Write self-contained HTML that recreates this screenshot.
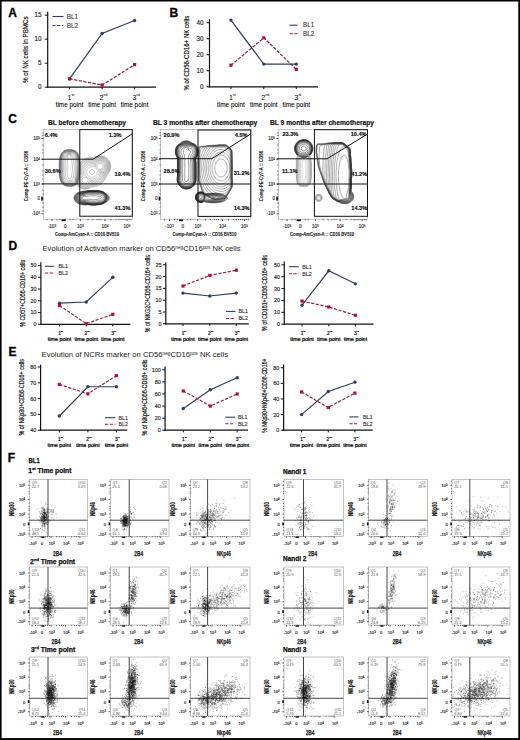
<!DOCTYPE html><html><head><meta charset="utf-8"><style>html,body{margin:0;padding:0;background:#fff;width:520px;height:740px;overflow:hidden}svg{display:block;font-family:"Liberation Sans",sans-serif}</style></head><body>
<svg width="520" height="740" viewBox="0 0 520 740">
<rect width="520" height="740" fill="#fff"/>
<text x="8.2" y="16.5" font-size="12" stroke="#000" stroke-width="0.3" font-weight="bold">A</text>
<text x="169.6" y="17.1" font-size="12" stroke="#000" stroke-width="0.3" font-weight="bold">B</text>
<text x="8.2" y="123.3" font-size="12" stroke="#000" stroke-width="0.3" font-weight="bold">C</text>
<text x="8.6" y="249.6" font-size="12" stroke="#000" stroke-width="0.3" font-weight="bold">D</text>
<text x="8.6" y="355.6" font-size="12" stroke="#000" stroke-width="0.3" font-weight="bold">E</text>
<text x="7.8" y="462.2" font-size="12" stroke="#000" stroke-width="0.3" font-weight="bold">F</text>
<line x1="47.7" y1="11.8" x2="47.7" y2="87.8" stroke="#111" stroke-width="1.2"/>
<line x1="47.1" y1="87.2" x2="156" y2="87.2" stroke="#111" stroke-width="1.2"/>
<line x1="44.8" y1="15.2" x2="47.7" y2="15.2" stroke="#111" stroke-width="1"/>
<text x="41.4" y="17.47" font-size="6.3" stroke="#222" stroke-width="0.15" text-anchor="end" fill="#222">15</text>
<line x1="44.8" y1="39.2" x2="47.7" y2="39.2" stroke="#111" stroke-width="1"/>
<text x="41.4" y="41.47" font-size="6.3" stroke="#222" stroke-width="0.15" text-anchor="end" fill="#222">10</text>
<line x1="44.8" y1="63.2" x2="47.7" y2="63.2" stroke="#111" stroke-width="1"/>
<text x="41.4" y="65.47" font-size="6.3" stroke="#222" stroke-width="0.15" text-anchor="end" fill="#222">5</text>
<line x1="44.8" y1="87.2" x2="47.7" y2="87.2" stroke="#111" stroke-width="1"/>
<text x="41.4" y="89.47" font-size="6.3" stroke="#222" stroke-width="0.15" text-anchor="end" fill="#222">0</text>
<line x1="69.5" y1="87.2" x2="69.5" y2="89.4" stroke="#111" stroke-width="1"/>
<text x="70.94" y="99.5" font-size="7.2" stroke="#111" stroke-width="0.05" text-anchor="middle" fill="#111">1<tspan font-size="3.6" baseline-shift="3.96">st</tspan></text>
<text x="69.5" y="106.5" font-size="7" stroke="#000" stroke-width="0.08" text-anchor="middle" textLength="27.7" lengthAdjust="spacingAndGlyphs">time point</text>
<line x1="102.1" y1="87.2" x2="102.1" y2="89.4" stroke="#111" stroke-width="1"/>
<text x="103.54" y="99.5" font-size="7.2" stroke="#111" stroke-width="0.05" text-anchor="middle" fill="#111">2<tspan font-size="3.6" baseline-shift="3.96">nd</tspan></text>
<text x="102.1" y="106.5" font-size="7" stroke="#000" stroke-width="0.08" text-anchor="middle" textLength="27.7" lengthAdjust="spacingAndGlyphs">time point</text>
<line x1="134.6" y1="87.2" x2="134.6" y2="89.4" stroke="#111" stroke-width="1"/>
<text x="136.04" y="99.5" font-size="7.2" stroke="#111" stroke-width="0.05" text-anchor="middle" fill="#111">3<tspan font-size="3.6" baseline-shift="3.96">rd</tspan></text>
<text x="134.6" y="106.5" font-size="7" stroke="#000" stroke-width="0.08" text-anchor="middle" textLength="27.7" lengthAdjust="spacingAndGlyphs">time point</text>
<polyline points="69.5,78.8 102.1,85.04 134.6,64.64" fill="none" stroke="#9a1c42" stroke-width="1.25" stroke-dasharray="3.2 1.5"/>
<polyline points="69.5,78.8 102.1,33.44 134.6,20.48" fill="none" stroke="#2e3d60" stroke-width="1.25"/>
<circle cx="69.5" cy="78.8" r="1.7" fill="#2e3d60"/>
<circle cx="102.1" cy="33.44" r="1.7" fill="#2e3d60"/>
<circle cx="134.6" cy="20.48" r="1.7" fill="#2e3d60"/>
<rect x="67.9" y="77.2" width="3.2" height="3.2" fill="#a8143e"/>
<rect x="100.5" y="83.44" width="3.2" height="3.2" fill="#a8143e"/>
<rect x="133" y="63.04" width="3.2" height="3.2" fill="#a8143e"/>
<line x1="52.5" y1="16.5" x2="63.5" y2="16.5" stroke="#2e3d60" stroke-width="1.1"/>
<line x1="52.5" y1="25.5" x2="63.5" y2="25.5" stroke="#9a1c42" stroke-width="1.1" stroke-dasharray="3.2 1.5"/>
<text x="66.7" y="18.77" font-size="6.3" stroke="#333" stroke-width="0.12" fill="#333">BL1</text>
<text x="66.7" y="27.77" font-size="6.3" stroke="#333" stroke-width="0.12" fill="#333">BL2</text>
<text x="27.95" y="49.7" font-size="6.8" stroke="#111" stroke-width="0.18" text-anchor="middle" fill="#111" transform="rotate(-90 27.95 49.7)" textLength="66.7" lengthAdjust="spacingAndGlyphs">% of NK cells in PBMCs</text>
<line x1="209.5" y1="19.2" x2="209.5" y2="87.4" stroke="#111" stroke-width="1.2"/>
<line x1="208.9" y1="86.8" x2="318" y2="86.8" stroke="#111" stroke-width="1.2"/>
<line x1="206.6" y1="22.8" x2="209.5" y2="22.8" stroke="#111" stroke-width="1"/>
<text x="203.5" y="25.07" font-size="6.3" stroke="#222" stroke-width="0.15" text-anchor="end" fill="#222">40</text>
<line x1="206.6" y1="38.8" x2="209.5" y2="38.8" stroke="#111" stroke-width="1"/>
<text x="203.5" y="41.07" font-size="6.3" stroke="#222" stroke-width="0.15" text-anchor="end" fill="#222">30</text>
<line x1="206.6" y1="54.8" x2="209.5" y2="54.8" stroke="#111" stroke-width="1"/>
<text x="203.5" y="57.07" font-size="6.3" stroke="#222" stroke-width="0.15" text-anchor="end" fill="#222">20</text>
<line x1="206.6" y1="70.8" x2="209.5" y2="70.8" stroke="#111" stroke-width="1"/>
<text x="203.5" y="73.07" font-size="6.3" stroke="#222" stroke-width="0.15" text-anchor="end" fill="#222">10</text>
<line x1="206.6" y1="86.8" x2="209.5" y2="86.8" stroke="#111" stroke-width="1"/>
<text x="203.5" y="89.07" font-size="6.3" stroke="#222" stroke-width="0.15" text-anchor="end" fill="#222">0</text>
<line x1="230.9" y1="86.8" x2="230.9" y2="89" stroke="#111" stroke-width="1"/>
<text x="232.34" y="99.5" font-size="7.2" stroke="#111" stroke-width="0.05" text-anchor="middle" fill="#111">1<tspan font-size="3.6" baseline-shift="3.96">st</tspan></text>
<text x="230.9" y="106.5" font-size="7" stroke="#000" stroke-width="0.08" text-anchor="middle" textLength="27.7" lengthAdjust="spacingAndGlyphs">time point</text>
<line x1="263.8" y1="86.8" x2="263.8" y2="89" stroke="#111" stroke-width="1"/>
<text x="265.24" y="99.5" font-size="7.2" stroke="#111" stroke-width="0.05" text-anchor="middle" fill="#111">2<tspan font-size="3.6" baseline-shift="3.96">nd</tspan></text>
<text x="263.8" y="106.5" font-size="7" stroke="#000" stroke-width="0.08" text-anchor="middle" textLength="27.7" lengthAdjust="spacingAndGlyphs">time point</text>
<line x1="296.3" y1="86.8" x2="296.3" y2="89" stroke="#111" stroke-width="1"/>
<text x="297.74" y="99.5" font-size="7.2" stroke="#111" stroke-width="0.05" text-anchor="middle" fill="#111">3<tspan font-size="3.6" baseline-shift="3.96">rd</tspan></text>
<text x="296.3" y="106.5" font-size="7" stroke="#000" stroke-width="0.08" text-anchor="middle" textLength="27.7" lengthAdjust="spacingAndGlyphs">time point</text>
<polyline points="230.9,65.2 263.8,37.84 296.3,69.36" fill="none" stroke="#9a1c42" stroke-width="1.25" stroke-dasharray="3.2 1.5"/>
<polyline points="230.9,20.08 263.8,64.08 296.3,64.08" fill="none" stroke="#2e3d60" stroke-width="1.25"/>
<circle cx="230.9" cy="20.08" r="1.7" fill="#2e3d60"/>
<circle cx="263.8" cy="64.08" r="1.7" fill="#2e3d60"/>
<circle cx="296.3" cy="64.08" r="1.7" fill="#2e3d60"/>
<rect x="229.3" y="63.6" width="3.2" height="3.2" fill="#a8143e"/>
<rect x="262.2" y="36.24" width="3.2" height="3.2" fill="#a8143e"/>
<rect x="294.7" y="67.76" width="3.2" height="3.2" fill="#a8143e"/>
<line x1="289.5" y1="25.2" x2="297.5" y2="25.2" stroke="#2e3d60" stroke-width="1.1"/>
<line x1="289.5" y1="33.7" x2="297.5" y2="33.7" stroke="#9a1c42" stroke-width="1.1" stroke-dasharray="3.2 1.5"/>
<text x="303" y="27.47" font-size="6.3" stroke="#333" stroke-width="0.12" fill="#333">BL1</text>
<text x="303" y="35.97" font-size="6.3" stroke="#333" stroke-width="0.12" fill="#333">BL2</text>
<text x="188.65" y="53.1" font-size="6.8" stroke="#111" stroke-width="0.18" text-anchor="middle" fill="#111" transform="rotate(-90 188.65 53.1)" textLength="74.8" lengthAdjust="spacingAndGlyphs">% of CD56-CD16+ NK cells</text>
<text x="48" y="124.9" font-size="6.7" stroke="#111" stroke-width="0.18" font-weight="bold" fill="#111" textLength="78" lengthAdjust="spacingAndGlyphs">BL before chemotherapy</text>
<path d="M70.1 178.8 68.9 178.8 68.2 178.2 68.0 177.4 67.7 176.4 67.5 175.4 67.3 174.5 67.2 173.4 67.1 172.2 67.1 171.0 67.1 169.8 67.1 168.6 67.1 167.4 67.1 166.2 67.1 165.0 67.1 163.8 67.2 162.6 67.3 161.5 67.5 160.6 67.7 159.6 68.1 158.6 68.1 158.0 67.7 157.4 67.5 156.2 67.8 155.4 68.5 154.8 69.7 154.7 70.5 155.1 71.0 155.8 71.1 157.0 70.7 157.8 71.1 158.6 71.5 159.4 71.7 160.3 71.8 161.4 72.0 162.6 72.1 163.8 72.2 164.6 72.3 165.8 72.3 167.0 72.3 168.2 72.3 169.4 72.3 170.6 72.2 171.8 72.0 172.6 71.9 173.8 71.8 175.0 71.7 175.8 71.3 177.0 71.0 177.8 70.5 178.5zM70.9 180.3 69.7 180.4 68.5 180.3 67.7 180.1 66.9 179.6 66.4 179.0 66.1 178.2 65.8 177.0 65.6 176.2 65.4 175.0 65.2 174.2 65.1 173.0 65.1 171.8 65.1 170.6 65.1 169.4 65.1 168.2 65.1 167.0 65.1 165.8 65.1 164.6 65.1 163.4 65.2 162.2 65.3 161.3 65.5 160.2 65.7 159.3 66.0 158.2 66.2 157.4 66.6 156.6 66.9 155.5 67.3 154.8 68.1 154.2 68.9 153.9 70.1 154.0 70.9 154.4 71.4 155.0 71.9 155.8 72.5 156.6 72.9 157.2 73.3 158.2 73.5 159.0 73.7 160.1 73.8 161.0 73.9 162.2 74.1 163.4 74.2 164.2 74.3 165.4 74.3 166.6 74.3 167.8 74.3 169.0 74.3 170.2 74.2 171.4 74.1 172.3 74.0 173.4 73.9 174.6 73.7 175.8 73.6 176.6 73.3 177.8 73.0 178.6 72.5 179.4 72.1 179.8 71.2 180.2zM70.9 181.8 69.7 181.9 68.5 181.8 67.7 181.8 66.6 181.4 66.0 181.0 65.3 180.2 64.9 179.4 64.6 178.6 64.4 177.8 64.1 176.6 64.0 175.8 63.7 174.6 63.7 173.8 63.6 172.6 63.6 171.4 63.6 170.2 63.6 169.0 63.6 167.8 63.6 166.6 63.6 165.4 63.6 164.2 63.6 163.0 63.7 161.8 63.8 161.0 64.0 159.8 64.2 159.0 64.5 157.8 64.7 157.0 65.1 156.2 65.6 155.4 66.1 154.9 66.9 154.4 67.6 153.8 68.5 153.4 69.3 153.3 70.1 153.4 71.0 153.8 71.7 154.3 72.5 154.6 73.3 155.1 73.9 155.8 74.3 156.6 74.6 157.4 74.9 158.3 75.1 159.4 75.3 160.6 75.4 161.4 75.5 162.6 75.7 163.8 75.7 164.6 75.8 165.8 75.8 167.0 75.8 168.2 75.8 169.4 75.8 170.6 75.7 171.8 75.6 172.6 75.4 173.8 75.3 175.0 75.3 175.8 75.0 177.0 74.9 177.8 74.5 179.0 74.1 179.8 73.7 180.4 73.1 181.0 72.5 181.4 71.3 181.8zM72.5 182.7 71.3 182.9 70.1 183.0 68.9 183.0 67.7 182.9 66.5 182.6 65.7 182.2 65.1 181.8 64.5 181.1 64.1 180.4 63.7 179.4 63.4 178.6 63.2 177.8 63.0 176.6 62.8 175.8 62.6 174.6 62.5 173.4 62.5 172.2 62.5 171.0 62.5 169.8 62.5 168.6 62.5 167.4 62.5 166.2 62.5 165.0 62.5 163.8 62.5 162.6 62.6 161.4 62.8 160.2 63.0 159.4 63.2 158.2 63.4 157.4 63.7 156.6 64.1 155.6 64.5 154.9 65.1 154.2 65.7 153.8 66.5 153.4 67.7 153.1 68.5 152.9 69.7 152.8 70.6 153.0 71.7 153.1 72.7 153.4 73.5 153.8 74.1 154.3 74.7 155.0 75.2 155.8 75.6 156.6 75.8 157.4 76.1 158.6 76.3 159.4 76.4 160.6 76.5 161.6 76.6 162.6 76.8 163.8 76.9 165.0 76.9 166.2 76.9 167.4 76.9 168.6 76.9 169.8 76.9 171.0 76.8 172.2 76.6 173.4 76.5 174.4 76.4 175.4 76.3 176.6 76.1 177.4 75.8 178.6 75.6 179.4 75.2 180.2 74.7 181.0 74.1 181.7 73.5 182.2 72.7 182.6zM72.5 183.5 71.3 183.7 70.1 183.7 68.9 183.7 67.7 183.7 66.5 183.5 65.7 183.1 64.9 182.6 64.4 182.2 63.8 181.4 63.3 180.6 63.0 179.8 62.8 179.0 62.5 178.0 62.3 177.0 62.1 176.1 61.9 175.0 61.8 173.8 61.8 172.6 61.8 171.4 61.8 170.2 61.8 169.0 61.8 167.8 61.8 166.6 61.8 165.4 61.8 164.2 61.8 163.0 61.8 161.8 62.0 160.6 62.1 159.8 62.4 158.6 62.5 157.8 62.9 156.6 63.2 155.8 63.5 155.0 64.1 154.2 64.5 153.7 65.3 153.1 66.1 152.7 66.9 152.4 68.1 152.3 69.3 152.3 70.5 152.3 71.7 152.4 72.8 152.6 73.7 153.0 74.3 153.4 74.9 154.0 75.4 154.6 75.9 155.4 76.2 156.2 76.5 157.0 76.8 158.2 77.0 159.0 77.1 160.2 77.2 161.4 77.3 162.2 77.5 163.4 77.6 164.6 77.6 165.8 77.6 167.0 77.6 168.2 77.6 169.4 77.6 170.6 77.6 171.8 77.4 173.0 77.3 174.0 77.2 175.0 77.1 176.2 76.9 177.3 76.7 178.2 76.5 179.0 76.1 180.1 75.7 180.9 75.3 181.5 74.8 182.2 74.1 182.8 73.3 183.2 72.5 183.5zM70.5 184.2 69.3 184.2 68.3 184.2 67.3 184.1 66.1 183.9 65.3 183.5 64.5 183.0 64.1 182.6 63.4 181.8 63.0 181.0 62.6 180.2 62.3 179.4 62.1 178.6 61.8 177.4 61.7 176.6 61.4 175.4 61.3 174.2 61.3 173.4 61.3 172.2 61.3 171.0 61.3 169.8 61.3 168.6 61.3 167.4 61.3 166.2 61.3 165.0 61.3 163.8 61.3 162.6 61.3 161.8 61.4 160.6 61.7 159.4 61.8 158.6 62.1 157.4 62.3 156.6 62.6 155.8 63.0 155.0 63.4 154.2 64.1 153.4 64.5 153.0 65.3 152.5 66.1 152.1 67.3 151.9 68.3 151.8 69.3 151.8 70.5 151.8 71.3 151.8 72.5 152.0 73.3 152.2 74.1 152.6 74.9 153.2 75.5 153.8 76.0 154.6 76.5 155.4 76.8 156.2 77.1 157.0 77.3 158.0 77.5 159.0 77.7 160.2 77.7 161.0 77.8 162.2 78.0 163.4 78.1 164.6 78.1 165.4 78.1 166.6 78.1 167.8 78.1 169.0 78.1 170.2 78.1 171.2 78.1 172.2 77.9 173.4 77.7 174.6 77.7 175.4 77.6 176.6 77.3 177.8 77.2 178.6 76.9 179.5 76.5 180.5 76.1 181.3 75.7 181.9 75.1 182.6 74.5 183.1 73.7 183.6 72.9 183.9 71.7 184.2 70.7 184.2zM73.3 184.2 72.1 184.5 70.9 184.6 69.7 184.6 68.5 184.6 67.3 184.5 66.1 184.3 65.3 184.0 64.5 183.5 63.9 183.0 63.3 182.3 62.9 181.7 62.5 181.0 62.1 180.0 61.8 179.0 61.6 178.2 61.3 177.0 61.2 176.2 61.0 175.0 60.9 173.8 60.9 172.6 60.9 171.4 60.9 170.2 60.9 169.0 60.9 167.8 60.9 166.6 60.9 165.4 60.9 164.2 60.9 163.0 60.9 161.8 61.0 160.6 61.3 159.4 61.4 158.6 61.7 157.4 61.9 156.6 62.2 155.8 62.5 155.0 62.9 154.2 63.5 153.4 64.1 152.8 64.9 152.2 65.7 151.8 66.5 151.6 67.7 151.4 68.9 151.4 70.1 151.4 71.3 151.4 72.5 151.6 73.3 151.8 74.2 152.2 74.9 152.7 75.7 153.4 76.1 154.0 76.5 154.6 76.9 155.4 77.3 156.5 77.6 157.4 77.7 158.2 78.0 159.4 78.1 160.6 78.1 161.4 78.3 162.6 78.4 163.8 78.5 165.0 78.5 166.2 78.5 167.4 78.5 168.6 78.5 169.8 78.5 171.0 78.4 172.2 78.3 173.4 78.1 174.6 78.1 175.4 78.0 176.6 77.7 177.8 77.6 178.6 77.3 179.5 76.9 180.6 76.5 181.4 76.1 182.0 75.7 182.6 74.9 183.3 74.2 183.8 73.3 184.2zM72.9 184.7 71.7 184.9 70.5 184.9 69.3 184.9 68.1 184.9 66.9 184.8 66.0 184.6 65.1 184.2 64.4 183.8 63.7 183.2 63.1 182.6 62.6 181.8 62.2 181.0 61.8 180.2 61.6 179.4 61.3 178.3 61.1 177.4 60.9 176.4 60.7 175.4 60.6 174.2 60.6 173.0 60.6 171.8 60.6 170.6 60.6 169.4 60.6 168.2 60.6 167.0 60.6 165.8 60.6 164.6 60.6 163.4 60.6 162.2 60.7 161.0 60.9 159.8 61.0 159.0 61.3 157.8 61.5 157.0 61.7 156.2 62.1 155.2 62.5 154.3 62.9 153.7 63.5 153.0 64.1 152.4 64.9 151.9 65.7 151.5 66.5 151.3 67.7 151.1 68.9 151.1 70.1 151.1 71.3 151.1 72.5 151.2 73.3 151.4 74.1 151.8 74.9 152.3 75.7 153.0 76.1 153.5 76.6 154.2 77.0 155.0 77.4 155.8 77.7 156.7 78.0 157.8 78.1 158.6 78.3 159.8 78.4 161.0 78.5 161.9 78.7 163.0 78.8 164.2 78.8 165.4 78.8 166.6 78.8 167.8 78.8 169.0 78.8 170.2 78.8 171.4 78.7 172.6 78.5 173.8 78.4 174.6 78.4 175.8 78.2 177.0 78.1 177.8 77.8 179.0 77.5 179.8 77.2 180.6 76.8 181.4 76.4 182.2 75.7 183.0 75.3 183.4 74.5 184.0 73.7 184.4 72.9 184.7zM72.5 185.0 71.3 185.1 70.1 185.2 68.9 185.2 67.7 185.1 66.5 185.0 65.7 184.8 64.9 184.4 64.1 183.9 63.5 183.4 62.9 182.7 62.5 182.2 62.1 181.4 61.7 180.5 61.3 179.4 61.1 178.6 60.9 177.7 60.7 176.6 60.5 175.6 60.4 174.6 60.3 173.4 60.3 172.2 60.3 171.0 60.3 169.8 60.3 168.6 60.3 167.4 60.3 166.2 60.3 165.0 60.3 163.8 60.3 162.6 60.4 161.4 60.5 160.4 60.7 159.4 60.9 158.3 61.1 157.4 61.3 156.6 61.7 155.5 62.1 154.6 62.5 153.8 62.9 153.3 63.5 152.6 64.1 152.1 64.9 151.6 65.7 151.2 66.5 151.0 67.7 150.9 68.9 150.8 70.1 150.8 71.3 150.9 72.5 151.0 73.3 151.2 74.1 151.5 74.9 151.9 75.7 152.6 76.1 153.0 76.7 153.8 77.1 154.6 77.5 155.4 77.8 156.2 78.1 157.2 78.3 158.2 78.5 159.2 78.6 160.2 78.7 161.4 78.9 162.6 79.0 163.4 79.1 164.6 79.1 165.8 79.1 167.0 79.1 168.2 79.1 169.4 79.1 170.6 79.0 171.8 78.9 173.0 78.8 173.8 78.7 175.0 78.6 176.2 78.5 177.0 78.2 178.2 78.1 179.0 77.7 180.1 77.3 181.0 76.9 181.8 76.5 182.4 76.1 183.0 75.3 183.8 74.7 184.2 73.9 184.6 72.9 184.9zM73.3 185.1 72.1 185.3 70.9 185.4 69.7 185.4 68.5 185.4 67.3 185.3 66.1 185.2 65.3 184.9 64.5 184.5 63.7 183.9 63.2 183.4 62.5 182.6 62.1 182.0 61.7 181.1 61.3 180.2 61.1 179.4 60.9 178.6 60.6 177.4 60.4 176.6 60.2 175.4 60.1 174.2 60.1 173.0 60.1 171.8 60.1 170.6 60.1 169.4 60.1 168.2 60.1 167.0 60.1 165.8 60.1 164.6 60.1 163.4 60.1 162.2 60.2 161.0 60.4 159.8 60.5 159.0 60.8 157.8 61.0 157.0 61.3 155.9 61.6 155.0 62.0 154.2 62.5 153.4 62.9 152.9 63.6 152.2 64.1 151.8 64.9 151.3 65.7 151.0 66.9 150.7 68.1 150.6 69.3 150.6 70.5 150.6 71.7 150.7 72.9 150.8 73.7 151.1 74.5 151.4 75.3 151.9 76.0 152.6 76.5 153.2 76.9 153.8 77.4 154.6 77.8 155.4 78.1 156.3 78.4 157.4 78.6 158.2 78.8 159.4 78.9 160.6 78.9 161.4 79.1 162.6 79.2 163.8 79.3 165.0 79.3 166.2 79.3 167.4 79.3 168.6 79.3 169.8 79.3 171.0 79.2 172.2 79.1 173.4 78.9 174.6 78.9 175.4 78.8 176.6 78.6 177.8 78.4 178.6 78.1 179.7 77.8 180.6 77.4 181.4 76.9 182.2 76.5 182.8 76.0 183.4 75.3 184.1 74.5 184.6 73.7 184.9zM72.5 185.5 71.3 185.6 70.1 185.6 68.9 185.6 67.7 185.6 66.5 185.4 65.7 185.3 64.9 184.9 64.1 184.5 63.3 183.8 62.9 183.4 62.2 182.6 61.8 181.8 61.4 181.0 61.1 180.2 60.9 179.4 60.6 178.2 60.4 177.4 60.2 176.2 60.0 175.4 59.9 174.2 59.9 173.0 59.9 171.8 59.9 170.6 59.9 169.4 59.9 168.2 59.9 167.0 59.9 165.8 59.9 164.6 59.9 163.4 59.9 162.2 60.0 161.0 60.1 160.2 60.3 159.0 60.5 158.1 60.8 157.0 61.0 156.2 61.3 155.3 61.7 154.4 62.1 153.6 62.5 153.0 63.3 152.2 63.8 151.8 64.5 151.3 65.3 150.9 66.3 150.6 67.3 150.4 68.5 150.4 69.7 150.3 70.9 150.4 72.1 150.5 72.9 150.6 74.1 151.0 74.9 151.4 75.5 151.8 76.1 152.4 76.6 153.0 77.2 153.8 77.6 154.6 78.0 155.4 78.3 156.2 78.5 157.0 78.8 158.2 78.9 159.0 79.1 160.2 79.2 161.4 79.3 162.5 79.4 163.4 79.5 164.6 79.5 165.8 79.5 167.0 79.5 168.2 79.5 169.4 79.5 170.6 79.5 171.8 79.4 173.0 79.3 173.8 79.1 175.0 79.0 176.2 78.9 177.0 78.7 178.2 78.5 179.0 78.1 180.2 77.8 181.0 77.4 181.8 76.9 182.6 76.5 183.2 75.9 183.8 75.3 184.3 74.5 184.8 73.7 185.2 72.8 185.4zM73.3 185.5 72.1 185.7 70.9 185.8 69.7 185.8 68.5 185.8 67.3 185.7 66.1 185.6 65.3 185.3 64.5 184.9 63.7 184.4 63.0 183.8 62.5 183.2 62.0 182.6 61.6 181.8 61.2 181.0 60.9 180.1 60.6 179.0 60.4 178.2 60.1 177.0 60.0 176.2 59.8 175.0 59.7 173.8 59.7 172.6 59.7 171.4 59.7 170.2 59.7 169.0 59.7 167.8 59.7 166.6 59.7 165.4 59.7 164.2 59.7 163.0 59.8 161.8 59.8 160.6 60.0 159.4 60.2 158.6 60.5 157.4 60.7 156.6 60.9 155.8 61.3 154.8 61.7 154.0 62.1 153.3 62.6 152.6 63.3 151.9 64.0 151.4 64.7 151.0 65.6 150.6 66.5 150.4 67.7 150.2 68.5 150.1 69.7 150.1 70.5 150.2 71.7 150.3 72.9 150.4 73.7 150.6 74.5 151.0 75.3 151.4 76.1 152.1 76.6 152.6 77.2 153.4 77.6 154.2 78.0 155.0 78.4 155.8 78.6 156.6 78.9 157.8 79.0 158.6 79.2 159.8 79.3 161.0 79.4 161.8 79.6 163.0 79.6 164.2 79.7 165.4 79.7 166.6 79.7 167.8 79.7 169.0 79.7 170.2 79.7 171.4 79.6 172.6 79.5 173.8 79.3 174.8 79.2 175.8 79.1 177.0 78.9 178.0 78.7 179.0 78.5 179.8 78.1 180.8 77.7 181.6 77.3 182.4 76.9 183.0 76.2 183.8 75.7 184.3 74.9 184.8 74.1 185.2 73.3 185.5zM72.5 185.8 71.3 185.9 70.1 185.9 68.9 185.9 67.7 185.9 66.5 185.8 65.7 185.6 64.9 185.3 64.1 184.9 63.3 184.3 62.8 183.8 62.1 183.0 61.7 182.4 61.3 181.6 60.9 180.6 60.6 179.8 60.4 179.0 60.1 177.8 59.9 177.0 59.7 175.8 59.6 175.0 59.6 173.8 59.6 172.6 59.6 171.4 59.6 170.2 59.6 169.0 59.6 167.8 59.6 166.6 59.6 165.4 59.6 164.2 59.6 163.0 59.6 161.8 59.7 160.6 59.8 159.8 60.0 158.6 60.2 157.8 60.5 156.6 60.7 155.8 61.0 155.0 61.4 154.2 61.8 153.4 62.4 152.6 62.9 152.1 63.7 151.4 64.3 151.0 65.1 150.6 66.1 150.3 66.9 150.1 68.1 149.9 69.3 149.8 70.5 149.9 71.7 150.1 72.6 150.2 73.7 150.5 74.5 150.8 75.3 151.2 76.0 151.8 76.5 152.3 77.1 153.0 77.6 153.8 78.0 154.6 78.4 155.4 78.7 156.2 78.9 157.2 79.1 158.2 79.3 159.3 79.4 160.2 79.5 161.4 79.7 162.6 79.8 163.4 79.8 164.6 79.8 165.8 79.8 167.0 79.8 168.2 79.8 169.4 79.8 170.6 79.8 171.8 79.7 173.0 79.6 173.8 79.5 175.0 79.4 176.2 79.3 177.0 79.1 178.2 78.9 179.0 78.5 180.2 78.2 181.0 77.8 181.8 77.4 182.6 76.9 183.3 76.4 183.8 75.7 184.5 74.9 185.0 74.1 185.4 73.3 185.7 72.5 185.8zM73.3 185.8 72.1 186.0 70.9 186.1 69.7 186.1 68.5 186.1 67.3 186.1 66.1 185.9 65.3 185.7 64.5 185.3 63.7 184.8 63.0 184.2 62.5 183.7 61.9 183.0 61.4 182.2 61.0 181.4 60.7 180.6 60.5 179.8 60.1 178.6 59.9 177.8 59.7 176.6 59.6 175.8 59.4 174.6 59.4 173.4 59.4 172.2 59.4 171.0 59.4 169.8 59.4 168.6 59.4 167.4 59.4 166.2 59.4 165.0 59.4 163.8 59.4 162.6 59.4 161.4 59.6 160.2 59.7 159.4 59.9 158.2 60.1 157.4 60.5 156.2 60.7 155.4 61.0 154.6 61.4 153.8 61.9 153.0 62.5 152.3 63.0 151.8 63.7 151.2 64.5 150.7 65.3 150.3 66.1 150.1 67.3 149.8 68.1 149.7 69.3 149.6 70.5 149.7 71.3 149.8 72.5 150.0 73.3 150.2 74.5 150.6 75.2 151.0 75.8 151.4 76.5 152.0 77.0 152.6 77.5 153.4 78.0 154.2 78.4 155.0 78.7 155.8 78.9 156.6 79.2 157.8 79.4 158.6 79.5 159.8 79.6 161.0 79.7 161.8 79.9 163.0 80.0 164.2 80.0 165.4 80.0 166.6 80.0 167.8 80.0 169.0 80.0 170.2 80.0 171.4 79.9 172.6 79.8 173.8 79.7 174.6 79.6 175.8 79.4 177.0 79.3 177.8 79.0 179.0 78.8 179.8 78.5 180.7 78.1 181.6 77.7 182.3 77.3 183.0 76.7 183.8 76.1 184.4 75.3 184.9 74.5 185.4 73.7 185.7zM71.3 186.2 70.1 186.2 68.9 186.2 67.7 186.2 66.9 186.2 65.7 186.0 64.9 185.7 64.1 185.2 63.3 184.7 62.7 184.2 62.1 183.5 61.7 183.0 61.2 182.2 60.9 181.4 60.5 180.4 60.2 179.4 60.0 178.6 59.7 177.4 59.5 176.6 59.4 175.4 59.3 174.3 59.3 173.4 59.3 172.2 59.3 171.0 59.3 169.8 59.3 168.6 59.3 167.4 59.3 166.2 59.3 165.0 59.3 163.8 59.3 162.6 59.3 161.7 59.4 160.6 59.5 159.4 59.7 158.6 60.0 157.4 60.2 156.6 60.5 155.6 60.9 154.6 61.2 153.8 61.7 153.0 62.1 152.5 62.7 151.8 63.3 151.3 64.1 150.8 64.9 150.3 65.7 150.0 66.7 149.8 67.7 149.5 68.5 149.4 69.7 149.3 70.5 149.4 71.7 149.7 72.5 149.9 73.7 150.1 74.5 150.4 75.3 150.9 76.0 151.4 76.5 151.8 77.2 152.6 77.7 153.4 78.1 154.1 78.5 154.9 78.8 155.8 79.1 156.6 79.3 157.6 79.5 158.6 79.7 159.8 79.7 160.6 79.9 161.8 80.0 163.0 80.1 164.1 80.1 165.0 80.1 166.2 80.1 167.4 80.1 168.6 80.1 169.8 80.1 171.0 80.1 171.9 80.0 173.0 79.9 174.2 79.7 175.4 79.7 176.2 79.5 177.4 79.3 178.4 79.1 179.4 78.8 180.2 78.5 181.1 78.1 181.9 77.7 182.6 77.2 183.4 76.5 184.2 76.0 184.6 75.3 185.1 74.5 185.6 73.7 185.9 72.5 186.1 71.4 186.2z" fill="none" stroke="#666" stroke-width="0.42" stroke-linejoin="round"/>
<path d="M97.3 199.4 96.1 199.6 94.9 199.7 93.7 199.8 92.5 199.8 91.3 199.6 90.1 199.4 89.3 199.3 88.1 199.1 86.9 199.3 86.1 199.6 84.9 199.8 83.7 199.6 82.9 199.2 82.3 198.6 82.3 197.4 82.9 196.8 83.7 196.4 84.9 196.2 86.1 196.4 87.3 196.4 88.1 196.2 89.3 196.0 90.5 195.8 91.7 195.8 92.9 195.8 94.1 195.8 95.3 195.8 96.5 195.8 97.7 196.0 98.9 196.2 99.7 196.4 100.5 196.7 101.3 197.3 101.3 198.1 100.8 198.6 99.8 199.0 98.9 199.2 97.7 199.4zM96.1 201.0 94.9 201.2 93.7 201.2 92.5 201.2 91.3 201.1 90.5 201.0 89.3 200.8 88.1 200.6 87.3 200.5 86.1 200.4 84.9 200.5 83.7 200.4 82.9 200.1 82.1 199.7 81.3 199.0 81.0 198.2 81.3 197.0 81.7 196.6 82.5 196.0 83.3 195.7 84.5 195.5 85.7 195.4 86.5 195.1 87.3 194.9 88.5 194.6 89.3 194.5 90.5 194.4 91.7 194.4 92.9 194.4 94.1 194.4 95.3 194.4 96.5 194.4 97.7 194.5 98.5 194.6 99.7 194.9 100.5 195.1 101.4 195.4 102.1 195.8 102.9 196.5 103.2 197.4 103.1 198.6 102.5 199.3 101.8 199.8 100.9 200.2 100.1 200.5 99.3 200.6 98.1 200.8 96.9 200.9 96.1 201.0zM97.7 201.8 96.5 202.0 95.3 202.2 94.1 202.2 92.9 202.2 91.7 202.2 90.5 202.0 89.3 201.8 88.5 201.7 87.3 201.5 86.5 201.3 85.3 201.1 84.1 201.0 83.3 200.9 82.4 200.6 81.6 200.2 80.9 199.7 80.3 199.0 80.1 198.2 80.2 197.4 80.6 196.6 81.3 196.0 82.1 195.5 82.9 195.2 83.8 195.0 84.9 194.6 85.7 194.3 86.5 194.0 87.4 193.8 88.5 193.6 89.7 193.4 90.9 193.4 92.1 193.4 93.3 193.4 94.5 193.4 95.7 193.4 96.9 193.4 98.1 193.5 99.3 193.8 100.1 193.9 101.1 194.2 102.1 194.6 102.8 195.0 103.3 195.4 104.0 196.2 104.3 197.0 104.3 198.2 104.1 199.0 103.6 199.8 102.9 200.4 102.1 200.8 101.3 201.2 100.5 201.4 99.3 201.7 98.1 201.8zM96.9 202.6 95.7 202.8 94.5 202.8 93.3 202.8 92.1 202.8 90.9 202.7 90.0 202.6 88.9 202.4 87.7 202.3 86.9 202.1 85.8 201.8 84.9 201.6 83.7 201.5 82.9 201.3 81.9 201.0 81.1 200.6 80.5 200.2 79.8 199.4 79.4 198.6 79.4 197.4 79.8 196.6 80.5 195.8 81.1 195.4 81.9 195.0 82.9 194.7 83.7 194.5 84.5 194.1 85.3 193.7 86.2 193.4 87.3 193.2 88.1 193.0 89.3 192.8 90.5 192.8 91.7 192.8 92.9 192.8 94.1 192.8 95.3 192.8 96.5 192.8 97.7 192.8 98.9 193.0 99.7 193.2 100.8 193.4 101.7 193.7 102.5 194.0 103.3 194.5 103.9 195.0 104.5 195.8 104.9 196.6 105.0 197.4 104.9 198.6 104.6 199.4 104.1 200.2 103.7 200.6 102.9 201.2 102.1 201.6 101.3 201.9 100.1 202.2 99.3 202.3 98.1 202.4 97.0 202.6zM96.9 203.1 95.7 203.2 94.5 203.3 93.3 203.3 92.1 203.3 90.9 203.2 89.8 203.0 88.9 202.9 87.7 202.7 86.9 202.6 85.7 202.2 84.9 202.0 83.7 201.9 82.9 201.8 81.7 201.4 80.9 201.0 80.2 200.6 79.7 200.2 79.1 199.4 78.7 198.6 78.7 197.4 79.1 196.6 79.7 195.8 80.2 195.4 80.9 195.0 81.7 194.6 82.9 194.2 83.7 194.1 84.5 193.6 85.3 193.2 86.1 193.0 87.3 192.7 88.1 192.5 89.3 192.4 90.5 192.3 91.7 192.3 92.9 192.3 94.1 192.3 95.3 192.3 96.5 192.3 97.7 192.4 98.9 192.5 99.7 192.7 100.9 193.0 101.7 193.2 102.5 193.5 103.3 194.0 104.1 194.6 104.5 195.0 105.0 195.8 105.3 196.6 105.5 197.8 105.3 199.0 105.0 199.8 104.5 200.5 104.0 201.0 103.3 201.5 102.5 201.9 101.7 202.2 100.5 202.6 99.7 202.7 98.5 202.9 97.3 203.0zM96.5 203.5 95.3 203.6 94.1 203.6 92.9 203.6 91.7 203.6 90.5 203.5 89.7 203.3 88.5 203.2 87.3 203.0 86.5 202.8 85.7 202.6 84.5 202.4 83.3 202.2 82.5 202.1 81.6 201.8 80.6 201.4 79.9 201.0 79.3 200.5 78.7 199.8 78.2 199.0 78.1 198.2 78.1 197.4 78.5 196.5 79.0 195.8 79.7 195.2 80.5 194.7 81.3 194.3 82.1 194.0 83.1 193.8 84.1 193.4 84.9 193.0 85.7 192.7 86.5 192.5 87.7 192.3 88.5 192.1 89.7 192.0 90.9 192.0 92.1 192.0 93.3 192.0 94.5 192.0 95.7 192.0 96.9 192.0 98.1 192.1 98.9 192.2 100.1 192.4 100.9 192.6 102.1 193.0 102.9 193.4 103.6 193.8 104.2 194.2 104.9 194.9 105.3 195.6 105.7 196.6 105.8 197.4 105.8 198.6 105.5 199.4 105.1 200.2 104.5 201.0 104.0 201.4 103.3 201.8 102.5 202.2 101.6 202.6 100.5 202.9 99.7 203.1 98.5 203.2 97.3 203.3 96.5 203.5zM95.7 203.8 94.5 203.8 93.3 203.8 92.1 203.8 91.2 203.8 90.1 203.7 88.9 203.5 88.1 203.4 86.9 203.2 86.1 203.0 84.9 202.7 83.7 202.7 82.9 202.5 81.7 202.2 80.9 202.0 80.1 201.6 79.3 201.1 78.7 200.6 78.1 199.9 77.7 199.1 77.5 198.2 77.7 197.0 78.1 196.2 78.5 195.6 79.2 195.0 79.8 194.6 80.6 194.2 81.6 193.8 82.5 193.5 83.3 193.4 84.3 193.0 85.3 192.6 86.1 192.3 86.9 192.2 88.1 191.9 89.2 191.8 90.1 191.8 91.3 191.8 92.5 191.8 93.7 191.8 94.9 191.8 96.1 191.8 97.3 191.8 98.1 191.8 99.3 192.0 100.2 192.2 101.3 192.4 102.1 192.7 102.9 193.1 103.7 193.5 104.5 194.1 105.0 194.6 105.5 195.4 105.8 196.2 106.1 197.4 106.0 198.6 105.7 199.6 105.3 200.4 104.9 201.0 104.1 201.7 103.3 202.1 102.5 202.5 101.7 202.9 100.9 203.1 99.7 203.3 98.9 203.4 97.7 203.5 96.5 203.7 95.7 203.8zM97.3 203.8 96.1 204.0 94.9 204.1 93.7 204.1 92.5 204.1 91.3 204.0 90.1 203.9 89.3 203.7 88.1 203.6 86.9 203.4 86.1 203.2 84.9 203.1 84.0 203.0 82.9 202.9 81.7 202.6 80.9 202.3 80.1 202.0 79.3 201.6 78.5 201.0 78.1 200.6 77.5 199.8 77.1 199.0 77.0 197.8 77.3 196.6 77.7 195.9 78.1 195.4 78.9 194.7 79.7 194.2 80.5 193.8 81.3 193.5 82.1 193.3 83.3 193.1 84.1 192.8 84.9 192.5 85.8 192.2 86.9 191.9 87.7 191.8 88.9 191.6 90.1 191.5 91.3 191.5 92.5 191.5 93.7 191.5 94.9 191.5 96.1 191.5 97.3 191.5 98.5 191.6 99.3 191.8 100.5 192.0 101.3 192.2 102.4 192.6 103.2 193.0 103.9 193.4 104.5 193.8 105.3 194.6 105.7 195.3 106.1 196.2 106.3 197.0 106.3 198.2 106.1 199.2 105.7 200.1 105.3 200.8 104.8 201.4 104.1 201.9 103.3 202.4 102.5 202.8 101.7 203.1 100.5 203.4 99.7 203.6 98.5 203.7 97.3 203.8zM95.7 204.2 94.5 204.2 93.3 204.2 92.1 204.2 91.0 204.2 90.1 204.1 88.9 203.9 88.1 203.8 86.9 203.6 86.1 203.4 84.9 203.4 83.7 203.3 82.5 203.1 81.7 202.9 80.7 202.6 79.7 202.2 79.0 201.8 78.4 201.4 77.7 200.8 77.2 200.2 76.8 199.4 76.5 198.2 76.5 197.8 76.8 196.6 77.2 195.8 77.7 195.2 78.4 194.6 79.0 194.2 79.7 193.8 80.7 193.4 81.7 193.1 82.5 192.9 83.7 192.7 84.5 192.4 85.3 192.1 86.5 191.8 87.3 191.7 88.5 191.4 89.3 191.4 90.5 191.4 91.7 191.4 92.9 191.4 94.1 191.4 95.3 191.4 96.5 191.4 97.7 191.4 98.5 191.4 99.7 191.7 100.5 191.8 101.7 192.1 102.5 192.4 103.3 192.8 104.1 193.3 104.8 193.8 105.3 194.4 105.8 195.0 106.1 195.8 106.5 197.0 106.5 197.8 106.5 198.6 106.1 199.7 105.7 200.5 105.3 201.1 104.6 201.8 104.0 202.2 103.3 202.6 102.4 203.0 101.3 203.4 100.5 203.6 99.3 203.8 98.5 203.9 97.3 204.0 96.1 204.2zM96.9 204.3 95.7 204.4 94.5 204.4 93.3 204.4 92.1 204.4 90.9 204.4 89.8 204.2 88.9 204.1 87.7 204.0 86.9 203.8 85.7 203.6 84.5 203.6 83.3 203.6 82.4 203.4 81.3 203.2 80.5 202.9 79.7 202.6 78.9 202.1 78.1 201.6 77.4 201.0 76.9 200.4 76.5 199.8 76.1 198.7 76.0 197.8 76.2 197.0 76.5 196.2 77.0 195.4 77.7 194.7 78.4 194.2 79.0 193.8 79.8 193.4 80.9 193.0 81.7 192.7 82.5 192.6 83.7 192.4 84.7 192.2 85.7 191.8 86.5 191.6 87.7 191.4 88.5 191.3 89.7 191.2 90.9 191.2 92.1 191.2 93.3 191.2 94.5 191.2 95.7 191.2 96.9 191.2 98.1 191.2 99.2 191.4 100.1 191.6 101.1 191.8 102.1 192.1 102.9 192.4 103.7 192.8 104.5 193.4 105.0 193.8 105.7 194.6 106.1 195.3 106.5 196.2 106.8 197.0 106.9 198.2 106.5 199.4 106.1 200.2 105.7 200.9 105.3 201.4 104.5 202.1 103.7 202.6 102.9 203.0 102.1 203.3 101.3 203.6 100.4 203.8 99.3 204.0 98.1 204.1 97.2 204.2zM98.1 204.2 96.9 204.4 95.7 204.6 94.5 204.6 93.3 204.6 92.1 204.6 90.9 204.5 89.7 204.4 88.9 204.2 87.7 204.1 86.5 203.9 85.3 203.9 84.1 203.9 83.2 203.8 82.1 203.6 81.2 203.4 80.1 203.1 79.3 202.7 78.5 202.3 77.8 201.8 77.3 201.4 76.5 200.6 76.1 199.9 75.7 199.0 75.6 198.2 75.7 197.1 76.0 196.2 76.5 195.5 76.9 195.0 77.7 194.3 78.4 193.8 79.1 193.4 80.0 193.0 80.9 192.7 81.7 192.4 82.9 192.2 83.7 192.1 84.9 191.9 85.7 191.7 86.9 191.4 87.7 191.2 88.9 191.1 90.1 191.0 91.3 191.0 92.5 191.0 93.7 191.0 94.9 191.0 96.1 191.0 97.3 191.0 98.5 191.1 99.7 191.3 100.5 191.5 101.7 191.8 102.5 192.1 103.3 192.4 104.1 192.9 104.8 193.4 105.3 193.9 105.9 194.6 106.4 195.4 106.8 196.2 107.2 197.0 107.4 197.8 107.3 198.8 106.9 199.6 106.5 200.2 105.9 201.0 105.3 201.7 104.7 202.2 104.0 202.6 103.2 203.0 102.3 203.4 101.3 203.7 100.5 204.0 99.3 204.1 98.2 204.2zM96.5 204.6 95.3 204.7 94.1 204.7 92.9 204.7 91.7 204.7 90.5 204.6 89.7 204.5 88.5 204.3 87.5 204.2 86.5 204.1 85.3 204.2 84.1 204.2 82.9 204.1 81.7 203.8 80.9 203.6 80.1 203.4 79.2 203.0 78.4 202.6 77.7 202.1 76.9 201.5 76.4 201.0 75.8 200.2 75.4 199.4 75.2 198.6 75.2 197.4 75.4 196.6 75.8 195.8 76.4 195.0 76.9 194.5 77.7 193.9 78.4 193.4 79.2 193.0 80.1 192.6 80.9 192.4 81.7 192.2 82.9 191.9 84.1 191.8 84.9 191.8 86.1 191.4 86.9 191.2 88.1 191.0 88.9 190.9 90.1 190.9 91.3 190.9 92.5 190.9 93.7 190.9 94.9 190.9 96.1 190.9 97.3 190.9 98.5 191.0 99.3 191.1 100.5 191.3 101.3 191.5 102.1 191.8 103.1 192.2 103.9 192.6 104.5 193.0 105.3 193.6 105.8 194.2 106.4 195.0 106.9 195.7 107.3 196.2 107.7 197.0 107.9 198.2 107.7 199.1 107.3 199.8 106.6 200.6 106.1 201.0 105.4 201.8 104.9 202.2 104.1 202.7 103.3 203.2 102.5 203.5 101.6 203.8 100.5 204.1 99.7 204.2 98.5 204.3 97.3 204.5 96.5 204.6zM97.3 204.6 96.1 204.8 94.9 204.9 93.7 204.9 92.5 204.9 91.3 204.9 90.1 204.7 89.3 204.6 88.1 204.4 86.9 204.3 85.7 204.4 84.5 204.4 83.3 204.4 82.3 204.2 81.3 204.0 80.5 203.8 79.4 203.4 78.6 203.0 77.8 202.6 77.3 202.2 76.5 201.6 75.9 201.0 75.4 200.2 75.0 199.4 74.8 198.6 74.8 197.4 75.0 196.6 75.4 195.8 75.9 195.0 76.5 194.4 77.3 193.8 77.8 193.4 78.6 193.0 79.4 192.6 80.5 192.2 81.3 192.0 82.3 191.8 83.3 191.6 84.5 191.6 85.7 191.4 86.5 191.2 87.6 191.0 88.5 190.8 89.7 190.7 90.9 190.7 92.1 190.7 93.3 190.7 94.5 190.7 95.7 190.7 96.9 190.7 98.1 190.8 99.3 191.0 100.1 191.1 101.3 191.4 102.1 191.6 102.9 191.9 103.7 192.3 104.5 192.8 105.2 193.4 105.7 193.9 106.3 194.6 106.9 195.2 107.5 195.8 108.0 196.6 108.3 197.4 108.3 198.6 108.0 199.4 107.5 200.2 106.9 200.8 106.1 201.4 105.6 201.8 104.9 202.4 104.1 202.9 103.3 203.3 102.5 203.7 101.7 203.9 100.6 204.2 99.7 204.4 98.5 204.5 97.4 204.6zM98.1 204.6 96.9 204.9 95.7 205.0 94.5 205.0 93.3 205.0 92.1 205.0 90.9 204.9 89.7 204.8 88.8 204.6 87.7 204.5 86.6 204.6 85.7 204.7 84.5 204.7 83.5 204.6 82.5 204.5 81.3 204.3 80.5 204.1 79.7 203.8 78.8 203.4 78.0 203.0 77.3 202.6 76.5 202.0 75.9 201.4 75.3 200.7 74.9 200.1 74.5 199.0 74.4 198.2 74.5 197.0 74.8 196.2 75.2 195.4 75.7 194.8 76.3 194.2 76.9 193.7 77.7 193.1 78.5 192.7 79.3 192.4 80.1 192.1 81.1 191.8 82.1 191.6 83.3 191.4 84.1 191.3 85.3 191.3 86.5 191.1 87.3 190.9 88.5 190.7 89.7 190.6 90.9 190.6 92.1 190.6 93.3 190.6 94.5 190.6 95.7 190.6 96.9 190.6 98.1 190.7 99.3 190.8 100.1 191.0 101.3 191.2 102.1 191.5 102.9 191.8 103.7 192.2 104.5 192.7 105.3 193.3 105.8 193.8 106.5 194.5 107.2 195.0 107.7 195.5 108.3 196.2 108.7 197.0 108.8 198.2 108.5 199.4 108.1 200.1 107.6 200.6 106.9 201.3 106.1 201.8 105.3 202.2 104.8 202.6 104.1 203.0 103.3 203.4 102.4 203.8 101.3 204.2 100.5 204.4 99.3 204.5 98.2 204.6zM96.5 205.0 95.3 205.1 94.1 205.1 92.9 205.1 91.7 205.1 90.5 205.0 89.7 204.9 88.5 204.7 87.3 204.8 86.1 204.9 84.9 204.9 83.7 204.9 82.5 204.7 81.7 204.6 80.5 204.3 79.7 204.1 78.9 203.8 78.1 203.4 77.3 202.9 76.5 202.4 75.8 201.8 75.3 201.3 74.8 200.6 74.4 199.8 74.1 198.9 74.0 197.8 74.1 197.0 74.5 196.0 74.9 195.3 75.4 194.6 76.1 193.9 76.8 193.4 77.4 193.0 78.1 192.6 79.0 192.2 80.1 191.8 80.9 191.6 81.8 191.4 82.9 191.2 84.1 191.1 85.3 191.1 86.3 191.0 87.3 190.8 88.5 190.6 89.3 190.5 90.5 190.5 91.7 190.5 92.9 190.5 94.1 190.5 95.3 190.5 96.5 190.5 97.7 190.5 98.5 190.6 99.7 190.8 100.7 191.0 101.7 191.2 102.5 191.5 103.3 191.8 104.1 192.3 104.9 192.8 105.6 193.4 106.1 193.9 106.9 194.4 107.7 195.0 108.1 195.4 108.7 196.2 109.1 197.0 109.3 198.2 109.0 199.4 108.5 200.1 108.1 200.6 107.3 201.3 106.6 201.8 106.0 202.2 105.2 202.6 104.4 203.0 103.6 203.4 102.8 203.8 101.7 204.2 100.9 204.4 99.7 204.6 98.9 204.7 97.7 204.8 96.5 205.0z" fill="none" stroke="#222" stroke-width="0.45" stroke-linejoin="round"/>
<path d="M100.9 169.5 99.7 169.6 98.9 169.4 98.1 169.0 97.4 168.2 97.0 167.4 96.9 166.6 97.0 165.8 97.3 165.0 97.9 164.2 98.5 163.8 99.7 163.4 100.1 163.4 101.3 163.7 102.1 164.2 102.5 164.7 102.9 165.4 103.1 166.6 102.9 167.6 102.5 168.3 101.8 169.0 101.1 169.4zM101.3 170.7 100.1 170.9 98.9 170.8 98.1 170.5 97.3 170.0 96.7 169.4 96.1 168.6 95.8 167.8 95.6 167.0 95.7 165.8 95.9 165.0 96.3 164.2 96.9 163.4 97.4 163.0 98.1 162.5 99.1 162.2 100.1 162.1 100.9 162.2 102.0 162.6 102.6 163.0 103.3 163.6 103.7 164.2 104.1 165.0 104.4 166.2 104.3 167.4 104.0 168.2 103.6 169.0 102.9 169.8 102.4 170.2 101.6 170.6zM93.3 174.2 92.1 174.6 90.9 174.3 90.2 173.8 89.7 173.1 89.4 172.2 89.6 171.0 90.1 170.3 90.7 169.8 91.7 169.5 92.9 169.6 93.7 170.1 94.1 170.6 94.5 171.4 94.5 172.6 94.1 173.4 93.7 173.9zM93.7 177.0 92.5 177.3 91.3 177.3 90.2 177.0 89.3 176.6 88.7 176.2 88.1 175.6 87.6 175.0 87.2 174.2 86.9 173.4 86.7 172.2 86.8 171.0 87.0 170.2 87.4 169.4 87.9 168.6 88.5 168.0 89.3 167.4 90.1 167.0 90.9 166.8 92.1 166.7 93.3 166.8 94.1 167.1 94.6 166.6 94.7 165.4 95.0 164.6 95.4 163.8 95.9 163.0 96.5 162.4 97.3 161.9 98.1 161.5 98.9 161.2 100.1 161.1 101.3 161.3 102.1 161.5 102.9 162.0 103.7 162.6 104.1 163.0 104.7 163.8 105.0 164.6 105.3 165.6 105.4 166.6 105.3 167.4 105.0 168.6 104.5 169.4 104.1 170.0 103.5 170.6 102.9 171.0 102.1 171.5 100.9 171.8 100.1 171.9 99.1 171.8 98.1 171.5 97.3 171.4 97.3 171.8 97.3 172.6 97.0 173.8 96.6 174.6 96.1 175.4 95.7 175.8 94.9 176.5 94.1 176.9zM92.9 179.0 91.7 179.1 90.9 179.0 89.7 178.7 88.9 178.4 88.1 177.9 87.4 177.4 86.9 176.9 86.3 176.2 85.8 175.4 85.4 174.6 85.2 173.8 85.0 172.6 85.0 171.4 85.2 170.2 85.4 169.4 85.8 168.6 86.3 167.8 86.9 167.1 87.4 166.6 88.1 166.1 88.9 165.6 89.7 165.3 90.9 165.0 91.7 164.9 92.9 165.0 93.7 165.1 94.1 164.6 94.5 163.6 94.9 163.0 95.5 162.2 96.1 161.7 96.9 161.1 97.7 160.7 98.5 160.5 99.7 160.3 100.9 160.4 101.9 160.6 102.9 161.0 103.5 161.4 104.1 161.8 104.8 162.6 105.3 163.3 105.7 164.0 106.0 165.0 106.2 165.8 106.2 167.0 106.1 167.8 105.7 169.0 105.3 169.7 104.9 170.3 104.3 171.0 103.7 171.5 102.9 172.0 102.1 172.3 101.1 172.6 100.1 172.7 99.0 173.0 98.8 173.8 98.5 174.8 98.1 175.6 97.7 176.2 97.0 177.0 96.5 177.4 95.7 178.0 94.9 178.4 94.1 178.7 93.0 179.0zM85.3 183.0 84.5 183.0 83.4 182.6 82.9 182.2 82.3 181.4 82.0 180.6 82.0 179.4 82.3 178.6 82.9 177.8 83.4 177.4 84.5 177.0 85.3 177.0 86.1 177.2 86.9 177.6 87.4 178.2 87.9 179.0 88.0 180.2 87.7 181.4 87.3 182.0 86.6 182.6 85.7 183.0zM86.1 184.2 84.9 184.3 83.9 184.2 82.9 183.8 82.3 183.4 81.7 182.8 81.3 182.2 80.9 181.4 80.7 180.2 80.8 179.0 81.0 178.2 81.5 177.4 82.1 176.8 82.9 176.2 83.7 175.9 84.2 175.4 83.9 174.6 83.7 173.6 83.6 172.6 83.6 171.4 83.7 170.4 83.9 169.4 84.2 168.6 84.7 167.8 85.2 167.0 85.7 166.3 86.2 165.8 86.9 165.2 87.7 164.7 88.5 164.3 89.3 164.0 90.1 163.8 91.3 163.6 92.5 163.5 93.7 163.6 94.1 162.8 94.6 162.2 95.3 161.4 95.8 161.0 96.5 160.5 97.3 160.1 98.2 159.8 99.3 159.6 100.5 159.6 101.7 159.8 102.5 160.0 103.3 160.4 104.1 160.9 104.7 161.4 105.3 162.0 105.7 162.6 106.2 163.4 106.6 164.2 106.9 165.4 106.9 166.2 106.9 167.2 106.7 168.2 106.5 169.0 106.1 169.8 105.6 170.6 104.9 171.4 104.5 171.8 103.7 172.4 102.9 172.8 102.1 173.1 100.9 173.4 100.3 173.8 100.1 174.6 99.7 175.5 99.3 176.3 98.8 177.0 98.2 177.8 97.7 178.3 96.9 178.9 96.1 179.4 95.3 179.8 94.5 180.1 93.7 180.3 92.5 180.5 91.3 180.4 90.1 180.2 89.5 180.2 89.2 181.0 88.9 181.9 88.5 182.6 87.7 183.4 87.1 183.8 86.1 184.2zM86.5 185.1 85.3 185.3 84.1 185.3 83.1 185.0 82.3 184.6 81.7 184.2 80.9 183.4 80.5 182.9 80.1 182.1 79.8 181.0 79.7 180.2 79.7 179.4 80.0 178.2 80.3 177.4 80.9 176.6 81.3 176.2 82.1 175.5 82.8 175.0 82.5 173.8 82.4 173.0 82.3 171.8 82.4 170.6 82.6 169.8 82.9 168.8 83.3 167.8 83.7 167.1 84.1 166.4 84.6 165.8 85.3 165.0 85.8 164.6 86.5 164.1 87.3 163.6 88.1 163.2 88.9 162.8 89.8 162.6 90.9 162.4 92.1 162.3 93.3 162.4 94.0 161.8 94.5 161.2 95.2 160.6 95.7 160.2 96.5 159.7 97.3 159.4 98.5 159.0 99.3 158.9 100.5 158.9 101.3 159.0 102.5 159.3 103.3 159.6 104.1 160.1 104.8 160.6 105.3 161.0 106.0 161.8 106.5 162.6 106.9 163.3 107.2 164.2 107.5 165.0 107.6 166.2 107.6 167.4 107.3 168.6 107.0 169.4 106.6 170.2 106.1 171.0 105.7 171.5 105.0 172.2 104.5 172.6 103.7 173.1 102.9 173.5 102.1 173.8 101.3 174.6 101.0 175.4 100.7 176.2 100.3 177.0 99.7 177.8 99.3 178.3 98.7 179.0 98.1 179.5 97.3 180.1 96.5 180.5 95.7 180.9 94.9 181.2 94.1 181.4 92.9 181.6 91.7 181.7 90.5 181.5 89.9 182.2 89.4 183.0 88.9 183.6 88.3 184.2 87.7 184.6 86.9 185.0zM86.9 185.9 85.7 186.1 84.5 186.2 83.3 185.9 82.5 185.6 81.7 185.2 80.9 184.6 80.5 184.2 79.8 183.4 79.4 182.6 79.1 181.8 78.9 180.9 78.8 179.8 78.9 179.0 79.2 177.8 79.6 177.0 80.1 176.2 80.5 175.8 81.3 175.1 81.5 174.2 81.3 173.0 81.3 172.2 81.3 171.3 81.4 170.2 81.7 169.0 82.0 168.2 82.3 167.4 82.7 166.6 83.3 165.8 83.7 165.2 84.2 164.6 84.9 164.0 85.6 163.4 86.2 163.0 86.9 162.6 87.7 162.2 88.7 161.8 89.7 161.5 90.5 161.4 91.7 161.3 92.9 161.3 93.9 161.0 94.5 160.4 95.2 159.8 95.9 159.4 96.7 159.0 97.7 158.6 98.5 158.4 99.7 158.3 100.9 158.3 102.1 158.6 102.9 158.8 103.7 159.2 104.5 159.6 105.3 160.2 105.7 160.6 106.4 161.4 106.9 162.0 107.3 162.7 107.7 163.6 108.0 164.6 108.1 165.4 108.2 166.6 108.1 167.8 107.9 168.6 107.7 169.4 107.3 170.3 106.9 171.0 106.3 171.8 105.7 172.4 105.0 173.0 104.5 173.4 103.7 173.8 102.9 174.2 102.3 175.0 102.0 175.8 101.7 176.6 101.3 177.4 100.8 178.2 100.1 179.0 99.7 179.5 98.9 180.2 98.4 180.6 97.7 181.1 96.9 181.5 96.1 181.9 95.3 182.2 94.1 182.5 93.3 182.6 92.1 182.7 90.9 182.7 90.2 183.4 89.7 184.0 89.1 184.6 88.5 185.1 87.7 185.6 86.9 185.9zM86.9 186.6 85.7 186.9 84.5 186.9 83.3 186.7 82.5 186.4 81.7 186.1 80.9 185.6 80.2 185.0 79.7 184.4 79.2 183.8 78.8 183.0 78.4 182.2 78.2 181.0 78.1 180.2 78.1 179.4 78.3 178.2 78.6 177.4 79.0 176.6 79.5 175.8 80.1 175.1 80.6 174.6 80.4 173.8 80.3 172.6 80.3 171.4 80.4 170.2 80.6 169.4 80.9 168.3 81.3 167.4 81.6 166.6 82.1 165.8 82.5 165.2 82.9 164.6 83.7 163.8 84.1 163.4 84.9 162.7 85.6 162.2 86.3 161.8 87.1 161.4 88.0 161.0 88.9 160.7 89.7 160.5 90.9 160.4 92.1 160.3 93.3 160.4 94.1 160.0 94.8 159.4 95.4 159.0 96.2 158.6 97.1 158.2 98.1 157.9 98.9 157.8 100.1 157.7 101.2 157.8 102.1 158.0 102.9 158.2 103.8 158.6 104.6 159.0 105.3 159.5 106.1 160.2 106.5 160.6 107.2 161.4 107.7 162.2 108.1 163.0 108.4 163.8 108.6 164.6 108.8 165.8 108.8 167.0 108.6 168.2 108.4 169.0 108.1 169.9 107.7 170.7 107.3 171.4 106.7 172.2 106.1 172.8 105.4 173.4 104.9 173.8 104.1 174.3 103.3 175.0 103.1 175.8 102.8 176.6 102.4 177.4 101.9 178.2 101.4 179.0 100.9 179.6 100.3 180.2 99.7 180.8 99.0 181.4 98.4 181.8 97.7 182.2 96.9 182.6 96.0 183.0 94.9 183.3 94.1 183.5 92.9 183.7 91.7 183.7 90.8 183.8 90.2 184.6 89.7 185.1 88.9 185.7 88.1 186.2 87.3 186.5zM86.5 187.4 85.3 187.6 84.1 187.5 83.3 187.4 82.1 187.0 81.3 186.6 80.6 186.2 80.1 185.8 79.3 185.0 78.9 184.5 78.4 183.8 78.0 183.0 77.7 182.0 77.5 181.0 77.4 179.8 77.5 178.6 77.7 177.8 78.1 176.9 78.5 176.1 79.0 175.4 79.7 174.6 79.5 173.4 79.4 172.2 79.5 171.0 79.6 169.8 79.8 169.0 80.1 167.9 80.5 167.0 80.8 166.2 81.3 165.4 81.7 164.8 82.1 164.2 82.8 163.4 83.3 162.9 84.1 162.2 84.6 161.8 85.3 161.3 86.1 160.9 86.9 160.5 87.7 160.2 88.9 159.8 89.7 159.6 90.9 159.5 92.1 159.4 93.3 159.5 94.1 159.3 94.9 158.7 95.7 158.2 96.5 157.9 97.3 157.6 98.1 157.4 99.3 157.2 100.5 157.2 101.7 157.3 102.5 157.5 103.3 157.8 104.2 158.2 104.9 158.6 105.7 159.1 106.5 159.8 106.9 160.2 107.5 161.0 108.0 161.8 108.5 162.6 108.8 163.4 109.0 164.2 109.3 165.4 109.3 166.2 109.3 167.0 109.2 168.2 108.9 169.2 108.5 170.2 108.2 171.0 107.7 171.7 107.3 172.3 106.7 173.0 106.1 173.5 105.3 174.2 104.6 174.6 104.1 175.4 103.9 176.2 103.6 177.0 103.2 177.8 102.7 178.6 102.2 179.4 101.7 180.0 101.2 180.6 100.5 181.3 99.9 181.8 99.3 182.3 98.5 182.8 97.7 183.2 96.9 183.6 96.1 183.9 95.1 184.2 94.1 184.4 92.9 184.6 91.7 184.6 90.9 184.8 90.3 185.4 89.7 185.9 88.9 186.5 88.1 186.9 87.3 187.2 86.5 187.4zM87.3 187.9 86.1 188.1 84.9 188.2 83.7 188.1 82.5 187.8 81.7 187.5 80.9 187.1 80.2 186.6 79.7 186.2 78.9 185.5 78.5 185.0 78.0 184.2 77.5 183.4 77.2 182.6 76.9 181.4 76.8 180.6 76.8 179.4 76.9 178.6 77.2 177.4 77.5 176.6 78.0 175.8 78.5 175.0 78.8 174.2 78.6 173.0 78.6 171.8 78.7 170.6 78.8 169.4 79.0 168.6 79.3 167.7 79.7 166.6 80.1 165.8 80.5 165.1 80.9 164.5 81.4 163.8 82.0 163.0 82.5 162.5 83.3 161.8 83.8 161.4 84.5 160.9 85.3 160.4 86.1 159.9 86.9 159.6 87.7 159.3 88.7 159.0 89.7 158.8 90.9 158.6 91.7 158.6 92.6 158.6 93.7 158.7 94.5 158.4 95.3 157.9 96.1 157.5 96.9 157.2 97.7 157.0 98.9 156.7 100.1 156.7 101.3 156.8 102.5 157.0 103.3 157.2 104.1 157.6 104.9 158.0 105.7 158.5 106.3 159.0 106.9 159.5 107.5 160.2 108.1 161.0 108.5 161.6 108.9 162.4 109.3 163.4 109.6 164.2 109.7 165.0 109.8 166.2 109.8 167.4 109.7 168.2 109.4 169.4 109.1 170.2 108.7 171.0 108.3 171.8 107.7 172.6 107.3 173.1 106.6 173.8 106.1 174.2 105.3 174.8 104.9 175.7 104.6 176.6 104.3 177.4 103.9 178.2 103.5 179.0 102.9 179.8 102.5 180.4 102.0 181.0 101.3 181.7 100.7 182.2 100.1 182.7 99.3 183.3 98.5 183.7 97.7 184.1 96.9 184.5 96.1 184.8 95.3 185.0 94.1 185.3 92.9 185.4 92.1 185.4 91.3 185.4 90.8 185.8 90.1 186.4 89.3 187.0 88.5 187.4 87.7 187.7zM86.5 188.6 85.3 188.8 84.1 188.7 83.3 188.6 82.1 188.3 81.3 187.9 80.5 187.5 79.7 187.0 79.2 186.6 78.5 185.9 78.1 185.4 77.5 184.6 77.1 183.8 76.8 183.0 76.5 182.1 76.3 181.0 76.2 179.8 76.3 178.6 76.5 177.8 76.9 176.7 77.3 175.8 77.7 175.2 78.0 174.2 77.8 173.0 77.8 171.8 77.9 170.6 78.0 169.4 78.2 168.6 78.5 167.6 78.9 166.6 79.2 165.8 79.6 165.0 80.1 164.2 80.5 163.7 81.0 163.0 81.7 162.2 82.1 161.8 82.9 161.1 83.5 160.6 84.1 160.2 84.9 159.7 85.7 159.3 86.5 158.9 87.3 158.6 88.5 158.2 89.3 158.1 90.5 157.9 91.7 157.8 92.2 157.8 93.3 157.9 94.5 157.8 95.2 157.4 96.0 157.0 96.9 156.7 97.7 156.5 98.9 156.3 100.1 156.2 101.3 156.3 102.5 156.5 103.3 156.7 104.1 157.1 104.9 157.4 105.7 157.9 106.5 158.5 107.1 159.0 107.7 159.7 108.1 160.2 108.7 161.0 109.2 161.8 109.5 162.6 109.8 163.4 110.1 164.5 110.2 165.4 110.3 166.6 110.2 167.8 110.1 168.6 109.8 169.8 109.5 170.6 109.1 171.4 108.6 172.2 108.1 172.9 107.6 173.4 106.9 174.1 106.4 174.6 105.8 175.4 105.6 176.2 105.3 177.0 104.9 177.9 104.5 178.7 104.1 179.4 103.6 180.2 103.0 181.0 102.5 181.6 101.9 182.2 101.3 182.7 100.5 183.4 99.9 183.8 99.3 184.2 98.5 184.6 97.7 185.0 96.7 185.4 95.7 185.7 94.9 185.9 93.7 186.1 92.5 186.2 91.9 186.2 91.3 186.2 90.5 186.8 89.7 187.4 89.0 187.8 88.1 188.2 87.3 188.5 86.5 188.6zM87.3 189.0 86.1 189.2 84.9 189.3 83.7 189.2 82.7 189.0 81.7 188.7 80.9 188.3 80.1 187.9 79.4 187.4 78.9 187.0 78.1 186.2 77.7 185.7 77.2 185.0 76.7 184.2 76.3 183.4 76.1 182.6 75.8 181.4 75.7 180.2 75.8 179.0 76.0 177.8 76.2 177.0 76.5 176.2 76.9 175.4 77.2 174.2 77.1 173.0 77.0 171.8 77.1 170.6 77.3 169.4 77.4 168.6 77.7 167.7 78.1 166.6 78.4 165.8 78.8 165.0 79.2 164.2 79.7 163.5 80.1 163.0 80.7 162.2 81.3 161.6 81.9 161.0 82.5 160.5 83.3 159.8 84.0 159.4 84.6 159.0 85.4 158.6 86.3 158.2 87.3 157.8 88.1 157.6 88.9 157.4 90.1 157.2 91.3 157.1 92.5 157.1 93.7 157.1 94.9 157.0 95.7 156.6 96.5 156.3 97.3 156.1 98.5 155.8 99.3 155.8 100.5 155.8 101.3 155.8 102.5 156.0 103.3 156.3 104.2 156.6 105.0 157.0 105.7 157.4 106.5 157.9 107.3 158.6 107.7 159.0 108.4 159.8 108.9 160.5 109.3 161.1 109.7 161.9 110.1 162.8 110.4 163.8 110.6 164.6 110.7 165.8 110.8 167.0 110.6 168.2 110.5 169.0 110.1 170.2 109.8 171.0 109.4 171.8 108.9 172.5 108.5 173.1 107.9 173.8 107.3 174.4 106.6 175.0 106.5 175.8 106.1 177.0 105.8 177.8 105.4 178.6 105.0 179.4 104.5 180.2 104.1 180.8 103.6 181.4 102.9 182.2 102.5 182.6 101.7 183.4 101.2 183.8 100.5 184.3 99.7 184.8 98.9 185.3 98.1 185.7 97.3 186.0 96.5 186.3 95.3 186.6 94.5 186.7 93.3 186.9 92.1 186.9 91.2 187.0 90.5 187.5 89.7 188.0 88.9 188.4 88.1 188.8 87.3 189.0z" fill="none" stroke="#777" stroke-width="0.4" stroke-linejoin="round"/>
<rect x="43.3" y="129.4" width="89" height="89.8" fill="none" stroke="#aaa" stroke-width="0.7"/>
<rect x="79.8" y="129.6" width="52.5" height="86.6" fill="none" stroke="#111" stroke-width="1"/>
<polyline points="41.8,159.2 93.2,159.2 132.3,133.8" fill="none" stroke="#111" stroke-width="1"/>
<line x1="41.8" y1="183.9" x2="132.3" y2="183.9" stroke="#111" stroke-width="1"/>
<text x="44.8" y="136.9" font-size="5.6" stroke="#111" stroke-width="0.15" font-weight="bold" fill="#111">6.4%</text>
<text x="121.5" y="136.6" font-size="5.6" stroke="#111" stroke-width="0.15" text-anchor="end" font-weight="bold" fill="#111">1.3%</text>
<text x="44.8" y="173" font-size="5.6" stroke="#111" stroke-width="0.15" font-weight="bold" fill="#111">30.6%</text>
<text x="130.4" y="175.6" font-size="5.6" stroke="#111" stroke-width="0.15" text-anchor="end" font-weight="bold" fill="#111">19.4%</text>
<text x="130.4" y="210" font-size="5.6" stroke="#111" stroke-width="0.15" text-anchor="end" font-weight="bold" fill="#111">41.3%</text>
<text x="40.1" y="140.1" font-size="4.5" stroke="#222" stroke-width="0.12" text-anchor="end" fill="#222">10<tspan font-size="70%" baseline-shift="30%">5</tspan></text>
<text x="40.1" y="161" font-size="4.5" stroke="#222" stroke-width="0.12" text-anchor="end" fill="#222">10<tspan font-size="70%" baseline-shift="30%">4</tspan></text>
<text x="40.1" y="185.6" font-size="4.5" stroke="#222" stroke-width="0.12" text-anchor="end" fill="#222">10<tspan font-size="70%" baseline-shift="30%">3</tspan></text>
<text x="40.1" y="200.2" font-size="4.5" stroke="#222" stroke-width="0.12" text-anchor="end" fill="#222">0</text>
<text x="40.1" y="215.4" font-size="4.5" stroke="#222" stroke-width="0.12" text-anchor="end" fill="#222">-10<tspan font-size="70%" baseline-shift="30%">3</tspan></text>
<path d="M43.3 138.5h-1.8M43.3 159.4h-1.8M43.3 184h-1.8M43.3 198.6h-1.8M43.3 213.8h-1.8M43.3 133h-1M43.3 135.5h-1M43.3 145h-1M43.3 150h-1M43.3 153h-1M43.3 165h-1M43.3 171h-1M43.3 175h-1M43.3 179h-1M43.3 190h-1M43.3 194h-1M43.3 203h-1M43.3 207h-1M43.3 211h-1" stroke="#222" stroke-width="0.8"/>
<rect x="41.3" y="196.6" width="1.6" height="4" fill="#111"/>
<text x="52" y="227.5" font-size="4.5" stroke="#222" stroke-width="0.12" text-anchor="middle" fill="#222">-10<tspan font-size="70%" baseline-shift="30%">3</tspan></text>
<text x="65.2" y="227.5" font-size="4.5" stroke="#222" stroke-width="0.12" text-anchor="middle" fill="#222">0</text>
<text x="80.3" y="227.5" font-size="4.5" stroke="#222" stroke-width="0.12" text-anchor="middle" fill="#222">10<tspan font-size="70%" baseline-shift="30%">3</tspan></text>
<text x="105" y="227.5" font-size="4.5" stroke="#222" stroke-width="0.12" text-anchor="middle" fill="#222">10<tspan font-size="70%" baseline-shift="30%">4</tspan></text>
<text x="127" y="227.5" font-size="4.5" stroke="#222" stroke-width="0.12" text-anchor="middle" fill="#222">10<tspan font-size="70%" baseline-shift="30%">5</tspan></text>
<path d="M52 219.2v1.8M65.2 219.2v1.8M80.3 219.2v1.8M105 219.2v1.8M127 219.2v1.8M47 219.2v1M57 219.2v1M60 219.2v1M70 219.2v1M73 219.2v1M88 219.2v1M93 219.2v1M97 219.2v1M99 219.2v1M101 219.2v1M111 219.2v1M116 219.2v1M119 219.2v1M121 219.2v1M123 219.2v1M125 219.2v1M129 219.2v1M131 219.2v1" stroke="#222" stroke-width="0.8"/>
<rect x="61.5" y="219.4" width="4" height="1.8" fill="#111"/>
<text x="55" y="235.9" font-size="5" stroke="#222" stroke-width="0.12" font-weight="bold" fill="#222" textLength="64" lengthAdjust="spacingAndGlyphs">Comp-AmCyan-A :: CD16 BV510</text>
<text x="27.7" y="176" font-size="5" stroke="#222" stroke-width="0.12" text-anchor="middle" font-weight="bold" fill="#222" transform="rotate(-90 27.7 176)" textLength="50.5" lengthAdjust="spacingAndGlyphs">Comp-PE-Cy7-A :: CD56</text>
<text x="152.9" y="124.9" font-size="6.7" stroke="#111" stroke-width="0.18" font-weight="bold" fill="#111" textLength="104.4" lengthAdjust="spacingAndGlyphs">BL 3 months after chemotherapy</text>
<path d="M186.6 181.4 185.8 181.4 185.0 180.9 184.5 180.2 184.4 179.0 184.7 178.2 184.8 177.0 184.8 175.8 184.8 174.6 184.8 173.4 184.8 172.2 184.8 171.0 184.8 169.8 184.8 168.6 184.8 167.4 184.8 166.2 184.8 165.0 184.8 163.8 184.8 162.6 184.8 161.4 184.8 160.2 184.8 159.0 184.8 157.8 184.7 156.6 184.6 155.8 184.2 154.7 183.8 153.9 183.4 153.2 183.1 152.2 183.3 151.0 183.8 150.6 183.9 149.4 184.2 148.5 184.8 147.8 185.7 147.4 186.6 147.4 187.4 147.7 188.0 148.2 188.4 149.0 188.6 150.1 189.4 150.4 190.2 150.9 190.5 151.8 190.2 153.0 189.8 153.7 189.4 154.4 189.0 155.1 188.6 156.2 188.5 157.0 188.4 158.2 188.4 159.4 188.4 160.6 188.5 161.8 188.6 163.0 188.7 163.8 188.8 165.0 188.8 166.2 188.8 167.4 188.8 168.6 188.8 169.8 188.8 171.0 188.8 172.2 188.8 173.4 188.8 174.6 188.8 175.8 188.8 177.0 188.8 178.2 188.6 179.4 188.3 180.2 187.8 180.8 187.0 181.3zM187.4 183.5 186.2 183.5 185.4 183.4 184.6 183.0 183.8 182.4 183.3 181.8 182.9 181.0 182.6 180.2 182.5 179.0 182.6 178.0 182.7 177.0 182.7 175.8 182.7 174.6 182.7 173.4 182.7 172.2 182.7 171.0 182.7 169.8 182.7 168.6 182.7 167.4 182.7 166.2 182.7 165.0 182.7 163.8 182.7 162.6 182.7 161.4 182.7 160.2 182.7 159.0 182.7 157.8 182.6 156.6 182.4 155.8 182.0 155.0 181.6 154.2 181.1 153.4 180.9 152.6 180.8 151.4 181.0 150.4 181.4 149.6 182.0 149.0 182.7 148.6 183.4 148.0 183.9 147.4 184.6 146.8 185.4 146.5 186.6 146.4 187.4 146.6 188.2 147.1 188.9 147.8 189.7 148.2 190.6 148.5 191.4 148.8 192.1 149.4 192.5 150.2 192.8 151.0 192.8 152.2 192.6 153.0 192.2 153.9 191.7 154.6 191.2 155.4 190.8 156.2 190.6 157.0 190.5 158.2 190.5 159.4 190.5 160.6 190.5 161.8 190.6 162.6 190.8 163.8 190.9 165.0 190.9 166.2 190.9 167.4 190.9 168.6 190.9 169.8 190.9 171.0 190.9 172.2 190.9 173.4 190.9 174.6 190.9 175.8 190.9 177.0 190.9 178.2 190.8 179.4 190.6 180.3 190.2 181.3 189.8 181.9 189.1 182.6 188.6 183.0 187.6 183.4zM187.4 185.0 186.2 185.0 185.4 184.9 184.5 184.6 183.7 184.2 183.0 183.7 182.3 183.0 181.8 182.2 181.4 181.4 181.2 180.6 181.0 179.5 181.0 179.0 181.1 177.8 181.3 176.6 181.3 175.4 181.3 174.2 181.3 173.0 181.3 171.8 181.3 170.6 181.3 169.4 181.3 168.2 181.3 167.0 181.3 165.8 181.3 164.6 181.3 163.4 181.3 162.2 181.3 161.0 181.3 159.8 181.3 158.6 181.2 157.4 181.0 156.4 180.6 155.5 180.2 154.8 179.8 154.1 179.5 153.0 179.3 152.2 179.3 151.0 179.5 150.2 179.8 149.2 180.2 148.5 181.0 147.8 181.7 147.4 182.6 147.0 183.4 146.8 184.2 146.2 185.0 145.9 185.8 145.7 187.0 145.7 187.8 146.0 188.6 146.5 189.4 146.6 190.6 146.9 191.4 147.2 192.2 147.5 193.0 148.1 193.5 148.6 193.9 149.4 194.2 150.5 194.3 151.4 194.2 152.6 194.0 153.4 193.7 154.2 193.3 155.0 192.7 155.8 192.3 156.6 192.0 157.4 191.9 158.6 191.9 159.8 191.9 161.0 192.1 162.2 192.2 163.2 192.3 164.2 192.3 165.4 192.3 166.6 192.3 167.8 192.3 169.0 192.3 170.2 192.3 171.4 192.3 172.6 192.3 173.8 192.3 175.0 192.3 176.2 192.3 177.4 192.3 178.6 192.2 179.8 192.0 180.6 191.8 181.4 191.4 182.2 190.9 183.0 190.2 183.7 189.5 184.2 188.7 184.6 187.8 184.9zM188.2 185.8 187.0 186.0 185.8 186.0 184.9 185.8 183.8 185.4 183.2 185.0 182.6 184.6 181.8 183.9 181.4 183.4 180.9 182.6 180.5 181.8 180.2 180.8 180.0 179.8 180.1 178.6 180.2 177.6 180.3 176.6 180.3 175.4 180.4 174.2 180.4 173.0 180.4 171.8 180.4 170.6 180.4 169.4 180.4 168.2 180.4 167.0 180.4 165.8 180.4 164.6 180.4 163.4 180.4 162.2 180.4 161.0 180.4 159.8 180.3 158.6 180.2 157.4 180.0 156.6 179.6 155.8 179.2 155.0 178.8 154.2 178.6 153.4 178.4 152.2 178.4 151.0 178.6 149.8 178.8 149.0 179.2 148.2 179.8 147.5 180.4 147.0 181.0 146.6 182.0 146.2 183.0 145.9 183.8 145.7 184.6 145.3 185.8 145.1 187.0 145.1 187.9 145.4 189.0 145.6 190.2 145.8 191.0 146.0 191.8 146.3 192.6 146.6 193.4 147.1 194.1 147.8 194.6 148.6 194.9 149.4 195.1 150.2 195.2 151.4 195.2 152.6 195.0 153.6 194.6 154.6 194.2 155.4 193.8 155.9 193.4 156.6 193.0 157.6 192.9 158.6 192.9 159.8 192.9 161.0 193.0 162.0 193.1 163.0 193.2 164.2 193.2 165.4 193.2 166.6 193.2 167.8 193.2 169.0 193.2 170.2 193.2 171.4 193.2 172.6 193.2 173.8 193.2 175.0 193.2 176.2 193.2 177.4 193.2 178.6 193.2 179.8 193.0 180.8 192.7 181.8 192.3 182.6 191.8 183.4 191.4 183.9 190.6 184.6 190.0 185.0 189.4 185.4 188.3 185.8zM187.0 186.6 185.9 186.6 185.0 186.5 184.1 186.2 183.3 185.8 182.6 185.4 181.8 184.7 181.3 184.2 180.7 183.4 180.2 182.6 179.9 181.8 179.6 181.0 179.4 179.8 179.4 178.6 179.6 177.4 179.7 176.2 179.7 175.0 179.8 173.8 179.8 172.6 179.8 171.4 179.8 170.2 179.8 169.0 179.8 167.8 179.8 166.6 179.8 165.4 179.8 164.2 179.8 163.0 179.8 161.8 179.8 160.6 179.7 159.4 179.7 158.2 179.5 157.0 179.1 156.2 178.7 155.4 178.3 154.6 178.0 153.8 177.8 152.6 177.8 151.8 177.8 150.7 177.9 149.8 178.2 148.8 178.6 148.0 179.0 147.4 179.8 146.6 180.5 146.2 181.3 145.8 182.2 145.5 183.0 145.3 184.1 145.0 185.0 144.7 185.8 144.5 187.0 144.6 187.8 144.8 189.0 145.0 189.8 145.1 191.0 145.4 191.8 145.6 192.6 145.9 193.4 146.4 194.2 147.0 194.6 147.4 195.1 148.2 195.5 149.0 195.8 150.2 195.8 151.0 195.8 152.2 195.8 153.0 195.5 154.2 195.1 155.0 194.7 155.8 194.2 156.5 193.8 157.2 193.5 158.2 193.5 159.4 193.5 160.6 193.6 161.8 193.8 163.0 193.8 163.8 193.8 165.0 193.8 166.2 193.8 167.4 193.8 168.6 193.8 169.8 193.8 171.0 193.8 172.2 193.8 173.4 193.8 174.6 193.8 175.8 193.8 177.0 193.8 178.2 193.8 179.4 193.8 180.2 193.5 181.4 193.2 182.2 192.8 183.0 192.3 183.8 191.8 184.3 191.1 185.0 190.6 185.4 189.8 185.9 189.0 186.2 187.8 186.5 187.0 186.6zM187.4 187.0 186.2 187.1 185.4 187.0 184.2 186.7 183.4 186.4 182.6 185.9 181.9 185.4 181.4 185.0 180.7 184.2 180.2 183.5 179.8 182.8 179.4 181.8 179.1 181.0 179.0 180.1 179.0 179.0 179.0 178.2 179.2 177.0 179.3 175.8 179.3 174.6 179.3 173.4 179.3 172.2 179.3 171.0 179.3 169.8 179.3 168.6 179.3 167.4 179.3 166.2 179.3 165.0 179.3 163.8 179.3 162.6 179.3 161.4 179.3 160.2 179.3 159.0 179.2 157.8 179.0 156.9 178.6 156.2 178.2 155.4 177.8 154.6 177.5 153.4 177.4 152.6 177.3 151.4 177.4 150.3 177.5 149.4 177.8 148.6 178.2 147.8 178.7 147.0 179.4 146.4 180.2 145.8 181.0 145.4 181.8 145.1 182.6 144.9 183.8 144.6 184.6 144.3 185.4 144.1 186.6 144.0 187.5 144.2 188.6 144.5 189.4 144.6 190.6 144.8 191.4 145.0 192.5 145.4 193.3 145.8 194.0 146.2 194.6 146.7 195.2 147.4 195.6 148.2 195.9 149.0 196.2 150.2 196.3 151.0 196.3 152.2 196.2 153.0 195.9 154.2 195.6 155.0 195.2 155.8 194.6 156.6 194.2 157.4 194.0 158.2 193.9 159.4 193.9 160.6 194.0 161.8 194.2 163.0 194.3 163.8 194.3 165.0 194.3 166.2 194.3 167.4 194.3 168.6 194.3 169.8 194.3 171.0 194.3 172.2 194.3 173.4 194.3 174.6 194.3 175.8 194.3 177.0 194.3 178.2 194.3 179.4 194.2 180.2 193.9 181.4 193.7 182.2 193.3 183.0 192.8 183.8 192.2 184.6 191.8 185.0 191.0 185.6 190.2 186.2 189.4 186.6 188.6 186.8 187.7 187.0zM186.6 187.4 185.8 187.4 184.6 187.2 183.8 186.9 183.0 186.6 182.2 186.1 181.4 185.4 180.9 185.0 180.3 184.2 179.8 183.5 179.4 182.7 179.0 181.8 178.8 181.0 178.6 179.8 178.7 178.6 178.8 177.4 179.0 176.2 179.0 175.0 179.0 173.8 179.0 172.6 179.0 171.4 179.0 170.2 179.0 169.0 179.0 167.8 179.0 166.6 179.0 165.4 179.0 164.2 179.0 163.0 179.0 161.8 179.0 160.6 179.0 159.4 178.9 158.2 178.6 157.0 178.2 156.2 177.8 155.5 177.4 154.6 177.2 153.8 177.0 152.6 177.0 151.8 177.0 151.0 177.1 149.8 177.4 148.7 177.8 147.8 178.2 147.1 178.6 146.6 179.4 145.9 180.2 145.4 181.0 145.0 181.8 144.8 182.6 144.5 183.6 144.2 184.6 143.8 185.4 143.6 186.6 143.6 187.8 143.8 188.6 144.1 189.4 144.3 190.6 144.5 191.4 144.7 192.5 145.0 193.3 145.4 194.0 145.8 194.6 146.3 195.3 147.0 195.8 147.7 196.2 148.6 196.4 149.4 196.6 150.6 196.6 151.4 196.6 152.2 196.5 153.4 196.2 154.5 195.8 155.4 195.4 156.1 195.0 156.7 194.6 157.4 194.3 158.6 194.2 159.8 194.3 161.0 194.4 162.2 194.6 163.4 194.6 164.2 194.6 165.4 194.6 166.6 194.6 167.8 194.6 169.0 194.6 170.2 194.6 171.4 194.6 172.6 194.6 173.8 194.6 175.0 194.6 176.2 194.6 177.4 194.6 178.6 194.6 179.4 194.5 180.6 194.2 181.7 193.9 182.6 193.5 183.4 193.0 184.1 192.6 184.6 191.8 185.4 191.4 185.8 190.6 186.3 189.8 186.8 189.0 187.1 187.8 187.3 186.6 187.4zM188.6 187.5 187.4 187.7 186.2 187.7 185.0 187.6 184.2 187.4 183.2 187.0 182.5 186.6 181.8 186.1 181.0 185.5 180.5 185.0 179.9 184.2 179.4 183.4 179.0 182.6 178.7 181.8 178.5 181.0 178.3 179.8 178.4 178.6 178.5 177.4 178.6 176.6 178.7 175.4 178.7 174.2 178.7 173.0 178.7 171.8 178.7 170.6 178.7 169.4 178.7 168.2 178.7 167.0 178.7 165.8 178.7 164.6 178.7 163.4 178.7 162.2 178.7 161.0 178.7 159.8 178.7 158.6 178.6 157.8 178.2 156.8 177.8 156.1 177.4 155.3 177.0 154.2 176.8 153.4 176.7 152.2 176.7 151.0 176.8 149.8 177.0 149.0 177.4 147.9 177.8 147.2 178.2 146.6 179.0 145.9 179.7 145.4 180.4 145.0 181.4 144.6 182.2 144.3 183.0 144.0 183.8 143.6 184.6 143.4 185.8 143.2 187.0 143.2 187.9 143.4 189.0 143.8 189.8 144.0 190.8 144.2 191.8 144.5 192.6 144.7 193.4 145.1 194.2 145.6 195.0 146.2 195.4 146.6 195.9 147.4 196.3 148.2 196.6 149.0 196.8 150.2 196.9 151.4 196.9 152.6 196.7 153.8 196.5 154.6 196.2 155.4 195.7 156.2 195.2 157.0 194.7 157.8 194.6 158.6 194.5 159.8 194.6 161.0 194.7 161.8 194.8 163.0 194.9 164.2 194.9 165.4 194.9 166.6 194.9 167.8 194.9 169.0 194.9 170.2 194.9 171.4 194.9 172.6 194.9 173.8 194.9 175.0 194.9 176.2 194.9 177.4 194.9 178.6 194.9 179.8 194.7 181.0 194.5 181.8 194.2 182.6 193.8 183.4 193.3 184.2 192.7 185.0 192.2 185.5 191.4 186.1 190.7 186.6 190.0 187.0 189.0 187.4zM188.2 187.8 187.0 187.9 185.8 187.9 184.9 187.8 183.8 187.5 183.0 187.2 182.2 186.7 181.5 186.2 181.0 185.8 180.2 185.0 179.8 184.5 179.3 183.8 178.9 183.0 178.6 182.2 178.2 181.0 178.1 180.2 178.1 179.0 178.2 177.9 178.3 177.0 178.4 175.8 178.4 174.6 178.4 173.4 178.4 172.2 178.4 171.0 178.4 169.8 178.4 168.6 178.4 167.4 178.4 166.2 178.4 165.0 178.4 163.8 178.4 162.6 178.4 161.4 178.4 160.2 178.4 159.0 178.3 157.8 178.0 157.0 177.6 156.2 177.2 155.4 176.8 154.6 176.6 153.6 176.5 152.6 176.4 151.4 176.5 150.2 176.6 149.4 177.0 148.2 177.4 147.4 177.8 146.7 178.3 146.2 179.0 145.6 179.8 145.0 180.6 144.6 181.4 144.3 182.2 144.0 183.0 143.6 183.8 143.2 184.6 143.0 185.8 142.8 187.0 142.8 187.9 143.0 189.0 143.4 189.8 143.7 190.6 143.9 191.8 144.2 192.6 144.5 193.4 144.8 194.2 145.3 194.9 145.8 195.4 146.3 196.0 147.0 196.4 147.8 196.8 148.6 197.0 149.6 197.1 150.6 197.2 151.8 197.1 153.0 197.0 153.8 196.6 155.0 196.2 155.8 195.8 156.5 195.4 157.1 195.0 157.8 194.8 159.0 194.8 160.2 194.9 161.4 195.0 162.3 195.1 163.4 195.2 164.6 195.2 165.8 195.2 167.0 195.2 168.2 195.2 169.4 195.2 170.6 195.2 171.8 195.2 173.0 195.2 174.2 195.2 175.4 195.2 176.6 195.2 177.8 195.2 179.0 195.1 180.2 195.0 181.0 194.6 182.2 194.3 183.0 193.9 183.8 193.4 184.5 193.0 185.0 192.2 185.8 191.7 186.2 191.0 186.7 190.2 187.2 189.4 187.5 188.3 187.8zM189.0 187.9 187.8 188.1 186.6 188.2 185.4 188.1 184.2 187.9 183.4 187.6 182.6 187.2 181.8 186.7 181.1 186.2 180.6 185.7 179.9 185.0 179.4 184.3 179.0 183.7 178.6 182.8 178.2 181.8 178.0 181.0 177.9 179.8 177.9 178.6 178.0 177.4 178.2 176.3 178.2 175.4 178.2 174.2 178.2 173.0 178.2 171.8 178.2 170.6 178.2 169.4 178.2 168.2 178.2 167.0 178.2 165.8 178.2 164.6 178.2 163.4 178.2 162.2 178.2 161.0 178.2 159.8 178.2 158.6 178.1 157.8 177.8 157.0 177.3 156.2 176.9 155.4 176.6 154.5 176.3 153.4 176.2 152.2 176.2 151.0 176.3 149.8 176.6 148.7 176.9 147.8 177.3 147.0 177.8 146.4 178.4 145.8 179.0 145.3 179.8 144.8 180.6 144.4 181.4 144.1 182.2 143.6 183.0 143.2 183.8 142.8 184.6 142.6 185.8 142.4 187.0 142.5 187.8 142.6 189.0 143.0 189.8 143.4 190.6 143.7 191.4 143.9 192.5 144.2 193.4 144.6 194.2 145.0 194.8 145.4 195.4 145.9 196.0 146.6 196.5 147.4 196.9 148.2 197.1 149.0 197.3 150.2 197.4 151.4 197.3 152.6 197.2 153.8 197.0 154.6 196.6 155.6 196.2 156.3 195.7 157.0 195.3 157.8 195.0 158.9 195.0 159.8 195.0 160.7 195.2 161.8 195.3 163.0 195.4 164.2 195.4 165.4 195.4 166.6 195.4 167.8 195.4 169.0 195.4 170.2 195.4 171.4 195.4 172.6 195.4 173.8 195.4 175.0 195.4 176.2 195.4 177.4 195.4 178.6 195.3 179.8 195.2 181.0 195.0 181.8 194.6 182.8 194.2 183.7 193.8 184.3 193.3 185.0 192.6 185.7 192.1 186.2 191.4 186.7 190.6 187.2 189.8 187.6 189.0 187.9zM188.2 188.3 187.0 188.4 185.8 188.3 184.7 188.2 183.8 188.0 183.0 187.7 182.2 187.2 181.4 186.7 180.8 186.2 180.2 185.6 179.6 185.0 179.1 184.2 178.6 183.4 178.3 182.6 178.0 181.8 177.8 180.9 177.7 179.8 177.7 178.6 177.8 177.8 177.9 176.6 178.0 175.4 178.0 174.2 178.0 173.0 178.0 171.8 178.0 170.6 178.0 169.4 178.0 168.2 178.0 167.0 178.0 165.8 178.0 164.6 178.0 163.4 178.0 162.2 178.0 161.0 178.0 159.8 178.0 158.6 177.8 157.5 177.4 156.7 177.0 156.0 176.6 155.1 176.3 154.2 176.1 153.4 176.0 152.2 176.0 151.0 176.1 149.8 176.3 149.0 176.6 148.1 177.0 147.2 177.4 146.6 178.1 145.8 178.6 145.3 179.4 144.8 180.2 144.3 181.0 144.0 181.8 143.5 182.6 143.0 183.4 142.6 184.2 142.3 185.0 142.2 186.2 142.1 187.4 142.2 188.2 142.3 189.0 142.6 189.8 143.0 190.6 143.4 191.8 143.8 192.6 144.0 193.4 144.3 194.2 144.8 195.0 145.3 195.5 145.8 196.2 146.6 196.6 147.2 197.0 148.1 197.3 149.0 197.5 149.8 197.6 151.0 197.6 152.2 197.5 153.4 197.3 154.2 197.0 155.1 196.6 156.0 196.2 156.7 195.7 157.4 195.3 158.2 195.2 159.4 195.2 160.6 195.4 161.8 195.5 162.6 195.6 163.8 195.6 165.0 195.6 166.2 195.6 167.4 195.6 168.6 195.6 169.8 195.6 171.0 195.6 172.2 195.6 173.4 195.6 174.6 195.6 175.8 195.6 177.0 195.6 178.2 195.6 179.4 195.5 180.6 195.3 181.4 195.0 182.4 194.6 183.3 194.2 184.1 193.8 184.7 193.2 185.4 192.6 186.0 191.9 186.6 191.3 187.0 190.6 187.5 189.8 187.8 188.6 188.2zM189.0 188.3 187.8 188.5 186.6 188.5 185.4 188.5 184.2 188.3 183.4 188.0 182.6 187.7 181.8 187.2 181.0 186.6 180.5 186.2 179.8 185.4 179.4 185.0 178.9 184.2 178.4 183.4 178.1 182.6 177.8 181.7 177.5 180.6 177.5 179.4 177.5 178.2 177.7 177.0 177.8 176.2 177.8 175.0 177.8 173.8 177.8 172.6 177.8 171.4 177.8 170.2 177.8 169.0 177.8 167.8 177.8 166.6 177.8 165.4 177.8 164.2 177.8 163.0 177.8 161.8 177.8 160.6 177.8 159.4 177.8 158.3 177.5 157.4 177.1 156.6 176.7 155.8 176.3 155.0 176.1 154.2 175.9 153.0 175.9 151.8 175.9 150.6 176.0 149.4 176.2 148.6 176.6 147.6 177.0 146.8 177.4 146.2 178.2 145.4 178.7 145.0 179.4 144.6 180.2 144.1 181.0 143.7 181.8 143.1 182.6 142.6 183.4 142.2 184.2 142.0 185.2 141.8 186.2 141.7 187.2 141.8 188.2 142.0 189.0 142.2 189.8 142.6 190.6 143.1 191.4 143.5 192.5 143.8 193.4 144.1 194.2 144.6 194.9 145.0 195.4 145.4 196.2 146.2 196.6 146.8 197.0 147.6 197.4 148.6 197.6 149.4 197.7 150.6 197.7 151.8 197.7 153.0 197.5 154.2 197.3 155.0 196.9 155.8 196.5 156.6 195.9 157.4 195.5 158.2 195.4 159.0 195.4 160.2 195.4 161.0 195.6 162.2 195.7 163.4 195.7 164.6 195.8 165.8 195.8 167.0 195.8 168.2 195.8 169.4 195.8 170.6 195.8 171.8 195.8 173.0 195.8 174.2 195.8 175.4 195.8 176.6 195.8 177.8 195.7 179.0 195.7 180.2 195.5 181.4 195.3 182.2 195.0 183.0 194.6 183.8 194.1 184.6 193.4 185.4 193.0 185.9 192.2 186.6 191.7 187.0 191.0 187.4 190.2 187.9 189.3 188.2zM188.2 188.6 187.0 188.7 185.8 188.7 185.0 188.6 183.8 188.4 183.0 188.1 182.2 187.7 181.4 187.1 180.7 186.6 180.2 186.1 179.5 185.4 179.0 184.7 178.6 184.1 178.2 183.3 177.8 182.3 177.5 181.4 177.4 180.6 177.3 179.4 177.4 178.2 177.5 177.4 177.6 176.2 177.7 175.0 177.7 173.8 177.7 172.6 177.7 171.4 177.7 170.2 177.7 169.0 177.7 167.8 177.7 166.6 177.7 165.4 177.7 164.2 177.7 163.0 177.7 161.8 177.7 160.6 177.7 159.4 177.6 158.2 177.3 157.4 176.9 156.6 176.5 155.8 176.2 155.0 175.8 153.8 175.7 153.0 175.7 151.8 175.7 150.6 175.8 149.8 176.0 148.6 176.3 147.8 176.7 147.0 177.2 146.2 177.8 145.5 178.4 145.0 179.0 144.6 179.8 144.1 180.6 143.6 181.4 143.0 182.0 142.6 182.7 142.2 183.7 141.8 184.6 141.6 185.8 141.4 187.0 141.4 188.2 141.6 189.0 141.9 189.8 142.2 190.6 142.7 191.4 143.2 192.2 143.5 193.0 143.8 193.9 144.2 194.6 144.6 195.4 145.2 196.0 145.8 196.6 146.5 197.0 147.2 197.4 148.1 197.7 149.0 197.8 149.8 197.9 151.0 197.9 152.2 197.8 153.4 197.7 154.2 197.4 155.1 197.0 156.0 196.6 156.7 196.1 157.4 195.7 158.2 195.5 159.4 195.6 160.6 195.7 161.8 195.8 162.6 195.9 163.8 195.9 165.0 195.9 166.2 195.9 167.4 195.9 168.6 195.9 169.8 195.9 171.0 195.9 172.2 195.9 173.4 195.9 174.6 195.9 175.8 195.9 177.0 195.9 178.2 195.9 179.4 195.8 180.6 195.7 181.4 195.4 182.3 195.0 183.3 194.6 184.1 194.2 184.7 193.7 185.4 193.0 186.1 192.5 186.6 191.8 187.1 191.0 187.7 190.2 188.1 189.4 188.4 188.2 188.6zM189.0 188.6 187.8 188.8 186.6 188.9 185.4 188.8 184.2 188.6 183.4 188.4 182.6 188.1 181.8 187.6 181.0 187.0 180.5 186.6 179.8 185.9 179.3 185.4 178.7 184.6 178.3 183.8 177.9 183.0 177.6 182.2 177.4 181.4 177.2 180.2 177.1 179.0 177.2 177.8 177.4 177.0 177.5 175.8 177.5 174.6 177.5 173.4 177.5 172.2 177.5 171.0 177.5 169.8 177.5 168.6 177.5 167.4 177.5 166.2 177.5 165.0 177.5 163.8 177.5 162.6 177.5 161.4 177.5 160.2 177.5 159.0 177.4 158.0 177.0 157.1 176.6 156.4 176.2 155.5 175.9 154.6 175.7 153.8 175.5 152.6 175.5 151.4 175.6 150.2 175.8 149.0 176.0 148.2 176.3 147.4 176.7 146.6 177.3 145.8 177.8 145.3 178.6 144.7 179.4 144.2 180.0 143.8 180.6 143.2 181.4 142.6 182.0 142.2 182.8 141.8 183.8 141.4 184.6 141.2 185.8 141.1 187.0 141.1 188.2 141.3 189.0 141.6 189.8 141.9 190.6 142.3 191.4 142.9 192.2 143.3 193.0 143.6 193.8 143.9 194.6 144.4 195.4 145.0 195.9 145.4 196.6 146.2 197.0 146.8 197.4 147.7 197.7 148.6 197.9 149.4 198.1 150.6 198.1 151.8 198.0 153.0 197.8 154.2 197.6 155.0 197.3 155.8 196.9 156.6 196.3 157.4 195.9 158.2 195.7 159.0 195.7 160.2 195.8 161.4 196.0 162.2 196.1 163.4 196.1 164.6 196.1 165.8 196.1 167.0 196.1 168.2 196.1 169.4 196.1 170.6 196.1 171.8 196.1 173.0 196.1 174.2 196.1 175.4 196.1 176.6 196.1 177.8 196.1 179.0 196.0 180.2 195.8 181.4 195.6 182.2 195.3 183.0 194.9 183.8 194.5 184.6 193.9 185.4 193.4 185.9 192.7 186.6 192.2 187.0 191.4 187.6 190.6 188.1 189.8 188.4 189.0 188.6zM186.6 189.0 185.8 189.0 184.6 188.9 183.6 188.6 182.6 188.2 181.9 187.8 181.3 187.4 180.6 186.9 179.9 186.2 179.4 185.7 178.8 185.0 178.3 184.2 177.9 183.4 177.6 182.6 177.3 181.8 177.1 180.6 177.0 179.4 177.1 178.2 177.2 177.0 177.4 175.8 177.4 174.6 177.4 173.4 177.4 172.2 177.4 171.0 177.4 169.8 177.4 168.6 177.4 167.4 177.4 166.2 177.4 165.0 177.4 163.8 177.4 162.6 177.4 161.4 177.4 160.2 177.4 159.0 177.1 157.8 176.8 157.0 176.3 156.2 176.0 155.4 175.7 154.6 175.5 153.4 175.4 152.2 175.4 151.4 175.4 150.6 175.5 149.4 175.8 148.4 176.1 147.4 176.6 146.6 177.0 146.0 177.5 145.4 178.2 144.8 179.0 144.2 179.6 143.8 180.2 143.2 180.9 142.6 181.5 142.2 182.2 141.8 183.0 141.4 184.2 141.0 185.0 140.9 186.2 140.8 187.4 140.9 188.2 141.0 189.4 141.4 190.2 141.8 190.9 142.2 191.5 142.6 192.2 143.1 193.0 143.4 193.8 143.8 194.6 144.2 195.4 144.8 196.1 145.4 196.6 146.0 197.0 146.6 197.5 147.4 197.8 148.4 198.1 149.4 198.2 150.6 198.2 151.4 198.2 152.2 198.1 153.4 197.9 154.6 197.6 155.4 197.3 156.2 196.8 157.0 196.3 157.8 195.9 158.6 195.8 159.8 195.9 161.0 196.1 162.2 196.2 163.4 196.2 164.2 196.2 165.4 196.2 166.6 196.2 167.8 196.2 169.0 196.2 170.2 196.2 171.4 196.2 172.6 196.2 173.8 196.2 175.0 196.2 176.2 196.2 177.4 196.2 178.6 196.2 179.4 196.1 180.6 195.9 181.8 195.6 182.6 195.3 183.4 194.9 184.2 194.4 185.0 193.8 185.7 193.3 186.2 192.6 186.9 191.9 187.4 191.3 187.8 190.6 188.2 189.6 188.6 188.6 188.9 187.4 189.0 186.6 189.0z" fill="none" stroke="#222" stroke-width="0.45" stroke-linejoin="round"/>
<path d="M221.0 177.0 220.2 176.9 219.1 176.6 218.4 176.2 217.8 175.7 217.1 175.0 216.6 174.4 216.2 173.8 215.8 173.0 215.4 172.0 215.1 171.0 214.9 170.2 214.8 169.0 214.8 167.8 214.8 166.6 215.0 165.5 215.2 164.6 215.5 163.8 215.8 163.0 216.2 162.2 216.7 161.4 217.4 160.6 217.9 160.2 218.6 159.7 219.4 159.3 220.6 159.0 221.2 159.0 222.2 159.2 223.0 159.5 223.8 159.9 224.6 160.6 225.0 161.1 225.5 161.8 226.0 162.6 226.4 163.4 226.7 164.2 227.0 165.4 227.1 166.2 227.2 167.4 227.2 168.6 227.1 169.8 227.0 170.6 226.7 171.8 226.4 172.6 226.0 173.4 225.5 174.2 225.0 174.9 224.6 175.4 223.8 176.1 223.0 176.5 222.2 176.8 221.2 177.0zM222.6 180.7 221.4 180.9 220.2 180.9 219.1 180.6 218.2 180.3 217.4 179.8 216.8 179.4 216.2 178.9 215.5 178.2 215.0 177.6 214.6 177.0 214.1 176.2 213.7 175.4 213.3 174.6 213.0 173.8 212.6 172.6 212.4 171.8 212.2 170.6 212.1 169.8 212.1 168.6 212.1 167.4 212.1 166.2 212.2 165.4 212.4 164.2 212.6 163.4 213.0 162.2 213.3 161.4 213.7 160.6 214.1 159.8 214.6 159.0 215.0 158.4 215.5 157.8 216.2 157.1 216.8 156.6 217.4 156.2 218.2 155.7 219.1 155.4 220.2 155.1 221.4 155.1 222.6 155.3 223.4 155.6 224.2 156.0 225.0 156.5 225.7 157.0 226.2 157.5 226.8 158.2 227.4 159.0 227.8 159.6 228.2 160.3 228.6 161.2 229.0 162.2 229.2 163.0 229.4 164.0 229.5 165.0 229.6 166.2 229.7 167.4 229.7 168.6 229.6 169.8 229.5 171.0 229.4 172.0 229.2 173.0 229.0 173.8 228.6 174.8 228.2 175.7 227.8 176.4 227.4 177.0 226.8 177.8 226.2 178.5 225.7 179.0 225.0 179.5 224.2 180.0 223.4 180.4 222.6 180.7zM222.2 183.9 221.0 184.0 219.8 183.9 219.0 183.7 218.1 183.4 217.2 183.0 216.5 182.6 215.8 182.1 215.0 181.4 214.6 181.0 213.9 180.2 213.4 179.6 213.0 179.0 212.5 178.2 212.1 177.4 211.7 176.6 211.3 175.8 211.0 174.8 210.7 173.8 210.5 173.0 210.3 171.8 210.1 171.0 210.0 169.8 209.9 168.6 209.9 167.4 210.0 166.2 210.1 165.0 210.3 164.2 210.5 163.0 210.7 162.2 211.0 161.2 211.3 160.2 211.7 159.4 212.1 158.6 212.5 157.8 213.0 157.0 213.4 156.4 213.9 155.8 214.6 155.0 215.0 154.6 215.8 153.9 216.5 153.4 217.2 153.0 218.1 152.6 219.0 152.3 219.8 152.1 221.0 152.0 222.2 152.1 223.0 152.3 223.9 152.6 224.8 153.0 225.5 153.4 226.2 153.9 227.0 154.6 227.4 155.0 228.1 155.8 228.6 156.4 229.0 157.0 229.4 157.8 229.8 159.0 229.9 159.8 230.1 161.0 230.2 161.8 230.3 163.0 230.4 164.2 230.4 165.4 230.4 166.6 230.5 167.8 230.5 169.0 230.4 170.2 230.4 171.4 230.3 172.6 230.2 173.8 230.2 174.6 230.0 175.8 229.8 177.0 229.5 177.8 229.2 178.6 228.7 179.4 228.2 180.1 227.8 180.6 227.0 181.4 226.6 181.8 225.8 182.4 225.0 182.9 224.2 183.3 223.4 183.6 222.5 183.8zM221.4 186.6 220.6 186.6 219.4 186.5 218.3 186.2 217.4 185.9 216.6 185.5 215.8 185.0 215.2 184.6 214.6 184.2 213.8 183.4 213.4 183.0 212.7 182.2 212.2 181.6 211.8 181.0 211.3 180.2 210.8 179.4 210.4 178.6 210.0 177.8 209.7 177.0 209.4 176.2 209.0 175.0 208.8 174.2 208.6 173.2 208.4 172.2 208.3 171.0 208.2 170.2 208.1 169.0 208.1 167.8 208.1 166.6 208.2 165.6 208.3 164.6 208.5 163.4 208.6 162.6 208.9 161.4 209.2 160.6 209.4 159.8 209.8 158.7 210.2 157.8 210.6 157.0 211.0 156.2 211.4 155.6 211.8 154.9 212.3 154.2 213.0 153.4 213.4 153.0 214.2 152.2 214.6 151.8 215.4 151.2 216.2 150.7 217.0 150.3 217.8 150.0 218.6 149.7 219.8 149.5 220.6 149.4 221.4 149.4 222.6 149.5 223.7 149.8 224.6 150.1 225.4 150.5 226.2 151.0 226.8 151.4 227.4 151.8 228.2 152.6 228.6 153.0 229.3 153.8 229.7 154.6 229.9 155.4 230.2 156.5 230.3 157.4 230.5 158.6 230.6 159.8 230.6 160.6 230.7 161.8 230.8 163.0 230.8 164.2 230.8 165.4 230.8 166.6 230.8 167.8 230.8 169.0 230.8 170.2 230.8 171.4 230.8 172.6 230.7 173.8 230.7 175.0 230.6 175.9 230.5 177.0 230.4 178.2 230.3 179.4 230.2 180.3 229.8 181.4 229.4 182.1 229.0 182.6 228.2 183.4 227.8 183.8 227.0 184.5 226.2 185.0 225.6 185.4 224.8 185.8 223.8 186.2 223.0 186.4 221.8 186.6zM221.8 189.0 220.6 189.0 219.8 189.0 218.6 188.8 217.8 188.5 216.9 188.2 216.0 187.8 215.3 187.4 214.6 186.9 213.8 186.3 213.2 185.8 212.6 185.2 212.0 184.6 211.4 183.9 211.0 183.3 210.5 182.6 210.0 181.8 209.5 181.0 209.1 180.2 208.7 179.4 208.4 178.6 208.1 177.8 207.8 177.0 207.4 175.8 207.2 175.0 207.0 174.0 206.8 173.0 206.6 171.8 206.5 171.0 206.4 169.8 206.4 168.6 206.4 167.4 206.4 166.2 206.5 165.0 206.6 164.2 206.8 163.0 207.0 162.0 207.2 161.0 207.4 160.2 207.8 159.0 208.1 158.2 208.4 157.4 208.7 156.6 209.1 155.8 209.5 155.0 210.0 154.2 210.5 153.4 211.0 152.7 211.4 152.1 212.0 151.4 212.6 150.8 213.2 150.2 213.8 149.7 214.6 149.1 215.3 148.6 216.1 148.2 217.0 147.8 217.8 147.6 218.6 147.4 219.8 147.2 221.0 147.2 222.2 147.2 223.4 147.4 224.2 147.5 225.0 147.8 225.9 148.2 226.6 148.6 227.4 149.2 228.2 149.8 228.6 150.2 229.4 151.0 229.8 151.7 230.1 152.6 230.3 153.4 230.5 154.6 230.6 155.6 230.7 156.6 230.8 157.8 230.9 159.0 230.9 160.2 231.0 161.4 231.0 162.2 231.1 163.4 231.1 164.6 231.1 165.8 231.1 167.0 231.1 168.2 231.1 169.4 231.1 170.6 231.1 171.8 231.0 173.0 231.0 174.2 231.0 175.0 230.9 176.2 230.8 177.4 230.8 178.6 230.8 179.8 230.8 181.0 230.6 182.2 230.5 183.0 230.2 183.9 229.8 184.7 229.2 185.4 228.6 186.0 227.8 186.6 227.3 187.0 226.6 187.4 225.8 187.9 225.0 188.2 224.0 188.6 223.0 188.9 222.0 189.0zM223.8 191.0 222.6 191.3 221.4 191.4 220.2 191.4 219.0 191.2 218.0 191.0 217.0 190.7 216.2 190.4 215.4 190.0 214.6 189.5 213.8 189.0 213.3 188.6 212.6 188.0 211.9 187.4 211.4 186.9 210.8 186.2 210.2 185.5 209.8 184.9 209.3 184.2 208.8 183.4 208.3 182.6 207.9 181.8 207.5 181.0 207.1 180.2 206.8 179.4 206.5 178.6 206.2 177.6 205.9 176.6 205.7 175.8 205.4 174.6 205.3 173.8 205.1 172.6 205.0 171.8 204.9 170.6 204.8 169.4 204.8 168.2 204.8 167.0 204.8 165.8 204.9 164.6 205.0 163.8 205.2 162.6 205.4 161.5 205.6 160.6 205.8 159.8 206.1 158.6 206.4 157.8 206.7 157.0 207.0 156.2 207.4 155.2 207.8 154.4 208.2 153.6 208.6 152.9 209.0 152.2 209.6 151.4 210.1 150.6 210.6 150.0 211.2 149.4 211.8 148.7 212.4 148.2 213.0 147.8 213.8 147.4 215.0 147.1 215.8 147.0 217.0 146.8 218.1 146.6 219.0 146.4 220.2 146.4 221.4 146.4 222.6 146.4 223.8 146.4 225.0 146.6 225.8 146.8 226.6 147.3 227.2 147.8 227.8 148.4 228.6 149.0 229.1 149.4 229.8 150.1 230.2 150.6 230.5 151.8 230.6 152.6 230.8 153.8 230.9 155.0 231.0 156.2 231.0 157.0 231.1 158.2 231.2 159.4 231.2 160.6 231.2 161.8 231.3 163.0 231.3 164.2 231.3 165.4 231.3 166.6 231.3 167.8 231.3 169.0 231.3 170.2 231.3 171.4 231.3 172.6 231.3 173.8 231.2 175.0 231.2 176.2 231.1 177.4 231.1 178.6 231.2 179.8 231.2 181.0 231.1 182.2 231.0 183.3 230.9 184.2 230.6 185.4 230.4 186.2 229.9 187.0 229.4 187.7 228.9 188.2 228.2 188.9 227.5 189.4 226.9 189.8 226.1 190.2 225.2 190.6 224.2 190.9zM223.8 193.4 222.6 193.6 221.4 193.7 220.2 193.7 219.0 193.6 218.1 193.4 217.0 193.1 216.2 192.8 215.4 192.4 214.6 192.0 213.8 191.6 213.0 191.0 212.4 190.6 211.8 190.1 211.1 189.4 210.6 188.9 209.9 188.2 209.4 187.6 209.0 187.0 208.4 186.2 207.8 185.4 207.4 184.7 207.0 184.0 206.6 183.2 206.2 182.4 205.8 181.5 205.4 180.6 205.1 179.8 204.9 179.0 204.6 178.2 204.3 177.0 204.1 176.2 203.8 175.0 203.7 174.2 203.5 173.0 203.4 172.2 203.3 171.0 203.2 169.8 203.1 168.6 203.1 167.4 203.2 166.2 203.3 165.0 203.4 163.8 203.5 163.0 203.7 161.8 203.8 161.0 204.1 159.8 204.3 159.0 204.6 157.8 204.9 157.0 205.1 156.2 205.4 155.4 205.8 154.5 206.2 153.6 206.6 152.8 207.0 152.0 207.4 151.3 207.8 150.6 208.4 149.8 209.0 149.0 209.4 148.4 210.0 147.8 210.7 147.4 211.8 147.0 212.6 146.9 213.8 146.7 214.6 146.6 215.8 146.5 217.0 146.4 218.0 146.2 219.0 146.0 220.2 146.0 221.4 146.0 222.6 146.0 223.8 146.0 225.0 146.1 225.8 146.3 226.6 146.7 227.4 147.4 227.8 147.8 228.6 148.5 229.3 149.0 229.8 149.4 230.4 150.2 230.8 151.0 230.9 152.2 231.0 153.0 231.1 154.2 231.2 155.4 231.2 156.6 231.3 157.8 231.3 159.0 231.4 160.2 231.4 161.0 231.4 162.2 231.5 163.4 231.5 164.6 231.5 165.8 231.5 167.0 231.5 168.2 231.5 169.4 231.5 170.6 231.5 171.8 231.5 173.0 231.4 174.2 231.4 175.3 231.4 176.2 231.3 177.4 231.3 178.6 231.4 179.6 231.5 180.6 231.5 181.8 231.4 182.6 231.3 183.8 231.2 185.0 231.0 186.1 230.7 187.0 230.2 187.8 229.8 188.4 229.4 189.0 228.8 189.8 228.2 190.6 227.8 191.1 227.1 191.8 226.6 192.3 225.8 192.8 225.0 193.1 223.9 193.4zM223.8 195.9 222.6 196.1 221.4 196.2 220.2 196.2 219.0 196.1 217.8 195.8 217.0 195.6 216.2 195.3 215.4 195.0 214.5 194.6 213.8 194.2 213.0 193.7 212.2 193.2 211.4 192.6 211.0 192.2 210.2 191.5 209.7 191.0 209.0 190.3 208.6 189.8 207.9 189.0 207.4 188.3 207.0 187.7 206.5 187.0 206.1 186.2 205.6 185.4 205.2 184.6 204.8 183.8 204.4 183.0 204.1 182.2 203.8 181.4 203.4 180.3 203.1 179.4 202.9 178.6 202.6 177.6 202.4 176.6 202.2 175.8 202.0 174.6 201.8 173.4 201.7 172.6 201.6 171.4 201.5 170.2 201.5 169.0 201.4 167.8 201.5 166.6 201.5 165.4 201.6 164.2 201.7 163.0 201.9 162.2 202.0 161.0 202.2 160.2 202.5 159.0 202.7 158.2 203.0 157.0 203.2 156.2 203.5 155.4 203.8 154.6 204.2 153.6 204.6 152.6 205.0 151.8 205.4 151.0 205.8 150.2 206.2 149.6 206.6 148.9 207.1 148.2 207.8 147.6 208.6 147.2 209.4 146.9 210.6 146.7 211.4 146.6 212.6 146.4 213.8 146.3 215.0 146.2 215.8 146.2 217.0 146.1 218.2 145.9 219.0 145.7 220.2 145.7 221.4 145.7 222.6 145.7 223.8 145.7 225.0 145.8 225.8 145.9 226.6 146.3 227.4 147.0 227.8 147.4 228.6 148.1 229.2 148.6 229.8 149.1 230.5 149.8 230.9 150.6 231.1 151.4 231.2 152.6 231.3 153.8 231.4 155.0 231.4 156.0 231.4 157.0 231.5 158.2 231.5 159.4 231.6 160.6 231.6 161.8 231.6 163.0 231.6 164.2 231.7 165.4 231.7 166.6 231.7 167.8 231.7 169.0 231.7 170.2 231.7 171.4 231.6 172.6 231.6 173.8 231.6 175.0 231.6 176.2 231.5 177.4 231.5 178.6 231.6 179.8 231.7 181.0 231.7 182.2 231.6 183.4 231.5 184.6 231.4 185.6 231.2 186.6 230.9 187.4 230.4 188.2 229.9 189.0 229.4 189.8 229.0 190.4 228.6 191.0 228.0 191.8 227.5 192.6 227.0 193.2 226.5 193.8 225.8 194.6 225.4 195.0 224.6 195.6 223.8 195.9zM219.0 197.8 217.8 197.9 216.6 197.8 215.8 197.7 214.6 197.4 213.8 197.1 213.0 196.7 212.2 196.2 211.6 195.8 211.0 195.4 210.2 194.8 209.6 194.2 209.0 193.7 208.3 193.0 207.8 192.4 207.3 191.8 206.6 191.0 206.2 190.4 205.7 189.8 205.2 189.0 204.7 188.2 204.3 187.4 203.8 186.6 203.4 185.8 203.1 185.0 202.7 184.2 202.4 183.4 202.1 182.6 201.8 181.8 201.4 180.6 201.2 179.8 201.0 179.0 200.7 177.8 200.6 177.0 200.4 175.8 200.3 174.6 200.2 173.7 200.1 172.6 200.1 171.4 200.1 170.2 200.0 169.0 200.0 167.8 200.0 166.6 200.1 165.4 200.1 164.2 200.2 163.0 200.2 162.2 200.3 161.0 200.5 159.8 200.6 158.7 200.8 157.8 201.0 156.8 201.3 155.8 201.5 155.0 201.8 154.1 202.2 153.0 202.5 152.2 202.9 151.4 203.2 150.6 203.6 149.8 204.0 149.0 204.6 148.2 205.2 147.8 206.1 147.4 207.0 147.1 207.8 146.8 208.6 146.6 209.8 146.4 211.0 146.3 211.8 146.2 213.0 146.1 214.2 146.0 215.4 146.0 216.6 145.9 217.5 145.8 218.6 145.6 219.8 145.5 221.0 145.5 222.2 145.5 223.4 145.5 224.6 145.5 225.8 145.7 226.6 146.1 227.3 146.6 227.8 147.1 228.6 147.8 229.1 148.2 229.8 148.8 230.5 149.4 231.0 150.2 231.3 151.0 231.4 152.2 231.4 153.0 231.5 154.2 231.6 155.4 231.6 156.6 231.6 157.8 231.7 159.0 231.7 160.2 231.7 161.4 231.8 162.6 231.8 163.8 231.8 165.0 231.8 166.2 231.8 167.4 231.8 168.6 231.8 169.8 231.8 171.0 231.8 172.2 231.8 173.4 231.7 174.6 231.7 175.8 231.7 177.0 231.7 178.2 231.7 179.4 231.9 180.2 231.9 181.4 231.8 182.6 231.8 183.4 231.7 184.6 231.6 185.8 231.4 186.9 231.0 187.7 230.6 188.4 230.2 189.0 229.7 189.8 229.3 190.6 228.7 191.4 228.2 192.2 227.8 192.8 227.4 193.4 226.8 194.2 226.3 195.0 225.8 195.6 225.4 196.2 224.6 197.0 223.9 197.4 223.0 197.6 221.8 197.8 220.6 197.8 219.4 197.8zM222.6 198.2 221.4 198.3 220.2 198.3 219.0 198.4 217.8 198.5 216.6 198.5 215.4 198.5 214.2 198.5 213.0 198.3 212.2 197.8 211.5 197.4 210.9 197.0 210.2 196.6 209.4 196.0 208.6 195.5 208.0 195.0 207.4 194.6 206.6 193.9 205.9 193.4 205.4 193.0 204.6 192.2 204.2 191.7 203.8 191.0 203.4 190.2 203.0 189.2 202.6 188.2 202.3 187.4 202.0 186.6 201.7 185.8 201.4 185.0 201.0 183.9 200.7 183.0 200.4 182.2 200.2 181.4 199.9 180.2 199.8 179.4 199.7 178.2 199.6 177.0 199.6 175.8 199.5 174.6 199.5 173.4 199.5 172.2 199.5 171.0 199.4 169.8 199.4 168.6 199.4 167.4 199.4 166.2 199.5 165.0 199.5 163.8 199.5 162.6 199.5 161.4 199.6 160.2 199.6 159.0 199.7 157.8 199.8 156.6 199.8 155.8 199.9 154.6 200.1 153.4 200.2 152.3 200.4 151.4 200.6 150.3 200.9 149.4 201.3 148.6 201.8 148.1 202.6 147.7 203.4 147.4 204.6 147.2 205.4 147.0 206.6 146.8 207.4 146.5 208.6 146.3 209.4 146.2 210.6 146.1 211.8 146.0 213.0 145.9 214.2 145.8 215.0 145.8 216.2 145.7 217.4 145.6 218.6 145.4 219.4 145.3 220.6 145.3 221.8 145.3 223.0 145.3 224.2 145.3 225.3 145.4 226.2 145.6 227.0 146.1 227.6 146.6 228.2 147.2 228.9 147.8 229.4 148.2 230.2 148.9 230.7 149.4 231.2 150.2 231.5 151.0 231.6 152.2 231.6 153.4 231.7 154.6 231.7 155.8 231.8 157.0 231.8 158.2 231.8 159.0 231.8 160.2 231.9 161.4 231.9 162.6 231.9 163.8 231.9 165.0 231.9 166.2 231.9 167.4 231.9 168.6 231.9 169.8 231.9 171.0 231.9 172.2 231.9 173.4 231.9 174.6 231.8 175.8 231.8 177.0 231.8 177.8 231.8 178.6 232.0 179.8 232.1 181.0 232.0 182.2 232.0 183.4 231.9 184.6 231.8 185.8 231.7 186.6 231.4 187.4 231.0 188.2 230.5 189.0 230.0 189.8 229.5 190.6 229.0 191.4 228.6 192.1 228.2 192.7 227.8 193.4 227.2 194.2 226.7 195.0 226.2 195.7 225.8 196.3 225.3 197.0 224.6 197.6 223.8 198.0 222.9 198.2zM221.0 198.6 219.8 198.6 218.6 198.8 217.4 198.9 216.2 198.9 215.0 198.9 213.8 198.9 212.6 198.6 211.9 198.2 211.3 197.8 210.6 197.4 209.8 196.9 209.0 196.3 208.2 195.8 207.6 195.4 207.0 194.9 206.2 194.4 205.4 193.8 204.8 193.4 204.2 192.9 203.6 192.2 203.1 191.4 202.8 190.6 202.5 189.8 202.2 188.9 201.8 187.8 201.5 187.0 201.3 186.2 201.0 185.4 200.6 184.3 200.3 183.4 200.0 182.6 199.8 181.8 199.4 180.6 199.3 179.8 199.3 178.6 199.2 177.4 199.2 176.2 199.2 175.0 199.1 173.8 199.1 172.6 199.1 171.4 199.1 170.2 199.1 169.0 199.1 167.8 199.1 166.6 199.1 165.4 199.1 164.2 199.1 163.0 199.1 161.8 199.2 160.6 199.2 159.4 199.2 158.2 199.3 157.0 199.3 155.8 199.4 154.6 199.4 153.6 199.5 152.6 199.5 151.4 199.6 150.2 199.7 149.0 199.8 147.9 200.2 147.4 201.4 147.1 202.3 147.0 203.4 146.9 204.6 146.7 205.8 146.6 206.6 146.5 207.5 146.2 208.6 146.0 209.8 145.9 211.0 145.8 211.8 145.8 213.0 145.7 214.2 145.6 215.4 145.6 216.6 145.6 217.7 145.4 218.6 145.2 219.8 145.1 221.0 145.1 222.2 145.1 223.4 145.2 224.6 145.2 225.8 145.3 226.6 145.6 227.4 146.2 227.8 146.6 228.6 147.4 229.1 147.8 229.8 148.3 230.6 149.0 231.0 149.5 231.4 150.2 231.7 151.4 231.7 152.6 231.8 153.8 231.8 154.7 231.8 155.8 231.9 157.0 231.9 158.2 232.0 159.4 232.0 160.6 232.0 161.8 232.0 163.0 232.0 164.2 232.1 165.4 232.1 166.6 232.1 167.8 232.1 169.0 232.1 170.2 232.0 171.4 232.0 172.6 232.0 173.8 232.0 175.0 232.0 176.2 231.9 177.4 232.0 178.6 232.1 179.8 232.2 181.0 232.2 182.2 232.1 183.4 232.1 184.6 232.0 185.8 231.8 186.8 231.4 187.8 231.0 188.5 230.6 189.1 230.2 189.8 229.8 190.6 229.3 191.4 228.8 192.2 228.3 193.0 227.8 193.8 227.4 194.4 227.0 195.0 226.5 195.8 226.0 196.6 225.4 197.4 224.9 197.8 224.2 198.2 223.0 198.5 221.8 198.6 221.0 198.6zM218.6 199.0 217.4 199.2 216.2 199.1 215.0 199.2 213.8 199.2 212.7 199.0 212.0 198.6 211.4 198.2 210.6 197.7 209.8 197.2 209.0 196.7 208.2 196.2 207.7 195.8 207.0 195.3 206.2 194.8 205.4 194.2 204.8 193.8 204.2 193.4 203.4 192.6 203.0 192.0 202.6 191.1 202.3 190.2 202.0 189.4 201.7 188.6 201.4 187.6 201.0 186.6 200.8 185.8 200.5 185.0 200.2 184.1 199.8 183.0 199.6 182.2 199.3 181.4 199.0 180.2 199.0 179.4 199.0 178.2 198.9 177.0 198.9 175.8 198.9 174.6 198.9 173.4 198.9 172.2 198.8 171.0 198.8 169.8 198.8 168.6 198.8 167.4 198.8 166.2 198.8 165.0 198.9 163.8 198.9 162.6 198.9 161.4 198.9 160.2 198.9 159.0 199.0 157.8 199.0 156.6 199.0 155.8 199.0 154.6 199.1 153.4 199.1 152.2 199.1 151.0 199.2 149.8 199.2 148.6 199.4 147.5 199.9 147.0 201.0 146.8 202.2 146.7 203.0 146.6 204.2 146.5 205.4 146.4 206.6 146.2 207.4 146.0 208.6 145.8 209.4 145.7 210.6 145.7 211.8 145.6 213.0 145.5 214.2 145.5 215.4 145.5 216.6 145.4 217.4 145.3 218.6 145.1 219.8 145.0 221.0 145.0 222.2 145.0 223.4 145.0 224.6 145.0 225.8 145.2 226.6 145.5 227.4 146.0 228.0 146.6 228.6 147.2 229.4 147.8 229.9 148.2 230.6 148.8 231.1 149.4 231.6 150.2 231.8 151.4 231.8 152.2 231.9 153.4 231.9 154.6 232.0 155.8 232.0 157.0 232.1 158.2 232.1 159.4 232.1 160.6 232.1 161.8 232.1 163.0 232.1 164.2 232.1 165.4 232.2 166.6 232.2 167.8 232.2 169.0 232.2 170.2 232.1 171.4 232.1 172.6 232.1 173.8 232.1 175.0 232.1 176.2 232.1 177.4 232.1 178.6 232.2 179.7 232.3 180.6 232.3 181.8 232.3 183.0 232.2 184.1 232.2 185.0 232.1 186.2 231.8 187.3 231.4 188.1 231.0 188.8 230.6 189.4 230.2 190.2 229.7 191.0 229.2 191.8 228.7 192.6 228.2 193.4 227.8 194.1 227.4 194.7 226.9 195.4 226.5 196.2 226.0 197.0 225.4 197.7 224.8 198.2 223.8 198.6 223.0 198.7 221.8 198.8 220.6 198.8 219.4 198.9 218.6 199.0zM214.2 199.4 213.1 199.4 212.2 199.0 211.6 198.6 210.9 198.2 210.2 197.8 209.4 197.3 208.6 196.7 207.8 196.2 207.2 195.8 206.6 195.4 205.8 194.8 205.0 194.3 204.4 193.8 203.8 193.4 203.1 192.6 202.6 191.8 202.3 191.0 202.0 190.2 201.7 189.4 201.4 188.4 201.1 187.4 200.8 186.6 200.5 185.8 200.2 184.9 199.8 183.8 199.6 183.0 199.3 182.2 199.0 181.2 198.8 180.2 198.7 179.0 198.7 177.8 198.7 176.6 198.7 175.4 198.7 174.2 198.7 173.0 198.6 171.8 198.6 170.6 198.6 169.4 198.6 168.2 198.6 167.0 198.6 165.8 198.6 164.6 198.7 163.4 198.7 162.2 198.7 161.0 198.7 159.8 198.7 158.6 198.7 157.4 198.8 156.2 198.8 155.0 198.8 153.8 198.8 152.6 198.9 151.4 198.9 150.2 198.9 149.0 199.0 147.8 199.3 147.0 200.1 146.6 201.0 146.5 202.2 146.4 203.4 146.3 204.6 146.3 205.4 146.2 206.6 146.0 207.6 145.8 208.6 145.6 209.8 145.6 211.0 145.5 212.2 145.4 213.4 145.4 214.2 145.4 215.4 145.3 216.6 145.3 217.8 145.1 218.6 145.0 219.8 144.9 221.0 144.9 222.2 144.9 223.4 144.9 224.6 144.9 225.6 145.0 226.6 145.3 227.3 145.8 227.8 146.2 228.6 147.0 229.1 147.4 229.8 148.0 230.6 148.6 231.0 149.1 231.5 149.8 231.8 150.6 232.0 151.8 232.0 153.0 232.1 154.2 232.1 155.4 232.1 156.6 232.1 157.8 232.2 159.0 232.2 160.2 232.2 161.4 232.2 162.2 232.2 163.4 232.2 164.6 232.3 165.8 232.3 167.0 232.3 168.2 232.3 169.4 232.3 170.6 232.2 171.8 232.2 173.0 232.2 174.2 232.2 175.0 232.2 176.2 232.2 177.4 232.2 178.6 232.3 179.4 232.4 180.6 232.4 181.8 232.4 183.0 232.3 184.2 232.3 185.4 232.2 186.3 231.9 187.4 231.5 188.2 231.0 189.0 230.6 189.7 230.2 190.4 229.8 191.2 229.4 191.8 228.9 192.6 228.4 193.4 227.9 194.2 227.4 195.0 227.0 195.6 226.6 196.3 226.2 197.0 225.6 197.8 225.0 198.3 224.2 198.7 223.0 198.9 222.2 199.0 221.0 199.0 219.8 199.1 218.6 199.2 217.4 199.4 216.2 199.4 215.0 199.4 214.2 199.4zM218.6 199.4 217.4 199.5 216.2 199.5 215.0 199.6 213.8 199.7 212.6 199.4 211.8 199.0 211.2 198.6 210.6 198.2 209.8 197.7 209.0 197.2 208.2 196.7 207.5 196.2 206.9 195.8 206.2 195.3 205.4 194.8 204.6 194.2 204.0 193.8 203.4 193.3 202.8 192.6 202.4 191.8 202.1 191.0 201.8 190.2 201.4 189.0 201.1 188.2 200.8 187.4 200.6 186.6 200.2 185.5 199.9 184.6 199.6 183.8 199.4 183.0 199.0 181.9 198.7 181.0 198.6 180.0 198.6 179.0 198.5 177.8 198.5 176.6 198.5 175.4 198.5 174.2 198.5 173.0 198.5 171.8 198.5 170.6 198.5 169.4 198.5 168.2 198.5 167.0 198.5 165.8 198.5 164.6 198.5 163.4 198.5 162.2 198.5 161.0 198.5 159.8 198.5 158.6 198.5 157.4 198.6 156.2 198.6 155.0 198.6 154.2 198.6 153.0 198.6 151.8 198.7 150.6 198.7 149.4 198.7 148.2 199.0 147.0 199.4 146.6 200.6 146.3 201.8 146.2 202.6 146.2 203.8 146.1 205.0 146.0 206.2 145.9 207.0 145.8 208.2 145.5 209.4 145.4 210.3 145.4 211.4 145.3 212.6 145.3 213.8 145.2 215.0 145.2 216.2 145.2 217.4 145.1 218.2 144.9 219.4 144.8 220.6 144.7 221.8 144.7 223.0 144.8 224.2 144.8 225.4 144.8 226.2 145.0 227.0 145.4 227.8 146.1 228.4 146.6 229.0 147.2 229.8 147.8 230.3 148.2 231.0 148.9 231.4 149.4 231.8 150.2 232.1 151.4 232.1 152.6 232.1 153.8 232.2 155.0 232.2 156.2 232.2 157.0 232.3 158.2 232.3 159.4 232.3 160.6 232.3 161.8 232.3 163.0 232.4 164.2 232.4 165.4 232.4 166.6 232.4 167.8 232.4 169.0 232.4 170.2 232.4 171.4 232.3 172.6 232.3 173.8 232.3 175.0 232.3 176.2 232.3 177.4 232.3 178.6 232.5 179.8 232.5 181.0 232.5 182.2 232.5 183.4 232.4 184.6 232.4 185.8 232.2 186.9 231.9 187.8 231.4 188.6 231.0 189.3 230.6 190.0 230.2 190.7 229.8 191.4 229.3 192.2 228.8 193.0 228.4 193.8 227.9 194.6 227.4 195.3 227.0 195.9 226.6 196.6 226.1 197.4 225.4 198.2 224.8 198.6 223.8 198.9 223.0 199.1 221.8 199.2 220.6 199.2 219.4 199.3 218.6 199.4z" fill="none" stroke="#444" stroke-width="0.42" stroke-linejoin="round"/>
<path d="M201.0 198.7 200.2 198.6 199.8 198.4 199.4 198.0 199.2 197.4 199.3 196.6 199.6 196.2 200.2 195.8 200.6 195.7 201.1 195.8 201.8 196.2 202.0 196.6 202.1 197.4 201.8 198.1 201.4 198.5 201.0 198.7zM200.6 199.8 199.8 199.6 199.0 199.2 198.5 198.6 198.2 197.8 198.2 196.6 198.5 195.8 199.0 195.2 199.8 194.8 200.6 194.6 201.4 194.7 202.2 195.1 202.8 195.8 203.2 196.6 203.2 197.8 202.8 198.6 202.2 199.3 201.4 199.7 200.6 199.8zM201.8 200.3 200.6 200.5 199.5 200.2 198.7 199.8 198.2 199.3 197.7 198.6 197.5 197.4 197.6 196.2 198.0 195.4 198.6 194.7 199.4 194.2 200.2 194.0 201.4 194.0 202.2 194.3 203.0 195.0 203.4 195.5 203.8 196.3 203.9 197.4 203.8 198.2 203.3 199.0 202.6 199.8 201.9 200.2zM201.8 200.7 200.6 200.9 199.4 200.6 198.6 200.3 198.0 199.8 197.4 199.0 197.1 198.2 197.0 197.0 197.3 195.8 197.7 195.0 198.2 194.4 199.0 193.9 199.8 193.6 201.0 193.5 202.1 193.8 202.8 194.2 203.4 194.8 203.9 195.4 204.2 196.2 204.4 197.4 204.2 198.3 203.8 199.1 203.2 199.8 202.6 200.3 201.8 200.7zM214.2 198.4 213.4 198.5 212.6 198.5 211.8 198.4 211.4 197.8 212.2 197.5 213.0 197.4 213.8 197.5 214.6 197.8 214.2 198.4zM201.8 201.1 200.6 201.2 199.4 201.0 198.6 200.6 198.0 200.2 197.4 199.5 197.0 198.8 196.8 197.8 196.8 196.6 197.0 195.6 197.4 194.9 198.0 194.2 198.6 193.8 199.4 193.4 200.6 193.2 201.8 193.3 202.6 193.7 203.3 194.2 203.8 194.7 204.2 195.4 204.6 196.3 204.7 197.4 204.6 198.2 204.2 199.1 203.7 199.8 203.0 200.4 202.2 200.9zM216.2 199.4 215.0 199.6 213.8 199.8 212.6 199.8 211.4 199.7 210.2 199.5 209.4 199.3 208.6 199.0 207.8 198.4 207.8 197.6 208.6 197.0 209.4 196.7 210.2 196.5 211.4 196.3 212.6 196.2 213.8 196.2 215.0 196.4 216.2 196.6 217.0 196.8 217.8 197.2 218.3 197.8 218.0 198.6 217.4 199.0 216.3 199.4zM201.4 201.4 200.2 201.5 199.4 201.3 198.6 200.9 197.8 200.4 197.2 199.8 196.8 199.0 196.6 198.2 196.5 197.0 196.6 196.0 197.0 195.0 197.4 194.4 198.0 193.8 198.7 193.4 199.8 193.0 200.6 192.9 201.6 193.0 202.6 193.4 203.2 193.8 203.8 194.3 204.3 195.0 204.7 195.8 205.0 197.0 204.9 198.2 204.5 199.0 204.0 199.8 203.4 200.4 202.6 201.0 201.8 201.4zM216.2 200.2 215.0 200.4 213.8 200.4 212.6 200.5 211.4 200.4 210.2 200.3 209.4 200.1 208.2 199.9 207.4 199.6 206.6 199.2 205.9 198.6 205.7 197.8 206.2 197.1 206.9 196.6 207.8 196.3 208.6 196.0 209.7 195.8 210.6 195.7 211.8 195.6 213.0 195.5 214.2 195.6 215.4 195.7 216.3 195.8 217.4 196.0 218.2 196.3 219.1 196.6 219.8 197.1 220.3 197.8 220.1 198.6 219.4 199.2 218.6 199.6 217.8 199.9 216.6 200.1zM202.2 201.5 201.0 201.7 199.8 201.6 199.0 201.4 198.2 201.0 197.4 200.3 197.0 199.8 196.5 199.0 196.3 197.8 196.3 196.6 196.5 195.4 197.0 194.6 197.4 194.1 198.2 193.4 199.0 193.0 199.8 192.8 201.0 192.7 202.2 192.9 203.0 193.4 203.6 193.8 204.2 194.5 204.6 195.0 205.0 195.9 205.8 196.2 206.6 195.9 207.4 195.7 208.6 195.4 209.4 195.3 210.6 195.1 211.8 195.0 213.0 195.0 214.2 195.0 215.4 195.1 216.6 195.3 217.4 195.4 218.6 195.7 219.4 195.9 220.2 196.2 221.0 196.7 221.8 197.4 221.9 198.2 221.4 199.0 220.9 199.4 220.1 199.8 219.0 200.2 218.2 200.4 217.4 200.6 216.2 200.8 215.0 200.9 213.8 201.0 212.6 201.0 211.4 200.9 210.2 200.8 209.0 200.7 208.2 200.5 207.0 200.2 206.2 199.9 205.4 199.6 204.6 199.4 204.2 199.9 203.6 200.6 203.0 201.0 202.2 201.5zM201.4 201.9 200.2 201.9 199.4 201.7 198.6 201.4 197.8 200.9 197.0 200.2 196.6 199.6 196.2 198.6 196.1 197.8 196.1 196.6 196.2 195.8 196.6 194.8 197.0 194.2 197.8 193.5 198.6 193.0 199.4 192.7 200.2 192.5 201.4 192.5 202.2 192.7 203.0 193.1 203.8 193.8 204.2 194.2 204.8 195.0 205.4 195.7 206.3 195.4 207.4 195.1 208.2 195.0 209.4 194.8 210.6 194.7 211.7 194.6 212.6 194.6 213.8 194.6 214.6 194.6 215.8 194.7 217.0 194.8 218.0 195.0 219.0 195.2 219.8 195.4 220.9 195.8 221.7 196.2 222.4 196.6 223.0 197.2 223.3 198.2 222.8 199.0 222.2 199.5 221.4 200.0 220.6 200.3 219.7 200.6 218.6 200.9 217.8 201.0 216.6 201.2 215.4 201.3 214.3 201.4 213.4 201.4 212.2 201.4 211.4 201.4 210.2 201.3 209.0 201.2 208.0 201.0 207.0 200.8 206.2 200.6 205.1 200.2 204.3 200.2 203.8 200.6 203.0 201.3 202.2 201.7 201.4 201.9zM213.8 201.8 212.6 201.8 211.8 201.8 210.6 201.7 209.4 201.6 208.2 201.5 207.4 201.3 206.2 201.1 205.4 200.9 204.6 200.6 203.8 200.9 203.1 201.4 202.3 201.8 201.4 202.1 200.2 202.1 199.1 201.8 198.2 201.4 197.6 201.0 197.0 200.4 196.5 199.8 196.1 199.0 195.9 197.8 195.9 196.6 196.1 195.4 196.5 194.6 197.0 194.0 197.6 193.4 198.2 193.0 199.1 192.6 200.2 192.3 201.4 192.3 202.3 192.6 203.1 193.0 203.8 193.5 204.5 194.2 205.0 195.0 205.8 195.0 206.6 194.8 207.8 194.6 208.6 194.5 209.8 194.3 211.0 194.2 211.8 194.2 213.0 194.2 214.2 194.2 215.0 194.2 216.2 194.3 217.4 194.5 218.2 194.6 219.4 194.8 220.2 195.0 221.4 195.4 222.2 195.7 223.0 196.1 223.7 196.6 224.2 197.2 224.4 198.2 224.1 199.0 223.4 199.6 222.6 200.1 221.8 200.5 221.0 200.7 220.1 201.0 219.0 201.3 218.2 201.4 217.0 201.6 215.8 201.7 214.6 201.8 213.8 201.8zM201.0 202.2 200.2 202.2 199.0 201.9 198.2 201.6 197.4 201.1 196.9 200.6 196.3 199.8 196.0 199.0 195.8 198.2 195.7 197.0 195.8 196.2 196.1 195.0 196.6 194.2 197.0 193.7 197.8 193.0 198.6 192.6 199.4 192.3 200.2 192.2 201.3 192.2 202.2 192.4 203.0 192.7 203.8 193.3 204.3 193.8 205.0 194.6 205.7 194.6 206.6 194.4 207.8 194.2 208.6 194.1 209.8 193.9 211.0 193.9 212.2 193.8 213.4 193.8 214.6 193.9 215.8 193.9 217.0 194.0 218.2 194.2 219.0 194.3 220.2 194.6 221.0 194.8 221.8 195.0 222.8 195.4 223.7 195.8 224.3 196.2 225.0 196.8 225.4 197.4 225.4 198.6 225.0 199.2 224.3 199.8 223.7 200.2 222.8 200.6 221.8 201.0 221.0 201.2 220.2 201.4 219.0 201.7 218.2 201.8 217.0 202.0 215.8 202.1 214.6 202.1 213.4 202.2 212.2 202.2 211.0 202.1 209.8 202.1 208.6 201.9 207.8 201.8 206.6 201.6 205.7 201.4 204.6 201.1 204.1 201.0 203.4 201.4 202.6 201.9 201.4 202.2zM217.8 202.2 216.6 202.4 215.4 202.5 214.2 202.5 213.0 202.5 211.8 202.5 210.6 202.5 209.4 202.4 208.2 202.2 207.4 202.1 206.2 201.9 205.4 201.7 204.2 201.4 203.7 201.4 203.0 201.8 202.1 202.2 201.0 202.4 199.8 202.3 199.0 202.1 198.2 201.8 197.4 201.3 196.7 200.6 196.2 199.8 195.8 199.0 195.6 198.2 195.6 197.0 195.7 195.8 196.0 195.0 196.4 194.2 197.0 193.5 197.6 193.0 198.3 192.6 199.4 192.2 200.2 192.0 201.4 192.0 202.2 192.2 203.0 192.6 203.8 193.1 204.5 193.8 205.0 194.3 205.8 194.2 207.0 193.9 208.1 193.8 209.0 193.7 210.2 193.6 211.4 193.5 212.6 193.5 213.8 193.5 215.0 193.5 216.2 193.6 217.4 193.7 218.2 193.8 219.4 194.0 220.3 194.2 221.4 194.5 222.2 194.7 223.1 195.0 224.0 195.4 224.8 195.8 225.4 196.2 226.2 197.0 226.5 197.8 226.2 199.0 225.8 199.4 225.0 200.1 224.2 200.5 223.4 200.9 222.6 201.2 221.8 201.4 220.6 201.7 219.8 201.9 218.6 202.1 217.8 202.2zM217.0 202.6 215.8 202.7 214.6 202.8 213.4 202.8 212.2 202.8 211.0 202.8 209.8 202.7 208.8 202.6 207.8 202.5 206.6 202.3 205.8 202.2 204.6 201.9 203.8 201.7 203.0 202.0 202.2 202.3 201.0 202.5 199.8 202.5 199.0 202.2 198.0 201.8 197.4 201.4 196.6 200.6 196.2 200.1 195.8 199.3 195.5 198.2 195.4 197.0 195.5 195.8 195.8 195.0 196.3 194.2 196.9 193.4 197.4 193.0 198.2 192.5 199.0 192.2 200.2 191.9 201.4 191.9 202.5 192.2 203.3 192.6 203.9 193.0 204.6 193.7 205.4 193.9 206.2 193.7 207.4 193.5 208.6 193.4 209.4 193.3 210.6 193.2 211.8 193.2 213.0 193.2 214.2 193.2 215.4 193.2 216.6 193.3 217.4 193.4 218.6 193.5 219.8 193.7 220.6 193.9 221.8 194.2 222.6 194.4 223.4 194.7 224.3 195.0 225.2 195.4 225.8 195.8 226.6 196.4 227.1 197.0 227.4 197.8 227.3 198.6 226.8 199.4 226.2 199.9 225.4 200.5 224.6 200.9 223.8 201.2 223.0 201.5 221.9 201.8 221.0 202.0 220.0 202.2 219.0 202.4 217.8 202.5 217.0 202.6z" fill="none" stroke="#111" stroke-width="0.45" stroke-linejoin="round"/>
<rect x="160.6" y="129.4" width="90.2" height="89.8" fill="none" stroke="#aaa" stroke-width="0.7"/>
<rect x="198" y="130" width="52.8" height="86.4" fill="none" stroke="#111" stroke-width="1"/>
<polyline points="159.1,158.7 211.8,158.7 250.8,133.9" fill="none" stroke="#111" stroke-width="1"/>
<line x1="159.1" y1="184" x2="250.8" y2="184" stroke="#111" stroke-width="1"/>
<text x="163.6" y="137" font-size="5.6" stroke="#111" stroke-width="0.15" font-weight="bold" fill="#111">20.9%</text>
<text x="247.5" y="137" font-size="5.6" stroke="#111" stroke-width="0.15" text-anchor="end" font-weight="bold" fill="#111">4.5%</text>
<text x="163.6" y="173" font-size="5.6" stroke="#111" stroke-width="0.15" font-weight="bold" fill="#111">28.5%</text>
<text x="249.5" y="175.4" font-size="5.6" stroke="#111" stroke-width="0.15" text-anchor="end" font-weight="bold" fill="#111">31.2%</text>
<text x="249.5" y="210" font-size="5.6" stroke="#111" stroke-width="0.15" text-anchor="end" font-weight="bold" fill="#111">14.3%</text>
<text x="157.4" y="140.1" font-size="4.5" stroke="#222" stroke-width="0.12" text-anchor="end" fill="#222">10<tspan font-size="70%" baseline-shift="30%">5</tspan></text>
<text x="157.4" y="161" font-size="4.5" stroke="#222" stroke-width="0.12" text-anchor="end" fill="#222">10<tspan font-size="70%" baseline-shift="30%">4</tspan></text>
<text x="157.4" y="185.6" font-size="4.5" stroke="#222" stroke-width="0.12" text-anchor="end" fill="#222">10<tspan font-size="70%" baseline-shift="30%">3</tspan></text>
<text x="157.4" y="200.2" font-size="4.5" stroke="#222" stroke-width="0.12" text-anchor="end" fill="#222">0</text>
<text x="157.4" y="215.4" font-size="4.5" stroke="#222" stroke-width="0.12" text-anchor="end" fill="#222">-10<tspan font-size="70%" baseline-shift="30%">3</tspan></text>
<path d="M160.6 138.5h-1.8M160.6 159.4h-1.8M160.6 184h-1.8M160.6 198.6h-1.8M160.6 213.8h-1.8M160.6 133h-1M160.6 135.5h-1M160.6 145h-1M160.6 150h-1M160.6 153h-1M160.6 165h-1M160.6 171h-1M160.6 175h-1M160.6 179h-1M160.6 190h-1M160.6 194h-1M160.6 203h-1M160.6 207h-1M160.6 211h-1" stroke="#222" stroke-width="0.8"/>
<rect x="158.6" y="196.6" width="1.6" height="4" fill="#111"/>
<text x="169.5" y="227.5" font-size="4.5" stroke="#222" stroke-width="0.12" text-anchor="middle" fill="#222">-10<tspan font-size="70%" baseline-shift="30%">3</tspan></text>
<text x="182.7" y="227.5" font-size="4.5" stroke="#222" stroke-width="0.12" text-anchor="middle" fill="#222">0</text>
<text x="197.8" y="227.5" font-size="4.5" stroke="#222" stroke-width="0.12" text-anchor="middle" fill="#222">10<tspan font-size="70%" baseline-shift="30%">3</tspan></text>
<text x="222.5" y="227.5" font-size="4.5" stroke="#222" stroke-width="0.12" text-anchor="middle" fill="#222">10<tspan font-size="70%" baseline-shift="30%">4</tspan></text>
<text x="244.5" y="227.5" font-size="4.5" stroke="#222" stroke-width="0.12" text-anchor="middle" fill="#222">10<tspan font-size="70%" baseline-shift="30%">5</tspan></text>
<path d="M169.5 219.2v1.8M182.7 219.2v1.8M197.8 219.2v1.8M222.5 219.2v1.8M244.5 219.2v1.8M164.5 219.2v1M174.5 219.2v1M177.5 219.2v1M187.5 219.2v1M190.5 219.2v1M205.5 219.2v1M210.5 219.2v1M214.5 219.2v1M216.5 219.2v1M218.5 219.2v1M228.5 219.2v1M233.5 219.2v1M236.5 219.2v1M238.5 219.2v1M240.5 219.2v1M242.5 219.2v1M246.5 219.2v1M248.5 219.2v1" stroke="#222" stroke-width="0.8"/>
<rect x="179" y="219.4" width="4" height="1.8" fill="#111"/>
<text x="172.5" y="235.9" font-size="5" stroke="#222" stroke-width="0.12" font-weight="bold" fill="#222" textLength="64" lengthAdjust="spacingAndGlyphs">Comp-AmCyan-A :: CD16 BV510</text>
<text x="145.2" y="176" font-size="5" stroke="#222" stroke-width="0.12" text-anchor="middle" font-weight="bold" fill="#222" transform="rotate(-90 145.2 176)" textLength="50.5" lengthAdjust="spacingAndGlyphs">Comp-PE-Cy7-A :: CD56</text>
<text x="270" y="124.9" font-size="6.7" stroke="#111" stroke-width="0.18" font-weight="bold" fill="#111" textLength="104" lengthAdjust="spacingAndGlyphs">BL 9 months after chemotherapy</text>
<path d="M303.9 151.1 303.1 151.0 302.2 150.6 301.5 149.8 301.2 149.0 301.3 147.8 301.8 147.0 302.3 146.6 303.1 146.2 304.3 146.2 305.1 146.6 305.6 147.0 306.1 147.8 306.2 149.0 305.9 149.8 305.2 150.6 304.3 151.0zM305.1 152.7 303.9 152.9 302.7 152.8 301.9 152.5 301.1 152.1 300.4 151.4 299.9 150.7 299.5 149.9 299.3 149.0 299.4 147.8 299.6 147.0 300.1 146.2 300.7 145.4 301.3 145.0 302.0 144.6 303.1 144.3 304.3 144.3 305.4 144.6 306.1 145.0 306.7 145.4 307.3 146.2 307.8 147.0 308.0 147.8 308.1 149.0 307.9 149.9 307.5 150.7 307.0 151.4 306.3 152.1 305.5 152.5zM305.5 153.9 304.3 154.2 303.1 154.2 301.9 153.9 301.1 153.6 300.3 153.1 299.7 152.6 299.1 151.9 298.7 151.2 298.3 150.4 298.0 149.4 298.0 148.2 298.2 147.0 298.6 146.2 299.0 145.4 299.5 144.8 300.1 144.2 300.7 143.8 301.6 143.4 302.7 143.1 303.9 143.0 305.1 143.2 305.9 143.4 306.7 143.8 307.5 144.4 308.1 145.0 308.6 145.8 309.0 146.6 309.3 147.4 309.4 148.6 309.3 149.8 309.0 150.6 308.6 151.4 308.1 152.2 307.5 152.8 306.7 153.4 305.9 153.8zM303.9 155.0 303.1 155.0 301.9 154.8 301.1 154.5 300.3 154.1 299.5 153.6 298.9 153.0 298.3 152.2 297.9 151.5 297.5 150.6 297.3 149.8 297.1 148.6 297.3 147.4 297.5 146.6 297.9 145.7 298.3 145.0 298.9 144.2 299.5 143.6 300.3 143.1 301.1 142.7 301.9 142.4 303.1 142.2 303.9 142.2 304.7 142.2 305.9 142.5 306.7 142.9 307.5 143.3 308.1 143.8 308.7 144.4 309.1 145.0 309.6 145.8 309.9 146.6 310.2 147.8 310.3 149.0 310.0 150.2 309.7 151.0 309.3 151.8 308.8 152.6 308.3 153.2 307.6 153.8 306.9 154.2 306.1 154.6 305.1 154.9 304.1 155.0zM305.1 155.4 303.9 155.5 302.7 155.5 301.9 155.4 300.9 155.0 300.1 154.6 299.4 154.2 298.7 153.6 298.2 153.0 297.7 152.2 297.2 151.4 296.9 150.6 296.7 149.8 296.6 148.6 296.7 147.4 296.9 146.6 297.2 145.8 297.7 145.0 298.2 144.2 298.7 143.6 299.4 143.0 300.1 142.6 300.9 142.2 301.9 141.8 302.7 141.7 303.9 141.7 305.1 141.8 305.9 141.9 306.7 142.3 307.5 142.7 308.3 143.2 308.9 143.8 309.5 144.6 309.9 145.3 310.3 146.1 310.6 147.0 310.8 147.8 310.8 149.0 310.7 149.8 310.3 151.0 310.0 151.8 309.5 152.6 309.1 153.1 308.5 153.8 307.9 154.3 307.1 154.7 306.3 155.1 305.4 155.4zM305.1 155.8 303.9 155.9 302.7 155.9 301.9 155.8 300.8 155.4 300.0 155.0 299.3 154.6 298.7 154.1 298.0 153.4 297.5 152.7 297.1 152.0 296.7 151.1 296.4 150.2 296.3 149.4 296.2 148.2 296.3 147.4 296.6 146.2 297.0 145.4 297.4 144.6 297.9 143.9 298.3 143.4 299.1 142.7 299.9 142.2 300.7 141.8 301.5 141.5 302.3 141.4 303.5 141.3 304.7 141.3 305.5 141.4 306.6 141.8 307.4 142.2 308.1 142.6 308.7 143.1 309.4 143.8 309.9 144.5 310.3 145.2 310.7 146.1 311.0 147.0 311.1 147.8 311.2 149.0 311.1 149.8 310.8 151.0 310.4 151.8 310.0 152.6 309.5 153.3 309.1 153.8 308.3 154.5 307.5 155.0 306.7 155.4 305.9 155.7 305.1 155.8zM304.3 156.2 303.1 156.2 302.3 156.2 301.1 155.9 300.3 155.5 299.5 155.1 298.8 154.6 298.3 154.2 297.6 153.4 297.1 152.6 296.7 151.9 296.3 151.0 296.1 150.2 295.9 149.0 295.9 147.8 296.2 146.6 296.5 145.8 296.8 145.0 297.3 144.2 297.9 143.4 298.3 143.0 299.1 142.4 299.9 141.9 300.7 141.5 301.5 141.2 302.7 141.0 303.5 141.0 304.3 141.0 305.5 141.1 306.4 141.4 307.3 141.8 308.1 142.2 308.7 142.6 309.5 143.4 309.9 144.0 310.3 144.6 310.8 145.4 311.1 146.2 311.4 147.4 311.5 148.6 311.4 149.8 311.1 151.0 310.8 151.8 310.3 152.6 309.9 153.2 309.5 153.8 308.7 154.6 308.1 155.0 307.3 155.4 306.4 155.8 305.5 156.1 304.3 156.2zM305.9 156.3 304.7 156.5 303.5 156.5 302.3 156.4 301.3 156.2 300.3 155.8 299.5 155.4 298.9 155.0 298.3 154.6 297.6 153.8 297.1 153.1 296.7 152.5 296.3 151.7 295.9 150.6 295.7 149.8 295.6 148.6 295.7 147.4 295.9 146.6 296.3 145.5 296.7 144.7 297.1 144.1 297.6 143.4 298.3 142.6 298.9 142.2 299.5 141.8 300.3 141.4 301.3 141.0 302.3 140.8 303.5 140.7 304.7 140.7 305.9 140.9 306.7 141.2 307.5 141.6 308.3 142.0 309.0 142.6 309.5 143.0 310.1 143.8 310.6 144.6 311.0 145.4 311.4 146.2 311.6 147.0 311.8 148.2 311.7 149.4 311.5 150.5 311.2 151.4 310.9 152.2 310.4 153.0 309.9 153.7 309.5 154.2 308.7 154.9 307.9 155.4 307.1 155.8 306.3 156.1zM305.1 156.6 303.9 156.7 302.7 156.7 301.9 156.6 300.7 156.2 299.9 155.9 299.1 155.4 298.5 155.0 297.9 154.5 297.3 153.8 296.8 153.0 296.3 152.2 295.9 151.4 295.7 150.6 295.5 149.6 295.4 148.6 295.5 147.6 295.7 146.6 295.9 145.8 296.3 145.0 296.8 144.2 297.3 143.4 297.9 142.7 298.5 142.2 299.1 141.8 299.9 141.3 300.7 141.0 301.9 140.6 302.7 140.5 303.9 140.5 305.1 140.6 305.9 140.7 306.7 141.0 307.6 141.4 308.3 141.8 309.1 142.3 309.8 143.0 310.3 143.7 310.7 144.3 311.1 145.0 311.5 145.9 311.8 147.0 311.9 147.8 312.0 149.0 311.9 149.8 311.6 151.0 311.3 151.8 310.9 152.6 310.4 153.4 309.9 154.0 309.4 154.6 308.7 155.2 307.9 155.7 307.1 156.1 306.3 156.4 305.3 156.6zM305.9 156.7 304.7 156.9 303.5 156.9 302.3 156.8 301.2 156.6 300.3 156.3 299.5 155.9 298.7 155.4 298.2 155.0 297.5 154.3 297.1 153.8 296.5 153.0 296.1 152.2 295.7 151.4 295.5 150.6 295.3 149.4 295.2 148.2 295.4 147.0 295.6 146.2 295.9 145.4 296.3 144.6 296.8 143.8 297.4 143.0 297.9 142.4 298.7 141.8 299.4 141.4 300.2 141.0 301.1 140.6 301.9 140.4 303.1 140.3 304.3 140.3 305.5 140.4 306.3 140.6 307.2 141.0 308.0 141.4 308.7 141.8 309.5 142.4 310.0 143.0 310.6 143.8 311.1 144.6 311.5 145.4 311.8 146.2 312.0 147.0 312.2 148.2 312.1 149.4 311.9 150.6 311.7 151.4 311.3 152.2 310.9 153.0 310.3 153.8 309.9 154.3 309.2 155.0 308.7 155.4 307.9 155.9 307.1 156.3 306.2 156.6zM305.1 157.0 303.9 157.1 302.7 157.0 301.9 157.0 300.7 156.6 299.9 156.3 299.1 155.9 298.4 155.4 297.9 155.0 297.1 154.2 296.7 153.6 296.3 153.0 295.9 152.2 295.5 151.3 295.2 150.2 295.1 149.4 295.1 148.2 295.1 147.4 295.4 146.2 295.7 145.4 296.1 144.6 296.6 143.8 297.1 143.1 297.5 142.6 298.3 141.9 299.0 141.4 299.8 141.0 300.6 140.6 301.5 140.3 302.3 140.2 303.5 140.1 304.7 140.2 305.5 140.2 306.7 140.6 307.5 140.9 308.3 141.3 309.0 141.8 309.5 142.2 310.3 143.0 310.7 143.6 311.1 144.2 311.5 145.0 311.9 145.9 312.2 147.0 312.3 147.8 312.3 149.0 312.3 149.8 312.0 151.0 311.7 151.8 311.3 152.6 310.8 153.4 310.3 154.1 309.9 154.6 309.1 155.3 308.4 155.8 307.6 156.2 306.8 156.6 305.9 156.9 305.1 157.0zM305.9 157.1 304.7 157.2 303.5 157.2 302.3 157.2 301.3 157.0 300.3 156.6 299.5 156.3 298.7 155.8 298.1 155.4 297.5 154.9 296.9 154.2 296.4 153.4 295.9 152.6 295.5 151.8 295.2 151.0 295.0 150.2 294.9 149.0 294.9 147.8 295.1 146.7 295.3 145.8 295.7 145.0 296.1 144.2 296.6 143.4 297.1 142.8 297.6 142.2 298.3 141.6 299.1 141.1 299.9 140.7 300.7 140.4 301.5 140.1 302.7 140.0 303.9 140.0 305.1 140.0 306.1 140.2 307.1 140.6 307.9 140.9 308.7 141.4 309.3 141.8 309.9 142.3 310.5 143.0 311.0 143.8 311.5 144.6 311.9 145.4 312.2 146.2 312.4 147.0 312.5 148.2 312.5 149.4 312.3 150.5 312.1 151.4 311.7 152.2 311.3 153.0 310.8 153.8 310.3 154.4 309.8 155.0 309.1 155.6 308.3 156.1 307.5 156.5 306.7 156.8 305.9 157.1zM306.3 157.1 305.1 157.3 303.9 157.4 302.7 157.4 301.5 157.2 300.7 157.0 299.9 156.6 299.1 156.2 298.3 155.7 297.5 155.1 297.1 154.6 296.4 153.8 295.9 153.0 295.5 152.2 295.2 151.4 294.9 150.6 294.8 149.4 294.7 148.2 294.9 147.0 295.1 146.1 295.5 145.1 295.9 144.3 296.3 143.6 296.7 143.0 297.4 142.2 297.9 141.8 298.7 141.2 299.5 140.8 300.3 140.4 301.1 140.1 302.3 139.9 303.5 139.8 304.7 139.8 305.9 140.0 306.7 140.2 307.5 140.6 308.3 141.0 309.1 141.5 309.9 142.1 310.3 142.6 311.0 143.4 311.5 144.2 311.9 145.0 312.2 145.8 312.5 146.6 312.6 147.8 312.7 149.0 312.5 150.2 312.3 151.1 311.9 152.1 311.5 152.9 311.1 153.6 310.7 154.2 310.0 155.0 309.5 155.4 308.7 156.0 307.9 156.4 307.1 156.8 306.3 157.1zM305.5 157.4 304.3 157.5 303.1 157.5 301.9 157.4 301.1 157.3 300.3 157.0 299.5 156.6 298.7 156.2 297.9 155.6 297.2 155.0 296.7 154.4 296.3 153.8 295.8 153.0 295.3 152.2 295.0 151.4 294.7 150.2 294.6 149.4 294.6 148.2 294.7 147.3 294.9 146.2 295.2 145.4 295.6 144.6 296.0 143.8 296.6 143.0 297.1 142.3 297.6 141.8 298.3 141.3 299.1 140.8 299.9 140.4 300.7 140.1 301.8 139.8 302.7 139.7 303.9 139.7 305.1 139.7 305.9 139.8 307.0 140.2 307.9 140.6 308.6 141.0 309.3 141.4 309.9 141.9 310.5 142.6 311.1 143.4 311.5 144.0 311.9 144.7 312.3 145.7 312.6 146.6 312.7 147.4 312.8 148.6 312.7 149.8 312.6 150.6 312.3 151.5 311.9 152.5 311.5 153.2 311.1 153.8 310.5 154.6 309.9 155.3 309.3 155.8 308.6 156.2 307.9 156.6 307.0 157.0 305.9 157.4z" fill="none" stroke="#222" stroke-width="0.45" stroke-linejoin="round"/>
<path d="M304.7 180.2 303.5 180.5 302.7 180.0 302.3 179.0 302.1 178.2 302.0 177.0 302.0 175.8 302.0 174.6 302.0 173.4 302.0 172.2 302.0 171.0 302.0 169.8 302.0 168.6 302.0 167.4 302.0 166.2 302.0 165.0 302.0 163.8 302.1 162.6 302.2 161.4 302.4 160.6 302.9 159.8 303.9 159.4 304.7 159.8 305.2 160.6 305.4 161.8 305.5 162.9 305.6 163.8 305.8 165.0 305.8 166.2 305.8 167.4 305.8 168.6 305.8 169.8 305.8 171.0 305.8 172.2 305.8 173.4 305.8 174.6 305.7 175.8 305.5 177.0 305.4 177.8 305.3 179.0 305.0 179.8zM304.7 182.2 303.5 182.3 302.7 182.2 301.9 181.8 301.3 181.0 301.0 180.2 300.7 179.0 300.6 178.2 300.5 177.0 300.5 175.8 300.5 174.6 300.5 173.4 300.5 172.2 300.5 171.0 300.5 169.8 300.5 168.6 300.5 167.4 300.5 166.2 300.5 165.0 300.5 163.8 300.5 162.6 300.7 161.4 300.8 160.6 301.1 159.4 301.5 158.6 301.9 158.2 302.8 157.8 303.9 157.7 304.8 157.8 305.7 158.2 306.3 158.9 306.6 159.8 306.8 160.6 306.9 161.8 307.0 163.0 307.2 163.8 307.3 165.0 307.3 166.2 307.3 167.4 307.3 168.6 307.3 169.8 307.3 171.0 307.3 172.2 307.3 173.4 307.3 174.6 307.2 175.8 307.1 176.6 306.9 177.8 306.8 179.0 306.7 180.0 306.4 181.0 305.9 181.6 305.1 182.1zM304.7 183.4 303.5 183.4 302.7 183.4 301.5 183.0 300.9 182.6 300.3 181.8 300.0 181.0 299.8 180.2 299.6 179.0 299.5 178.2 299.4 177.0 299.4 175.8 299.4 174.6 299.4 173.4 299.4 172.2 299.4 171.0 299.4 169.8 299.4 168.6 299.4 167.4 299.4 166.2 299.4 165.0 299.4 163.8 299.4 162.6 299.5 161.6 299.6 160.6 299.9 159.4 300.1 158.6 300.5 157.8 301.1 157.2 301.9 156.8 303.0 156.6 303.9 156.6 304.7 156.6 305.9 156.9 306.7 157.4 307.1 157.8 307.5 158.6 307.8 159.8 307.9 160.6 308.0 161.8 308.2 163.0 308.3 164.0 308.4 165.0 308.4 166.2 308.4 167.4 308.4 168.6 308.4 169.8 308.4 171.0 308.4 172.2 308.4 173.4 308.4 174.6 308.3 175.8 308.2 176.6 308.1 177.8 308.0 179.0 307.9 179.8 307.6 181.0 307.3 181.8 306.7 182.6 306.1 183.0 305.1 183.3zM304.7 184.2 303.5 184.2 302.7 184.2 301.5 183.9 300.7 183.6 300.0 183.0 299.5 182.2 299.3 181.4 299.1 180.6 298.8 179.4 298.7 178.4 298.7 177.4 298.7 176.2 298.7 175.0 298.7 173.8 298.7 172.6 298.7 171.4 298.7 170.2 298.7 169.0 298.7 167.8 298.7 166.6 298.7 165.4 298.7 164.2 298.7 163.0 298.7 161.8 298.8 161.0 299.0 159.8 299.2 159.0 299.5 157.9 299.9 157.2 300.4 156.6 301.1 156.2 302.3 155.9 303.1 155.8 304.3 155.8 305.1 155.8 306.3 156.1 307.1 156.6 307.5 157.0 308.1 157.8 308.4 158.6 308.6 159.8 308.7 160.6 308.8 161.8 309.0 163.0 309.1 164.0 309.1 165.0 309.1 166.2 309.1 167.4 309.1 168.6 309.1 169.8 309.1 171.0 309.1 172.2 309.1 173.4 309.1 174.6 309.1 175.8 309.0 176.6 308.9 177.8 308.7 179.0 308.7 179.8 308.5 181.0 308.2 181.8 307.8 182.6 307.1 183.4 306.4 183.8 305.5 184.1 304.7 184.2zM305.9 184.6 304.7 184.8 303.5 184.8 302.3 184.7 301.5 184.5 300.6 184.2 299.9 183.8 299.3 183.0 298.9 182.2 298.7 181.4 298.4 180.2 298.3 179.4 298.1 178.2 298.1 177.0 298.1 175.8 298.1 174.6 298.1 173.4 298.1 172.2 298.1 171.0 298.1 169.8 298.1 168.6 298.1 167.4 298.1 166.2 298.1 165.0 298.1 163.8 298.1 162.6 298.2 161.4 298.3 160.4 298.5 159.4 298.7 158.5 299.1 157.4 299.5 156.7 299.9 156.2 300.7 155.7 301.8 155.4 302.7 155.3 303.9 155.2 305.1 155.3 305.9 155.4 307.0 155.8 307.6 156.2 308.3 157.0 308.7 157.8 309.0 158.6 309.1 159.4 309.3 160.6 309.4 161.8 309.5 162.7 309.6 163.8 309.7 165.0 309.7 166.2 309.7 167.4 309.7 168.6 309.7 169.8 309.7 171.0 309.7 172.2 309.7 173.4 309.7 174.6 309.7 175.8 309.5 177.0 309.4 177.8 309.3 179.0 309.2 180.2 309.1 181.0 308.7 182.2 308.3 183.0 307.9 183.5 307.1 184.1 306.3 184.5zM305.9 185.0 304.7 185.2 303.5 185.2 302.3 185.1 301.5 185.0 300.4 184.6 299.7 184.2 299.1 183.5 298.7 182.8 298.3 181.8 298.1 181.0 297.9 179.8 297.8 179.0 297.7 177.8 297.7 176.6 297.7 175.4 297.7 174.2 297.7 173.0 297.7 171.8 297.7 170.6 297.7 169.4 297.7 168.2 297.7 167.0 297.7 165.8 297.7 164.6 297.7 163.4 297.7 162.2 297.8 161.0 297.9 160.2 298.1 159.0 298.3 158.2 298.7 157.2 299.1 156.5 299.7 155.8 300.4 155.4 301.5 155.0 302.3 154.9 303.5 154.8 304.7 154.8 305.9 155.0 306.7 155.2 307.5 155.6 308.2 156.2 308.7 156.9 309.1 157.7 309.4 158.6 309.6 159.4 309.7 160.6 309.8 161.8 309.9 162.6 310.1 163.8 310.1 165.0 310.1 166.2 310.1 167.4 310.1 168.6 310.1 169.8 310.1 171.0 310.1 172.2 310.1 173.4 310.1 174.6 310.1 175.8 310.0 177.0 309.8 177.8 309.7 179.0 309.6 180.2 309.5 181.0 309.2 182.2 308.8 183.0 308.3 183.7 307.8 184.2 307.1 184.6 306.1 185.0zM305.5 185.5 304.3 185.5 303.1 185.5 301.9 185.4 301.1 185.2 300.3 185.0 299.5 184.5 298.9 183.8 298.4 183.0 298.1 182.2 297.9 181.4 297.6 180.2 297.5 179.4 297.4 178.2 297.4 177.0 297.4 175.8 297.4 174.6 297.4 173.4 297.4 172.2 297.4 171.0 297.4 169.8 297.4 168.6 297.4 167.4 297.4 166.2 297.4 165.0 297.4 163.8 297.4 162.6 297.4 161.4 297.5 160.6 297.7 159.4 297.9 158.5 298.2 157.4 298.6 156.6 299.1 155.9 299.7 155.4 300.4 155.0 301.5 154.7 302.3 154.5 303.5 154.5 304.7 154.5 305.8 154.6 306.7 154.8 307.5 155.2 308.3 155.8 308.7 156.3 309.2 157.0 309.5 157.8 309.8 159.0 310.0 159.8 310.1 161.0 310.2 162.2 310.3 163.0 310.4 164.2 310.4 165.4 310.4 166.6 310.4 167.8 310.4 169.0 310.4 170.2 310.4 171.4 310.4 172.6 310.4 173.8 310.4 175.0 310.4 176.2 310.3 177.1 310.1 178.2 310.0 179.4 309.9 180.6 309.7 181.4 309.5 182.2 309.1 183.1 308.7 183.8 307.9 184.5 307.1 185.0 306.3 185.3 305.5 185.5zM303.9 185.8 303.1 185.8 301.9 185.7 300.7 185.4 299.9 185.1 299.2 184.6 298.7 184.1 298.3 183.4 297.9 182.5 297.6 181.4 297.4 180.6 297.2 179.4 297.1 178.2 297.1 177.4 297.1 176.2 297.1 175.0 297.1 173.8 297.1 172.6 297.1 171.4 297.1 170.2 297.1 169.0 297.1 167.8 297.1 166.6 297.1 165.4 297.1 164.2 297.1 163.0 297.1 162.2 297.2 161.0 297.3 159.8 297.5 159.0 297.8 157.8 298.1 157.0 298.5 156.2 299.1 155.5 299.8 155.0 300.7 154.6 301.5 154.4 302.7 154.2 303.6 154.2 304.3 154.2 305.5 154.3 306.7 154.5 307.5 154.9 308.3 155.4 308.7 155.8 309.3 156.6 309.7 157.4 309.9 158.2 310.2 159.4 310.3 160.6 310.4 161.4 310.5 162.6 310.7 163.8 310.7 164.6 310.7 165.8 310.7 167.0 310.7 168.2 310.7 169.4 310.7 170.6 310.7 171.8 310.7 173.0 310.7 174.2 310.7 175.4 310.7 176.2 310.5 177.4 310.4 178.6 310.3 179.4 310.2 180.6 309.9 181.8 309.7 182.6 309.3 183.4 308.7 184.2 308.3 184.6 307.5 185.1 306.7 185.5 305.5 185.7 304.3 185.8zM306.3 185.8 305.1 186.0 303.9 186.1 302.7 186.0 301.5 185.9 300.7 185.7 299.9 185.4 299.1 184.8 298.5 184.2 298.0 183.4 297.7 182.6 297.4 181.8 297.2 180.6 297.0 179.8 296.9 178.6 296.8 177.4 296.8 176.2 296.8 175.0 296.8 173.8 296.8 172.6 296.8 171.4 296.8 170.2 296.8 169.0 296.8 167.8 296.8 166.6 296.8 165.4 296.8 164.2 296.8 163.0 296.9 161.8 297.0 160.6 297.1 159.8 297.3 158.6 297.5 157.8 297.9 156.8 298.3 156.1 298.8 155.4 299.5 154.9 300.3 154.5 301.2 154.2 302.3 154.0 303.5 154.0 304.7 154.0 305.9 154.1 306.7 154.3 307.5 154.6 308.3 155.1 309.0 155.8 309.5 156.5 309.9 157.3 310.2 158.2 310.4 159.0 310.5 160.2 310.6 161.4 310.7 162.2 310.9 163.4 310.9 164.6 311.0 165.8 311.0 167.0 311.0 168.2 311.0 169.4 311.0 170.6 311.0 171.8 311.0 173.0 311.0 174.2 310.9 175.4 310.9 176.6 310.7 177.8 310.6 178.6 310.5 179.8 310.4 181.0 310.2 181.8 309.9 182.7 309.5 183.5 309.0 184.2 308.3 184.9 307.5 185.4 306.7 185.7zM305.1 186.2 303.9 186.3 302.7 186.2 301.9 186.1 300.7 185.9 299.9 185.6 299.1 185.1 298.5 184.6 298.0 183.8 297.6 183.0 297.3 182.2 297.1 181.3 296.9 180.2 296.7 179.0 296.7 178.2 296.6 177.0 296.6 175.8 296.6 174.6 296.6 173.4 296.6 172.2 296.6 171.0 296.6 169.8 296.6 168.6 296.6 167.4 296.6 166.2 296.6 165.0 296.6 163.8 296.6 162.6 296.7 161.4 296.7 160.6 297.0 159.4 297.1 158.6 297.5 157.4 297.8 156.6 298.2 155.8 298.7 155.2 299.5 154.6 300.3 154.2 301.1 154.0 302.3 153.8 303.1 153.8 304.3 153.7 305.3 153.8 306.3 153.9 307.1 154.2 307.9 154.6 308.7 155.2 309.3 155.8 309.8 156.6 310.2 157.4 310.4 158.2 310.6 159.4 310.7 160.2 310.8 161.4 311.0 162.6 311.1 163.5 311.2 164.6 311.2 165.8 311.2 167.0 311.2 168.2 311.2 169.4 311.2 170.6 311.2 171.8 311.2 173.0 311.2 174.2 311.2 175.4 311.1 176.5 311.0 177.4 310.8 178.6 310.7 179.8 310.6 180.6 310.4 181.8 310.2 182.6 309.8 183.4 309.3 184.2 308.7 184.8 307.9 185.4 307.1 185.8 306.3 186.1 305.3 186.2zM306.3 186.3 305.1 186.4 303.9 186.5 302.7 186.4 301.5 186.3 300.7 186.1 299.9 185.8 299.1 185.4 298.3 184.6 297.9 184.1 297.5 183.3 297.1 182.2 296.9 181.4 296.7 180.2 296.5 179.4 296.5 178.2 296.4 177.0 296.4 175.8 296.4 174.6 296.4 173.4 296.4 172.2 296.4 171.0 296.4 169.8 296.4 168.6 296.4 167.4 296.4 166.2 296.4 165.0 296.4 163.8 296.4 162.6 296.5 161.4 296.6 160.2 296.8 159.4 297.0 158.2 297.2 157.4 297.6 156.6 298.0 155.8 298.7 155.0 299.1 154.6 299.9 154.2 301.1 153.8 301.9 153.6 303.1 153.6 304.3 153.5 305.5 153.6 306.5 153.8 307.5 154.1 308.3 154.6 308.8 155.0 309.5 155.8 309.9 156.4 310.3 157.2 310.6 158.2 310.8 159.0 310.9 160.2 311.0 161.4 311.1 162.2 311.3 163.4 311.4 164.6 311.4 165.8 311.4 167.0 311.4 168.2 311.4 169.4 311.4 170.6 311.4 171.8 311.4 173.0 311.4 174.2 311.4 175.4 311.3 176.6 311.1 177.8 311.0 178.6 310.9 179.8 310.8 181.0 310.6 181.8 310.3 182.8 309.9 183.6 309.5 184.2 308.8 185.0 308.3 185.4 307.5 185.9 306.5 186.2zM304.7 186.6 303.5 186.6 302.7 186.6 301.5 186.5 300.5 186.2 299.5 185.8 298.8 185.4 298.3 184.9 297.8 184.2 297.3 183.4 297.1 182.6 296.7 181.4 296.6 180.6 296.4 179.4 296.3 178.2 296.3 177.4 296.3 176.2 296.3 175.0 296.3 173.8 296.3 172.6 296.3 171.4 296.3 170.2 296.3 169.0 296.3 167.8 296.3 166.6 296.3 165.4 296.3 164.2 296.3 163.0 296.3 161.8 296.3 161.0 296.5 159.8 296.7 158.9 296.9 157.8 297.2 157.0 297.5 156.2 298.0 155.4 298.7 154.7 299.5 154.2 300.3 153.8 301.1 153.6 302.3 153.4 303.1 153.4 304.3 153.4 305.1 153.4 306.3 153.5 307.1 153.8 308.0 154.2 308.7 154.7 309.4 155.4 309.9 156.0 310.3 156.8 310.7 157.8 310.9 158.6 311.1 159.8 311.1 160.6 311.3 161.8 311.4 163.0 311.5 164.2 311.5 165.0 311.5 166.2 311.5 167.4 311.5 168.6 311.5 169.8 311.5 171.0 311.5 172.2 311.5 173.4 311.5 174.6 311.5 175.8 311.5 176.6 311.3 177.8 311.2 179.0 311.1 179.8 311.0 181.0 310.7 182.1 310.4 183.0 310.0 183.8 309.5 184.5 309.1 185.0 308.3 185.6 307.5 186.1 306.7 186.4 305.5 186.6 304.7 186.6z" fill="none" stroke="#999" stroke-width="0.4" stroke-linejoin="round"/>
<path d="M345.5 198.2 344.3 198.4 343.5 198.2 342.7 197.7 342.2 197.0 342.2 195.8 341.8 195.0 341.3 194.2 341.0 193.4 340.7 192.6 340.3 191.5 340.0 190.6 339.8 189.8 339.6 188.6 339.4 187.8 339.2 186.6 339.1 185.8 338.9 184.6 338.8 183.4 338.7 182.4 338.6 181.4 338.5 180.2 338.5 179.0 338.5 177.8 338.4 176.6 338.4 175.4 338.5 174.2 338.5 173.0 338.5 171.8 338.6 170.6 338.7 169.6 338.8 168.6 338.9 167.4 339.1 166.2 339.2 165.4 339.4 164.2 339.6 163.4 339.8 162.2 340.0 161.4 340.3 160.5 340.7 159.4 341.0 158.6 341.3 157.8 341.8 157.0 342.3 156.2 342.7 155.8 343.5 155.3 344.7 155.4 345.3 155.8 345.9 156.5 346.3 157.1 346.7 157.8 347.1 158.8 347.4 159.8 347.6 160.6 347.9 161.8 348.0 162.6 348.3 163.8 348.4 164.6 348.5 165.8 348.6 167.0 348.7 168.0 348.8 169.0 349.0 170.2 349.0 171.4 349.1 172.6 349.1 173.8 349.1 174.7 349.1 175.8 349.1 176.6 348.9 177.8 348.8 179.0 348.8 180.2 348.8 181.4 348.7 182.6 348.7 183.5 348.6 184.6 348.5 185.8 348.4 187.0 348.3 187.9 348.1 189.0 347.9 190.2 347.7 191.0 347.5 192.0 347.2 193.0 346.9 193.8 346.5 194.6 346.3 195.0 346.7 195.8 346.8 197.0 346.3 197.7 345.5 198.2zM342.7 199.4 341.5 199.5 340.3 199.5 339.5 199.2 338.9 198.6 338.6 197.8 338.3 196.8 338.1 195.8 337.9 195.0 337.6 193.8 337.5 193.0 337.3 191.8 337.1 190.9 336.9 189.8 336.8 188.6 336.7 187.8 336.6 186.6 336.4 185.4 336.3 184.2 336.3 183.4 336.2 182.2 336.1 181.0 336.1 179.8 336.1 178.6 336.0 177.4 336.0 176.2 336.0 175.0 336.1 173.8 336.1 172.6 336.1 171.4 336.2 170.2 336.3 169.0 336.3 168.2 336.4 167.0 336.5 165.8 336.6 164.6 336.7 163.8 336.9 162.6 337.1 161.4 337.2 160.6 337.4 159.4 337.5 158.6 337.8 157.4 338.0 156.6 338.3 155.4 338.5 154.6 338.7 153.8 339.1 152.6 339.4 151.8 339.7 151.0 340.0 150.2 340.4 149.4 340.9 148.6 341.5 147.8 341.9 147.3 342.7 146.8 343.8 147.0 344.5 147.4 345.2 147.8 345.9 148.4 346.6 149.0 347.1 149.6 347.5 150.3 347.8 151.4 348.0 152.2 348.1 153.4 348.2 154.6 348.3 155.4 348.5 156.6 348.7 157.6 348.8 158.6 348.8 159.8 348.9 161.0 349.0 162.2 349.2 163.0 349.3 164.2 349.4 165.4 349.4 166.6 349.5 167.8 349.6 168.6 349.7 169.8 349.8 171.0 349.8 172.2 349.8 173.4 349.8 174.6 349.8 175.8 349.7 177.0 349.6 178.2 349.5 179.0 349.5 180.2 349.5 181.4 349.4 182.6 349.4 183.8 349.4 185.0 349.4 186.2 349.3 187.4 349.1 188.6 349.0 189.4 348.9 190.6 348.9 191.8 348.8 193.0 348.8 194.2 348.7 195.4 348.6 196.2 348.5 197.4 347.9 198.1 347.1 198.4 346.3 198.7 345.5 199.0 344.3 199.2 343.1 199.4zM343.1 199.8 341.9 200.0 340.7 200.1 339.5 200.1 338.7 199.8 337.9 199.3 337.1 198.6 336.7 198.2 336.2 197.4 335.9 196.6 335.6 195.4 335.5 194.6 335.3 193.4 335.2 192.2 335.1 191.4 334.9 190.2 334.8 189.0 334.7 188.1 334.6 187.0 334.5 185.8 334.4 184.6 334.4 183.4 334.3 182.4 334.3 181.4 334.2 180.2 334.2 179.0 334.2 177.8 334.1 176.6 334.1 175.4 334.2 174.2 334.2 173.0 334.2 171.8 334.3 170.6 334.3 169.6 334.4 168.6 334.4 167.4 334.5 166.2 334.6 165.0 334.7 163.9 334.8 163.0 334.9 161.8 335.1 160.6 335.2 159.8 335.3 158.6 335.5 157.4 335.6 156.6 335.8 155.4 336.0 154.6 336.2 153.4 336.4 152.6 336.7 151.4 336.9 150.6 337.1 149.8 337.4 148.6 337.7 147.8 337.9 147.0 338.3 146.1 338.7 145.4 339.5 144.9 340.7 144.6 341.5 144.6 342.3 144.8 343.1 145.3 343.9 145.8 344.4 146.2 345.1 146.8 345.9 147.4 346.4 147.8 347.1 148.4 347.7 149.0 348.2 149.8 348.4 150.6 348.6 151.8 348.7 152.6 348.8 153.8 348.8 155.0 348.9 156.2 349.1 157.2 349.2 158.2 349.3 159.4 349.3 160.6 349.4 161.8 349.5 162.6 349.7 163.8 349.8 165.0 349.8 166.2 349.8 167.4 349.9 168.4 350.1 169.4 350.2 170.6 350.2 171.8 350.2 173.0 350.2 174.2 350.2 175.4 350.2 176.6 350.0 177.8 349.9 178.6 349.8 179.8 349.8 181.0 349.8 182.2 349.8 183.4 349.8 184.6 349.8 185.8 349.7 187.0 349.6 188.2 349.4 189.0 349.3 190.2 349.3 191.4 349.3 192.6 349.2 193.8 349.2 195.0 349.2 196.2 349.1 197.4 348.8 198.2 348.3 198.6 347.1 199.0 346.4 199.4 345.5 199.6 344.3 199.7 343.4 199.8zM345.1 200.2 343.9 200.2 343.1 200.1 342.3 200.3 341.1 200.4 339.9 200.5 338.7 200.3 337.9 199.8 337.2 199.4 336.6 199.0 335.9 198.4 335.2 197.8 334.7 197.3 334.2 196.6 333.9 195.8 333.7 194.6 333.5 193.4 333.4 192.6 333.3 191.4 333.2 190.2 333.1 189.4 333.0 188.2 332.9 187.0 332.8 185.8 332.7 184.6 332.7 183.8 332.6 182.6 332.6 181.4 332.6 180.2 332.5 179.0 332.5 177.8 332.5 176.6 332.5 175.4 332.5 174.2 332.5 173.0 332.6 171.8 332.6 170.6 332.6 169.4 332.7 168.2 332.7 167.4 332.8 166.2 332.9 165.0 333.0 163.8 333.1 162.6 333.2 161.8 333.3 160.6 333.4 159.4 333.5 158.6 333.6 157.4 333.8 156.2 333.9 155.4 334.1 154.2 334.3 153.0 334.4 152.2 334.7 151.0 334.8 150.2 335.1 149.0 335.3 148.2 335.5 147.1 335.7 146.2 336.1 145.4 336.7 144.9 337.5 144.6 338.7 144.3 339.5 144.2 340.7 144.1 341.9 144.2 342.7 144.5 343.4 145.0 344.0 145.4 344.7 146.0 345.5 146.6 346.0 147.0 346.7 147.6 347.5 148.2 347.9 148.6 348.5 149.4 348.7 150.2 349.0 151.4 349.0 152.6 349.1 153.8 349.1 154.6 349.2 155.8 349.4 157.0 349.5 157.8 349.6 159.0 349.6 160.2 349.6 161.4 349.8 162.6 349.9 163.4 350.0 164.6 350.0 165.8 350.1 167.0 350.1 168.2 350.3 169.1 350.4 170.2 350.4 171.4 350.5 172.6 350.5 173.8 350.5 175.0 350.4 176.2 350.3 177.4 350.2 178.2 350.1 179.4 350.1 180.6 350.1 181.8 350.1 183.0 350.1 184.2 350.0 185.4 350.0 186.6 349.9 187.8 349.8 188.6 349.6 189.8 349.6 191.0 349.6 192.2 349.6 193.4 349.5 194.6 349.5 195.8 349.5 196.6 349.4 197.8 349.0 198.6 348.2 199.0 347.5 199.4 346.7 199.8 345.5 200.2zM345.5 200.6 344.3 200.7 343.4 200.6 342.3 200.5 341.3 200.6 340.3 200.7 339.1 200.7 338.3 200.4 337.5 199.9 336.7 199.4 336.1 199.0 335.5 198.5 334.7 197.9 334.0 197.4 333.5 196.9 332.9 196.2 332.5 195.4 332.3 194.6 332.0 193.4 331.8 192.6 331.7 191.4 331.6 190.2 331.5 189.3 331.4 188.2 331.3 187.0 331.3 185.8 331.2 184.6 331.2 183.4 331.1 182.2 331.1 181.4 331.0 180.2 331.0 179.0 331.0 177.8 331.0 176.6 331.0 175.4 331.0 174.2 331.0 173.0 331.0 171.8 331.1 170.6 331.1 169.8 331.2 168.6 331.2 167.4 331.3 166.2 331.3 165.0 331.4 163.8 331.5 162.7 331.6 161.8 331.7 160.6 331.8 159.4 331.9 158.3 332.0 157.4 332.1 156.2 332.3 155.0 332.4 154.2 332.6 153.0 332.7 152.0 332.9 151.0 333.1 149.8 333.2 149.0 333.4 147.8 333.6 147.0 333.8 145.8 334.3 145.0 335.0 144.6 335.9 144.4 336.7 144.2 337.9 144.0 339.1 143.9 340.1 143.8 341.1 143.8 341.9 143.9 342.7 144.2 343.5 144.7 344.3 145.3 344.9 145.8 345.5 146.3 346.3 146.9 346.9 147.4 347.5 147.9 348.3 148.6 348.7 149.3 349.0 150.2 349.2 151.0 349.3 152.2 349.3 153.4 349.3 154.6 349.4 155.8 349.5 156.6 349.7 157.8 349.8 159.0 349.8 160.2 349.8 161.4 349.9 162.2 350.1 163.4 350.2 164.6 350.2 165.8 350.3 167.0 350.3 167.8 350.5 169.0 350.6 170.2 350.7 171.4 350.7 172.6 350.7 173.8 350.7 175.0 350.6 176.2 350.5 177.4 350.3 178.6 350.3 179.4 350.3 180.6 350.3 181.8 350.3 183.0 350.3 184.2 350.3 185.4 350.2 186.6 350.2 187.8 349.9 189.0 349.8 189.8 349.8 191.0 349.8 192.2 349.8 193.4 349.8 194.6 349.8 195.8 349.9 197.0 349.6 198.2 349.1 198.9 348.4 199.4 347.8 199.8 347.0 200.2 345.9 200.5zM345.5 201.0 344.3 201.1 343.4 201.0 342.3 200.8 341.1 200.8 339.9 201.0 338.7 200.8 337.9 200.4 337.1 200.0 336.3 199.5 335.7 199.0 335.1 198.6 334.3 198.0 333.5 197.4 333.0 197.0 332.3 196.2 331.9 195.4 331.6 194.6 331.3 193.8 330.9 193.0 330.7 192.2 330.4 191.0 330.2 190.2 330.0 189.0 329.9 187.8 329.9 187.0 329.8 185.8 329.7 184.6 329.7 183.4 329.6 182.2 329.6 181.0 329.6 179.8 329.6 178.6 329.6 177.4 329.6 176.2 329.6 175.0 329.6 173.8 329.6 172.6 329.6 171.4 329.6 170.2 329.7 169.0 329.7 167.8 329.8 166.6 329.8 165.4 329.9 164.3 330.0 163.4 330.0 162.2 330.1 161.0 330.2 159.8 330.3 158.9 330.4 157.8 330.5 156.6 330.6 155.4 330.7 154.6 330.9 153.4 331.0 152.2 331.1 151.4 331.3 150.2 331.5 149.0 331.6 148.2 331.8 147.0 332.0 146.2 332.3 145.2 333.1 144.6 333.9 144.3 334.7 144.1 335.9 143.9 337.0 143.8 337.9 143.7 339.1 143.6 340.3 143.6 341.5 143.6 342.4 143.8 343.1 144.2 343.9 144.7 344.7 145.4 345.2 145.8 345.9 146.3 346.7 147.0 347.2 147.4 347.9 147.9 348.6 148.6 349.0 149.4 349.2 150.2 349.4 151.4 349.5 152.6 349.5 153.4 349.5 154.6 349.6 155.8 349.8 157.0 349.9 157.8 350.0 159.0 350.0 160.2 350.0 161.4 350.2 162.6 350.3 163.4 350.4 164.6 350.4 165.8 350.4 167.0 350.5 168.2 350.7 169.2 350.8 170.2 350.8 171.4 350.8 172.6 350.8 173.8 350.8 175.0 350.8 176.2 350.7 177.3 350.6 178.2 350.5 179.4 350.5 180.6 350.5 181.8 350.4 183.0 350.4 184.2 350.4 185.4 350.4 186.6 350.3 187.8 350.2 188.6 350.0 189.8 350.0 191.0 350.0 192.2 350.0 193.4 350.0 194.6 350.3 195.7 350.4 196.6 350.3 197.4 349.9 198.3 349.4 199.0 348.7 199.7 348.0 200.2 347.1 200.6 346.3 200.9 345.5 201.0zM345.1 201.4 343.9 201.4 343.1 201.3 341.9 201.0 341.1 201.0 340.3 201.1 339.1 201.1 338.3 200.8 337.5 200.4 336.7 200.0 335.9 199.4 335.3 199.0 334.7 198.6 333.9 198.1 333.1 197.5 332.6 197.0 332.0 196.2 331.6 195.4 331.2 194.6 330.8 193.8 330.4 193.0 330.1 192.2 329.8 191.4 329.5 190.5 329.1 189.4 328.9 188.6 328.7 187.8 328.4 186.6 328.3 185.4 328.3 184.6 328.2 183.4 328.2 182.2 328.2 181.0 328.1 179.8 328.1 178.6 328.1 177.4 328.1 176.2 328.1 175.0 328.1 173.8 328.1 172.6 328.2 171.4 328.2 170.2 328.2 169.0 328.3 167.8 328.3 166.8 328.3 165.8 328.4 164.6 328.5 163.4 328.5 162.2 328.6 161.0 328.7 160.0 328.8 159.0 328.9 157.8 329.0 156.6 329.1 155.4 329.2 154.6 329.3 153.4 329.4 152.2 329.5 151.4 329.7 150.2 329.8 149.0 330.0 148.2 330.1 147.0 330.3 146.0 330.7 145.1 331.3 144.6 332.3 144.3 333.1 144.1 334.3 143.9 335.1 143.8 336.3 143.6 337.5 143.5 338.7 143.4 339.5 143.4 340.7 143.3 341.7 143.4 342.7 143.7 343.4 144.2 344.0 144.6 344.7 145.1 345.5 145.8 346.0 146.2 346.7 146.7 347.5 147.4 348.0 147.8 348.7 148.5 349.1 149.2 349.4 150.2 349.6 151.0 349.7 152.2 349.7 153.4 349.7 154.6 349.8 155.8 349.9 156.7 350.1 157.8 350.1 159.0 350.2 160.2 350.2 161.4 350.3 162.4 350.5 163.4 350.6 164.6 350.6 165.8 350.6 167.0 350.7 168.2 350.8 169.0 351.0 170.2 351.0 171.4 351.0 172.6 351.0 173.8 351.0 175.0 351.0 176.2 350.9 177.4 350.7 178.2 350.6 179.4 350.6 180.6 350.6 181.8 350.6 183.0 350.6 184.2 350.6 185.4 350.6 186.6 350.5 187.8 350.3 188.8 350.2 189.8 350.2 191.0 350.2 192.2 350.1 193.4 350.3 194.5 350.7 195.4 350.9 196.2 350.8 197.4 350.5 198.2 350.0 199.0 349.5 199.6 348.7 200.2 348.1 200.6 347.1 201.0 346.3 201.3 345.4 201.4zM346.7 201.5 345.5 201.7 344.3 201.8 343.1 201.7 341.9 201.4 341.1 201.2 339.9 201.3 338.7 201.1 337.9 200.8 337.1 200.4 336.3 199.9 335.6 199.4 335.0 199.0 334.3 198.6 333.5 198.0 332.7 197.4 332.3 197.0 331.7 196.2 331.3 195.4 330.9 194.6 330.5 193.8 330.1 193.0 329.7 192.2 329.4 191.4 329.1 190.6 328.7 189.6 328.3 188.6 328.0 187.8 327.7 187.0 327.4 186.2 327.1 185.2 326.9 184.2 326.7 183.0 326.7 182.2 326.6 181.0 326.6 179.8 326.6 178.6 326.6 177.4 326.6 176.2 326.6 175.0 326.6 173.8 326.6 172.6 326.6 171.4 326.7 170.2 326.7 169.0 326.7 168.2 326.8 167.0 326.8 165.8 326.9 164.6 326.9 163.4 327.0 162.2 327.1 161.0 327.1 160.2 327.2 159.0 327.3 157.8 327.4 156.6 327.5 155.4 327.6 154.6 327.7 153.4 327.8 152.2 327.9 151.3 328.0 150.2 328.2 149.0 328.3 147.9 328.4 147.0 328.6 145.8 329.0 145.0 329.6 144.6 330.7 144.2 331.5 144.0 332.7 143.8 333.5 143.7 334.7 143.6 335.9 143.5 336.7 143.4 337.9 143.3 339.1 143.2 340.3 143.2 341.5 143.2 342.4 143.4 343.1 143.8 343.9 144.3 344.7 144.9 345.3 145.4 345.9 145.9 346.7 146.5 347.3 147.0 347.9 147.5 348.7 148.2 349.1 148.8 349.4 149.8 349.7 150.6 349.8 151.8 349.8 153.0 349.8 154.2 349.9 155.4 350.0 156.2 350.2 157.4 350.3 158.6 350.3 159.8 350.3 161.0 350.4 161.8 350.6 163.0 350.7 164.2 350.7 165.0 350.7 166.2 350.7 167.4 350.9 168.6 351.1 169.8 351.1 170.6 351.1 171.8 351.1 173.0 351.1 174.2 351.1 175.4 351.1 176.3 351.0 177.4 350.8 178.6 350.7 179.8 350.7 181.0 350.7 182.2 350.7 183.4 350.7 184.6 350.7 185.8 350.7 186.7 350.6 187.8 350.4 189.0 350.3 190.2 350.3 191.0 350.3 192.2 350.3 193.4 350.6 194.2 351.0 195.0 351.2 195.8 351.3 197.0 351.1 197.8 350.7 198.7 350.2 199.4 349.5 200.1 348.8 200.6 348.1 201.0 347.1 201.4zM346.7 201.8 345.5 202.1 344.3 202.1 343.1 202.0 342.1 201.8 341.1 201.5 340.3 201.4 339.6 201.4 338.7 201.3 337.9 201.0 337.1 200.5 336.3 200.1 335.5 199.5 334.7 199.0 334.0 198.6 333.4 198.2 332.7 197.7 332.0 197.0 331.5 196.3 331.1 195.5 330.7 194.7 330.3 194.0 329.9 193.2 329.5 192.3 329.1 191.4 328.8 190.6 328.4 189.8 328.1 189.0 327.7 188.2 327.3 187.4 327.0 186.6 326.7 185.8 326.3 184.7 326.0 183.8 325.7 183.0 325.5 182.2 325.3 181.0 325.1 180.1 325.0 179.0 324.9 177.8 324.9 176.6 324.9 175.4 324.9 174.2 324.9 173.0 324.9 171.8 324.9 170.6 325.0 169.4 325.0 168.2 325.0 167.0 325.1 165.8 325.1 165.0 325.2 163.8 325.2 162.6 325.3 161.4 325.4 160.2 325.4 159.0 325.5 158.1 325.6 157.0 325.7 155.8 325.8 154.6 325.9 153.4 325.9 152.6 326.1 151.4 326.2 150.2 326.3 149.1 326.4 148.2 326.5 147.0 326.7 146.0 327.1 145.2 327.8 144.6 328.7 144.3 329.5 144.1 330.7 143.9 331.5 143.7 332.7 143.6 333.9 143.4 334.7 143.4 335.9 143.3 337.1 143.2 338.3 143.1 339.5 143.1 340.7 143.0 341.9 143.1 342.7 143.4 343.5 143.9 344.3 144.4 345.0 145.0 345.5 145.4 346.3 146.0 347.0 146.6 347.5 147.0 348.3 147.7 348.9 148.2 349.3 149.0 349.6 149.8 349.9 151.0 349.9 151.8 350.0 153.0 350.0 154.2 350.0 155.4 350.2 156.6 350.3 157.4 350.4 158.6 350.4 159.8 350.4 161.0 350.5 162.2 350.7 163.1 350.8 164.2 350.9 165.4 350.9 166.6 350.9 167.8 351.1 169.0 351.2 169.8 351.3 171.0 351.3 172.2 351.3 173.4 351.3 174.6 351.3 175.8 351.2 177.0 351.0 177.8 350.9 179.0 350.9 180.2 350.9 181.4 350.9 182.6 350.9 183.8 350.9 185.0 350.9 186.2 350.8 187.4 350.7 188.2 350.5 189.4 350.4 190.6 350.4 191.8 350.5 193.0 350.8 193.8 351.3 194.6 351.6 195.4 351.7 196.6 351.5 197.8 351.2 198.6 350.7 199.4 350.3 199.8 349.5 200.5 348.8 201.0 348.0 201.4 347.1 201.7zM346.3 202.3 345.1 202.4 343.9 202.4 342.7 202.3 341.9 202.1 341.1 201.8 339.9 201.6 338.8 201.4 337.9 201.1 337.1 200.7 336.3 200.2 335.6 199.8 335.1 199.4 334.3 198.9 333.5 198.4 332.7 197.9 332.1 197.4 331.5 196.6 331.1 195.9 330.7 195.1 330.3 194.4 329.9 193.6 329.5 192.8 329.1 191.9 328.7 191.0 328.4 190.2 328.0 189.4 327.6 188.6 327.2 187.8 326.8 187.0 326.5 186.2 326.2 185.4 325.8 184.6 325.5 183.7 325.1 182.7 324.8 181.8 324.6 181.0 324.3 180.2 324.0 179.0 323.8 178.2 323.5 177.1 323.3 176.2 323.1 175.1 323.0 174.2 322.8 173.0 322.8 171.8 322.8 170.6 322.8 169.4 322.8 168.2 322.8 167.0 322.9 165.8 322.9 164.6 323.0 163.4 323.0 162.2 323.1 161.0 323.1 160.2 323.2 159.0 323.3 157.8 323.3 156.6 323.4 155.4 323.5 154.4 323.6 153.4 323.7 152.2 323.8 151.0 323.9 149.8 324.0 149.0 324.1 147.8 324.2 146.6 324.4 145.8 325.1 145.3 325.9 144.9 326.7 144.5 327.5 144.2 328.7 143.9 329.5 143.8 330.7 143.6 331.9 143.5 332.7 143.4 333.9 143.3 335.1 143.2 336.3 143.1 337.5 143.0 338.3 143.0 339.5 142.9 340.7 142.9 341.9 143.0 342.7 143.2 343.5 143.7 344.2 144.2 344.7 144.6 345.5 145.3 346.2 145.8 346.7 146.2 347.5 146.9 348.2 147.4 348.7 147.9 349.3 148.6 349.6 149.4 349.9 150.6 350.0 151.4 350.1 152.6 350.1 153.8 350.1 155.0 350.2 156.2 350.4 157.0 350.5 158.2 350.5 159.4 350.6 160.6 350.6 161.8 350.7 162.6 350.9 163.8 351.0 165.0 351.0 166.2 351.0 167.4 351.1 168.4 351.3 169.4 351.4 170.6 351.4 171.8 351.4 173.0 351.4 174.2 351.4 175.4 351.4 176.6 351.2 177.8 351.0 178.6 351.0 179.8 351.0 181.0 351.0 182.2 351.0 183.4 351.0 184.6 351.0 185.8 351.0 187.0 350.8 188.2 350.7 189.0 350.6 190.2 350.6 191.4 350.6 192.6 351.0 193.4 351.5 194.2 351.9 195.0 352.1 195.8 352.1 197.0 351.9 197.9 351.5 198.8 351.1 199.4 350.4 200.2 349.9 200.7 349.1 201.2 348.3 201.6 347.5 201.9 346.5 202.2zM345.9 202.6 344.7 202.7 343.5 202.7 342.7 202.5 341.5 202.3 340.7 202.0 339.9 201.7 338.7 201.5 337.9 201.2 337.1 200.8 336.3 200.4 335.5 199.9 334.8 199.4 334.2 199.0 333.5 198.6 332.7 198.0 331.9 197.4 331.5 196.9 331.1 196.2 330.7 195.4 330.2 194.6 329.8 193.8 329.4 193.0 329.0 192.2 328.7 191.4 328.3 190.5 327.9 189.6 327.5 188.8 327.1 188.0 326.7 187.2 326.3 186.4 325.9 185.4 325.5 184.6 325.2 183.8 324.9 183.0 324.6 182.2 324.3 181.4 323.9 180.2 323.6 179.4 323.4 178.6 323.1 177.6 322.8 176.6 322.5 175.8 322.3 175.0 321.9 173.8 321.7 173.0 321.5 172.2 321.1 171.0 320.9 170.2 320.6 169.4 320.3 168.2 320.1 167.4 319.9 166.6 319.8 165.4 319.6 164.2 319.5 163.2 319.4 162.2 319.3 161.0 319.2 159.8 319.1 158.6 319.1 157.8 319.1 156.6 319.1 155.5 319.1 154.6 319.2 153.4 319.3 152.2 319.4 151.0 319.4 149.8 319.5 149.0 319.6 147.8 319.7 146.6 320.2 145.8 321.1 145.4 321.9 145.2 322.7 145.0 323.9 144.8 324.7 144.6 325.9 144.3 326.7 144.1 327.7 143.8 328.7 143.6 329.9 143.5 330.8 143.4 331.9 143.3 333.1 143.2 334.3 143.1 335.5 143.0 336.3 143.0 337.5 142.9 338.7 142.8 339.9 142.8 341.1 142.8 342.3 142.9 343.1 143.3 343.8 143.8 344.4 144.2 345.1 144.8 345.9 145.4 346.4 145.8 347.1 146.4 347.8 147.0 348.4 147.4 349.1 148.1 349.5 148.8 349.8 149.8 350.1 150.6 350.2 151.8 350.2 153.0 350.2 154.2 350.2 155.4 350.3 156.2 350.6 157.4 350.6 158.6 350.6 159.8 350.7 161.0 350.7 161.8 350.9 163.0 351.0 164.2 351.1 165.4 351.1 166.6 351.1 167.6 351.3 168.6 351.4 169.8 351.5 171.0 351.5 172.2 351.5 173.4 351.5 174.6 351.5 175.8 351.4 177.0 351.2 178.2 351.1 179.0 351.1 180.2 351.1 181.4 351.1 182.6 351.1 183.8 351.1 185.0 351.1 186.2 351.0 187.4 350.9 188.6 350.7 189.4 350.7 190.6 350.6 191.8 350.7 192.6 351.4 193.4 351.9 194.2 352.2 195.0 352.4 195.8 352.5 197.0 352.3 197.8 351.9 198.8 351.5 199.5 350.9 200.2 350.3 200.8 349.5 201.3 348.7 201.8 347.9 202.1 347.1 202.4 345.9 202.6zM347.1 202.7 345.9 202.9 344.7 203.0 343.5 202.9 342.3 202.8 341.5 202.6 340.5 202.2 339.7 201.8 338.7 201.6 337.9 201.4 337.1 201.0 336.3 200.5 335.5 200.0 334.7 199.5 333.9 199.0 333.3 198.6 332.7 198.2 331.9 197.6 331.4 197.0 330.9 196.2 330.5 195.4 330.1 194.6 329.6 193.8 329.2 193.0 328.9 192.2 328.5 191.4 328.1 190.6 327.8 189.8 327.4 189.0 327.0 188.2 326.6 187.4 326.2 186.6 325.8 185.8 325.5 185.0 325.1 184.1 324.7 183.2 324.3 182.2 324.0 181.4 323.7 180.6 323.5 179.8 323.1 178.6 322.8 177.8 322.5 177.0 322.3 176.2 321.9 175.0 321.6 174.2 321.3 173.4 321.1 172.6 320.7 171.4 320.4 170.6 320.1 169.8 319.9 169.0 319.5 167.9 319.2 167.0 319.1 166.2 318.9 165.0 318.7 163.9 318.6 163.0 318.4 161.8 318.3 161.0 318.1 159.8 317.9 158.8 317.7 157.8 317.6 156.6 317.4 155.8 317.3 154.6 317.1 153.7 316.9 152.6 316.9 151.4 316.9 150.2 316.9 149.0 317.0 147.8 317.1 147.0 317.3 145.8 317.7 145.0 318.7 144.8 319.9 144.7 320.9 144.6 321.9 144.5 323.1 144.4 324.3 144.3 325.1 144.2 326.3 143.9 327.1 143.7 328.3 143.5 329.1 143.4 330.3 143.3 331.5 143.2 332.7 143.1 333.6 143.0 334.7 142.9 335.9 142.8 337.1 142.8 338.3 142.7 339.5 142.7 340.7 142.7 341.9 142.7 342.7 143.0 343.5 143.4 344.3 144.0 345.1 144.6 345.5 145.0 346.3 145.6 347.1 146.2 347.5 146.6 348.3 147.2 349.0 147.8 349.5 148.5 349.8 149.4 350.1 150.2 350.3 151.4 350.3 152.6 350.3 153.8 350.3 154.6 350.4 155.8 350.6 157.0 350.7 158.0 350.7 159.0 350.8 160.2 350.8 161.4 351.0 162.6 351.1 163.6 351.2 164.6 351.2 165.8 351.2 167.0 351.3 168.2 351.5 169.4 351.6 170.2 351.6 171.4 351.6 172.6 351.6 173.8 351.6 175.0 351.6 176.2 351.5 177.0 351.3 178.2 351.2 179.4 351.2 180.6 351.2 181.8 351.2 183.0 351.2 184.2 351.2 185.4 351.2 186.6 351.1 187.6 351.0 188.6 350.8 189.8 350.8 191.0 350.8 192.2 351.5 193.0 351.9 193.5 352.3 194.2 352.7 195.4 352.8 196.2 352.8 197.4 352.5 198.2 352.2 199.0 351.7 199.8 351.1 200.5 350.5 201.0 349.9 201.4 349.1 201.9 348.3 202.3 347.3 202.6zM346.7 203.0 345.5 203.2 344.3 203.3 343.1 203.2 342.2 203.0 341.1 202.7 340.3 202.4 339.5 202.0 338.7 201.7 337.8 201.4 337.0 201.0 336.3 200.6 335.5 200.1 334.7 199.6 333.9 199.1 333.1 198.6 332.5 198.2 331.9 197.7 331.2 197.0 330.8 196.2 330.4 195.4 329.9 194.6 329.5 193.8 329.1 193.0 328.7 192.2 328.4 191.4 328.0 190.6 327.6 189.8 327.2 189.0 326.8 188.2 326.4 187.4 326.0 186.6 325.6 185.8 325.3 185.0 324.9 184.2 324.6 183.4 324.2 182.6 323.9 181.7 323.5 180.6 323.2 179.8 323.0 179.0 322.7 178.2 322.3 177.1 322.0 176.2 321.8 175.4 321.5 174.6 321.1 173.6 320.8 172.6 320.5 171.8 320.2 171.0 319.9 170.1 319.5 169.0 319.2 168.2 319.0 167.4 318.7 166.2 318.5 165.4 318.4 164.2 318.2 163.4 318.0 162.2 317.9 161.3 317.7 160.2 317.5 159.0 317.4 158.2 317.2 157.0 317.1 156.2 316.9 155.0 316.7 153.8 316.5 153.0 316.5 151.8 316.5 150.6 316.5 149.4 316.5 148.2 316.7 147.0 316.8 146.2 317.0 145.0 317.5 144.5 318.7 144.3 319.9 144.3 321.1 144.2 321.9 144.2 323.1 144.1 324.3 144.0 325.5 143.9 326.3 143.7 327.5 143.4 328.3 143.3 329.5 143.2 330.7 143.1 331.8 143.0 332.7 142.9 333.9 142.8 335.1 142.8 336.3 142.7 337.5 142.7 338.7 142.6 339.8 142.6 340.7 142.6 341.5 142.6 342.7 142.8 343.5 143.3 344.2 143.8 344.7 144.2 345.5 144.8 346.2 145.4 346.7 145.8 347.5 146.4 348.2 147.0 348.7 147.4 349.4 148.2 349.8 149.0 350.1 149.8 350.3 151.0 350.4 151.8 350.4 153.0 350.4 154.2 350.5 155.4 350.6 156.6 350.8 157.4 350.9 158.6 350.9 159.8 350.9 161.0 351.0 162.2 351.1 163.0 351.3 164.2 351.3 165.4 351.3 166.6 351.3 167.8 351.5 168.9 351.7 169.8 351.7 171.0 351.7 172.2 351.7 173.4 351.7 174.6 351.7 175.8 351.6 177.0 351.5 177.8 351.3 179.0 351.3 180.2 351.3 181.4 351.3 182.6 351.3 183.8 351.3 185.0 351.3 186.2 351.2 187.4 351.1 188.3 350.9 189.4 350.9 190.6 351.0 191.8 351.5 192.5 351.9 193.0 352.5 193.8 352.8 194.6 353.1 195.7 353.2 196.6 353.1 197.4 352.7 198.6 352.3 199.4 351.9 200.0 351.4 200.6 350.7 201.2 349.9 201.8 349.1 202.2 348.3 202.6 347.5 202.8 346.7 203.0zM345.9 203.4 344.7 203.5 343.5 203.5 342.7 203.4 341.5 203.1 340.7 202.9 339.9 202.5 339.1 202.1 338.3 201.7 337.5 201.4 336.7 201.0 335.9 200.5 335.1 200.0 334.3 199.5 333.5 199.0 332.9 198.6 332.3 198.2 331.5 197.5 331.1 197.0 330.6 196.2 330.2 195.4 329.8 194.6 329.3 193.8 328.9 193.0 328.6 192.2 328.2 191.4 327.8 190.6 327.5 189.8 327.1 189.0 326.6 188.2 326.2 187.4 325.8 186.6 325.5 185.8 325.1 185.0 324.7 184.1 324.3 183.2 323.9 182.2 323.6 181.4 323.3 180.6 323.0 179.8 322.7 178.8 322.4 177.8 322.1 177.0 321.8 176.2 321.5 175.3 321.1 174.2 320.8 173.4 320.5 172.6 320.3 171.8 319.9 170.8 319.5 169.8 319.3 169.0 319.0 168.2 318.7 167.4 318.4 166.2 318.3 165.4 318.1 164.2 317.9 163.0 317.8 162.2 317.6 161.0 317.4 160.2 317.3 159.0 317.1 158.1 316.9 157.0 316.7 155.8 316.6 155.0 316.4 153.8 316.3 153.0 316.2 151.8 316.2 150.6 316.2 149.4 316.2 148.2 316.3 147.4 316.5 146.2 316.7 145.0 317.1 144.4 317.9 144.1 319.1 144.0 320.3 144.0 321.5 144.0 322.7 143.9 323.9 143.9 324.7 143.8 325.9 143.6 326.7 143.4 327.9 143.2 329.1 143.1 330.1 143.0 331.1 142.9 332.3 142.8 333.5 142.7 334.7 142.7 335.9 142.6 336.8 142.6 337.9 142.5 339.1 142.5 340.3 142.5 341.5 142.5 342.3 142.6 343.2 143.0 343.9 143.5 344.7 144.1 345.4 144.6 345.9 145.0 346.7 145.6 347.4 146.2 347.9 146.7 348.7 147.3 349.3 147.8 349.8 148.6 350.1 149.4 350.3 150.4 350.5 151.4 350.5 152.6 350.5 153.8 350.5 155.0 350.6 156.2 350.8 157.0 350.9 158.2 351.0 159.4 351.0 160.6 351.0 161.8 351.1 162.6 351.3 163.8 351.4 165.0 351.4 166.2 351.4 167.4 351.5 168.4 351.7 169.4 351.8 170.6 351.8 171.8 351.8 173.0 351.8 174.2 351.8 175.4 351.8 176.6 351.6 177.8 351.4 178.6 351.4 179.8 351.4 181.0 351.4 182.2 351.4 183.4 351.4 184.6 351.4 185.8 351.4 187.0 351.2 188.2 351.1 189.0 351.0 190.2 351.0 191.4 351.5 192.1 352.0 192.6 352.6 193.4 353.0 194.2 353.3 195.0 353.5 196.2 353.4 197.4 353.1 198.6 352.7 199.4 352.3 200.0 351.8 200.6 351.1 201.3 350.4 201.8 349.7 202.2 348.9 202.6 347.9 203.0 347.1 203.2 346.0 203.4zM347.1 203.5 345.9 203.7 344.7 203.8 343.5 203.7 342.3 203.6 341.5 203.4 340.4 203.0 339.5 202.6 338.7 202.2 338.1 201.8 337.3 201.4 336.6 201.0 335.9 200.6 335.1 200.1 334.3 199.6 333.5 199.1 332.7 198.6 332.1 198.2 331.5 197.7 331.0 197.0 330.5 196.2 330.1 195.4 329.6 194.6 329.2 193.8 328.8 193.0 328.4 192.2 328.1 191.4 327.7 190.6 327.3 189.8 326.9 189.0 326.5 188.2 326.1 187.4 325.7 186.6 325.3 185.8 324.9 185.0 324.6 184.2 324.2 183.4 323.9 182.6 323.5 181.5 323.1 180.6 322.9 179.8 322.6 179.0 322.3 178.1 321.9 177.1 321.6 176.2 321.3 175.4 321.0 174.6 320.7 173.7 320.3 172.6 320.1 171.8 319.7 171.0 319.5 170.2 319.1 169.1 318.8 168.2 318.5 167.4 318.3 166.6 318.1 165.4 317.9 164.3 317.8 163.4 317.6 162.2 317.4 161.4 317.2 160.2 317.1 159.3 316.9 158.2 316.7 157.0 316.6 156.2 316.4 155.0 316.3 154.2 316.0 153.0 316.0 151.8 316.0 150.6 316.0 149.4 316.0 148.2 316.2 147.0 316.3 146.2 316.5 145.0 317.0 144.2 317.9 143.9 319.1 143.8 320.3 143.8 321.1 143.8 322.3 143.7 323.5 143.7 324.7 143.6 325.9 143.4 326.7 143.2 327.9 143.0 328.7 143.0 329.9 142.9 331.1 142.8 332.3 142.7 333.5 142.6 334.6 142.6 335.5 142.5 336.7 142.5 337.9 142.4 339.1 142.4 340.3 142.4 341.5 142.4 342.5 142.6 343.4 143.0 343.9 143.4 344.7 143.9 345.5 144.6 346.0 145.0 346.7 145.5 347.5 146.2 348.0 146.6 348.7 147.1 349.4 147.8 349.9 148.6 350.2 149.4 350.4 150.2 350.6 151.4 350.6 152.6 350.6 153.8 350.6 155.0 350.7 156.1 350.9 157.0 351.0 158.2 351.0 159.4 351.0 160.6 351.1 161.8 351.3 162.6 351.4 163.8 351.4 165.0 351.4 166.2 351.5 167.4 351.6 168.2 351.8 169.4 351.8 170.6 351.9 171.8 351.9 173.0 351.9 174.2 351.9 175.4 351.8 176.6 351.7 177.8 351.5 178.6 351.5 179.8 351.5 181.0 351.5 182.2 351.5 183.4 351.5 184.6 351.4 185.8 351.4 187.0 351.3 188.2 351.1 189.3 351.0 190.2 351.1 191.4 351.6 191.8 352.3 192.5 352.7 193.1 353.1 193.8 353.5 194.6 353.8 195.8 353.8 197.0 353.6 198.2 353.3 199.0 352.8 199.8 352.3 200.5 351.8 201.0 351.1 201.6 350.3 202.2 349.5 202.6 348.7 203.0 347.9 203.3 347.1 203.5z" fill="none" stroke="#333" stroke-width="0.42" stroke-linejoin="round"/>
<path d="M318.7 199.4 318.3 199.4 317.7 199.0 317.4 198.6 317.2 197.8 317.4 197.0 317.8 196.6 318.3 196.4 319.1 196.4 319.6 196.6 320.0 197.0 320.2 197.8 320.0 198.6 319.7 199.0 319.1 199.4 318.7 199.4zM319.5 199.9 318.3 200.0 317.5 199.6 316.9 199.0 316.6 198.2 316.7 197.3 317.1 196.5 317.9 195.9 318.7 195.7 319.5 195.9 320.3 196.5 320.7 197.3 320.8 198.2 320.5 199.0 319.9 199.6zM319.5 200.3 318.3 200.4 317.5 200.1 316.7 199.4 316.3 198.6 316.2 197.8 316.3 197.0 316.8 196.2 317.5 195.6 318.3 195.4 319.3 195.4 320.2 195.8 320.7 196.3 321.1 197.2 321.2 198.2 320.9 199.0 320.3 199.8 319.7 200.2zM319.5 200.7 318.3 200.8 317.5 200.5 316.7 199.9 316.3 199.4 315.9 198.2 316.0 197.0 316.4 196.2 317.1 195.5 317.9 195.1 319.1 195.0 320.2 195.4 320.7 195.8 321.3 196.6 321.5 197.8 321.3 199.0 320.8 199.8 320.3 200.2 319.5 200.7zM319.1 201.0 318.2 201.0 317.2 200.6 316.6 200.2 316.0 199.4 315.7 198.6 315.7 197.4 315.9 196.5 316.3 195.8 317.1 195.1 317.9 194.8 319.1 194.8 320.0 195.0 320.7 195.4 321.4 196.2 321.7 197.0 321.8 198.2 321.5 199.2 321.1 199.9 320.3 200.6 319.5 200.9zM319.9 201.0 318.7 201.3 317.5 201.0 316.7 200.6 316.3 200.2 315.7 199.4 315.5 198.6 315.4 197.4 315.6 196.6 316.0 195.8 316.7 195.1 317.5 194.7 318.3 194.5 319.5 194.6 320.3 194.9 321.0 195.4 321.5 196.0 321.9 197.0 322.0 197.8 321.9 198.7 321.5 199.7 321.1 200.2 320.3 200.9zM319.1 201.5 317.9 201.4 317.1 201.1 316.4 200.6 315.9 200.1 315.5 199.4 315.2 198.2 315.3 197.0 315.5 196.2 316.1 195.4 316.7 194.9 317.5 194.5 318.7 194.3 319.9 194.5 320.7 194.9 321.3 195.4 321.9 196.2 322.1 197.0 322.2 198.2 321.9 199.4 321.5 200.1 321.0 200.6 320.3 201.1 319.5 201.4z" fill="none" stroke="#888" stroke-width="0.4" stroke-linejoin="round"/>
<rect x="278.3" y="129.4" width="89.2" height="89.8" fill="none" stroke="#aaa" stroke-width="0.7"/>
<rect x="314.4" y="129.7" width="53.1" height="86.6" fill="none" stroke="#111" stroke-width="1"/>
<polyline points="276.8,158.8 327.1,158.8 367.5,134" fill="none" stroke="#111" stroke-width="1"/>
<line x1="276.8" y1="184" x2="367.5" y2="184" stroke="#111" stroke-width="1"/>
<text x="282.4" y="136.2" font-size="5.6" stroke="#111" stroke-width="0.15" font-weight="bold" fill="#111">23.3%</text>
<text x="366.6" y="136.2" font-size="5.6" stroke="#111" stroke-width="0.15" text-anchor="end" font-weight="bold" fill="#111">10.4%</text>
<text x="282" y="173.3" font-size="5.6" stroke="#111" stroke-width="0.15" font-weight="bold" fill="#111">11.1%</text>
<text x="367.2" y="176.2" font-size="5.6" stroke="#111" stroke-width="0.15" text-anchor="end" font-weight="bold" fill="#111">41.2%</text>
<text x="367.2" y="210" font-size="5.6" stroke="#111" stroke-width="0.15" text-anchor="end" font-weight="bold" fill="#111">14.3%</text>
<text x="275.1" y="140.1" font-size="4.5" stroke="#222" stroke-width="0.12" text-anchor="end" fill="#222">10<tspan font-size="70%" baseline-shift="30%">5</tspan></text>
<text x="275.1" y="161" font-size="4.5" stroke="#222" stroke-width="0.12" text-anchor="end" fill="#222">10<tspan font-size="70%" baseline-shift="30%">4</tspan></text>
<text x="275.1" y="185.6" font-size="4.5" stroke="#222" stroke-width="0.12" text-anchor="end" fill="#222">10<tspan font-size="70%" baseline-shift="30%">3</tspan></text>
<text x="275.1" y="200.2" font-size="4.5" stroke="#222" stroke-width="0.12" text-anchor="end" fill="#222">0</text>
<text x="275.1" y="215.4" font-size="4.5" stroke="#222" stroke-width="0.12" text-anchor="end" fill="#222">-10<tspan font-size="70%" baseline-shift="30%">3</tspan></text>
<path d="M278.3 138.5h-1.8M278.3 159.4h-1.8M278.3 184h-1.8M278.3 198.6h-1.8M278.3 213.8h-1.8M278.3 133h-1M278.3 135.5h-1M278.3 145h-1M278.3 150h-1M278.3 153h-1M278.3 165h-1M278.3 171h-1M278.3 175h-1M278.3 179h-1M278.3 190h-1M278.3 194h-1M278.3 203h-1M278.3 207h-1M278.3 211h-1" stroke="#222" stroke-width="0.8"/>
<rect x="276.3" y="196.6" width="1.6" height="4" fill="#111"/>
<text x="287.1" y="227.5" font-size="4.5" stroke="#222" stroke-width="0.12" text-anchor="middle" fill="#222">-10<tspan font-size="70%" baseline-shift="30%">3</tspan></text>
<text x="300.3" y="227.5" font-size="4.5" stroke="#222" stroke-width="0.12" text-anchor="middle" fill="#222">0</text>
<text x="315.4" y="227.5" font-size="4.5" stroke="#222" stroke-width="0.12" text-anchor="middle" fill="#222">10<tspan font-size="70%" baseline-shift="30%">3</tspan></text>
<text x="340.1" y="227.5" font-size="4.5" stroke="#222" stroke-width="0.12" text-anchor="middle" fill="#222">10<tspan font-size="70%" baseline-shift="30%">4</tspan></text>
<text x="362.1" y="227.5" font-size="4.5" stroke="#222" stroke-width="0.12" text-anchor="middle" fill="#222">10<tspan font-size="70%" baseline-shift="30%">5</tspan></text>
<path d="M287.1 219.2v1.8M300.3 219.2v1.8M315.4 219.2v1.8M340.1 219.2v1.8M362.1 219.2v1.8M282.1 219.2v1M292.1 219.2v1M295.1 219.2v1M305.1 219.2v1M308.1 219.2v1M323.1 219.2v1M328.1 219.2v1M332.1 219.2v1M334.1 219.2v1M336.1 219.2v1M346.1 219.2v1M351.1 219.2v1M354.1 219.2v1M356.1 219.2v1M358.1 219.2v1M360.1 219.2v1M364.1 219.2v1M366.1 219.2v1" stroke="#222" stroke-width="0.8"/>
<rect x="296.6" y="219.4" width="4" height="1.8" fill="#111"/>
<text x="290.1" y="235.9" font-size="5" stroke="#222" stroke-width="0.12" font-weight="bold" fill="#222" textLength="64" lengthAdjust="spacingAndGlyphs">Comp-AmCyan-A :: CD16 BV510</text>
<text x="262.8" y="176" font-size="5" stroke="#222" stroke-width="0.12" text-anchor="middle" font-weight="bold" fill="#222" transform="rotate(-90 262.8 176)" textLength="50.5" lengthAdjust="spacingAndGlyphs">Comp-PE-Cy7-A :: CD56</text>
<text x="42.5" y="250.9" font-size="7.7" fill="#222" textLength="198" lengthAdjust="spacingAndGlyphs">Evolution of Activation marker on CD56<tspan font-size="4.77" baseline-shift="2.31">neg</tspan>CD16<tspan font-size="4.77" baseline-shift="2.31">pos</tspan> NK cells</text>
<text x="41.6" y="356.6" font-size="7.7" fill="#222" textLength="186.4" lengthAdjust="spacingAndGlyphs">Evolution of NCRs marker on CD56<tspan font-size="4.77" baseline-shift="2.31">neg</tspan>CD16<tspan font-size="4.77" baseline-shift="2.31">pos</tspan> NK cells</text>
<line x1="40.9" y1="262.2" x2="40.9" y2="324.9" stroke="#111" stroke-width="1.2"/>
<line x1="40.3" y1="324.3" x2="130.4" y2="324.3" stroke="#111" stroke-width="1.2"/>
<line x1="38" y1="265.55" x2="40.9" y2="265.55" stroke="#111" stroke-width="1"/>
<text x="36.6" y="267.49" font-size="5.4" stroke="#222" stroke-width="0.15" text-anchor="end" fill="#222">50</text>
<line x1="38" y1="277.3" x2="40.9" y2="277.3" stroke="#111" stroke-width="1"/>
<text x="36.6" y="279.24" font-size="5.4" stroke="#222" stroke-width="0.15" text-anchor="end" fill="#222">40</text>
<line x1="38" y1="289.05" x2="40.9" y2="289.05" stroke="#111" stroke-width="1"/>
<text x="36.6" y="290.99" font-size="5.4" stroke="#222" stroke-width="0.15" text-anchor="end" fill="#222">30</text>
<line x1="38" y1="300.8" x2="40.9" y2="300.8" stroke="#111" stroke-width="1"/>
<text x="36.6" y="302.74" font-size="5.4" stroke="#222" stroke-width="0.15" text-anchor="end" fill="#222">20</text>
<line x1="38" y1="312.55" x2="40.9" y2="312.55" stroke="#111" stroke-width="1"/>
<text x="36.6" y="314.49" font-size="5.4" stroke="#222" stroke-width="0.15" text-anchor="end" fill="#222">10</text>
<line x1="38" y1="324.3" x2="40.9" y2="324.3" stroke="#111" stroke-width="1"/>
<text x="36.6" y="326.24" font-size="5.4" stroke="#222" stroke-width="0.15" text-anchor="end" fill="#222">0</text>
<line x1="59.5" y1="324.3" x2="59.5" y2="326.5" stroke="#111" stroke-width="1"/>
<text x="60.46" y="334.6" font-size="4.8" stroke="#111" stroke-width="0.22" text-anchor="middle" fill="#111">1<tspan font-size="2.4" baseline-shift="2.64">st</tspan></text>
<text x="59.5" y="341" font-size="4.8" stroke="#000" stroke-width="0.22" text-anchor="middle" textLength="23.5" lengthAdjust="spacingAndGlyphs">time point</text>
<line x1="86.25" y1="324.3" x2="86.25" y2="326.5" stroke="#111" stroke-width="1"/>
<text x="87.21" y="334.6" font-size="4.8" stroke="#111" stroke-width="0.22" text-anchor="middle" fill="#111">2<tspan font-size="2.4" baseline-shift="2.64">nd</tspan></text>
<text x="86.25" y="341" font-size="4.8" stroke="#000" stroke-width="0.22" text-anchor="middle" textLength="23.5" lengthAdjust="spacingAndGlyphs">time point</text>
<line x1="112.8" y1="324.3" x2="112.8" y2="326.5" stroke="#111" stroke-width="1"/>
<text x="113.76" y="334.6" font-size="4.8" stroke="#111" stroke-width="0.22" text-anchor="middle" fill="#111">3<tspan font-size="2.4" baseline-shift="2.64">rd</tspan></text>
<text x="112.8" y="341" font-size="4.8" stroke="#000" stroke-width="0.22" text-anchor="middle" textLength="23.5" lengthAdjust="spacingAndGlyphs">time point</text>
<polyline points="59.5,305.5 86.25,323.71 112.8,314.31" fill="none" stroke="#9a1c42" stroke-width="1.15" stroke-dasharray="3.2 1.5"/>
<polyline points="59.5,303.15 86.25,301.98 112.8,277.3" fill="none" stroke="#2e3d60" stroke-width="1.15"/>
<circle cx="59.5" cy="303.15" r="1.7" fill="#2e3d60"/>
<circle cx="86.25" cy="301.98" r="1.7" fill="#2e3d60"/>
<circle cx="112.8" cy="277.3" r="1.7" fill="#2e3d60"/>
<rect x="57.9" y="303.9" width="3.2" height="3.2" fill="#a8143e"/>
<rect x="84.65" y="322.11" width="3.2" height="3.2" fill="#a8143e"/>
<rect x="111.2" y="312.71" width="3.2" height="3.2" fill="#a8143e"/>
<line x1="45" y1="266.3" x2="53.8" y2="266.3" stroke="#2e3d60" stroke-width="1.1"/>
<line x1="45" y1="273" x2="53.8" y2="273" stroke="#9a1c42" stroke-width="1.1" stroke-dasharray="3.2 1.5"/>
<text x="58.5" y="268.24" font-size="5.4" stroke="#333" stroke-width="0.12" fill="#333">BL1</text>
<text x="58.5" y="274.94" font-size="5.4" stroke="#333" stroke-width="0.12" fill="#333">BL2</text>
<text x="25.37" y="293.3" font-size="6.3" stroke="#111" stroke-width="0.18" text-anchor="middle" fill="#111" transform="rotate(-90 25.37 293.3)" textLength="66.8" lengthAdjust="spacingAndGlyphs">% CD57+CD56-CD16+ cells</text>
<line x1="165.8" y1="262.6" x2="165.8" y2="324.4" stroke="#111" stroke-width="1.2"/>
<line x1="165.2" y1="323.8" x2="248.8" y2="323.8" stroke="#111" stroke-width="1.2"/>
<line x1="162.9" y1="264.8" x2="165.8" y2="264.8" stroke="#111" stroke-width="1"/>
<text x="161.5" y="266.74" font-size="5.4" stroke="#222" stroke-width="0.15" text-anchor="end" fill="#222">25</text>
<line x1="162.9" y1="276.6" x2="165.8" y2="276.6" stroke="#111" stroke-width="1"/>
<text x="161.5" y="278.54" font-size="5.4" stroke="#222" stroke-width="0.15" text-anchor="end" fill="#222">20</text>
<line x1="162.9" y1="288.4" x2="165.8" y2="288.4" stroke="#111" stroke-width="1"/>
<text x="161.5" y="290.34" font-size="5.4" stroke="#222" stroke-width="0.15" text-anchor="end" fill="#222">15</text>
<line x1="162.9" y1="300.2" x2="165.8" y2="300.2" stroke="#111" stroke-width="1"/>
<text x="161.5" y="302.14" font-size="5.4" stroke="#222" stroke-width="0.15" text-anchor="end" fill="#222">10</text>
<line x1="162.9" y1="312" x2="165.8" y2="312" stroke="#111" stroke-width="1"/>
<text x="161.5" y="313.94" font-size="5.4" stroke="#222" stroke-width="0.15" text-anchor="end" fill="#222">5</text>
<line x1="162.9" y1="323.8" x2="165.8" y2="323.8" stroke="#111" stroke-width="1"/>
<text x="161.5" y="325.74" font-size="5.4" stroke="#222" stroke-width="0.15" text-anchor="end" fill="#222">0</text>
<line x1="183" y1="323.8" x2="183" y2="326" stroke="#111" stroke-width="1"/>
<text x="183.96" y="334.6" font-size="4.8" stroke="#111" stroke-width="0.22" text-anchor="middle" fill="#111">1<tspan font-size="2.4" baseline-shift="2.64">st</tspan></text>
<text x="183" y="341" font-size="4.8" stroke="#000" stroke-width="0.22" text-anchor="middle" textLength="23.5" lengthAdjust="spacingAndGlyphs">time point</text>
<line x1="209.8" y1="323.8" x2="209.8" y2="326" stroke="#111" stroke-width="1"/>
<text x="210.76" y="334.6" font-size="4.8" stroke="#111" stroke-width="0.22" text-anchor="middle" fill="#111">2<tspan font-size="2.4" baseline-shift="2.64">nd</tspan></text>
<text x="209.8" y="341" font-size="4.8" stroke="#000" stroke-width="0.22" text-anchor="middle" textLength="23.5" lengthAdjust="spacingAndGlyphs">time point</text>
<line x1="236.3" y1="323.8" x2="236.3" y2="326" stroke="#111" stroke-width="1"/>
<text x="237.26" y="334.6" font-size="4.8" stroke="#111" stroke-width="0.22" text-anchor="middle" fill="#111">3<tspan font-size="2.4" baseline-shift="2.64">rd</tspan></text>
<text x="236.3" y="341" font-size="4.8" stroke="#000" stroke-width="0.22" text-anchor="middle" textLength="23.5" lengthAdjust="spacingAndGlyphs">time point</text>
<polyline points="183,286.04 209.8,275.42 236.3,270.23" fill="none" stroke="#9a1c42" stroke-width="1.15" stroke-dasharray="3.2 1.5"/>
<polyline points="183,293.12 209.8,295.95 236.3,293.12" fill="none" stroke="#2e3d60" stroke-width="1.15"/>
<circle cx="183" cy="293.12" r="1.7" fill="#2e3d60"/>
<circle cx="209.8" cy="295.95" r="1.7" fill="#2e3d60"/>
<circle cx="236.3" cy="293.12" r="1.7" fill="#2e3d60"/>
<rect x="181.4" y="284.44" width="3.2" height="3.2" fill="#a8143e"/>
<rect x="208.2" y="273.82" width="3.2" height="3.2" fill="#a8143e"/>
<rect x="234.7" y="268.63" width="3.2" height="3.2" fill="#a8143e"/>
<line x1="226" y1="311.4" x2="235.4" y2="311.4" stroke="#2e3d60" stroke-width="1.1"/>
<line x1="226" y1="318.5" x2="235.4" y2="318.5" stroke="#9a1c42" stroke-width="1.1" stroke-dasharray="3.2 1.5"/>
<text x="238.5" y="313.34" font-size="5.4" stroke="#333" stroke-width="0.12" fill="#333">BL1</text>
<text x="238.5" y="320.44" font-size="5.4" stroke="#333" stroke-width="0.12" fill="#333">BL2</text>
<text x="149.67" y="293.7" font-size="6.3" stroke="#111" stroke-width="0.18" text-anchor="middle" fill="#111" transform="rotate(-90 149.67 293.7)" textLength="77" lengthAdjust="spacingAndGlyphs">% of NKG2C+CD56-CD16+ cells</text>
<line x1="284.3" y1="261.5" x2="284.3" y2="324.8" stroke="#111" stroke-width="1.2"/>
<line x1="283.7" y1="324.2" x2="373.5" y2="324.2" stroke="#111" stroke-width="1.2"/>
<line x1="281.4" y1="264.85" x2="284.3" y2="264.85" stroke="#111" stroke-width="1"/>
<text x="280" y="266.79" font-size="5.4" stroke="#222" stroke-width="0.15" text-anchor="end" fill="#222">50</text>
<line x1="281.4" y1="276.72" x2="284.3" y2="276.72" stroke="#111" stroke-width="1"/>
<text x="280" y="278.66" font-size="5.4" stroke="#222" stroke-width="0.15" text-anchor="end" fill="#222">40</text>
<line x1="281.4" y1="288.59" x2="284.3" y2="288.59" stroke="#111" stroke-width="1"/>
<text x="280" y="290.53" font-size="5.4" stroke="#222" stroke-width="0.15" text-anchor="end" fill="#222">30</text>
<line x1="281.4" y1="300.46" x2="284.3" y2="300.46" stroke="#111" stroke-width="1"/>
<text x="280" y="302.4" font-size="5.4" stroke="#222" stroke-width="0.15" text-anchor="end" fill="#222">20</text>
<line x1="281.4" y1="312.33" x2="284.3" y2="312.33" stroke="#111" stroke-width="1"/>
<text x="280" y="314.27" font-size="5.4" stroke="#222" stroke-width="0.15" text-anchor="end" fill="#222">10</text>
<line x1="281.4" y1="324.2" x2="284.3" y2="324.2" stroke="#111" stroke-width="1"/>
<text x="280" y="326.14" font-size="5.4" stroke="#222" stroke-width="0.15" text-anchor="end" fill="#222">0</text>
<line x1="302" y1="324.2" x2="302" y2="326.4" stroke="#111" stroke-width="1"/>
<text x="302.96" y="334.6" font-size="4.8" stroke="#111" stroke-width="0.22" text-anchor="middle" fill="#111">1<tspan font-size="2.4" baseline-shift="2.64">st</tspan></text>
<text x="302" y="341" font-size="4.8" stroke="#000" stroke-width="0.22" text-anchor="middle" textLength="23.5" lengthAdjust="spacingAndGlyphs">time point</text>
<line x1="328.8" y1="324.2" x2="328.8" y2="326.4" stroke="#111" stroke-width="1"/>
<text x="329.76" y="334.6" font-size="4.8" stroke="#111" stroke-width="0.22" text-anchor="middle" fill="#111">2<tspan font-size="2.4" baseline-shift="2.64">nd</tspan></text>
<text x="328.8" y="341" font-size="4.8" stroke="#000" stroke-width="0.22" text-anchor="middle" textLength="23.5" lengthAdjust="spacingAndGlyphs">time point</text>
<line x1="355.4" y1="324.2" x2="355.4" y2="326.4" stroke="#111" stroke-width="1"/>
<text x="356.36" y="334.6" font-size="4.8" stroke="#111" stroke-width="0.22" text-anchor="middle" fill="#111">3<tspan font-size="2.4" baseline-shift="2.64">rd</tspan></text>
<text x="355.4" y="341" font-size="4.8" stroke="#000" stroke-width="0.22" text-anchor="middle" textLength="23.5" lengthAdjust="spacingAndGlyphs">time point</text>
<polyline points="302,301.05 328.8,306.99 355.4,315.3" fill="none" stroke="#9a1c42" stroke-width="1.15" stroke-dasharray="3.2 1.5"/>
<polyline points="302,305.21 328.8,270.78 355.4,283.84" fill="none" stroke="#2e3d60" stroke-width="1.15"/>
<circle cx="302" cy="305.21" r="1.7" fill="#2e3d60"/>
<circle cx="328.8" cy="270.78" r="1.7" fill="#2e3d60"/>
<circle cx="355.4" cy="283.84" r="1.7" fill="#2e3d60"/>
<rect x="300.4" y="299.45" width="3.2" height="3.2" fill="#a8143e"/>
<rect x="327.2" y="305.39" width="3.2" height="3.2" fill="#a8143e"/>
<rect x="353.8" y="313.7" width="3.2" height="3.2" fill="#a8143e"/>
<line x1="288.8" y1="266.7" x2="298.7" y2="266.7" stroke="#2e3d60" stroke-width="1.1"/>
<line x1="288.8" y1="273.7" x2="298.7" y2="273.7" stroke="#9a1c42" stroke-width="1.1" stroke-dasharray="3.2 1.5"/>
<text x="302.2" y="268.64" font-size="5.4" stroke="#333" stroke-width="0.12" fill="#333">BL1</text>
<text x="302.2" y="275.64" font-size="5.4" stroke="#333" stroke-width="0.12" fill="#333">BL2</text>
<text x="267.27" y="293.1" font-size="6.3" stroke="#111" stroke-width="0.18" text-anchor="middle" fill="#111" transform="rotate(-90 267.27 293.1)" textLength="75.8" lengthAdjust="spacingAndGlyphs">% of CD161+CD56-CD16+ cells</text>
<line x1="40.6" y1="364.8" x2="40.6" y2="430.8" stroke="#111" stroke-width="1.2"/>
<line x1="40" y1="430.2" x2="127.3" y2="430.2" stroke="#111" stroke-width="1.2"/>
<line x1="37.7" y1="367" x2="40.6" y2="367" stroke="#111" stroke-width="1"/>
<text x="36.3" y="368.94" font-size="5.4" stroke="#222" stroke-width="0.15" text-anchor="end" fill="#222">80</text>
<line x1="37.7" y1="382.8" x2="40.6" y2="382.8" stroke="#111" stroke-width="1"/>
<text x="36.3" y="384.74" font-size="5.4" stroke="#222" stroke-width="0.15" text-anchor="end" fill="#222">70</text>
<line x1="37.7" y1="398.6" x2="40.6" y2="398.6" stroke="#111" stroke-width="1"/>
<text x="36.3" y="400.54" font-size="5.4" stroke="#222" stroke-width="0.15" text-anchor="end" fill="#222">60</text>
<line x1="37.7" y1="414.4" x2="40.6" y2="414.4" stroke="#111" stroke-width="1"/>
<text x="36.3" y="416.34" font-size="5.4" stroke="#222" stroke-width="0.15" text-anchor="end" fill="#222">50</text>
<line x1="37.7" y1="430.2" x2="40.6" y2="430.2" stroke="#111" stroke-width="1"/>
<text x="36.3" y="432.14" font-size="5.4" stroke="#222" stroke-width="0.15" text-anchor="end" fill="#222">40</text>
<line x1="59.3" y1="430.2" x2="59.3" y2="432.4" stroke="#111" stroke-width="1"/>
<text x="60.26" y="440.6" font-size="4.8" stroke="#111" stroke-width="0.22" text-anchor="middle" fill="#111">1<tspan font-size="2.4" baseline-shift="2.64">st</tspan></text>
<text x="59.3" y="447" font-size="4.8" stroke="#000" stroke-width="0.22" text-anchor="middle" textLength="23.5" lengthAdjust="spacingAndGlyphs">time point</text>
<line x1="87.9" y1="430.2" x2="87.9" y2="432.4" stroke="#111" stroke-width="1"/>
<text x="88.86" y="440.6" font-size="4.8" stroke="#111" stroke-width="0.22" text-anchor="middle" fill="#111">2<tspan font-size="2.4" baseline-shift="2.64">nd</tspan></text>
<text x="87.9" y="447" font-size="4.8" stroke="#000" stroke-width="0.22" text-anchor="middle" textLength="23.5" lengthAdjust="spacingAndGlyphs">time point</text>
<line x1="116.4" y1="430.2" x2="116.4" y2="432.4" stroke="#111" stroke-width="1"/>
<text x="117.36" y="440.6" font-size="4.8" stroke="#111" stroke-width="0.22" text-anchor="middle" fill="#111">3<tspan font-size="2.4" baseline-shift="2.64">rd</tspan></text>
<text x="116.4" y="447" font-size="4.8" stroke="#000" stroke-width="0.22" text-anchor="middle" textLength="23.5" lengthAdjust="spacingAndGlyphs">time point</text>
<polyline points="59.3,384.38 87.9,393.86 116.4,375.69" fill="none" stroke="#9a1c42" stroke-width="1.15" stroke-dasharray="3.2 1.5"/>
<polyline points="59.3,415.98 87.9,386.75 116.4,386.75" fill="none" stroke="#2e3d60" stroke-width="1.15"/>
<circle cx="59.3" cy="415.98" r="1.7" fill="#2e3d60"/>
<circle cx="87.9" cy="386.75" r="1.7" fill="#2e3d60"/>
<circle cx="116.4" cy="386.75" r="1.7" fill="#2e3d60"/>
<rect x="57.7" y="382.78" width="3.2" height="3.2" fill="#a8143e"/>
<rect x="86.3" y="392.26" width="3.2" height="3.2" fill="#a8143e"/>
<rect x="114.8" y="374.09" width="3.2" height="3.2" fill="#a8143e"/>
<line x1="105" y1="417.7" x2="115.4" y2="417.7" stroke="#2e3d60" stroke-width="1.1"/>
<line x1="105" y1="424.2" x2="115.4" y2="424.2" stroke="#9a1c42" stroke-width="1.1" stroke-dasharray="3.2 1.5"/>
<text x="118.5" y="419.64" font-size="5.4" stroke="#333" stroke-width="0.12" fill="#333">BL1</text>
<text x="118.5" y="426.14" font-size="5.4" stroke="#333" stroke-width="0.12" fill="#333">BL2</text>
<text x="24.47" y="397.3" font-size="6.3" stroke="#111" stroke-width="0.18" text-anchor="middle" fill="#111" transform="rotate(-90 24.47 397.3)" textLength="76.5" lengthAdjust="spacingAndGlyphs">% of NKp30+CD56-CD16+ cells</text>
<line x1="165.1" y1="366.5" x2="165.1" y2="430.8" stroke="#111" stroke-width="1.2"/>
<line x1="164.5" y1="430.2" x2="248" y2="430.2" stroke="#111" stroke-width="1.2"/>
<line x1="162.2" y1="369.8" x2="165.1" y2="369.8" stroke="#111" stroke-width="1"/>
<text x="160.8" y="371.74" font-size="5.4" stroke="#222" stroke-width="0.15" text-anchor="end" fill="#222">100</text>
<line x1="162.2" y1="381.88" x2="165.1" y2="381.88" stroke="#111" stroke-width="1"/>
<text x="160.8" y="383.82" font-size="5.4" stroke="#222" stroke-width="0.15" text-anchor="end" fill="#222">80</text>
<line x1="162.2" y1="393.96" x2="165.1" y2="393.96" stroke="#111" stroke-width="1"/>
<text x="160.8" y="395.9" font-size="5.4" stroke="#222" stroke-width="0.15" text-anchor="end" fill="#222">60</text>
<line x1="162.2" y1="406.04" x2="165.1" y2="406.04" stroke="#111" stroke-width="1"/>
<text x="160.8" y="407.98" font-size="5.4" stroke="#222" stroke-width="0.15" text-anchor="end" fill="#222">40</text>
<line x1="162.2" y1="418.12" x2="165.1" y2="418.12" stroke="#111" stroke-width="1"/>
<text x="160.8" y="420.06" font-size="5.4" stroke="#222" stroke-width="0.15" text-anchor="end" fill="#222">20</text>
<line x1="162.2" y1="430.2" x2="165.1" y2="430.2" stroke="#111" stroke-width="1"/>
<text x="160.8" y="432.14" font-size="5.4" stroke="#222" stroke-width="0.15" text-anchor="end" fill="#222">0</text>
<line x1="183.3" y1="430.2" x2="183.3" y2="432.4" stroke="#111" stroke-width="1"/>
<text x="184.26" y="440.6" font-size="4.8" stroke="#111" stroke-width="0.22" text-anchor="middle" fill="#111">1<tspan font-size="2.4" baseline-shift="2.64">st</tspan></text>
<text x="183.3" y="447" font-size="4.8" stroke="#000" stroke-width="0.22" text-anchor="middle" textLength="23.5" lengthAdjust="spacingAndGlyphs">time point</text>
<line x1="210.3" y1="430.2" x2="210.3" y2="432.4" stroke="#111" stroke-width="1"/>
<text x="211.26" y="440.6" font-size="4.8" stroke="#111" stroke-width="0.22" text-anchor="middle" fill="#111">2<tspan font-size="2.4" baseline-shift="2.64">nd</tspan></text>
<text x="210.3" y="447" font-size="4.8" stroke="#000" stroke-width="0.22" text-anchor="middle" textLength="23.5" lengthAdjust="spacingAndGlyphs">time point</text>
<line x1="237.2" y1="430.2" x2="237.2" y2="432.4" stroke="#111" stroke-width="1"/>
<text x="238.16" y="440.6" font-size="4.8" stroke="#111" stroke-width="0.22" text-anchor="middle" fill="#111">3<tspan font-size="2.4" baseline-shift="2.64">rd</tspan></text>
<text x="237.2" y="447" font-size="4.8" stroke="#000" stroke-width="0.22" text-anchor="middle" textLength="23.5" lengthAdjust="spacingAndGlyphs">time point</text>
<polyline points="183.3,390.94 210.3,406.04 237.2,393.96" fill="none" stroke="#9a1c42" stroke-width="1.15" stroke-dasharray="3.2 1.5"/>
<polyline points="183.3,408.46 210.3,389.73 237.2,377.65" fill="none" stroke="#2e3d60" stroke-width="1.15"/>
<circle cx="183.3" cy="408.46" r="1.7" fill="#2e3d60"/>
<circle cx="210.3" cy="389.73" r="1.7" fill="#2e3d60"/>
<circle cx="237.2" cy="377.65" r="1.7" fill="#2e3d60"/>
<rect x="181.7" y="389.34" width="3.2" height="3.2" fill="#a8143e"/>
<rect x="208.7" y="404.44" width="3.2" height="3.2" fill="#a8143e"/>
<rect x="235.6" y="392.36" width="3.2" height="3.2" fill="#a8143e"/>
<line x1="225.4" y1="417.2" x2="235.3" y2="417.2" stroke="#2e3d60" stroke-width="1.1"/>
<line x1="225.4" y1="423.7" x2="235.3" y2="423.7" stroke="#9a1c42" stroke-width="1.1" stroke-dasharray="3.2 1.5"/>
<text x="238" y="419.14" font-size="5.4" stroke="#333" stroke-width="0.12" fill="#333">BL1</text>
<text x="238" y="425.64" font-size="5.4" stroke="#333" stroke-width="0.12" fill="#333">BL2</text>
<text x="146.77" y="397.5" font-size="6.3" stroke="#111" stroke-width="0.18" text-anchor="middle" fill="#111" transform="rotate(-90 146.77 397.5)" textLength="76" lengthAdjust="spacingAndGlyphs">% of NKp46+CD56-CD16+ cells</text>
<line x1="283.6" y1="364.6" x2="283.6" y2="430.8" stroke="#111" stroke-width="1.2"/>
<line x1="283" y1="430.2" x2="372.7" y2="430.2" stroke="#111" stroke-width="1.2"/>
<line x1="280.7" y1="367.72" x2="283.6" y2="367.72" stroke="#111" stroke-width="1"/>
<text x="279.3" y="369.66" font-size="5.4" stroke="#222" stroke-width="0.15" text-anchor="end" fill="#222">80</text>
<line x1="280.7" y1="383.34" x2="283.6" y2="383.34" stroke="#111" stroke-width="1"/>
<text x="279.3" y="385.28" font-size="5.4" stroke="#222" stroke-width="0.15" text-anchor="end" fill="#222">60</text>
<line x1="280.7" y1="398.96" x2="283.6" y2="398.96" stroke="#111" stroke-width="1"/>
<text x="279.3" y="400.9" font-size="5.4" stroke="#222" stroke-width="0.15" text-anchor="end" fill="#222">40</text>
<line x1="280.7" y1="414.58" x2="283.6" y2="414.58" stroke="#111" stroke-width="1"/>
<text x="279.3" y="416.52" font-size="5.4" stroke="#222" stroke-width="0.15" text-anchor="end" fill="#222">20</text>
<line x1="280.7" y1="430.2" x2="283.6" y2="430.2" stroke="#111" stroke-width="1"/>
<text x="279.3" y="432.14" font-size="5.4" stroke="#222" stroke-width="0.15" text-anchor="end" fill="#222">0</text>
<line x1="301.6" y1="430.2" x2="301.6" y2="432.4" stroke="#111" stroke-width="1"/>
<text x="302.56" y="440.6" font-size="4.8" stroke="#111" stroke-width="0.22" text-anchor="middle" fill="#111">1<tspan font-size="2.4" baseline-shift="2.64">st</tspan></text>
<text x="301.6" y="447" font-size="4.8" stroke="#000" stroke-width="0.22" text-anchor="middle" textLength="23.5" lengthAdjust="spacingAndGlyphs">time point</text>
<line x1="328.3" y1="430.2" x2="328.3" y2="432.4" stroke="#111" stroke-width="1"/>
<text x="329.26" y="440.6" font-size="4.8" stroke="#111" stroke-width="0.22" text-anchor="middle" fill="#111">2<tspan font-size="2.4" baseline-shift="2.64">nd</tspan></text>
<text x="328.3" y="447" font-size="4.8" stroke="#000" stroke-width="0.22" text-anchor="middle" textLength="23.5" lengthAdjust="spacingAndGlyphs">time point</text>
<line x1="354.9" y1="430.2" x2="354.9" y2="432.4" stroke="#111" stroke-width="1"/>
<text x="355.86" y="440.6" font-size="4.8" stroke="#111" stroke-width="0.22" text-anchor="middle" fill="#111">3<tspan font-size="2.4" baseline-shift="2.64">rd</tspan></text>
<text x="354.9" y="447" font-size="4.8" stroke="#000" stroke-width="0.22" text-anchor="middle" textLength="23.5" lengthAdjust="spacingAndGlyphs">time point</text>
<polyline points="301.6,391.93 328.3,407.55 354.9,393.1" fill="none" stroke="#9a1c42" stroke-width="1.15" stroke-dasharray="3.2 1.5"/>
<polyline points="301.6,414.58 328.3,391.54 354.9,382.17" fill="none" stroke="#2e3d60" stroke-width="1.15"/>
<circle cx="301.6" cy="414.58" r="1.7" fill="#2e3d60"/>
<circle cx="328.3" cy="391.54" r="1.7" fill="#2e3d60"/>
<circle cx="354.9" cy="382.17" r="1.7" fill="#2e3d60"/>
<rect x="300" y="390.33" width="3.2" height="3.2" fill="#a8143e"/>
<rect x="326.7" y="405.95" width="3.2" height="3.2" fill="#a8143e"/>
<rect x="353.3" y="391.5" width="3.2" height="3.2" fill="#a8143e"/>
<line x1="349.3" y1="416.9" x2="358.5" y2="416.9" stroke="#2e3d60" stroke-width="1.1"/>
<line x1="349.3" y1="423.8" x2="358.5" y2="423.8" stroke="#9a1c42" stroke-width="1.1" stroke-dasharray="3.2 1.5"/>
<text x="363" y="418.84" font-size="5.4" stroke="#333" stroke-width="0.12" fill="#333">BL1</text>
<text x="363" y="425.74" font-size="5.4" stroke="#333" stroke-width="0.12" fill="#333">BL2</text>
<text x="267.27" y="395.6" font-size="6.3" stroke="#111" stroke-width="0.18" text-anchor="middle" fill="#111" transform="rotate(-90 267.27 395.6)" textLength="74.2" lengthAdjust="spacingAndGlyphs">% NKp30+NKp46+CD56-CD16+</text>
<text x="28.6" y="463.4" font-size="6.3" stroke="#111" stroke-width="0.25" font-weight="bold" fill="#111" textLength="11.2" lengthAdjust="spacingAndGlyphs">BL1</text>
<text x="28.3" y="473.4" font-size="6.6" stroke="#111" stroke-width="0.25" font-weight="bold" fill="#111" textLength="43.2" lengthAdjust="spacingAndGlyphs">1<tspan font-size="3.96" baseline-shift="2.77">st</tspan> Time point</text>
<text x="30.1" y="564.1" font-size="6.6" stroke="#111" stroke-width="0.25" font-weight="bold" fill="#111" textLength="45" lengthAdjust="spacingAndGlyphs">2<tspan font-size="3.96" baseline-shift="2.77">nd</tspan> Time point</text>
<text x="31" y="652.1" font-size="6.6" stroke="#111" stroke-width="0.25" font-weight="bold" fill="#111" textLength="44.2" lengthAdjust="spacingAndGlyphs">3<tspan font-size="3.96" baseline-shift="2.77">rd</tspan> Time point</text>
<text x="283" y="473.5" font-size="6.4" stroke="#111" stroke-width="0.25" font-weight="bold" fill="#111" textLength="23.5" lengthAdjust="spacingAndGlyphs">Nandi 1</text>
<text x="283" y="561" font-size="6.4" stroke="#111" stroke-width="0.25" font-weight="bold" fill="#111" textLength="23.5" lengthAdjust="spacingAndGlyphs">Nandi 2</text>
<text x="283" y="652.3" font-size="6.4" stroke="#111" stroke-width="0.25" font-weight="bold" fill="#111" textLength="23.5" lengthAdjust="spacingAndGlyphs">Nandi 3</text>
<rect x="29.5" y="479.3" width="58" height="57" fill="none" stroke="#999" stroke-width="0.6"/>
<line x1="48" y1="479.3" x2="48" y2="536.3" stroke="#333" stroke-width="0.9"/>
<line x1="29.5" y1="520.2" x2="87.5" y2="520.2" stroke="#333" stroke-width="0.9"/>
<text x="31.7" y="483.9" font-size="3.8" fill="#555">Q9</text>
<text x="31.7" y="488" font-size="3.8" fill="#555">20.7</text>
<text x="85.3" y="483.9" font-size="3.8" text-anchor="end" fill="#555">Q10</text>
<text x="85.3" y="488" font-size="3.8" text-anchor="end" fill="#555">0.05</text>
<text x="31.7" y="531.3" font-size="3.8" fill="#555">Q12</text>
<text x="31.7" y="535.2" font-size="3.8" fill="#555">48.5</text>
<text x="85.3" y="531.3" font-size="3.8" text-anchor="end" fill="#555">Q11</text>
<text x="85.3" y="535.2" font-size="3.8" text-anchor="end" fill="#555">0.64</text>
<text x="25.2" y="486.8" font-size="4.1" stroke="#222" stroke-width="0.15" text-anchor="end" fill="#222">10<tspan font-size="70%" baseline-shift="30%">5</tspan></text>
<text x="25.2" y="500.9" font-size="4.1" stroke="#222" stroke-width="0.15" text-anchor="end" fill="#222">10<tspan font-size="70%" baseline-shift="30%">4</tspan></text>
<text x="25.2" y="515.5" font-size="4.1" stroke="#222" stroke-width="0.15" text-anchor="end" fill="#222">10<tspan font-size="70%" baseline-shift="30%">3</tspan></text>
<text x="25.2" y="525.8" font-size="4.1" stroke="#222" stroke-width="0.15" text-anchor="end" fill="#222">0</text>
<text x="25.2" y="535.5" font-size="4.1" stroke="#222" stroke-width="0.15" text-anchor="end" fill="#222">-10<tspan font-size="70%" baseline-shift="30%">3</tspan></text>
<text x="32.9" y="545.1" font-size="4.1" stroke="#222" stroke-width="0.15" text-anchor="middle" fill="#222">-10<tspan font-size="70%" baseline-shift="30%">3</tspan></text>
<text x="42" y="545.1" font-size="4.1" stroke="#222" stroke-width="0.15" text-anchor="middle" fill="#222">0</text>
<text x="51.8" y="545.1" font-size="4.1" stroke="#222" stroke-width="0.15" text-anchor="middle" fill="#222">10<tspan font-size="70%" baseline-shift="30%">3</tspan></text>
<text x="66.2" y="545.1" font-size="4.1" stroke="#222" stroke-width="0.15" text-anchor="middle" fill="#222">10<tspan font-size="70%" baseline-shift="30%">4</tspan></text>
<text x="80.6" y="545.1" font-size="4.1" stroke="#222" stroke-width="0.15" text-anchor="middle" fill="#222">10<tspan font-size="70%" baseline-shift="30%">5</tspan></text>
<path d="M29.5 485.3h-1.6M29.5 499.4h-1.6M29.5 514h-1.6M29.5 524.3h-1.6M29.5 534h-1.6M29.5 481.3h-0.9M29.5 488.3h-0.9M29.5 491.3h-0.9M29.5 493.3h-0.9M29.5 503.3h-0.9M29.5 506.3h-0.9M29.5 508.3h-0.9M29.5 510.3h-0.9M29.5 517.3h-0.9M29.5 520.3h-0.9M29.5 527.3h-0.9M29.5 530.3h-0.9M32.1 536.3v1.6M41.2 536.3v1.6M51 536.3v1.6M65.4 536.3v1.6M79.8 536.3v1.6M35.5 536.3v0.9M38 536.3v0.9M40 536.3v0.9M45.5 536.3v0.9M47.5 536.3v0.9M49.5 536.3v0.9M56.5 536.3v0.9M59.5 536.3v0.9M61.5 536.3v0.9M63.5 536.3v0.9M71.5 536.3v0.9M74.5 536.3v0.9M76.5 536.3v0.9M78.5 536.3v0.9" stroke="#222" stroke-width="0.7"/>
<rect x="27.8" y="522.4" width="1.5" height="3" fill="#111"/>
<rect x="41.5" y="536.5" width="3" height="1.5" fill="#111"/>
<text x="14.1" y="509" font-size="7.2" stroke="#222" stroke-width="0.25" text-anchor="middle" font-weight="bold" fill="#222" transform="rotate(-90 14.1 509)" textLength="14.2" lengthAdjust="spacingAndGlyphs">NKp30</text>
<text x="57.5" y="555.6" font-size="7.2" stroke="#222" stroke-width="0.25" text-anchor="middle" font-weight="bold" fill="#222" textLength="8.8" lengthAdjust="spacingAndGlyphs">2B4</text>
<rect x="110.3" y="479.3" width="58.7" height="57" fill="none" stroke="#999" stroke-width="0.6"/>
<line x1="129.2" y1="479.3" x2="129.2" y2="536.3" stroke="#333" stroke-width="0.9"/>
<line x1="110.3" y1="520.2" x2="169" y2="520.2" stroke="#333" stroke-width="0.9"/>
<text x="112.5" y="483.9" font-size="3.8" fill="#555">Q1</text>
<text x="112.5" y="488" font-size="3.8" fill="#555">25.0</text>
<text x="166.8" y="483.9" font-size="3.8" text-anchor="end" fill="#555">Q2</text>
<text x="166.8" y="488" font-size="3.8" text-anchor="end" fill="#555">0.08</text>
<text x="112.5" y="531.3" font-size="3.8" fill="#555">Q4</text>
<text x="112.5" y="535.2" font-size="3.8" fill="#555">61.1</text>
<text x="166.8" y="531.3" font-size="3.8" text-anchor="end" fill="#555">Q3</text>
<text x="166.8" y="535.2" font-size="3.8" text-anchor="end" fill="#555">4.94</text>
<text x="106" y="486.8" font-size="4.1" stroke="#222" stroke-width="0.15" text-anchor="end" fill="#222">10<tspan font-size="70%" baseline-shift="30%">5</tspan></text>
<text x="106" y="500.9" font-size="4.1" stroke="#222" stroke-width="0.15" text-anchor="end" fill="#222">10<tspan font-size="70%" baseline-shift="30%">4</tspan></text>
<text x="106" y="515.5" font-size="4.1" stroke="#222" stroke-width="0.15" text-anchor="end" fill="#222">10<tspan font-size="70%" baseline-shift="30%">3</tspan></text>
<text x="106" y="525.8" font-size="4.1" stroke="#222" stroke-width="0.15" text-anchor="end" fill="#222">0</text>
<text x="106" y="535.5" font-size="4.1" stroke="#222" stroke-width="0.15" text-anchor="end" fill="#222">-10<tspan font-size="70%" baseline-shift="30%">3</tspan></text>
<text x="113.7" y="545.1" font-size="4.1" stroke="#222" stroke-width="0.15" text-anchor="middle" fill="#222">-10<tspan font-size="70%" baseline-shift="30%">3</tspan></text>
<text x="122.8" y="545.1" font-size="4.1" stroke="#222" stroke-width="0.15" text-anchor="middle" fill="#222">0</text>
<text x="132.6" y="545.1" font-size="4.1" stroke="#222" stroke-width="0.15" text-anchor="middle" fill="#222">10<tspan font-size="70%" baseline-shift="30%">3</tspan></text>
<text x="147" y="545.1" font-size="4.1" stroke="#222" stroke-width="0.15" text-anchor="middle" fill="#222">10<tspan font-size="70%" baseline-shift="30%">4</tspan></text>
<text x="161.4" y="545.1" font-size="4.1" stroke="#222" stroke-width="0.15" text-anchor="middle" fill="#222">10<tspan font-size="70%" baseline-shift="30%">5</tspan></text>
<path d="M110.3 485.3h-1.6M110.3 499.4h-1.6M110.3 514h-1.6M110.3 524.3h-1.6M110.3 534h-1.6M110.3 481.3h-0.9M110.3 488.3h-0.9M110.3 491.3h-0.9M110.3 493.3h-0.9M110.3 503.3h-0.9M110.3 506.3h-0.9M110.3 508.3h-0.9M110.3 510.3h-0.9M110.3 517.3h-0.9M110.3 520.3h-0.9M110.3 527.3h-0.9M110.3 530.3h-0.9M112.9 536.3v1.6M122 536.3v1.6M131.8 536.3v1.6M146.2 536.3v1.6M160.6 536.3v1.6M116.3 536.3v0.9M118.8 536.3v0.9M120.8 536.3v0.9M126.3 536.3v0.9M128.3 536.3v0.9M130.3 536.3v0.9M137.3 536.3v0.9M140.3 536.3v0.9M142.3 536.3v0.9M144.3 536.3v0.9M152.3 536.3v0.9M155.3 536.3v0.9M157.3 536.3v0.9M159.3 536.3v0.9" stroke="#222" stroke-width="0.7"/>
<rect x="108.6" y="522.4" width="1.5" height="3" fill="#111"/>
<rect x="122.3" y="536.5" width="3" height="1.5" fill="#111"/>
<text x="94.9" y="509" font-size="7.2" stroke="#222" stroke-width="0.25" text-anchor="middle" font-weight="bold" fill="#222" transform="rotate(-90 94.9 509)" textLength="14.2" lengthAdjust="spacingAndGlyphs">NKp46</text>
<text x="138.65" y="555.6" font-size="7.2" stroke="#222" stroke-width="0.25" text-anchor="middle" font-weight="bold" fill="#222" textLength="8.8" lengthAdjust="spacingAndGlyphs">2B4</text>
<rect x="190.6" y="479.3" width="59.4" height="57" fill="none" stroke="#999" stroke-width="0.6"/>
<line x1="207.6" y1="479.3" x2="207.6" y2="536.3" stroke="#333" stroke-width="0.9"/>
<line x1="190.6" y1="520.2" x2="250" y2="520.2" stroke="#333" stroke-width="0.9"/>
<text x="192.8" y="483.9" font-size="3.8" fill="#555">Q7</text>
<text x="192.8" y="488" font-size="3.8" fill="#555">21.2</text>
<text x="247.8" y="483.9" font-size="3.8" text-anchor="end" fill="#555">Q8</text>
<text x="247.8" y="488" font-size="3.8" text-anchor="end" fill="#555">13.2</text>
<text x="192.8" y="531.3" font-size="3.8" fill="#555">Q9</text>
<text x="192.8" y="535.2" font-size="3.8" fill="#555">64.9</text>
<text x="247.8" y="531.3" font-size="3.8" text-anchor="end" fill="#555">Q5</text>
<text x="247.8" y="535.2" font-size="3.8" text-anchor="end" fill="#555">15.0</text>
<text x="186.3" y="486.8" font-size="4.1" stroke="#222" stroke-width="0.15" text-anchor="end" fill="#222">10<tspan font-size="70%" baseline-shift="30%">5</tspan></text>
<text x="186.3" y="500.9" font-size="4.1" stroke="#222" stroke-width="0.15" text-anchor="end" fill="#222">10<tspan font-size="70%" baseline-shift="30%">4</tspan></text>
<text x="186.3" y="515.5" font-size="4.1" stroke="#222" stroke-width="0.15" text-anchor="end" fill="#222">10<tspan font-size="70%" baseline-shift="30%">3</tspan></text>
<text x="186.3" y="525.8" font-size="4.1" stroke="#222" stroke-width="0.15" text-anchor="end" fill="#222">0</text>
<text x="186.3" y="535.5" font-size="4.1" stroke="#222" stroke-width="0.15" text-anchor="end" fill="#222">-10<tspan font-size="70%" baseline-shift="30%">3</tspan></text>
<text x="194" y="545.1" font-size="4.1" stroke="#222" stroke-width="0.15" text-anchor="middle" fill="#222">-10<tspan font-size="70%" baseline-shift="30%">3</tspan></text>
<text x="203.1" y="545.1" font-size="4.1" stroke="#222" stroke-width="0.15" text-anchor="middle" fill="#222">0</text>
<text x="212.9" y="545.1" font-size="4.1" stroke="#222" stroke-width="0.15" text-anchor="middle" fill="#222">10<tspan font-size="70%" baseline-shift="30%">3</tspan></text>
<text x="227.3" y="545.1" font-size="4.1" stroke="#222" stroke-width="0.15" text-anchor="middle" fill="#222">10<tspan font-size="70%" baseline-shift="30%">4</tspan></text>
<text x="241.7" y="545.1" font-size="4.1" stroke="#222" stroke-width="0.15" text-anchor="middle" fill="#222">10<tspan font-size="70%" baseline-shift="30%">5</tspan></text>
<path d="M190.6 485.3h-1.6M190.6 499.4h-1.6M190.6 514h-1.6M190.6 524.3h-1.6M190.6 534h-1.6M190.6 481.3h-0.9M190.6 488.3h-0.9M190.6 491.3h-0.9M190.6 493.3h-0.9M190.6 503.3h-0.9M190.6 506.3h-0.9M190.6 508.3h-0.9M190.6 510.3h-0.9M190.6 517.3h-0.9M190.6 520.3h-0.9M190.6 527.3h-0.9M190.6 530.3h-0.9M193.2 536.3v1.6M202.3 536.3v1.6M212.1 536.3v1.6M226.5 536.3v1.6M240.9 536.3v1.6M196.6 536.3v0.9M199.1 536.3v0.9M201.1 536.3v0.9M206.6 536.3v0.9M208.6 536.3v0.9M210.6 536.3v0.9M217.6 536.3v0.9M220.6 536.3v0.9M222.6 536.3v0.9M224.6 536.3v0.9M232.6 536.3v0.9M235.6 536.3v0.9M237.6 536.3v0.9M239.6 536.3v0.9" stroke="#222" stroke-width="0.7"/>
<rect x="188.9" y="522.4" width="1.5" height="3" fill="#111"/>
<rect x="202.6" y="536.5" width="3" height="1.5" fill="#111"/>
<text x="175.2" y="509" font-size="7.2" stroke="#222" stroke-width="0.25" text-anchor="middle" font-weight="bold" fill="#222" transform="rotate(-90 175.2 509)" textLength="14.2" lengthAdjust="spacingAndGlyphs">NKp30</text>
<text x="223.8" y="555.6" font-size="7.2" stroke="#222" stroke-width="0.25" text-anchor="middle" font-weight="bold" fill="#222" textLength="14.2" lengthAdjust="spacingAndGlyphs">NKp46</text>
<rect x="29.5" y="567" width="58" height="58" fill="none" stroke="#999" stroke-width="0.6"/>
<line x1="48" y1="567" x2="48" y2="625" stroke="#333" stroke-width="0.9"/>
<line x1="29.5" y1="608.1" x2="87.5" y2="608.1" stroke="#333" stroke-width="0.9"/>
<text x="31.7" y="571.6" font-size="3.8" fill="#555">Q9</text>
<text x="31.7" y="575.7" font-size="3.8" fill="#555">21.6</text>
<text x="85.3" y="571.6" font-size="3.8" text-anchor="end" fill="#555">Q10</text>
<text x="85.3" y="575.7" font-size="3.8" text-anchor="end" fill="#555">42.6</text>
<text x="31.7" y="620" font-size="3.8" fill="#555">Q12</text>
<text x="31.7" y="623.9" font-size="3.8" fill="#555">18.2</text>
<text x="85.3" y="620" font-size="3.8" text-anchor="end" fill="#555">Q11</text>
<text x="85.3" y="623.9" font-size="3.8" text-anchor="end" fill="#555">18.1</text>
<text x="25.2" y="574.5" font-size="4.1" stroke="#222" stroke-width="0.15" text-anchor="end" fill="#222">10<tspan font-size="70%" baseline-shift="30%">5</tspan></text>
<text x="25.2" y="588.6" font-size="4.1" stroke="#222" stroke-width="0.15" text-anchor="end" fill="#222">10<tspan font-size="70%" baseline-shift="30%">4</tspan></text>
<text x="25.2" y="603.2" font-size="4.1" stroke="#222" stroke-width="0.15" text-anchor="end" fill="#222">10<tspan font-size="70%" baseline-shift="30%">3</tspan></text>
<text x="25.2" y="613.5" font-size="4.1" stroke="#222" stroke-width="0.15" text-anchor="end" fill="#222">0</text>
<text x="25.2" y="623.2" font-size="4.1" stroke="#222" stroke-width="0.15" text-anchor="end" fill="#222">-10<tspan font-size="70%" baseline-shift="30%">3</tspan></text>
<text x="32.9" y="633.8" font-size="4.1" stroke="#222" stroke-width="0.15" text-anchor="middle" fill="#222">-10<tspan font-size="70%" baseline-shift="30%">3</tspan></text>
<text x="42" y="633.8" font-size="4.1" stroke="#222" stroke-width="0.15" text-anchor="middle" fill="#222">0</text>
<text x="51.8" y="633.8" font-size="4.1" stroke="#222" stroke-width="0.15" text-anchor="middle" fill="#222">10<tspan font-size="70%" baseline-shift="30%">3</tspan></text>
<text x="66.2" y="633.8" font-size="4.1" stroke="#222" stroke-width="0.15" text-anchor="middle" fill="#222">10<tspan font-size="70%" baseline-shift="30%">4</tspan></text>
<text x="80.6" y="633.8" font-size="4.1" stroke="#222" stroke-width="0.15" text-anchor="middle" fill="#222">10<tspan font-size="70%" baseline-shift="30%">5</tspan></text>
<path d="M29.5 573h-1.6M29.5 587.1h-1.6M29.5 601.7h-1.6M29.5 612h-1.6M29.5 621.7h-1.6M29.5 569h-0.9M29.5 576h-0.9M29.5 579h-0.9M29.5 581h-0.9M29.5 591h-0.9M29.5 594h-0.9M29.5 596h-0.9M29.5 598h-0.9M29.5 605h-0.9M29.5 608h-0.9M29.5 615h-0.9M29.5 618h-0.9M32.1 625v1.6M41.2 625v1.6M51 625v1.6M65.4 625v1.6M79.8 625v1.6M35.5 625v0.9M38 625v0.9M40 625v0.9M45.5 625v0.9M47.5 625v0.9M49.5 625v0.9M56.5 625v0.9M59.5 625v0.9M61.5 625v0.9M63.5 625v0.9M71.5 625v0.9M74.5 625v0.9M76.5 625v0.9M78.5 625v0.9" stroke="#222" stroke-width="0.7"/>
<rect x="27.8" y="610.1" width="1.5" height="3" fill="#111"/>
<rect x="41.5" y="625.2" width="3" height="1.5" fill="#111"/>
<text x="14.1" y="596.7" font-size="7.2" stroke="#222" stroke-width="0.25" text-anchor="middle" font-weight="bold" fill="#222" transform="rotate(-90 14.1 596.7)" textLength="14.2" lengthAdjust="spacingAndGlyphs">NKp30</text>
<text x="55.9" y="644.3" font-size="7.2" stroke="#222" stroke-width="0.25" text-anchor="middle" font-weight="bold" fill="#222" textLength="8.8" lengthAdjust="spacingAndGlyphs">2B4</text>
<rect x="110.3" y="567" width="58.7" height="58" fill="none" stroke="#999" stroke-width="0.6"/>
<line x1="129.2" y1="567" x2="129.2" y2="625" stroke="#333" stroke-width="0.9"/>
<line x1="110.3" y1="608.1" x2="169" y2="608.1" stroke="#333" stroke-width="0.9"/>
<text x="112.5" y="571.6" font-size="3.8" fill="#555">Q1</text>
<text x="112.5" y="575.7" font-size="3.8" fill="#555">18.1</text>
<text x="166.8" y="571.6" font-size="3.8" text-anchor="end" fill="#555">Q2</text>
<text x="166.8" y="575.7" font-size="3.8" text-anchor="end" fill="#555">45.9</text>
<text x="112.5" y="620" font-size="3.8" fill="#555">Q4</text>
<text x="112.5" y="623.9" font-size="3.8" fill="#555">28.5</text>
<text x="166.8" y="620" font-size="3.8" text-anchor="end" fill="#555">Q3</text>
<text x="166.8" y="623.9" font-size="3.8" text-anchor="end" fill="#555">15.6</text>
<text x="106" y="574.5" font-size="4.1" stroke="#222" stroke-width="0.15" text-anchor="end" fill="#222">10<tspan font-size="70%" baseline-shift="30%">5</tspan></text>
<text x="106" y="588.6" font-size="4.1" stroke="#222" stroke-width="0.15" text-anchor="end" fill="#222">10<tspan font-size="70%" baseline-shift="30%">4</tspan></text>
<text x="106" y="603.2" font-size="4.1" stroke="#222" stroke-width="0.15" text-anchor="end" fill="#222">10<tspan font-size="70%" baseline-shift="30%">3</tspan></text>
<text x="106" y="613.5" font-size="4.1" stroke="#222" stroke-width="0.15" text-anchor="end" fill="#222">0</text>
<text x="106" y="623.2" font-size="4.1" stroke="#222" stroke-width="0.15" text-anchor="end" fill="#222">-10<tspan font-size="70%" baseline-shift="30%">3</tspan></text>
<text x="113.7" y="633.8" font-size="4.1" stroke="#222" stroke-width="0.15" text-anchor="middle" fill="#222">-10<tspan font-size="70%" baseline-shift="30%">3</tspan></text>
<text x="122.8" y="633.8" font-size="4.1" stroke="#222" stroke-width="0.15" text-anchor="middle" fill="#222">0</text>
<text x="132.6" y="633.8" font-size="4.1" stroke="#222" stroke-width="0.15" text-anchor="middle" fill="#222">10<tspan font-size="70%" baseline-shift="30%">3</tspan></text>
<text x="147" y="633.8" font-size="4.1" stroke="#222" stroke-width="0.15" text-anchor="middle" fill="#222">10<tspan font-size="70%" baseline-shift="30%">4</tspan></text>
<text x="161.4" y="633.8" font-size="4.1" stroke="#222" stroke-width="0.15" text-anchor="middle" fill="#222">10<tspan font-size="70%" baseline-shift="30%">5</tspan></text>
<path d="M110.3 573h-1.6M110.3 587.1h-1.6M110.3 601.7h-1.6M110.3 612h-1.6M110.3 621.7h-1.6M110.3 569h-0.9M110.3 576h-0.9M110.3 579h-0.9M110.3 581h-0.9M110.3 591h-0.9M110.3 594h-0.9M110.3 596h-0.9M110.3 598h-0.9M110.3 605h-0.9M110.3 608h-0.9M110.3 615h-0.9M110.3 618h-0.9M112.9 625v1.6M122 625v1.6M131.8 625v1.6M146.2 625v1.6M160.6 625v1.6M116.3 625v0.9M118.8 625v0.9M120.8 625v0.9M126.3 625v0.9M128.3 625v0.9M130.3 625v0.9M137.3 625v0.9M140.3 625v0.9M142.3 625v0.9M144.3 625v0.9M152.3 625v0.9M155.3 625v0.9M157.3 625v0.9M159.3 625v0.9" stroke="#222" stroke-width="0.7"/>
<rect x="108.6" y="610.1" width="1.5" height="3" fill="#111"/>
<rect x="122.3" y="625.2" width="3" height="1.5" fill="#111"/>
<text x="94.9" y="596.7" font-size="7.2" stroke="#222" stroke-width="0.25" text-anchor="middle" font-weight="bold" fill="#222" transform="rotate(-90 94.9 596.7)" textLength="14.2" lengthAdjust="spacingAndGlyphs">NKp46</text>
<text x="138.65" y="644.3" font-size="7.2" stroke="#222" stroke-width="0.25" text-anchor="middle" font-weight="bold" fill="#222" textLength="8.8" lengthAdjust="spacingAndGlyphs">2B4</text>
<rect x="190.6" y="567" width="59.4" height="58" fill="none" stroke="#999" stroke-width="0.6"/>
<line x1="207.6" y1="567" x2="207.6" y2="625" stroke="#333" stroke-width="0.9"/>
<line x1="190.6" y1="608.1" x2="250" y2="608.1" stroke="#333" stroke-width="0.9"/>
<text x="192.8" y="571.6" font-size="3.8" fill="#555">Q7</text>
<text x="192.8" y="575.7" font-size="3.8" fill="#555">22.1</text>
<text x="247.8" y="571.6" font-size="3.8" text-anchor="end" fill="#555">Q8</text>
<text x="247.8" y="575.7" font-size="3.8" text-anchor="end" fill="#555">41.3</text>
<text x="192.8" y="620" font-size="3.8" fill="#555">Q9</text>
<text x="192.8" y="623.9" font-size="3.8" fill="#555">18.9</text>
<text x="247.8" y="620" font-size="3.8" text-anchor="end" fill="#555">Q5</text>
<text x="247.8" y="623.9" font-size="3.8" text-anchor="end" fill="#555">15.8</text>
<text x="186.3" y="574.5" font-size="4.1" stroke="#222" stroke-width="0.15" text-anchor="end" fill="#222">10<tspan font-size="70%" baseline-shift="30%">5</tspan></text>
<text x="186.3" y="588.6" font-size="4.1" stroke="#222" stroke-width="0.15" text-anchor="end" fill="#222">10<tspan font-size="70%" baseline-shift="30%">4</tspan></text>
<text x="186.3" y="603.2" font-size="4.1" stroke="#222" stroke-width="0.15" text-anchor="end" fill="#222">10<tspan font-size="70%" baseline-shift="30%">3</tspan></text>
<text x="186.3" y="613.5" font-size="4.1" stroke="#222" stroke-width="0.15" text-anchor="end" fill="#222">0</text>
<text x="186.3" y="623.2" font-size="4.1" stroke="#222" stroke-width="0.15" text-anchor="end" fill="#222">-10<tspan font-size="70%" baseline-shift="30%">3</tspan></text>
<text x="194" y="633.8" font-size="4.1" stroke="#222" stroke-width="0.15" text-anchor="middle" fill="#222">-10<tspan font-size="70%" baseline-shift="30%">3</tspan></text>
<text x="203.1" y="633.8" font-size="4.1" stroke="#222" stroke-width="0.15" text-anchor="middle" fill="#222">0</text>
<text x="212.9" y="633.8" font-size="4.1" stroke="#222" stroke-width="0.15" text-anchor="middle" fill="#222">10<tspan font-size="70%" baseline-shift="30%">3</tspan></text>
<text x="227.3" y="633.8" font-size="4.1" stroke="#222" stroke-width="0.15" text-anchor="middle" fill="#222">10<tspan font-size="70%" baseline-shift="30%">4</tspan></text>
<text x="241.7" y="633.8" font-size="4.1" stroke="#222" stroke-width="0.15" text-anchor="middle" fill="#222">10<tspan font-size="70%" baseline-shift="30%">5</tspan></text>
<path d="M190.6 573h-1.6M190.6 587.1h-1.6M190.6 601.7h-1.6M190.6 612h-1.6M190.6 621.7h-1.6M190.6 569h-0.9M190.6 576h-0.9M190.6 579h-0.9M190.6 581h-0.9M190.6 591h-0.9M190.6 594h-0.9M190.6 596h-0.9M190.6 598h-0.9M190.6 605h-0.9M190.6 608h-0.9M190.6 615h-0.9M190.6 618h-0.9M193.2 625v1.6M202.3 625v1.6M212.1 625v1.6M226.5 625v1.6M240.9 625v1.6M196.6 625v0.9M199.1 625v0.9M201.1 625v0.9M206.6 625v0.9M208.6 625v0.9M210.6 625v0.9M217.6 625v0.9M220.6 625v0.9M222.6 625v0.9M224.6 625v0.9M232.6 625v0.9M235.6 625v0.9M237.6 625v0.9M239.6 625v0.9" stroke="#222" stroke-width="0.7"/>
<rect x="188.9" y="610.1" width="1.5" height="3" fill="#111"/>
<rect x="202.6" y="625.2" width="3" height="1.5" fill="#111"/>
<text x="175.2" y="596.7" font-size="7.2" stroke="#222" stroke-width="0.25" text-anchor="middle" font-weight="bold" fill="#222" transform="rotate(-90 175.2 596.7)" textLength="14.2" lengthAdjust="spacingAndGlyphs">NKp30</text>
<text x="223.8" y="644.3" font-size="7.2" stroke="#222" stroke-width="0.25" text-anchor="middle" font-weight="bold" fill="#222" textLength="14.2" lengthAdjust="spacingAndGlyphs">NKp46</text>
<rect x="29.5" y="657" width="58" height="59" fill="none" stroke="#999" stroke-width="0.6"/>
<line x1="48" y1="657" x2="48" y2="716" stroke="#333" stroke-width="0.9"/>
<line x1="29.5" y1="698.3" x2="87.5" y2="698.3" stroke="#333" stroke-width="0.9"/>
<text x="31.7" y="661.6" font-size="3.8" fill="#555">Q9</text>
<text x="31.7" y="665.7" font-size="3.8" fill="#555">11.5</text>
<text x="85.3" y="661.6" font-size="3.8" text-anchor="end" fill="#555">Q10</text>
<text x="85.3" y="665.7" font-size="3.8" text-anchor="end" fill="#555">54.9</text>
<text x="31.7" y="711" font-size="3.8" fill="#555">Q12</text>
<text x="31.7" y="714.9" font-size="3.8" fill="#555">8.75</text>
<text x="85.3" y="711" font-size="3.8" text-anchor="end" fill="#555">Q11</text>
<text x="85.3" y="714.9" font-size="3.8" text-anchor="end" fill="#555">25.4</text>
<text x="25.2" y="664.5" font-size="4.1" stroke="#222" stroke-width="0.15" text-anchor="end" fill="#222">10<tspan font-size="70%" baseline-shift="30%">5</tspan></text>
<text x="25.2" y="678.6" font-size="4.1" stroke="#222" stroke-width="0.15" text-anchor="end" fill="#222">10<tspan font-size="70%" baseline-shift="30%">4</tspan></text>
<text x="25.2" y="693.2" font-size="4.1" stroke="#222" stroke-width="0.15" text-anchor="end" fill="#222">10<tspan font-size="70%" baseline-shift="30%">3</tspan></text>
<text x="25.2" y="703.5" font-size="4.1" stroke="#222" stroke-width="0.15" text-anchor="end" fill="#222">0</text>
<text x="25.2" y="713.2" font-size="4.1" stroke="#222" stroke-width="0.15" text-anchor="end" fill="#222">-10<tspan font-size="70%" baseline-shift="30%">3</tspan></text>
<text x="32.9" y="724.8" font-size="4.1" stroke="#222" stroke-width="0.15" text-anchor="middle" fill="#222">-10<tspan font-size="70%" baseline-shift="30%">3</tspan></text>
<text x="42" y="724.8" font-size="4.1" stroke="#222" stroke-width="0.15" text-anchor="middle" fill="#222">0</text>
<text x="51.8" y="724.8" font-size="4.1" stroke="#222" stroke-width="0.15" text-anchor="middle" fill="#222">10<tspan font-size="70%" baseline-shift="30%">3</tspan></text>
<text x="66.2" y="724.8" font-size="4.1" stroke="#222" stroke-width="0.15" text-anchor="middle" fill="#222">10<tspan font-size="70%" baseline-shift="30%">4</tspan></text>
<text x="80.6" y="724.8" font-size="4.1" stroke="#222" stroke-width="0.15" text-anchor="middle" fill="#222">10<tspan font-size="70%" baseline-shift="30%">5</tspan></text>
<path d="M29.5 663h-1.6M29.5 677.1h-1.6M29.5 691.7h-1.6M29.5 702h-1.6M29.5 711.7h-1.6M29.5 659h-0.9M29.5 666h-0.9M29.5 669h-0.9M29.5 671h-0.9M29.5 681h-0.9M29.5 684h-0.9M29.5 686h-0.9M29.5 688h-0.9M29.5 695h-0.9M29.5 698h-0.9M29.5 705h-0.9M29.5 708h-0.9M32.1 716v1.6M41.2 716v1.6M51 716v1.6M65.4 716v1.6M79.8 716v1.6M35.5 716v0.9M38 716v0.9M40 716v0.9M45.5 716v0.9M47.5 716v0.9M49.5 716v0.9M56.5 716v0.9M59.5 716v0.9M61.5 716v0.9M63.5 716v0.9M71.5 716v0.9M74.5 716v0.9M76.5 716v0.9M78.5 716v0.9" stroke="#222" stroke-width="0.7"/>
<rect x="27.8" y="700.1" width="1.5" height="3" fill="#111"/>
<rect x="41.5" y="716.2" width="3" height="1.5" fill="#111"/>
<text x="14.1" y="686.7" font-size="7.2" stroke="#222" stroke-width="0.25" text-anchor="middle" font-weight="bold" fill="#222" transform="rotate(-90 14.1 686.7)" textLength="14.2" lengthAdjust="spacingAndGlyphs">NKp30</text>
<text x="57.5" y="735.3" font-size="7.2" stroke="#222" stroke-width="0.25" text-anchor="middle" font-weight="bold" fill="#222" textLength="8.8" lengthAdjust="spacingAndGlyphs">2B4</text>
<rect x="110.3" y="657" width="58.7" height="59" fill="none" stroke="#999" stroke-width="0.6"/>
<line x1="129.2" y1="657" x2="129.2" y2="716" stroke="#333" stroke-width="0.9"/>
<line x1="110.3" y1="698.3" x2="169" y2="698.3" stroke="#333" stroke-width="0.9"/>
<text x="112.5" y="661.6" font-size="3.8" fill="#555">Q1</text>
<text x="112.5" y="665.7" font-size="3.8" fill="#555">5.68</text>
<text x="166.8" y="661.6" font-size="3.8" text-anchor="end" fill="#555">Q2</text>
<text x="166.8" y="665.7" font-size="3.8" text-anchor="end" fill="#555">69.9</text>
<text x="112.5" y="711" font-size="3.8" fill="#555">Q4</text>
<text x="112.5" y="714.9" font-size="3.8" fill="#555">4.86</text>
<text x="166.8" y="711" font-size="3.8" text-anchor="end" fill="#555">Q3</text>
<text x="166.8" y="714.9" font-size="3.8" text-anchor="end" fill="#555">9.64</text>
<text x="106" y="664.5" font-size="4.1" stroke="#222" stroke-width="0.15" text-anchor="end" fill="#222">10<tspan font-size="70%" baseline-shift="30%">5</tspan></text>
<text x="106" y="678.6" font-size="4.1" stroke="#222" stroke-width="0.15" text-anchor="end" fill="#222">10<tspan font-size="70%" baseline-shift="30%">4</tspan></text>
<text x="106" y="693.2" font-size="4.1" stroke="#222" stroke-width="0.15" text-anchor="end" fill="#222">10<tspan font-size="70%" baseline-shift="30%">3</tspan></text>
<text x="106" y="703.5" font-size="4.1" stroke="#222" stroke-width="0.15" text-anchor="end" fill="#222">0</text>
<text x="106" y="713.2" font-size="4.1" stroke="#222" stroke-width="0.15" text-anchor="end" fill="#222">-10<tspan font-size="70%" baseline-shift="30%">3</tspan></text>
<text x="113.7" y="724.8" font-size="4.1" stroke="#222" stroke-width="0.15" text-anchor="middle" fill="#222">-10<tspan font-size="70%" baseline-shift="30%">3</tspan></text>
<text x="122.8" y="724.8" font-size="4.1" stroke="#222" stroke-width="0.15" text-anchor="middle" fill="#222">0</text>
<text x="132.6" y="724.8" font-size="4.1" stroke="#222" stroke-width="0.15" text-anchor="middle" fill="#222">10<tspan font-size="70%" baseline-shift="30%">3</tspan></text>
<text x="147" y="724.8" font-size="4.1" stroke="#222" stroke-width="0.15" text-anchor="middle" fill="#222">10<tspan font-size="70%" baseline-shift="30%">4</tspan></text>
<text x="161.4" y="724.8" font-size="4.1" stroke="#222" stroke-width="0.15" text-anchor="middle" fill="#222">10<tspan font-size="70%" baseline-shift="30%">5</tspan></text>
<path d="M110.3 663h-1.6M110.3 677.1h-1.6M110.3 691.7h-1.6M110.3 702h-1.6M110.3 711.7h-1.6M110.3 659h-0.9M110.3 666h-0.9M110.3 669h-0.9M110.3 671h-0.9M110.3 681h-0.9M110.3 684h-0.9M110.3 686h-0.9M110.3 688h-0.9M110.3 695h-0.9M110.3 698h-0.9M110.3 705h-0.9M110.3 708h-0.9M112.9 716v1.6M122 716v1.6M131.8 716v1.6M146.2 716v1.6M160.6 716v1.6M116.3 716v0.9M118.8 716v0.9M120.8 716v0.9M126.3 716v0.9M128.3 716v0.9M130.3 716v0.9M137.3 716v0.9M140.3 716v0.9M142.3 716v0.9M144.3 716v0.9M152.3 716v0.9M155.3 716v0.9M157.3 716v0.9M159.3 716v0.9" stroke="#222" stroke-width="0.7"/>
<rect x="108.6" y="700.1" width="1.5" height="3" fill="#111"/>
<rect x="122.3" y="716.2" width="3" height="1.5" fill="#111"/>
<text x="94.9" y="686.7" font-size="7.2" stroke="#222" stroke-width="0.25" text-anchor="middle" font-weight="bold" fill="#222" transform="rotate(-90 94.9 686.7)" textLength="14.2" lengthAdjust="spacingAndGlyphs">NKp46</text>
<text x="138.65" y="735.3" font-size="7.2" stroke="#222" stroke-width="0.25" text-anchor="middle" font-weight="bold" fill="#222" textLength="8.8" lengthAdjust="spacingAndGlyphs">2B4</text>
<rect x="190.6" y="657" width="59.4" height="59" fill="none" stroke="#999" stroke-width="0.6"/>
<line x1="207.6" y1="657" x2="207.6" y2="716" stroke="#333" stroke-width="0.9"/>
<line x1="190.6" y1="698.3" x2="250" y2="698.3" stroke="#333" stroke-width="0.9"/>
<text x="192.8" y="661.6" font-size="3.8" fill="#555">Q7</text>
<text x="192.8" y="665.7" font-size="3.8" fill="#555">5.00</text>
<text x="247.8" y="661.6" font-size="3.8" text-anchor="end" fill="#555">Q8</text>
<text x="247.8" y="665.7" font-size="3.8" text-anchor="end" fill="#555">56.4</text>
<text x="192.8" y="711" font-size="3.8" fill="#555">Q9</text>
<text x="192.8" y="714.9" font-size="3.8" fill="#555">8.96</text>
<text x="247.8" y="711" font-size="3.8" text-anchor="end" fill="#555">Q5</text>
<text x="247.8" y="714.9" font-size="3.8" text-anchor="end" fill="#555">25.6</text>
<text x="186.3" y="664.5" font-size="4.1" stroke="#222" stroke-width="0.15" text-anchor="end" fill="#222">10<tspan font-size="70%" baseline-shift="30%">5</tspan></text>
<text x="186.3" y="678.6" font-size="4.1" stroke="#222" stroke-width="0.15" text-anchor="end" fill="#222">10<tspan font-size="70%" baseline-shift="30%">4</tspan></text>
<text x="186.3" y="693.2" font-size="4.1" stroke="#222" stroke-width="0.15" text-anchor="end" fill="#222">10<tspan font-size="70%" baseline-shift="30%">3</tspan></text>
<text x="186.3" y="703.5" font-size="4.1" stroke="#222" stroke-width="0.15" text-anchor="end" fill="#222">0</text>
<text x="186.3" y="713.2" font-size="4.1" stroke="#222" stroke-width="0.15" text-anchor="end" fill="#222">-10<tspan font-size="70%" baseline-shift="30%">3</tspan></text>
<text x="194" y="724.8" font-size="4.1" stroke="#222" stroke-width="0.15" text-anchor="middle" fill="#222">-10<tspan font-size="70%" baseline-shift="30%">3</tspan></text>
<text x="203.1" y="724.8" font-size="4.1" stroke="#222" stroke-width="0.15" text-anchor="middle" fill="#222">0</text>
<text x="212.9" y="724.8" font-size="4.1" stroke="#222" stroke-width="0.15" text-anchor="middle" fill="#222">10<tspan font-size="70%" baseline-shift="30%">3</tspan></text>
<text x="227.3" y="724.8" font-size="4.1" stroke="#222" stroke-width="0.15" text-anchor="middle" fill="#222">10<tspan font-size="70%" baseline-shift="30%">4</tspan></text>
<text x="241.7" y="724.8" font-size="4.1" stroke="#222" stroke-width="0.15" text-anchor="middle" fill="#222">10<tspan font-size="70%" baseline-shift="30%">5</tspan></text>
<path d="M190.6 663h-1.6M190.6 677.1h-1.6M190.6 691.7h-1.6M190.6 702h-1.6M190.6 711.7h-1.6M190.6 659h-0.9M190.6 666h-0.9M190.6 669h-0.9M190.6 671h-0.9M190.6 681h-0.9M190.6 684h-0.9M190.6 686h-0.9M190.6 688h-0.9M190.6 695h-0.9M190.6 698h-0.9M190.6 705h-0.9M190.6 708h-0.9M193.2 716v1.6M202.3 716v1.6M212.1 716v1.6M226.5 716v1.6M240.9 716v1.6M196.6 716v0.9M199.1 716v0.9M201.1 716v0.9M206.6 716v0.9M208.6 716v0.9M210.6 716v0.9M217.6 716v0.9M220.6 716v0.9M222.6 716v0.9M224.6 716v0.9M232.6 716v0.9M235.6 716v0.9M237.6 716v0.9M239.6 716v0.9" stroke="#222" stroke-width="0.7"/>
<rect x="188.9" y="700.1" width="1.5" height="3" fill="#111"/>
<rect x="202.6" y="716.2" width="3" height="1.5" fill="#111"/>
<text x="175.2" y="686.7" font-size="7.2" stroke="#222" stroke-width="0.25" text-anchor="middle" font-weight="bold" fill="#222" transform="rotate(-90 175.2 686.7)" textLength="14.2" lengthAdjust="spacingAndGlyphs">NKp30</text>
<text x="223.8" y="735.3" font-size="7.2" stroke="#222" stroke-width="0.25" text-anchor="middle" font-weight="bold" fill="#222" textLength="14.2" lengthAdjust="spacingAndGlyphs">Nkp46</text>
<rect x="284" y="479.3" width="59.3" height="57" fill="none" stroke="#999" stroke-width="0.6"/>
<line x1="303.5" y1="479.3" x2="303.5" y2="536.3" stroke="#333" stroke-width="0.9"/>
<line x1="284" y1="520.2" x2="343.3" y2="520.2" stroke="#333" stroke-width="0.9"/>
<text x="286.2" y="483.9" font-size="3.8" fill="#555">Q9</text>
<text x="286.2" y="488" font-size="3.8" fill="#555">22.6</text>
<text x="341.1" y="483.9" font-size="3.8" text-anchor="end" fill="#555">Q10</text>
<text x="341.1" y="488" font-size="3.8" text-anchor="end" fill="#555">41.7</text>
<text x="286.2" y="531.3" font-size="3.8" fill="#555">Q12</text>
<text x="286.2" y="535.2" font-size="3.8" fill="#555">21.1</text>
<text x="341.1" y="531.3" font-size="3.8" text-anchor="end" fill="#555">Q11</text>
<text x="341.1" y="535.2" font-size="3.8" text-anchor="end" fill="#555">14.2</text>
<text x="279.7" y="486.8" font-size="4.1" stroke="#222" stroke-width="0.15" text-anchor="end" fill="#222">10<tspan font-size="70%" baseline-shift="30%">5</tspan></text>
<text x="279.7" y="500.9" font-size="4.1" stroke="#222" stroke-width="0.15" text-anchor="end" fill="#222">10<tspan font-size="70%" baseline-shift="30%">4</tspan></text>
<text x="279.7" y="515.5" font-size="4.1" stroke="#222" stroke-width="0.15" text-anchor="end" fill="#222">10<tspan font-size="70%" baseline-shift="30%">3</tspan></text>
<text x="279.7" y="525.8" font-size="4.1" stroke="#222" stroke-width="0.15" text-anchor="end" fill="#222">0</text>
<text x="279.7" y="535.5" font-size="4.1" stroke="#222" stroke-width="0.15" text-anchor="end" fill="#222">-10<tspan font-size="70%" baseline-shift="30%">3</tspan></text>
<text x="287.4" y="545.1" font-size="4.1" stroke="#222" stroke-width="0.15" text-anchor="middle" fill="#222">-10<tspan font-size="70%" baseline-shift="30%">3</tspan></text>
<text x="296.5" y="545.1" font-size="4.1" stroke="#222" stroke-width="0.15" text-anchor="middle" fill="#222">0</text>
<text x="306.3" y="545.1" font-size="4.1" stroke="#222" stroke-width="0.15" text-anchor="middle" fill="#222">10<tspan font-size="70%" baseline-shift="30%">3</tspan></text>
<text x="320.7" y="545.1" font-size="4.1" stroke="#222" stroke-width="0.15" text-anchor="middle" fill="#222">10<tspan font-size="70%" baseline-shift="30%">4</tspan></text>
<text x="335.1" y="545.1" font-size="4.1" stroke="#222" stroke-width="0.15" text-anchor="middle" fill="#222">10<tspan font-size="70%" baseline-shift="30%">5</tspan></text>
<path d="M284 485.3h-1.6M284 499.4h-1.6M284 514h-1.6M284 524.3h-1.6M284 534h-1.6M284 481.3h-0.9M284 488.3h-0.9M284 491.3h-0.9M284 493.3h-0.9M284 503.3h-0.9M284 506.3h-0.9M284 508.3h-0.9M284 510.3h-0.9M284 517.3h-0.9M284 520.3h-0.9M284 527.3h-0.9M284 530.3h-0.9M286.6 536.3v1.6M295.7 536.3v1.6M305.5 536.3v1.6M319.9 536.3v1.6M334.3 536.3v1.6M290 536.3v0.9M292.5 536.3v0.9M294.5 536.3v0.9M300 536.3v0.9M302 536.3v0.9M304 536.3v0.9M311 536.3v0.9M314 536.3v0.9M316 536.3v0.9M318 536.3v0.9M326 536.3v0.9M329 536.3v0.9M331 536.3v0.9M333 536.3v0.9" stroke="#222" stroke-width="0.7"/>
<rect x="282.3" y="522.4" width="1.5" height="3" fill="#111"/>
<rect x="296" y="536.5" width="3" height="1.5" fill="#111"/>
<text x="268.6" y="509" font-size="7.2" stroke="#222" stroke-width="0.25" text-anchor="middle" font-weight="bold" fill="#222" transform="rotate(-90 268.6 509)" textLength="14.2" lengthAdjust="spacingAndGlyphs">NKp30</text>
<text x="312.65" y="555.6" font-size="7.2" stroke="#222" stroke-width="0.25" text-anchor="middle" font-weight="bold" fill="#222" textLength="8.8" lengthAdjust="spacingAndGlyphs">2B4</text>
<rect x="368.6" y="479.3" width="58.9" height="57" fill="none" stroke="#999" stroke-width="0.6"/>
<line x1="387" y1="479.3" x2="387" y2="536.3" stroke="#333" stroke-width="0.9"/>
<line x1="368.6" y1="520.2" x2="427.5" y2="520.2" stroke="#333" stroke-width="0.9"/>
<text x="370.8" y="483.9" font-size="3.8" fill="#555">Q1</text>
<text x="370.8" y="488" font-size="3.8" fill="#555">18.6</text>
<text x="425.3" y="483.9" font-size="3.8" text-anchor="end" fill="#555">Q2</text>
<text x="425.3" y="488" font-size="3.8" text-anchor="end" fill="#555">49.9</text>
<text x="370.8" y="531.3" font-size="3.8" fill="#555">Q4</text>
<text x="370.8" y="535.2" font-size="3.8" fill="#555">20.0</text>
<text x="425.3" y="531.3" font-size="3.8" text-anchor="end" fill="#555">Q3</text>
<text x="425.3" y="535.2" font-size="3.8" text-anchor="end" fill="#555">10.6</text>
<text x="364.3" y="486.8" font-size="4.1" stroke="#222" stroke-width="0.15" text-anchor="end" fill="#222">10<tspan font-size="70%" baseline-shift="30%">5</tspan></text>
<text x="364.3" y="500.9" font-size="4.1" stroke="#222" stroke-width="0.15" text-anchor="end" fill="#222">10<tspan font-size="70%" baseline-shift="30%">4</tspan></text>
<text x="364.3" y="515.5" font-size="4.1" stroke="#222" stroke-width="0.15" text-anchor="end" fill="#222">10<tspan font-size="70%" baseline-shift="30%">3</tspan></text>
<text x="364.3" y="525.8" font-size="4.1" stroke="#222" stroke-width="0.15" text-anchor="end" fill="#222">0</text>
<text x="364.3" y="535.5" font-size="4.1" stroke="#222" stroke-width="0.15" text-anchor="end" fill="#222">-10<tspan font-size="70%" baseline-shift="30%">3</tspan></text>
<text x="372" y="545.1" font-size="4.1" stroke="#222" stroke-width="0.15" text-anchor="middle" fill="#222">-10<tspan font-size="70%" baseline-shift="30%">3</tspan></text>
<text x="381.1" y="545.1" font-size="4.1" stroke="#222" stroke-width="0.15" text-anchor="middle" fill="#222">0</text>
<text x="390.9" y="545.1" font-size="4.1" stroke="#222" stroke-width="0.15" text-anchor="middle" fill="#222">10<tspan font-size="70%" baseline-shift="30%">3</tspan></text>
<text x="405.3" y="545.1" font-size="4.1" stroke="#222" stroke-width="0.15" text-anchor="middle" fill="#222">10<tspan font-size="70%" baseline-shift="30%">4</tspan></text>
<text x="419.7" y="545.1" font-size="4.1" stroke="#222" stroke-width="0.15" text-anchor="middle" fill="#222">10<tspan font-size="70%" baseline-shift="30%">5</tspan></text>
<path d="M368.6 485.3h-1.6M368.6 499.4h-1.6M368.6 514h-1.6M368.6 524.3h-1.6M368.6 534h-1.6M368.6 481.3h-0.9M368.6 488.3h-0.9M368.6 491.3h-0.9M368.6 493.3h-0.9M368.6 503.3h-0.9M368.6 506.3h-0.9M368.6 508.3h-0.9M368.6 510.3h-0.9M368.6 517.3h-0.9M368.6 520.3h-0.9M368.6 527.3h-0.9M368.6 530.3h-0.9M371.2 536.3v1.6M380.3 536.3v1.6M390.1 536.3v1.6M404.5 536.3v1.6M418.9 536.3v1.6M374.6 536.3v0.9M377.1 536.3v0.9M379.1 536.3v0.9M384.6 536.3v0.9M386.6 536.3v0.9M388.6 536.3v0.9M395.6 536.3v0.9M398.6 536.3v0.9M400.6 536.3v0.9M402.6 536.3v0.9M410.6 536.3v0.9M413.6 536.3v0.9M415.6 536.3v0.9M417.6 536.3v0.9" stroke="#222" stroke-width="0.7"/>
<rect x="366.9" y="522.4" width="1.5" height="3" fill="#111"/>
<rect x="380.6" y="536.5" width="3" height="1.5" fill="#111"/>
<text x="353.2" y="509" font-size="7.2" stroke="#222" stroke-width="0.25" text-anchor="middle" font-weight="bold" fill="#222" transform="rotate(-90 353.2 509)" textLength="14.2" lengthAdjust="spacingAndGlyphs">NKp46</text>
<text x="397.05" y="555.6" font-size="7.2" stroke="#222" stroke-width="0.25" text-anchor="middle" font-weight="bold" fill="#222" textLength="8.8" lengthAdjust="spacingAndGlyphs">2B4</text>
<rect x="452" y="479.3" width="58" height="57" fill="none" stroke="#999" stroke-width="0.6"/>
<line x1="469.8" y1="479.3" x2="469.8" y2="536.3" stroke="#333" stroke-width="0.9"/>
<line x1="452" y1="520.2" x2="510" y2="520.2" stroke="#333" stroke-width="0.9"/>
<text x="454.2" y="483.9" font-size="3.8" fill="#555">Q7</text>
<text x="454.2" y="488" font-size="3.8" fill="#555">20.1</text>
<text x="507.8" y="483.9" font-size="3.8" text-anchor="end" fill="#555">Q8</text>
<text x="507.8" y="488" font-size="3.8" text-anchor="end" fill="#555">41.5</text>
<text x="454.2" y="531.3" font-size="3.8" fill="#555">Q9</text>
<text x="454.2" y="535.2" font-size="3.8" fill="#555">19.5</text>
<text x="507.8" y="531.3" font-size="3.8" text-anchor="end" fill="#555">Q5</text>
<text x="507.8" y="535.2" font-size="3.8" text-anchor="end" fill="#555">19.2</text>
<text x="447.7" y="486.8" font-size="4.1" stroke="#222" stroke-width="0.15" text-anchor="end" fill="#222">10<tspan font-size="70%" baseline-shift="30%">5</tspan></text>
<text x="447.7" y="500.9" font-size="4.1" stroke="#222" stroke-width="0.15" text-anchor="end" fill="#222">10<tspan font-size="70%" baseline-shift="30%">4</tspan></text>
<text x="447.7" y="515.5" font-size="4.1" stroke="#222" stroke-width="0.15" text-anchor="end" fill="#222">10<tspan font-size="70%" baseline-shift="30%">3</tspan></text>
<text x="447.7" y="525.8" font-size="4.1" stroke="#222" stroke-width="0.15" text-anchor="end" fill="#222">0</text>
<text x="447.7" y="535.5" font-size="4.1" stroke="#222" stroke-width="0.15" text-anchor="end" fill="#222">-10<tspan font-size="70%" baseline-shift="30%">3</tspan></text>
<text x="455.4" y="545.1" font-size="4.1" stroke="#222" stroke-width="0.15" text-anchor="middle" fill="#222">-10<tspan font-size="70%" baseline-shift="30%">3</tspan></text>
<text x="464.5" y="545.1" font-size="4.1" stroke="#222" stroke-width="0.15" text-anchor="middle" fill="#222">0</text>
<text x="474.3" y="545.1" font-size="4.1" stroke="#222" stroke-width="0.15" text-anchor="middle" fill="#222">10<tspan font-size="70%" baseline-shift="30%">3</tspan></text>
<text x="488.7" y="545.1" font-size="4.1" stroke="#222" stroke-width="0.15" text-anchor="middle" fill="#222">10<tspan font-size="70%" baseline-shift="30%">4</tspan></text>
<text x="503.1" y="545.1" font-size="4.1" stroke="#222" stroke-width="0.15" text-anchor="middle" fill="#222">10<tspan font-size="70%" baseline-shift="30%">5</tspan></text>
<path d="M452 485.3h-1.6M452 499.4h-1.6M452 514h-1.6M452 524.3h-1.6M452 534h-1.6M452 481.3h-0.9M452 488.3h-0.9M452 491.3h-0.9M452 493.3h-0.9M452 503.3h-0.9M452 506.3h-0.9M452 508.3h-0.9M452 510.3h-0.9M452 517.3h-0.9M452 520.3h-0.9M452 527.3h-0.9M452 530.3h-0.9M454.6 536.3v1.6M463.7 536.3v1.6M473.5 536.3v1.6M487.9 536.3v1.6M502.3 536.3v1.6M458 536.3v0.9M460.5 536.3v0.9M462.5 536.3v0.9M468 536.3v0.9M470 536.3v0.9M472 536.3v0.9M479 536.3v0.9M482 536.3v0.9M484 536.3v0.9M486 536.3v0.9M494 536.3v0.9M497 536.3v0.9M499 536.3v0.9M501 536.3v0.9" stroke="#222" stroke-width="0.7"/>
<rect x="450.3" y="522.4" width="1.5" height="3" fill="#111"/>
<rect x="464" y="536.5" width="3" height="1.5" fill="#111"/>
<text x="436.6" y="509" font-size="7.2" stroke="#222" stroke-width="0.25" text-anchor="middle" font-weight="bold" fill="#222" transform="rotate(-90 436.6 509)" textLength="14.2" lengthAdjust="spacingAndGlyphs">NKp30</text>
<text x="484.5" y="555.6" font-size="7.2" stroke="#222" stroke-width="0.25" text-anchor="middle" font-weight="bold" fill="#222" textLength="14.2" lengthAdjust="spacingAndGlyphs">NKp46</text>
<rect x="284" y="567" width="59.3" height="58" fill="none" stroke="#999" stroke-width="0.6"/>
<line x1="303.5" y1="567" x2="303.5" y2="625" stroke="#333" stroke-width="0.9"/>
<line x1="284" y1="608.1" x2="343.3" y2="608.1" stroke="#333" stroke-width="0.9"/>
<text x="286.2" y="571.6" font-size="3.8" fill="#555">Q9</text>
<text x="286.2" y="575.7" font-size="3.8" fill="#555">20.9</text>
<text x="341.1" y="571.6" font-size="3.8" text-anchor="end" fill="#555">Q10</text>
<text x="341.1" y="575.7" font-size="3.8" text-anchor="end" fill="#555">52.6</text>
<text x="286.2" y="620" font-size="3.8" fill="#555">Q12</text>
<text x="286.2" y="623.9" font-size="3.8" fill="#555">24.1</text>
<text x="341.1" y="620" font-size="3.8" text-anchor="end" fill="#555">Q11</text>
<text x="341.1" y="623.9" font-size="3.8" text-anchor="end" fill="#555">19.2</text>
<text x="279.7" y="574.5" font-size="4.1" stroke="#222" stroke-width="0.15" text-anchor="end" fill="#222">10<tspan font-size="70%" baseline-shift="30%">5</tspan></text>
<text x="279.7" y="588.6" font-size="4.1" stroke="#222" stroke-width="0.15" text-anchor="end" fill="#222">10<tspan font-size="70%" baseline-shift="30%">4</tspan></text>
<text x="279.7" y="603.2" font-size="4.1" stroke="#222" stroke-width="0.15" text-anchor="end" fill="#222">10<tspan font-size="70%" baseline-shift="30%">3</tspan></text>
<text x="279.7" y="613.5" font-size="4.1" stroke="#222" stroke-width="0.15" text-anchor="end" fill="#222">0</text>
<text x="279.7" y="623.2" font-size="4.1" stroke="#222" stroke-width="0.15" text-anchor="end" fill="#222">-10<tspan font-size="70%" baseline-shift="30%">3</tspan></text>
<text x="287.4" y="633.8" font-size="4.1" stroke="#222" stroke-width="0.15" text-anchor="middle" fill="#222">-10<tspan font-size="70%" baseline-shift="30%">3</tspan></text>
<text x="296.5" y="633.8" font-size="4.1" stroke="#222" stroke-width="0.15" text-anchor="middle" fill="#222">0</text>
<text x="306.3" y="633.8" font-size="4.1" stroke="#222" stroke-width="0.15" text-anchor="middle" fill="#222">10<tspan font-size="70%" baseline-shift="30%">3</tspan></text>
<text x="320.7" y="633.8" font-size="4.1" stroke="#222" stroke-width="0.15" text-anchor="middle" fill="#222">10<tspan font-size="70%" baseline-shift="30%">4</tspan></text>
<text x="335.1" y="633.8" font-size="4.1" stroke="#222" stroke-width="0.15" text-anchor="middle" fill="#222">10<tspan font-size="70%" baseline-shift="30%">5</tspan></text>
<path d="M284 573h-1.6M284 587.1h-1.6M284 601.7h-1.6M284 612h-1.6M284 621.7h-1.6M284 569h-0.9M284 576h-0.9M284 579h-0.9M284 581h-0.9M284 591h-0.9M284 594h-0.9M284 596h-0.9M284 598h-0.9M284 605h-0.9M284 608h-0.9M284 615h-0.9M284 618h-0.9M286.6 625v1.6M295.7 625v1.6M305.5 625v1.6M319.9 625v1.6M334.3 625v1.6M290 625v0.9M292.5 625v0.9M294.5 625v0.9M300 625v0.9M302 625v0.9M304 625v0.9M311 625v0.9M314 625v0.9M316 625v0.9M318 625v0.9M326 625v0.9M329 625v0.9M331 625v0.9M333 625v0.9" stroke="#222" stroke-width="0.7"/>
<rect x="282.3" y="610.1" width="1.5" height="3" fill="#111"/>
<rect x="296" y="625.2" width="3" height="1.5" fill="#111"/>
<text x="268.6" y="596.7" font-size="7.2" stroke="#222" stroke-width="0.25" text-anchor="middle" font-weight="bold" fill="#222" transform="rotate(-90 268.6 596.7)" textLength="14.2" lengthAdjust="spacingAndGlyphs">NKp30</text>
<text x="301.65" y="644.3" font-size="7.2" stroke="#222" stroke-width="0.25" text-anchor="middle" font-weight="bold" fill="#222" textLength="8.8" lengthAdjust="spacingAndGlyphs">2B4</text>
<rect x="368.6" y="567" width="58.9" height="58" fill="none" stroke="#999" stroke-width="0.6"/>
<line x1="387" y1="567" x2="387" y2="625" stroke="#333" stroke-width="0.9"/>
<line x1="368.6" y1="608.1" x2="427.5" y2="608.1" stroke="#333" stroke-width="0.9"/>
<text x="370.8" y="571.6" font-size="3.8" fill="#555">Q1</text>
<text x="370.8" y="575.7" font-size="3.8" fill="#555">21.8</text>
<text x="425.3" y="571.6" font-size="3.8" text-anchor="end" fill="#555">Q2</text>
<text x="425.3" y="575.7" font-size="3.8" text-anchor="end" fill="#555">58.9</text>
<text x="370.8" y="620" font-size="3.8" fill="#555">Q4</text>
<text x="370.8" y="623.9" font-size="3.8" fill="#555">24.8</text>
<text x="425.3" y="620" font-size="3.8" text-anchor="end" fill="#555">Q3</text>
<text x="425.3" y="623.9" font-size="3.8" text-anchor="end" fill="#555">6.15</text>
<text x="364.3" y="574.5" font-size="4.1" stroke="#222" stroke-width="0.15" text-anchor="end" fill="#222">10<tspan font-size="70%" baseline-shift="30%">5</tspan></text>
<text x="364.3" y="588.6" font-size="4.1" stroke="#222" stroke-width="0.15" text-anchor="end" fill="#222">10<tspan font-size="70%" baseline-shift="30%">4</tspan></text>
<text x="364.3" y="603.2" font-size="4.1" stroke="#222" stroke-width="0.15" text-anchor="end" fill="#222">10<tspan font-size="70%" baseline-shift="30%">3</tspan></text>
<text x="364.3" y="613.5" font-size="4.1" stroke="#222" stroke-width="0.15" text-anchor="end" fill="#222">0</text>
<text x="364.3" y="623.2" font-size="4.1" stroke="#222" stroke-width="0.15" text-anchor="end" fill="#222">-10<tspan font-size="70%" baseline-shift="30%">3</tspan></text>
<text x="372" y="633.8" font-size="4.1" stroke="#222" stroke-width="0.15" text-anchor="middle" fill="#222">-10<tspan font-size="70%" baseline-shift="30%">3</tspan></text>
<text x="381.1" y="633.8" font-size="4.1" stroke="#222" stroke-width="0.15" text-anchor="middle" fill="#222">0</text>
<text x="390.9" y="633.8" font-size="4.1" stroke="#222" stroke-width="0.15" text-anchor="middle" fill="#222">10<tspan font-size="70%" baseline-shift="30%">3</tspan></text>
<text x="405.3" y="633.8" font-size="4.1" stroke="#222" stroke-width="0.15" text-anchor="middle" fill="#222">10<tspan font-size="70%" baseline-shift="30%">4</tspan></text>
<text x="419.7" y="633.8" font-size="4.1" stroke="#222" stroke-width="0.15" text-anchor="middle" fill="#222">10<tspan font-size="70%" baseline-shift="30%">5</tspan></text>
<path d="M368.6 573h-1.6M368.6 587.1h-1.6M368.6 601.7h-1.6M368.6 612h-1.6M368.6 621.7h-1.6M368.6 569h-0.9M368.6 576h-0.9M368.6 579h-0.9M368.6 581h-0.9M368.6 591h-0.9M368.6 594h-0.9M368.6 596h-0.9M368.6 598h-0.9M368.6 605h-0.9M368.6 608h-0.9M368.6 615h-0.9M368.6 618h-0.9M371.2 625v1.6M380.3 625v1.6M390.1 625v1.6M404.5 625v1.6M418.9 625v1.6M374.6 625v0.9M377.1 625v0.9M379.1 625v0.9M384.6 625v0.9M386.6 625v0.9M388.6 625v0.9M395.6 625v0.9M398.6 625v0.9M400.6 625v0.9M402.6 625v0.9M410.6 625v0.9M413.6 625v0.9M415.6 625v0.9M417.6 625v0.9" stroke="#222" stroke-width="0.7"/>
<rect x="366.9" y="610.1" width="1.5" height="3" fill="#111"/>
<rect x="380.6" y="625.2" width="3" height="1.5" fill="#111"/>
<text x="353.2" y="596.7" font-size="7.2" stroke="#222" stroke-width="0.25" text-anchor="middle" font-weight="bold" fill="#222" transform="rotate(-90 353.2 596.7)" textLength="14.2" lengthAdjust="spacingAndGlyphs">NKp46</text>
<text x="397.05" y="644.3" font-size="7.2" stroke="#222" stroke-width="0.25" text-anchor="middle" font-weight="bold" fill="#222" textLength="8.8" lengthAdjust="spacingAndGlyphs">2B4</text>
<rect x="452" y="567" width="58" height="58" fill="none" stroke="#999" stroke-width="0.6"/>
<line x1="469.8" y1="567" x2="469.8" y2="625" stroke="#333" stroke-width="0.9"/>
<line x1="452" y1="608.1" x2="510" y2="608.1" stroke="#333" stroke-width="0.9"/>
<text x="454.2" y="571.6" font-size="3.8" fill="#555">Q7</text>
<text x="454.2" y="575.7" font-size="3.8" fill="#555">19.5</text>
<text x="507.8" y="571.6" font-size="3.8" text-anchor="end" fill="#555">Q8</text>
<text x="507.8" y="575.7" font-size="3.8" text-anchor="end" fill="#555">43.7</text>
<text x="454.2" y="620" font-size="3.8" fill="#555">Q9</text>
<text x="454.2" y="623.9" font-size="3.8" fill="#555">21.4</text>
<text x="507.8" y="620" font-size="3.8" text-anchor="end" fill="#555">Q5</text>
<text x="507.8" y="623.9" font-size="3.8" text-anchor="end" fill="#555">15.2</text>
<text x="447.7" y="574.5" font-size="4.1" stroke="#222" stroke-width="0.15" text-anchor="end" fill="#222">10<tspan font-size="70%" baseline-shift="30%">5</tspan></text>
<text x="447.7" y="588.6" font-size="4.1" stroke="#222" stroke-width="0.15" text-anchor="end" fill="#222">10<tspan font-size="70%" baseline-shift="30%">4</tspan></text>
<text x="447.7" y="603.2" font-size="4.1" stroke="#222" stroke-width="0.15" text-anchor="end" fill="#222">10<tspan font-size="70%" baseline-shift="30%">3</tspan></text>
<text x="447.7" y="613.5" font-size="4.1" stroke="#222" stroke-width="0.15" text-anchor="end" fill="#222">0</text>
<text x="447.7" y="623.2" font-size="4.1" stroke="#222" stroke-width="0.15" text-anchor="end" fill="#222">-10<tspan font-size="70%" baseline-shift="30%">3</tspan></text>
<text x="455.4" y="633.8" font-size="4.1" stroke="#222" stroke-width="0.15" text-anchor="middle" fill="#222">-10<tspan font-size="70%" baseline-shift="30%">3</tspan></text>
<text x="464.5" y="633.8" font-size="4.1" stroke="#222" stroke-width="0.15" text-anchor="middle" fill="#222">0</text>
<text x="474.3" y="633.8" font-size="4.1" stroke="#222" stroke-width="0.15" text-anchor="middle" fill="#222">10<tspan font-size="70%" baseline-shift="30%">3</tspan></text>
<text x="488.7" y="633.8" font-size="4.1" stroke="#222" stroke-width="0.15" text-anchor="middle" fill="#222">10<tspan font-size="70%" baseline-shift="30%">4</tspan></text>
<text x="503.1" y="633.8" font-size="4.1" stroke="#222" stroke-width="0.15" text-anchor="middle" fill="#222">10<tspan font-size="70%" baseline-shift="30%">5</tspan></text>
<path d="M452 573h-1.6M452 587.1h-1.6M452 601.7h-1.6M452 612h-1.6M452 621.7h-1.6M452 569h-0.9M452 576h-0.9M452 579h-0.9M452 581h-0.9M452 591h-0.9M452 594h-0.9M452 596h-0.9M452 598h-0.9M452 605h-0.9M452 608h-0.9M452 615h-0.9M452 618h-0.9M454.6 625v1.6M463.7 625v1.6M473.5 625v1.6M487.9 625v1.6M502.3 625v1.6M458 625v0.9M460.5 625v0.9M462.5 625v0.9M468 625v0.9M470 625v0.9M472 625v0.9M479 625v0.9M482 625v0.9M484 625v0.9M486 625v0.9M494 625v0.9M497 625v0.9M499 625v0.9M501 625v0.9" stroke="#222" stroke-width="0.7"/>
<rect x="450.3" y="610.1" width="1.5" height="3" fill="#111"/>
<rect x="464" y="625.2" width="3" height="1.5" fill="#111"/>
<text x="436.6" y="596.7" font-size="7.2" stroke="#222" stroke-width="0.25" text-anchor="middle" font-weight="bold" fill="#222" transform="rotate(-90 436.6 596.7)" textLength="14.2" lengthAdjust="spacingAndGlyphs">NKp30</text>
<text x="484.5" y="644.3" font-size="7.2" stroke="#222" stroke-width="0.25" text-anchor="middle" font-weight="bold" fill="#222" textLength="14.2" lengthAdjust="spacingAndGlyphs">NKp46</text>
<rect x="284" y="657" width="59.3" height="59" fill="none" stroke="#999" stroke-width="0.6"/>
<line x1="303.5" y1="657" x2="303.5" y2="716" stroke="#333" stroke-width="0.9"/>
<line x1="284" y1="698.3" x2="343.3" y2="698.3" stroke="#333" stroke-width="0.9"/>
<text x="286.2" y="661.6" font-size="3.8" fill="#555">Q9</text>
<text x="286.2" y="665.7" font-size="3.8" fill="#555">0.19</text>
<text x="341.1" y="661.6" font-size="3.8" text-anchor="end" fill="#555">Q10</text>
<text x="341.1" y="665.7" font-size="3.8" text-anchor="end" fill="#555">63.5</text>
<text x="286.2" y="711" font-size="3.8" fill="#555">Q12</text>
<text x="286.2" y="714.9" font-size="3.8" fill="#555">5.76</text>
<text x="341.1" y="711" font-size="3.8" text-anchor="end" fill="#555">Q11</text>
<text x="341.1" y="714.9" font-size="3.8" text-anchor="end" fill="#555">21.5</text>
<text x="279.7" y="664.5" font-size="4.1" stroke="#222" stroke-width="0.15" text-anchor="end" fill="#222">10<tspan font-size="70%" baseline-shift="30%">5</tspan></text>
<text x="279.7" y="678.6" font-size="4.1" stroke="#222" stroke-width="0.15" text-anchor="end" fill="#222">10<tspan font-size="70%" baseline-shift="30%">4</tspan></text>
<text x="279.7" y="693.2" font-size="4.1" stroke="#222" stroke-width="0.15" text-anchor="end" fill="#222">10<tspan font-size="70%" baseline-shift="30%">3</tspan></text>
<text x="279.7" y="703.5" font-size="4.1" stroke="#222" stroke-width="0.15" text-anchor="end" fill="#222">0</text>
<text x="279.7" y="713.2" font-size="4.1" stroke="#222" stroke-width="0.15" text-anchor="end" fill="#222">-10<tspan font-size="70%" baseline-shift="30%">3</tspan></text>
<text x="287.4" y="724.8" font-size="4.1" stroke="#222" stroke-width="0.15" text-anchor="middle" fill="#222">-10<tspan font-size="70%" baseline-shift="30%">3</tspan></text>
<text x="296.5" y="724.8" font-size="4.1" stroke="#222" stroke-width="0.15" text-anchor="middle" fill="#222">0</text>
<text x="306.3" y="724.8" font-size="4.1" stroke="#222" stroke-width="0.15" text-anchor="middle" fill="#222">10<tspan font-size="70%" baseline-shift="30%">3</tspan></text>
<text x="320.7" y="724.8" font-size="4.1" stroke="#222" stroke-width="0.15" text-anchor="middle" fill="#222">10<tspan font-size="70%" baseline-shift="30%">4</tspan></text>
<text x="335.1" y="724.8" font-size="4.1" stroke="#222" stroke-width="0.15" text-anchor="middle" fill="#222">10<tspan font-size="70%" baseline-shift="30%">5</tspan></text>
<path d="M284 663h-1.6M284 677.1h-1.6M284 691.7h-1.6M284 702h-1.6M284 711.7h-1.6M284 659h-0.9M284 666h-0.9M284 669h-0.9M284 671h-0.9M284 681h-0.9M284 684h-0.9M284 686h-0.9M284 688h-0.9M284 695h-0.9M284 698h-0.9M284 705h-0.9M284 708h-0.9M286.6 716v1.6M295.7 716v1.6M305.5 716v1.6M319.9 716v1.6M334.3 716v1.6M290 716v0.9M292.5 716v0.9M294.5 716v0.9M300 716v0.9M302 716v0.9M304 716v0.9M311 716v0.9M314 716v0.9M316 716v0.9M318 716v0.9M326 716v0.9M329 716v0.9M331 716v0.9M333 716v0.9" stroke="#222" stroke-width="0.7"/>
<rect x="282.3" y="700.1" width="1.5" height="3" fill="#111"/>
<rect x="296" y="716.2" width="3" height="1.5" fill="#111"/>
<text x="268.6" y="686.7" font-size="7.2" stroke="#222" stroke-width="0.25" text-anchor="middle" font-weight="bold" fill="#222" transform="rotate(-90 268.6 686.7)" textLength="14.2" lengthAdjust="spacingAndGlyphs">NKp30</text>
<text x="310.05" y="735.3" font-size="7.2" stroke="#222" stroke-width="0.25" text-anchor="middle" font-weight="bold" fill="#222" textLength="8.8" lengthAdjust="spacingAndGlyphs">2B4</text>
<rect x="368.6" y="657" width="58.9" height="59" fill="none" stroke="#999" stroke-width="0.6"/>
<line x1="387" y1="657" x2="387" y2="716" stroke="#333" stroke-width="0.9"/>
<line x1="368.6" y1="698.3" x2="427.5" y2="698.3" stroke="#333" stroke-width="0.9"/>
<text x="370.8" y="661.6" font-size="3.8" fill="#555">Q1</text>
<text x="370.8" y="665.7" font-size="3.8" fill="#555">0.19</text>
<text x="425.3" y="661.6" font-size="3.8" text-anchor="end" fill="#555">Q2</text>
<text x="425.3" y="665.7" font-size="3.8" text-anchor="end" fill="#555">79.8</text>
<text x="370.8" y="711" font-size="3.8" fill="#555">Q4</text>
<text x="370.8" y="714.9" font-size="3.8" fill="#555">11.9</text>
<text x="425.3" y="711" font-size="3.8" text-anchor="end" fill="#555">Q3</text>
<text x="425.3" y="714.9" font-size="3.8" text-anchor="end" fill="#555">8.57</text>
<text x="364.3" y="664.5" font-size="4.1" stroke="#222" stroke-width="0.15" text-anchor="end" fill="#222">10<tspan font-size="70%" baseline-shift="30%">5</tspan></text>
<text x="364.3" y="678.6" font-size="4.1" stroke="#222" stroke-width="0.15" text-anchor="end" fill="#222">10<tspan font-size="70%" baseline-shift="30%">4</tspan></text>
<text x="364.3" y="693.2" font-size="4.1" stroke="#222" stroke-width="0.15" text-anchor="end" fill="#222">10<tspan font-size="70%" baseline-shift="30%">3</tspan></text>
<text x="364.3" y="703.5" font-size="4.1" stroke="#222" stroke-width="0.15" text-anchor="end" fill="#222">0</text>
<text x="364.3" y="713.2" font-size="4.1" stroke="#222" stroke-width="0.15" text-anchor="end" fill="#222">-10<tspan font-size="70%" baseline-shift="30%">3</tspan></text>
<text x="372" y="724.8" font-size="4.1" stroke="#222" stroke-width="0.15" text-anchor="middle" fill="#222">-10<tspan font-size="70%" baseline-shift="30%">3</tspan></text>
<text x="381.1" y="724.8" font-size="4.1" stroke="#222" stroke-width="0.15" text-anchor="middle" fill="#222">0</text>
<text x="390.9" y="724.8" font-size="4.1" stroke="#222" stroke-width="0.15" text-anchor="middle" fill="#222">10<tspan font-size="70%" baseline-shift="30%">3</tspan></text>
<text x="405.3" y="724.8" font-size="4.1" stroke="#222" stroke-width="0.15" text-anchor="middle" fill="#222">10<tspan font-size="70%" baseline-shift="30%">4</tspan></text>
<text x="419.7" y="724.8" font-size="4.1" stroke="#222" stroke-width="0.15" text-anchor="middle" fill="#222">10<tspan font-size="70%" baseline-shift="30%">5</tspan></text>
<path d="M368.6 663h-1.6M368.6 677.1h-1.6M368.6 691.7h-1.6M368.6 702h-1.6M368.6 711.7h-1.6M368.6 659h-0.9M368.6 666h-0.9M368.6 669h-0.9M368.6 671h-0.9M368.6 681h-0.9M368.6 684h-0.9M368.6 686h-0.9M368.6 688h-0.9M368.6 695h-0.9M368.6 698h-0.9M368.6 705h-0.9M368.6 708h-0.9M371.2 716v1.6M380.3 716v1.6M390.1 716v1.6M404.5 716v1.6M418.9 716v1.6M374.6 716v0.9M377.1 716v0.9M379.1 716v0.9M384.6 716v0.9M386.6 716v0.9M388.6 716v0.9M395.6 716v0.9M398.6 716v0.9M400.6 716v0.9M402.6 716v0.9M410.6 716v0.9M413.6 716v0.9M415.6 716v0.9M417.6 716v0.9" stroke="#222" stroke-width="0.7"/>
<rect x="366.9" y="700.1" width="1.5" height="3" fill="#111"/>
<rect x="380.6" y="716.2" width="3" height="1.5" fill="#111"/>
<text x="353.2" y="686.7" font-size="7.2" stroke="#222" stroke-width="0.25" text-anchor="middle" font-weight="bold" fill="#222" transform="rotate(-90 353.2 686.7)" textLength="14.2" lengthAdjust="spacingAndGlyphs">NKp46</text>
<text x="397.05" y="735.3" font-size="7.2" stroke="#222" stroke-width="0.25" text-anchor="middle" font-weight="bold" fill="#222" textLength="8.8" lengthAdjust="spacingAndGlyphs">2B4</text>
<rect x="452" y="657" width="58" height="59" fill="none" stroke="#999" stroke-width="0.6"/>
<line x1="469.8" y1="657" x2="469.8" y2="716" stroke="#333" stroke-width="0.9"/>
<line x1="452" y1="698.3" x2="510" y2="698.3" stroke="#333" stroke-width="0.9"/>
<text x="454.2" y="661.6" font-size="3.8" fill="#555">Q7</text>
<text x="454.2" y="665.7" font-size="3.8" fill="#555">0.79</text>
<text x="507.8" y="661.6" font-size="3.8" text-anchor="end" fill="#555">Q8</text>
<text x="507.8" y="665.7" font-size="3.8" text-anchor="end" fill="#555">55.5</text>
<text x="454.2" y="711" font-size="3.8" fill="#555">Q9</text>
<text x="454.2" y="714.9" font-size="3.8" fill="#555">6.80</text>
<text x="507.8" y="711" font-size="3.8" text-anchor="end" fill="#555">Q5</text>
<text x="507.8" y="714.9" font-size="3.8" text-anchor="end" fill="#555">22.0</text>
<text x="447.7" y="664.5" font-size="4.1" stroke="#222" stroke-width="0.15" text-anchor="end" fill="#222">10<tspan font-size="70%" baseline-shift="30%">5</tspan></text>
<text x="447.7" y="678.6" font-size="4.1" stroke="#222" stroke-width="0.15" text-anchor="end" fill="#222">10<tspan font-size="70%" baseline-shift="30%">4</tspan></text>
<text x="447.7" y="693.2" font-size="4.1" stroke="#222" stroke-width="0.15" text-anchor="end" fill="#222">10<tspan font-size="70%" baseline-shift="30%">3</tspan></text>
<text x="447.7" y="703.5" font-size="4.1" stroke="#222" stroke-width="0.15" text-anchor="end" fill="#222">0</text>
<text x="447.7" y="713.2" font-size="4.1" stroke="#222" stroke-width="0.15" text-anchor="end" fill="#222">-10<tspan font-size="70%" baseline-shift="30%">3</tspan></text>
<text x="455.4" y="724.8" font-size="4.1" stroke="#222" stroke-width="0.15" text-anchor="middle" fill="#222">-10<tspan font-size="70%" baseline-shift="30%">3</tspan></text>
<text x="464.5" y="724.8" font-size="4.1" stroke="#222" stroke-width="0.15" text-anchor="middle" fill="#222">0</text>
<text x="474.3" y="724.8" font-size="4.1" stroke="#222" stroke-width="0.15" text-anchor="middle" fill="#222">10<tspan font-size="70%" baseline-shift="30%">3</tspan></text>
<text x="488.7" y="724.8" font-size="4.1" stroke="#222" stroke-width="0.15" text-anchor="middle" fill="#222">10<tspan font-size="70%" baseline-shift="30%">4</tspan></text>
<text x="503.1" y="724.8" font-size="4.1" stroke="#222" stroke-width="0.15" text-anchor="middle" fill="#222">10<tspan font-size="70%" baseline-shift="30%">5</tspan></text>
<path d="M452 663h-1.6M452 677.1h-1.6M452 691.7h-1.6M452 702h-1.6M452 711.7h-1.6M452 659h-0.9M452 666h-0.9M452 669h-0.9M452 671h-0.9M452 681h-0.9M452 684h-0.9M452 686h-0.9M452 688h-0.9M452 695h-0.9M452 698h-0.9M452 705h-0.9M452 708h-0.9M454.6 716v1.6M463.7 716v1.6M473.5 716v1.6M487.9 716v1.6M502.3 716v1.6M458 716v0.9M460.5 716v0.9M462.5 716v0.9M468 716v0.9M470 716v0.9M472 716v0.9M479 716v0.9M482 716v0.9M484 716v0.9M486 716v0.9M494 716v0.9M497 716v0.9M499 716v0.9M501 716v0.9" stroke="#222" stroke-width="0.7"/>
<rect x="450.3" y="700.1" width="1.5" height="3" fill="#111"/>
<rect x="464" y="716.2" width="3" height="1.5" fill="#111"/>
<text x="436.6" y="686.7" font-size="7.2" stroke="#222" stroke-width="0.25" text-anchor="middle" font-weight="bold" fill="#222" transform="rotate(-90 436.6 686.7)" textLength="14.2" lengthAdjust="spacingAndGlyphs">NKp30</text>
<text x="484.5" y="735.3" font-size="7.2" stroke="#222" stroke-width="0.25" text-anchor="middle" font-weight="bold" fill="#222" textLength="14.2" lengthAdjust="spacingAndGlyphs">NKp46</text>
<g>
<path transform="scale(.1)" d="M441 5135h9M430 5194h9M429 5193h9M443 5215h9M410 5075h9M398 5174h9M444 5217h9M439 5118h9M418 5188h9M440 5242h9M443 5161h9M472 5226h9M426 5087h9M442 5161h9M439 5131h9M445 5256h9M427 5166h9M410 5269h9M430 5161h9M433 5201h9M431 5179h9M436 5126h9M467 5098h9M433 5229h9M411 5203h9M433 5173h9M421 5176h9M436 5180h9M417 5083h9M446 5122h9M443 5138h9M414 5206h9M400 5284h9M444 5191h9M439 5096h9M466 5227h9M426 5259h9M463 5239h9M428 5128h9M409 5134h9M416 5177h9M436 5180h9M440 5140h9M428 5179h9M471 5196h9M430 5169h9M437 5107h9M449 5166h9M463 5173h9M460 5167h9M412 5195h9M484 5212h9M459 5198h9M403 5217h9M435 5212h9M437 5096h9M439 5203h9M418 5252h9M449 5270h9M461 5144h9M430 5237h9M434 5214h9M425 5202h9M471 5179h9M467 5149h9M441 5231h9M417 5224h9M411 5220h9M480 5199h9M449 5232h9M442 5193h9M468 5129h9M428 5239h9M463 5146h9M445 5209h9M475 5242h9M426 5143h9M433 5186h9M431 5158h9M404 5185h9M423 5128h9M427 5091h9M451 5174h9M416 5209h9M470 5244h9M446 5170h9M427 5161h9M463 5221h9M546 5055h9M564 5175h9M465 5120h9M533 5105h9M497 5213h9M458 5150h9M565 5133h9M485 5125h9M524 5095h9M508 5178h9M1263 5225h9M1229 5163h9M1235 5182h9M1244 5194h9M1223 5261h9M1261 5201h9M1260 5210h9M1255 5196h9M1242 5197h9M1250 5254h9M1246 5171h9M1259 5160h9M1299 5242h9M1263 5224h9M1228 5211h9M1219 5176h9M1212 5232h9M1246 5202h9M1224 5248h9M1271 5166h9M1244 5239h9M1246 5232h9M1213 5222h9M1274 5182h9M1265 5178h9M1251 5219h9M1257 5197h9M1242 5193h9M1247 5191h9M1261 5234h9M1270 5194h9M1262 5254h9M1221 5217h9M1251 5260h9M1248 5263h9M1266 5215h9M1268 5260h9M1271 5218h9M1225 5164h9M1240 5217h9M1256 5259h9M1247 5255h9M1248 5163h9M1252 5250h9M1293 5175h9M1285 5224h9M1261 5214h9M1257 5197h9M1202 5217h9M1243 5192h9M1229 5263h9M1268 5222h9M1246 5228h9M1243 5229h9M1268 5195h9M1255 5259h9M1255 5241h9M1240 5177h9M1242 5297h9M1255 5256h9M1253 5176h9M1207 5215h9M1261 5270h9M1246 5189h9M1250 5204h9M1264 5189h9M1242 5175h9M1242 5191h9M1270 5221h9M1268 5200h9M1265 5208h9M1234 5169h9M1257 5263h9M1265 5167h9M1245 5292h9M1225 5206h9M1253 5226h9M1247 5282h9M1229 5174h9M1234 5210h9M1254 5197h9M1243 5185h9M1262 5292h9M1247 5186h9M1255 5199h9M1245 5175h9M1274 5236h9M1234 5293h9M1232 5225h9M1247 5225h9M1232 5208h9M1269 5273h9M1255 5209h9M1249 5235h9M1294 5223h9M1311 5172h9M1310 5143h9M1325 5122h9M1254 5143h9M1339 5172h9M1310 5135h9M1306 5124h9M1309 5146h9M1308 5133h9M2034 5264h9M2066 5204h9M2012 5177h9M2070 5095h9M2024 5147h9M2028 5202h9M2094 5115h9M2035 5249h9M2034 5279h9M2032 5163h9M2145 5129h9M2083 5193h9M2046 5199h9M2038 5139h9M2002 5294h9M2040 5129h9M2107 5202h9M2037 5130h9M2001 5188h9M2061 5171h9M2028 5111h9M2013 5210h9M2014 5209h9M1969 5288h9M2071 5187h9M2062 5247h9M2118 5216h9M2044 5205h9M2071 5157h9M2084 5217h9M2085 5243h9M2086 5274h9M2030 5183h9M2045 5274h9M2026 5158h9M2092 5203h9M1997 5124h9M2155 5229h9M2134 5289h9M2116 5215h9M2063 5131h9M2069 5190h9M1989 5196h9M2101 5252h9M2011 5199h9M2043 5259h9M2041 5185h9M2006 5250h9M1990 5237h9M2065 5234h9M2025 5254h9M2138 5184h9M2072 5145h9M2105 5258h9M2064 5172h9M1969 5222h9M2070 5277h9M2029 5292h9M2015 5182h9M2124 5161h9M2070 5211h9M2093 5137h9M2067 5122h9M2131 5296h9M2046 5122h9M2026 5200h9M2097 5161h9M2134 5143h9M2013 5222h9M2082 5210h9M2120 5160h9M2034 5215h9M2053 5205h9M2050 5275h9M2035 5122h9M2030 5248h9M2054 5189h9M2070 5297h9M2147 5261h9M2135 5174h9M2244 5098h9M2253 5152h9M2102 5128h9M2048 5156h9M2194 5092h9M2170 5113h9M2131 5134h9M2218 5109h9M2140 5151h9M2194 5091h9M2125 5146h9M2202 5232h9M2216 5179h9M2225 5137h9M2102 5114h9M2115 5155h9M2167 5183h9M2140 5082h9M2091 5206h9M2135 5107h9M2205 5159h9M2259 5073h9M2222 5173h9M2177 5173h9M2065 5172h9M2075 5211h9M2210 5193h9M2113 5157h9M2140 5255h9M2165 5118h9M2122 5153h9M2200 5152h9M2157 5111h9M2207 5186h9M2123 5122h9M457 6055h9M461 5986h9M461 6055h9M482 6011h9M476 6082h9M497 6032h9M497 6078h9M466 6086h9M471 5996h9M524 6099h9M484 6093h9M515 6221h9M506 5957h9M526 6171h9M465 6092h9M486 6154h9M463 6109h9M430 6084h9M439 5983h9M456 6052h9M487 6134h9M501 6050h9M442 5974h9M487 5936h9M484 6081h9M483 6126h9M449 6030h9M554 6103h9M530 6068h9M434 6144h9M482 6143h9M495 6091h9M491 6095h9M541 6118h9M504 6012h9M440 6069h9M500 6146h9M449 5920h9M443 6057h9M433 5989h9M506 6023h9M432 6050h9M441 6029h9M498 6051h9M444 6050h9M489 5997h9M535 5982h9M435 6161h9M511 6056h9M493 6045h9M463 6076h9M492 6094h9M522 6058h9M489 6078h9M440 6065h9M492 6151h9M411 6036h9M467 6036h9M479 6005h9M445 6050h9M510 6036h9M536 5920h9M494 5923h9M454 5967h9M508 6029h9M528 6027h9M428 6174h9M454 6002h9M452 6045h9M453 6074h9M398 6079h9M494 6114h9M447 6145h9M500 6027h9M426 5912h9M463 5963h9M474 6020h9M507 5998h9M437 6075h9M498 6122h9M505 6048h9M492 6045h9M483 6101h9M473 6016h9M408 6013h9M451 6079h9M494 6010h9M458 6071h9M473 6031h9M460 6028h9M457 5911h9M496 6027h9M519 6031h9M486 6041h9M467 5985h9M480 5948h9M430 6091h9M478 6056h9M505 6093h9M460 6034h9M539 6006h9M487 5988h9M450 5969h9M469 6146h9M462 6014h9M458 6097h9M476 6095h9M485 6001h9M491 5914h9M504 5977h9M491 6091h9M530 6016h9M465 6101h9M484 6031h9M494 6004h9M439 6059h9M432 6110h9M425 6023h9M442 5996h9M457 5965h9M475 6034h9M433 6052h9M466 6005h9M517 6085h9M476 6033h9M440 6016h9M480 5992h9M455 6054h9M440 5958h9M509 6026h9M483 6187h9M536 6017h9M444 5886h9M538 6100h9M495 6012h9M481 5975h9M456 6076h9M447 6111h9M476 5991h9M506 6164h9M471 6006h9M533 6202h9M480 6052h9M441 5981h9M506 5984h9M434 6128h9M462 5901h9M455 6088h9M436 6007h9M469 6115h9M515 6020h9M471 5982h9M447 6071h9M506 6121h9M468 6015h9M1335 5864h9M1354 5906h9M1324 5951h9M1311 5974h9M1309 6087h9M1339 5847h9M1352 5947h9M1297 5946h9M1318 5958h9M1328 6074h9M1291 5979h9M1364 5957h9M1329 5885h9M1308 6011h9M1348 5948h9M1314 5974h9M1345 5959h9M1325 5861h9M1341 5898h9M1339 5895h9M1286 5987h9M1350 5984h9M1353 5942h9M1326 5991h9M1323 5922h9M1347 6026h9M1317 5993h9M1314 5962h9M1336 5877h9M1316 5915h9M1366 5898h9M1320 5901h9M1289 5877h9M1321 5931h9M1297 5879h9M1310 6035h9M1286 6020h9M1346 5929h9M1358 5812h9M1307 5961h9M1346 5878h9M1372 5832h9M1349 5882h9M1317 6003h9M1326 5909h9M1318 5999h9M1341 5863h9M1342 5924h9M1346 5922h9M1352 5883h9M1361 5969h9M1308 5911h9M1333 5968h9M1307 5899h9M1315 5851h9M1296 5885h9M1327 5983h9M1311 5946h9M1304 5914h9M1322 5881h9M1321 5925h9M1294 5871h9M1323 5918h9M1319 5934h9M1354 5877h9M1242 6155h9M1210 6041h9M1258 6082h9M1267 6093h9M1262 6120h9M1276 6115h9M1250 6099h9M1272 6067h9M1292 6117h9M1268 6102h9M1253 6081h9M1263 6028h9M1233 6083h9M1260 6087h9M1231 6111h9M1288 6094h9M1253 6101h9M1284 6100h9M1262 6151h9M1231 6116h9M1260 6059h9M1228 6089h9M1274 6122h9M1282 6092h9M1274 6128h9M1218 6123h9M1236 6067h9M1253 6121h9M1260 6050h9M1261 6146h9M1236 6060h9M1238 6110h9M1267 6055h9M1253 6086h9M1207 6055h9M1264 6074h9M1251 6113h9M1284 6120h9M1244 6077h9M1268 6070h9M1243 6066h9M1254 6122h9M1233 6062h9M1225 6079h9M1272 6113h9M1273 6116h9M1238 6062h9M1222 6076h9M1279 6115h9M1275 6082h9M1221 6070h9M1282 6108h9M1276 6136h9M1224 6156h9M1246 6078h9M1295 6045h9M1239 6095h9M1243 6054h9M1206 6112h9M1196 6102h9M1255 6163h9M1298 6062h9M1187 6074h9M1232 6111h9M1267 6122h9M1978 6069h9M2053 6060h9M2072 6071h9M1975 6122h9M2073 6017h9M2044 6011h9M2070 6008h9M2071 6089h9M2026 5985h9M2105 6061h9M2080 6057h9M2044 6097h9M2009 6140h9M2085 6018h9M2104 6045h9M2046 6166h9M2084 6104h9M2028 6013h9M2139 6002h9M2074 6140h9M2077 6053h9M2077 6073h9M2028 6071h9M2070 6063h9M2033 6116h9M1990 6021h9M2083 6053h9M2065 6054h9M2041 6137h9M2014 6050h9M2047 6081h9M2027 5906h9M1994 6014h9M2031 6065h9M1985 6058h9M2078 6037h9M1990 6038h9M2032 6033h9M2049 6097h9M2077 6066h9M2044 6091h9M2067 6033h9M2053 6047h9M2078 6067h9M2055 6064h9M2036 6065h9M2097 6002h9M2083 6117h9M2064 6053h9M2054 6070h9M2054 6034h9M2028 6032h9M2026 6060h9M2052 6081h9M2040 6119h9M2098 5999h9M2023 5935h9M2026 6049h9M2121 6044h9M2079 6063h9M2096 6012h9M2055 6101h9M2043 6083h9M2061 6114h9M2069 6057h9M2060 5968h9M2091 6092h9M2043 5972h9M2044 6113h9M2040 6005h9M2038 6069h9M2032 6045h9M2090 6027h9M2067 6092h9M2066 6140h9M2143 6102h9M2022 6052h9M2235 5990h9M2137 5985h9M2348 5893h9M1975 6005h9M2049 5980h9M2223 5925h9M2163 5945h9M2145 6021h9M2089 6029h9M2009 6045h9M2066 6030h9M2203 6024h9M1970 5986h9M2289 5938h9M2165 6111h9M2438 5865h9M2298 6036h9M2323 5930h9M2151 6022h9M2242 5882h9M2216 5949h9M2409 5855h9M2198 5913h9M2189 5988h9M2179 6043h9M2085 6112h9M2332 5860h9M2420 5910h9M2141 6044h9M2265 5873h9M2261 5966h9M2026 6108h9M2238 6026h9M2293 5932h9M2258 5962h9M2368 5934h9M2333 5924h9M2244 5938h9M2205 5871h9M2095 5999h9M2377 5899h9M2212 6020h9M2171 6010h9M2157 5972h9M2239 6000h9M2177 5991h9M2179 6088h9M1994 6126h9M2030 6155h9M2167 5995h9M2202 6019h9M2170 6034h9M2320 5999h9M2254 6081h9M2213 5993h9M2237 5904h9M2043 6033h9M2387 5905h9M2128 6075h9M2210 5898h9M2134 6056h9M2374 5941h9M2362 5957h9M2111 6020h9M2259 5976h9M2169 6081h9M2141 6070h9M2034 6028h9M2158 6039h9M2220 5940h9M2195 6069h9M2173 6015h9M2236 6037h9M2106 6075h9M2216 5989h9M2278 5920h9M2250 6004h9M2394 5847h9M2301 5970h9M2255 5908h9M2138 6012h9M2166 6018h9M2318 5986h9M2332 5954h9M2245 5942h9M2183 5981h9M2223 6119h9M2200 5992h9M2373 5935h9M2163 6052h9M2461 5898h9M2165 6024h9M2155 5968h9M2187 5958h9M2135 6009h9M525 7093h9M471 6846h9M529 6864h9M503 6911h9M564 7001h9M510 7007h9M475 6856h9M526 6859h9M518 6975h9M483 6807h9M537 6894h9M441 7037h9M454 6960h9M572 6952h9M483 6960h9M501 6928h9M484 6915h9M515 6803h9M529 7052h9M486 6992h9M515 6970h9M536 6838h9M509 6955h9M481 6927h9M519 6818h9M502 6942h9M519 6941h9M473 6924h9M518 6829h9M513 6875h9M478 6951h9M486 6939h9M507 7003h9M478 6878h9M477 6897h9M480 6850h9M509 7014h9M498 6872h9M533 7002h9M550 6809h9M500 6866h9M493 6890h9M485 6913h9M473 6866h9M548 7003h9M529 6872h9M487 6872h9M475 6892h9M522 6857h9M485 6928h9M592 7004h9M518 6792h9M495 6879h9M496 6969h9M482 6931h9M465 6841h9M506 6834h9M477 6976h9M469 6960h9M512 6998h9M490 6958h9M537 6900h9M525 6972h9M484 7028h9M496 7019h9M494 6939h9M491 6977h9M496 6910h9M506 6926h9M511 6924h9M511 6977h9M537 6865h9M526 7045h9M556 6960h9M499 6824h9M496 6870h9M502 6941h9M506 6797h9M490 6821h9M518 6823h9M482 6903h9M483 6959h9M469 6929h9M525 6892h9M510 6927h9M515 6962h9M499 7003h9M489 6929h9M454 6867h9M523 6768h9M514 6980h9M488 6917h9M501 6978h9M491 6932h9M460 7042h9M482 6935h9M523 6898h9M504 6985h9M545 6849h9M491 6967h9M479 6955h9M504 6866h9M504 6964h9M503 6918h9M505 6902h9M505 6909h9M555 6964h9M496 6810h9M516 6951h9M448 6988h9M476 6872h9M449 6955h9M439 6910h9M502 6965h9M529 6987h9M487 6939h9M503 7044h9M536 7008h9M508 6980h9M490 6876h9M470 6972h9M464 6973h9M475 6825h9M520 7004h9M508 6912h9M486 6919h9M615 6932h9M493 6995h9M511 6949h9M515 6929h9M502 6999h9M510 7013h9M459 6963h9M524 6971h9M507 6906h9M498 6882h9M543 6963h9M473 6921h9M488 7053h9M509 6981h9M511 6956h9M491 6772h9M442 6794h9M508 6950h9M491 6975h9M496 6850h9M485 6819h9M455 7046h9M511 6920h9M485 7075h9M462 6879h9M529 6899h9M541 7085h9M504 6888h9M485 6917h9M474 6983h9M516 6977h9M539 6877h9M494 6840h9M505 7030h9M525 6910h9M523 7025h9M534 6930h9M548 6971h9M525 6893h9M497 6895h9M477 6863h9M463 6999h9M475 6907h9M550 6889h9M479 6854h9M496 6948h9M499 6891h9M489 6954h9M512 7061h9M536 6897h9M494 6933h9M452 6849h9M521 6881h9M484 6896h9M467 6954h9M488 6997h9M501 6999h9M520 6877h9M511 6932h9M519 7127h9M541 6866h9M528 6861h9M572 7003h9M511 6869h9M496 6969h9M462 6973h9M518 6807h9M532 6919h9M470 6929h9M480 7103h9M523 6952h9M514 7067h9M521 7040h9M537 7008h9M509 6840h9M548 6851h9M467 6766h9M452 6818h9M512 6972h9M461 6916h9M478 7004h9M479 6860h9M546 6784h9M451 6783h9M539 7032h9M504 6836h9M530 7007h9M1342 6728h9M1330 6681h9M1370 6799h9M1316 6732h9M1293 6918h9M1345 6838h9M1338 6899h9M1314 6755h9M1313 6878h9M1301 6919h9M1293 6977h9M1350 6935h9M1350 6708h9M1304 6742h9M1342 6737h9M1348 6689h9M1340 6697h9M1281 6760h9M1343 6746h9M1334 6925h9M1347 6665h9M1323 6900h9M1304 6888h9M1339 6803h9M1354 6721h9M1301 6839h9M1302 6887h9M1317 6822h9M1316 6821h9M1263 6804h9M1378 6754h9M1323 6839h9M1322 6742h9M1350 6731h9M1304 6882h9M1273 7050h9M1351 6824h9M1338 6704h9M1310 6944h9M1369 6816h9M1362 6969h9M1316 6830h9M1257 6929h9M1317 6859h9M1364 6931h9M1312 6821h9M1315 6923h9M1299 6996h9M1329 6854h9M1306 6789h9M1296 6863h9M1343 6977h9M1388 6852h9M1334 6844h9M1351 6724h9M1331 6946h9M1321 6828h9M1298 6935h9M1315 6867h9M1305 6723h9M1287 6846h9M1319 6692h9M1372 6664h9M1329 6900h9M1405 6815h9M1344 6841h9M1336 6746h9M1255 6902h9M1361 7072h9M1336 6928h9M1311 6737h9M1289 6829h9M1302 6811h9M1321 6955h9M1302 6865h9M1335 6769h9M1305 6884h9M1338 6812h9M1309 6870h9M1355 6951h9M1294 6785h9M1343 6895h9M1317 6780h9M1342 6937h9M1320 6836h9M1335 6819h9M1330 6919h9M1300 6886h9M1263 6915h9M1330 6785h9M1302 6967h9M1319 6816h9M1299 6768h9M1351 6810h9M1295 6876h9M1282 6762h9M1293 6855h9M1318 6794h9M1323 6815h9M1307 6945h9M1314 6704h9M1288 7037h9M1289 6966h9M1284 6904h9M1251 6981h9M1289 6873h9M1313 6876h9M1312 6751h9M1301 6920h9M1325 6749h9M1275 6883h9M1337 6956h9M1256 6926h9M1284 6729h9M1315 6976h9M1349 6897h9M1324 6808h9M1297 6813h9M1264 6933h9M1330 6807h9M1306 6957h9M1320 6895h9M1289 6913h9M1348 6896h9M1303 6794h9M1319 6868h9M1297 6932h9M1314 6873h9M1341 6757h9M1324 6650h9M1330 6814h9M1324 6778h9M1340 6838h9M1294 6891h9M1288 6860h9M1365 6695h9M1295 6977h9M1293 6829h9M1309 6860h9M1311 6871h9M1327 6780h9M1283 6865h9M1337 6823h9M1299 6992h9M1320 6813h9M1337 6865h9M1310 6864h9M1322 6897h9M1324 6862h9M1302 6817h9M1317 6989h9M1302 6991h9M1311 6933h9M1322 6777h9M1307 6713h9M1314 6830h9M1252 6942h9M1326 6802h9M1306 6853h9M1306 6870h9M1291 6869h9M1271 6852h9M1308 6742h9M1317 6793h9M1287 6837h9M1329 6780h9M1260 6847h9M1312 6887h9M1274 6842h9M1328 6724h9M1291 7005h9M1339 6790h9M1368 6905h9M1262 6818h9M1314 6642h9M1314 6880h9M1334 6852h9M1309 7015h9M1330 6819h9M1279 6932h9M1305 6911h9M1295 6904h9M1310 6875h9M1276 6850h9M1315 6856h9M1325 6733h9M1387 6955h9M1315 6828h9M1281 6832h9M1325 6886h9M1307 6765h9M1312 6782h9M1333 6923h9M1335 7022h9M1314 6879h9M1318 6853h9M1333 6833h9M1319 6768h9M1360 6951h9M1304 6855h9M1335 6878h9M1343 6805h9M1299 6778h9M1285 6878h9M1270 6720h9M1277 6734h9M1352 6845h9M1333 7009h9M1348 6695h9M1306 6959h9M1339 6762h9M1351 6806h9M1357 6990h9M1304 7014h9M1299 6784h9M1326 6832h9M1324 6830h9M1311 6771h9M1331 6921h9M1310 6840h9M1332 6908h9M1297 6986h9M1344 6916h9M1314 6826h9M1306 6662h9M1270 6968h9M1310 7114h9M1267 7058h9M1239 7029h9M1239 7014h9M1305 7031h9M1235 7044h9M1213 7024h9M1209 7021h9M1283 7101h9M1205 7061h9M1241 7124h9M1284 7128h9M1262 7015h9M1284 6958h9M1279 7047h9M1267 7017h9M1267 6989h9M1245 7088h9M1253 7075h9M1216 7035h9M1230 7014h9M1278 6935h9M1307 7026h9M1262 7051h9M1270 7012h9M1222 7049h9M1217 7015h9M1278 6946h9M1244 7022h9M1281 7042h9M1222 6958h9M1235 7010h9M1267 7054h9M1291 6950h9M1254 7029h9M1238 6980h9M2312 6918h9M2231 6991h9M2306 7004h9M2110 7031h9M2085 6941h9M2139 6928h9M2289 6983h9M2135 6908h9M2237 6924h9M2130 6989h9M2115 6927h9M2153 6965h9M2424 6855h9M2175 6984h9M2191 6888h9M2307 7000h9M2120 7000h9M2185 6948h9M2130 6907h9M2134 6993h9M2267 6890h9M2206 6900h9M2125 7062h9M2119 7045h9M2118 6954h9M2061 6977h9M2046 7114h9M2196 6979h9M2174 6878h9M2129 6945h9M2202 6823h9M2218 6888h9M2313 6851h9M2296 6840h9M2244 7049h9M2251 6952h9M2366 6889h9M2238 6870h9M2103 6914h9M2019 7009h9M2180 6893h9M2151 7042h9M2185 6987h9M2229 7008h9M2098 6960h9M2224 6947h9M2122 7010h9M2225 7001h9M2305 6997h9M2082 6989h9M2321 6866h9M2227 7030h9M2166 6904h9M2241 6935h9M2208 6997h9M2293 6887h9M2181 6892h9M2137 7041h9M2365 6992h9M2194 6955h9M1988 7032h9M2222 6837h9M2238 6967h9M2322 6861h9M2167 6962h9M2250 6946h9M2315 6888h9M2161 6996h9M2206 7004h9M2326 6885h9M2200 6918h9M2059 7004h9M2109 7009h9M2136 6881h9M2309 6898h9M2115 6973h9M2163 6939h9M2086 7011h9M2262 6746h9M2107 7057h9M2117 6995h9M2384 6895h9M2150 6913h9M2204 6953h9M2301 6868h9M2246 6933h9M2169 6968h9M2162 7002h9M2132 6968h9M2310 6972h9M2093 6974h9M2128 6945h9M2306 6898h9M2169 7026h9M2238 6910h9M2372 6899h9M2152 7037h9M2317 7015h9M2213 6987h9M2094 7112h9M2215 6933h9M2213 6941h9M2234 6837h9M2010 7065h9M2121 7043h9M2153 6946h9M2319 6864h9M2235 7038h9M2111 6946h9M2167 6942h9M2188 6926h9M2213 6872h9M2080 7017h9M2058 7026h9M2154 6976h9M2164 6946h9M2179 6930h9M2125 7034h9M2214 6897h9M2144 7042h9M2317 6765h9M2268 6918h9M2203 6878h9M2024 7009h9M2379 6902h9M2214 6930h9M2368 6816h9M2158 6983h9M2042 7089h9M2219 7014h9M2108 7020h9M2073 6965h9M2172 7005h9M2281 6932h9M2111 6992h9M2122 6938h9M2152 6970h9M2182 6870h9M2359 6981h9M2122 6975h9M1996 6987h9M2324 6805h9M2049 7070h9M2166 6964h9M2128 6904h9M1988 7005h9M2209 6958h9M2203 6996h9M2160 7042h9M2182 7020h9M2150 6957h9M2009 7036h9M2327 6899h9M2357 6777h9M2155 6898h9M2246 6925h9M2189 6958h9M2295 6898h9M2192 6991h9M2155 6986h9M2272 6940h9M2186 7001h9M2346 6966h9M2241 6917h9M1976 6988h9M2228 6987h9M2165 6868h9M2091 6873h9M2159 6998h9M2184 6943h9M2032 6995h9M2217 6972h9M2212 6987h9M2257 6935h9M2146 6971h9M2270 6890h9M2149 6893h9M2137 6979h9M2208 6950h9M2173 6897h9M2226 6930h9M2138 6982h9M2030 6990h9M2068 6991h9M2236 6883h9M2087 6908h9M2359 6979h9M2158 6923h9M2191 7010h9M2018 7021h9M2135 6877h9M2369 6970h9M2193 7004h9M2257 6875h9M2238 6875h9M2276 6907h9M1985 7035h9M2286 6855h9M2159 6952h9M2106 7021h9M2332 6916h9M2115 6960h9M2391 6843h9M2352 6853h9M2222 6947h9M2110 7039h9M2152 6947h9M2284 6923h9M2055 7102h9M2113 6962h9M2133 6952h9M2161 6986h9M2329 6874h9M2226 6973h9M2177 6905h9M2313 6894h9M2163 6844h9M2198 6952h9M2349 6876h9M2154 6840h9M2105 6890h9M2352 6796h9M2053 7017h9M2019 6931h9M2076 7016h9M2044 7050h9M2037 6978h9M2084 7001h9M2057 6968h9M2014 7035h9M2101 6973h9M2040 6985h9M2075 7015h9M2076 7006h9M2093 6982h9M2020 6969h9M2044 7037h9M2013 6997h9M2037 7050h9M2074 6976h9M2003 6951h9M2101 6962h9M2044 6974h9M2104 6968h9M2031 6989h9M2061 7001h9M2072 7004h9M2020 7010h9M1986 6978h9M2058 6967h9M2087 6968h9M2079 6982h9M2036 7035h9M2075 7052h9M2078 7045h9M2033 6917h9M2042 6940h9M2015 6958h9M2009 6976h9M2074 6996h9M3034 5286h9M2976 5226h9M3058 5124h9M3034 5287h9M3057 5188h9M3060 5163h9M3081 5218h9M3055 5127h9M3038 5226h9M3105 5198h9M3014 5092h9M3061 5087h9M2978 5237h9M3058 5149h9M3050 5093h9M3020 5257h9M3065 5183h9M3077 5206h9M3008 5163h9M3039 5107h9M2948 5345h9M2995 5228h9M3021 5133h9M3065 5244h9M3015 5254h9M3031 5268h9M3072 5188h9M3053 5156h9M3084 5151h9M3067 5152h9M3089 5118h9M3115 5056h9M3059 5154h9M3002 5248h9M3048 5117h9M3088 5317h9M3049 5073h9M2989 5232h9M3013 5207h9M2944 5087h9M2978 5176h9M3034 5275h9M3002 5072h9M3012 5233h9M3118 5178h9M3005 5297h9M2956 5255h9M3920 5064h9M3918 4968h9M3905 4951h9M3938 5063h9M3900 4934h9M3935 5027h9M3938 5005h9M3938 4945h9M3926 5097h9M3900 5085h9M3889 4967h9M3872 5052h9M3894 5090h9M3908 5143h9M3887 5135h9M3906 5114h9M3916 4922h9M3936 5053h9M3857 5194h9M3908 5029h9M3913 5167h9M3931 5005h9M3938 5070h9M3917 5102h9M3904 5115h9M3894 5004h9M3924 5073h9M3895 4965h9M3944 4934h9M3910 5196h9M3904 5081h9M3887 5141h9M3926 5038h9M3882 5217h9M3855 5226h9M3812 5269h9M3875 5244h9M3861 5267h9M3866 5229h9M3846 5283h9M3866 5269h9M3836 5252h9M3892 5225h9M3910 5253h9M3834 5202h9M3812 5221h9M3852 5247h9M3843 5200h9M3879 5241h9M3847 5210h9M3813 5216h9M3805 5261h9M3858 5194h9M4828 5192h9M4911 5127h9M4702 5181h9M4597 5110h9M4547 5339h9M4831 5158h9M4673 5223h9M4782 5161h9M4938 5165h9M4696 5276h9M4546 5208h9M4963 5132h9M4687 5279h9M4628 5264h9M4562 5262h9M4818 5167h9M4729 5160h9M4778 5151h9M4898 5044h9M4732 5176h9M4713 5253h9M4808 5179h9M4641 5285h9M4557 5277h9M4776 5154h9M4769 5077h9M4810 5135h9M4704 5060h9M4807 5163h9M4574 5253h9M4795 5289h9M4874 5156h9M4538 5197h9M4611 5124h9M4843 5133h9M4784 5130h9M4778 5173h9M4801 5183h9M4709 5196h9M4871 5148h9M4729 5180h9M4779 5143h9M4887 5203h9M4652 5211h9M4879 5178h9M4911 5055h9M4895 5143h9M4818 5015h9M4916 5106h9M4725 5143h9M4967 5066h9M4720 5163h9M4741 5133h9M4820 5155h9M4872 5073h9M4843 5120h9M4867 5083h9M4858 5266h9M4748 5129h9M4796 5181h9M4739 5278h9M4906 5120h9M4779 5138h9M3096 6020h9M3049 6004h9M3047 5933h9M3081 6107h9M3028 6034h9M3082 6059h9M3073 6027h9M3047 5983h9M3105 6070h9M2989 5988h9M3059 6036h9M3091 6038h9M3121 6092h9M3052 6030h9M2998 6028h9M3049 6035h9M3053 6118h9M2975 5871h9M3083 6097h9M3061 6093h9M3089 5972h9M2994 6195h9M3038 5892h9M2988 6141h9M3019 6007h9M3031 6087h9M3027 6019h9M3076 6010h9M3037 5898h9M3052 5871h9M3054 6016h9M3038 5991h9M3082 6119h9M3074 6072h9M3048 6000h9M2989 6076h9M3072 6052h9M3032 6181h9M2989 6122h9M2956 5928h9M3028 6172h9M3059 5932h9M3095 5895h9M3047 6010h9M3041 6056h9M3008 5976h9M3044 5963h9M3097 6079h9M3910 5889h9M3909 5849h9M3910 5912h9M3950 5916h9M3912 5764h9M3952 5954h9M3942 5746h9M3908 5905h9M3915 5888h9M3921 5805h9M3916 5997h9M3924 5868h9M3903 5874h9M3903 5895h9M3903 6009h9M3930 5862h9M3916 6015h9M3892 6001h9M3892 5967h9M3922 5917h9M3931 5770h9M3937 5841h9M3937 5926h9M3897 5809h9M3924 5968h9M3915 5922h9M3936 5847h9M3954 5768h9M3913 5969h9M3954 5758h9M3934 5931h9M3919 6013h9M3908 5888h9M3923 5896h9M3911 5851h9M3934 5900h9M3928 5895h9M3899 5943h9M3929 5852h9M3937 5893h9M3899 5884h9M3870 5999h9M3907 5964h9M3830 6066h9M3783 6076h9M3779 6075h9M3789 6081h9M3829 6082h9M3831 6066h9M3845 6093h9M3811 6092h9M3812 6047h9M3821 6045h9M3797 6044h9M3824 6033h9M3819 6073h9M3805 6074h9M3858 6091h9M3854 6068h9M3821 6068h9M4934 5964h9M4759 5977h9M4929 5903h9M4774 5918h9M4947 5917h9M4607 6010h9M4923 6050h9M4669 5965h9M4740 5994h9M4776 6152h9M4839 5968h9M4550 5999h9M4959 5964h9M4770 5965h9M4851 5929h9M4662 6030h9M5001 5955h9M5006 5944h9M4942 5891h9M4871 5873h9M4863 5905h9M4903 5909h9M4805 6097h9M4881 5885h9M4933 6029h9M4924 5935h9M4837 6043h9M4854 5924h9M4901 5940h9M4966 5919h9M4932 5975h9M4720 6101h9M4961 5838h9M4705 6036h9M4745 6029h9M4821 6001h9M4843 6000h9M4544 6017h9M4867 5906h9M4987 5858h9M4820 5929h9M4772 5921h9M4648 6063h9M4871 5895h9M4792 6045h9M5004 5919h9M4866 6003h9M4665 5958h9M4806 6017h9M4814 6020h9M4637 5969h9M4741 5945h9M4800 5948h9M4714 6008h9M4613 5989h9M4857 5874h9M4818 5971h9M4573 6065h9M5042 5905h9M4846 6056h9M4578 6037h9M4885 5898h9M4838 5951h9M4940 5875h9M4938 5977h9M4760 5995h9M4691 5925h9M4849 6065h9M4817 5984h9M4734 5993h9M4903 5816h9M4869 5958h9M4823 5935h9M4736 5988h9M3056 6985h9M2995 6718h9M3041 7018h9M2984 6853h9M3023 6827h9M3093 7019h9M3033 6934h9M3043 6936h9M3050 6971h9M3084 6901h9M3058 6993h9M3008 7010h9M3091 6901h9M3041 6912h9M3109 6915h9M3055 6880h9M3062 7027h9M3048 6905h9M3074 6851h9M3058 6921h9M3050 6843h9M3039 6801h9M3105 7000h9M3081 6861h9M2998 6754h9M3022 6899h9M2955 6919h9M3051 6966h9M3039 6898h9M3060 6871h9M2978 6943h9M3103 7039h9M3118 6819h9M3031 6867h9M3079 6950h9M2948 6873h9M2942 6908h9M3038 6989h9M3027 6869h9M3061 6943h9M3068 7005h9M3071 6878h9M3085 6996h9M3019 6893h9M3063 6887h9M3006 6869h9M3024 6876h9M3091 6850h9M3031 6955h9M3062 6844h9M3062 6956h9M3025 6954h9M3033 6849h9M3070 7036h9M3074 6913h9M3043 6780h9M3066 6832h9M3031 6858h9M3080 6898h9M3088 7005h9M3061 6871h9M3015 6801h9M3020 6989h9M3034 6999h9M3054 7005h9M3060 6882h9M3075 7035h9M3073 6902h9M3054 6942h9M3065 6919h9M3041 6936h9M3092 6706h9M3036 6931h9M3073 6961h9M3047 7031h9M3045 6856h9M3054 6859h9M3069 6964h9M3047 6990h9M3131 6912h9M3088 6958h9M2998 6846h9M3027 7018h9M3069 6879h9M3047 6945h9M3083 6879h9M3001 6959h9M3056 6943h9M3011 6857h9M3101 6756h9M3126 7032h9M3067 6991h9M3104 6853h9M3043 6855h9M3003 6760h9M3096 6955h9M3036 6907h9M3055 6827h9M3058 6939h9M3046 6876h9M3052 6983h9M3073 6836h9M3076 6852h9M3041 6946h9M2992 6887h9M3092 6964h9M3050 6978h9M3001 6801h9M3100 6929h9M2987 6972h9M3125 6776h9M3050 6913h9M2977 6977h9M3019 6848h9M3062 6926h9M3096 6896h9M3115 7089h9M3031 6982h9M3045 6982h9M3059 7023h9M3049 6858h9M3003 7011h9M3063 6874h9M3022 6913h9M3106 6871h9M3037 6889h9M3003 7063h9M3057 6857h9M3022 6842h9M3021 6920h9M3052 6954h9M3031 6874h9M3115 6841h9M3057 6925h9M3089 6935h9M3022 6890h9M3026 6883h9M2965 6952h9M3047 6975h9M3076 6941h9M3032 6868h9M3080 6890h9M3053 7005h9M2957 6917h9M3061 6938h9M3017 6948h9M3094 6846h9M3047 6977h9M3059 6956h9M3041 6885h9M3030 6907h9M3008 6887h9M3036 6969h9M3043 6983h9M3045 6907h9M3039 6969h9M3065 6907h9M3031 6977h9M2990 6906h9M3090 6900h9M3032 6822h9M3147 6878h9M3042 7044h9M3061 6890h9M3048 7117h9M3080 6798h9M3004 6869h9M3083 6959h9M3067 7092h9M3086 6957h9M3044 6820h9M3020 6955h9M3075 7011h9M3011 6932h9M3105 6799h9M3040 7011h9M3042 6945h9M3053 6919h9M2992 6892h9M3037 6968h9M3041 7059h9M3032 6862h9M3087 7026h9M3053 6891h9M3054 6957h9M3006 6912h9M3052 7018h9M3075 6948h9M3112 6865h9M3102 6949h9M3063 6986h9M3051 6886h9M3118 6957h9M2992 6842h9M2994 7064h9M3044 6994h9M3001 6982h9M2991 6882h9M3026 6934h9M3039 6833h9M3903 6949h9M3919 6891h9M3899 6850h9M3922 6995h9M3917 6846h9M3923 6836h9M3906 6850h9M3913 6960h9M3888 6897h9M3925 6790h9M3894 7016h9M3911 7006h9M3961 6841h9M3877 6869h9M3854 6999h9M3881 6793h9M3923 6878h9M3932 6878h9M3910 6911h9M3894 6916h9M3936 6972h9M3883 6907h9M3886 6999h9M3979 6635h9M3877 6894h9M3892 6903h9M3934 6821h9M3926 6812h9M3864 6912h9M3902 7007h9M3930 6876h9M3948 6925h9M3940 6928h9M3924 6868h9M3905 7044h9M3926 6857h9M3928 6784h9M3972 6865h9M3873 6935h9M3910 6847h9M3906 7017h9M3918 6789h9M3900 6804h9M3912 6652h9M3951 6812h9M3905 6819h9M3932 6846h9M3924 6915h9M3901 6807h9M3915 6926h9M3869 6920h9M3913 6829h9M3941 6921h9M3908 6851h9M3925 6892h9M3923 6801h9M3910 6793h9M3919 6724h9M3945 6952h9M3925 7004h9M3968 6686h9M3877 6850h9M3901 6980h9M3924 6935h9M3956 6740h9M3951 6820h9M3946 6742h9M3966 6751h9M3920 6955h9M3950 7049h9M3937 6833h9M3954 6811h9M3891 6928h9M3959 6895h9M3896 6826h9M3885 6846h9M3953 6688h9M3918 6919h9M3906 6886h9M3940 6774h9M3920 6818h9M3956 6681h9M3896 6897h9M3942 6796h9M3936 6819h9M3877 6937h9M3895 6941h9M3876 6879h9M3901 6860h9M3928 6859h9M3912 6835h9M3895 6776h9M3924 6955h9M3919 6867h9M3896 7028h9M3963 6837h9M3934 6818h9M3917 6820h9M3897 6751h9M3939 6737h9M3911 6722h9M3920 6806h9M3933 6854h9M3879 6975h9M3882 6890h9M3900 6966h9M3892 6919h9M3906 6847h9M3945 6736h9M3890 6946h9M3945 6802h9M3949 6863h9M3917 6932h9M3921 6931h9M3928 6920h9M3921 6836h9M3936 6760h9M3909 6969h9M3930 6832h9M3945 6933h9M3889 6817h9M3938 6733h9M3975 6700h9M3881 6861h9M3955 6670h9M3905 6676h9M3869 7038h9M3958 6902h9M3932 6783h9M3881 6864h9M3910 6800h9M3936 6754h9M3953 6623h9M3876 6833h9M3917 6887h9M3930 6757h9M3915 6841h9M3899 6830h9M3946 6967h9M3905 6983h9M3913 6800h9M3903 6873h9M3880 6889h9M3887 6883h9M3935 6780h9M3910 6828h9M3925 6836h9M3913 6738h9M3905 6893h9M3898 6889h9M3891 6879h9M3858 6848h9M3940 6771h9M3931 6780h9M3935 6895h9M3909 6861h9M3892 6842h9M3890 6811h9M3937 7025h9M3886 6947h9M3905 6865h9M3934 6822h9M3899 6782h9M3930 6860h9M3915 6760h9M3954 6671h9M3929 6782h9M3945 6736h9M3944 6852h9M3908 6925h9M3949 6946h9M3898 6917h9M3905 6835h9M3895 6955h9M3910 6936h9M3879 6942h9M3914 6799h9M3939 6918h9M3950 6863h9M3893 6780h9M3912 6806h9M3894 7024h9M3932 6933h9M3885 6794h9M3920 6831h9M3929 6757h9M3845 7029h9M3914 6923h9M3839 7038h9M3845 6994h9M3829 6980h9M3824 7046h9M3844 7013h9M3815 7013h9M3798 6996h9M3822 7015h9M3845 6987h9M3849 7022h9M3857 7025h9M3866 7065h9M3825 7002h9M3860 6998h9M3827 6990h9M3916 7008h9M3854 7019h9M3856 6996h9M3841 7002h9M3864 6987h9M3884 7009h9M3807 6980h9M3815 7016h9M3868 7009h9M3899 7028h9M3840 7033h9M3830 7071h9M3861 6927h9M3821 6952h9M3798 7000h9M4599 7090h9M4883 6973h9M4921 6931h9M4759 6995h9M4879 6914h9M4903 6775h9M4696 6875h9M4873 6811h9M4790 6982h9M4811 6880h9M4949 6788h9M4759 6951h9M4896 6878h9M4701 7011h9M4690 6870h9M4858 6771h9M4865 6945h9M4781 6903h9M4797 6854h9M4775 6936h9M4774 6945h9M4732 6937h9M4750 6894h9M4692 6872h9M4709 7003h9M4647 6896h9M4774 6953h9M4753 6827h9M4904 6796h9M4629 6897h9M4917 6866h9M4712 6914h9M4570 6997h9M4897 6891h9M4685 6994h9M4871 6879h9M4872 6950h9M4862 6967h9M4911 6909h9M4736 6923h9M4718 6926h9M4649 6997h9M4788 6856h9M4845 6860h9M4556 7036h9M4754 6791h9M4662 6990h9M4752 6939h9M4815 6963h9M4725 6922h9M4790 6896h9M4695 6985h9M4671 6873h9M4801 6889h9M4827 6849h9M4924 6819h9M4708 7028h9M4910 6884h9M4898 6891h9M4639 6954h9M4837 6837h9M4725 6943h9M4944 6936h9M4695 6970h9M4767 7025h9M4757 6858h9M4854 6945h9M4847 6992h9M4636 7059h9M4829 7033h9M4717 6973h9M4829 6803h9M4655 6840h9M4639 6889h9M4839 6945h9M4605 6879h9M4898 6912h9M4790 6863h9M4712 7022h9M4900 6909h9M4739 6972h9M4605 6954h9M4948 6745h9M4541 7007h9M4803 6990h9M4822 6945h9M4650 6939h9M4737 6909h9M4717 6902h9M4814 6812h9M4589 6931h9M4675 6971h9M4701 6905h9M4748 6957h9M4855 6860h9M4866 6799h9M4715 7017h9M4862 6815h9M4866 6884h9M4727 6945h9M4806 6794h9M4693 6972h9M4551 6985h9M4707 7007h9M4854 6838h9M4788 6914h9M4735 6954h9M4887 6992h9M4729 6832h9M4868 6821h9M4699 6893h9M4775 6982h9M4810 7024h9M4972 6983h9M4809 6889h9M4780 6884h9M4865 6982h9M4848 6964h9M4804 6963h9M4880 6937h9M4817 6882h9M4809 6880h9M4851 6885h9M4641 6963h9M4931 6841h9M4695 6893h9M4906 6843h9M4760 6858h9M4939 6875h9M4785 6849h9M4863 6927h9M4802 6869h9M4875 6875h9M4658 6860h9M4702 6965h9M4932 6805h9M4591 6906h9M4954 6926h9M4650 7048h9M4693 6838h9M4710 6952h9M4679 6994h9M4808 6976h9M4786 6976h9M4754 6892h9M4867 6916h9M4937 6854h9M4695 6879h9M4742 6958h9M4807 6752h9M4611 6976h9M4863 6993h9M4820 6974h9M4683 7077h9M4805 6790h9M4883 6876h9M4731 6917h9M4639 6861h9M4945 6843h9M4597 6921h9M4733 7037h9M4645 7062h9M4942 6969h9M4686 6893h9M4975 6764h9M4947 6781h9M4911 6918h9M4755 6955h9M4924 6919h9M4863 6898h9M4680 6950h9M4751 6920h9M4748 6930h9M4905 6950h9M4660 7039h9M4832 6895h9M4685 6888h9M4752 6910h9M4635 6931h9M4706 6838h9M4677 6933h9M4799 7065h9M4714 6902h9M4750 6901h9M4673 6944h9M4882 6842h9M4717 6993h9M4805 6903h9M4947 6893h9M4702 7018h9M4775 6964h9M4615 7025h9M4722 6989h9M4825 6992h9M4783 7037h9M4628 6979h9M4780 6922h9M4752 6842h9M4820 6849h9M4830 6800h9M4784 6954h9M4675 6906h9M4698 6977h9M4629 6889h9M4807 6860h9M4817 6893h9M4855 6836h9M4604 6919h9M4870 6862h9M4846 6893h9M4701 6914h9M4842 6944h9M4901 6846h9M4768 6884h9M4733 6912h9M4531 6949h9M4736 6940h9M4803 6750h9M4835 6908h9M4806 7006h9M4740 6894h9M4588 7013h9M4925 6910h9M4705 6930h9M4861 6805h9M4866 6817h9M4772 6930h9M4961 6907h9M4829 6854h9M4698 7084h9M4695 6896h9M4881 6860h9M4728 6911h9M4746 6939h9M4824 6929h9" stroke="#111" stroke-width="9" stroke-opacity="0.36" fill="none"/>
<path transform="scale(.1)" d="M447 5154h9M418 5198h9M426 5177h9M419 5185h9M430 5105h9M435 5088h9M436 5306h9M443 5179h9M422 5119h9M461 5156h9M442 5163h9M405 5171h9M487 5139h9M454 5239h9M456 5226h9M430 5215h9M436 5120h9M422 5146h9M438 5236h9M432 5125h9M434 5153h9M415 5111h9M456 5182h9M465 5154h9M448 5169h9M420 5215h9M426 5185h9M436 5087h9M439 5179h9M421 5141h9M427 5142h9M449 5129h9M458 5164h9M405 5185h9M434 5126h9M428 5129h9M411 5027h9M441 5123h9M441 5258h9M422 5078h9M448 5177h9M426 5253h9M442 5178h9M437 5125h9M429 5172h9M429 5152h9M441 5186h9M428 5068h9M437 5159h9M462 5152h9M460 5190h9M475 5090h9M417 5203h9M392 5206h9M441 5246h9M418 5234h9M450 5100h9M420 5162h9M448 5176h9M438 5205h9M458 5140h9M467 5241h9M395 5127h9M442 5199h9M444 5134h9M459 5203h9M452 5030h9M437 5276h9M474 5225h9M380 5290h9M416 5256h9M448 5172h9M432 5099h9M462 5098h9M435 5156h9M453 5132h9M477 5219h9M415 5163h9M435 5249h9M435 5194h9M454 5188h9M445 5103h9M487 5194h9M448 5133h9M420 5181h9M453 5221h9M409 5321h9M419 5295h9M528 5121h9M558 5150h9M531 5119h9M507 5119h9M507 5119h9M546 5077h9M516 5127h9M503 5101h9M478 5101h9M514 5059h9M1242 5243h9M1206 5184h9M1255 5201h9M1217 5204h9M1256 5146h9M1245 5188h9M1248 5156h9M1256 5219h9M1252 5240h9M1223 5208h9M1233 5218h9M1233 5185h9M1227 5210h9M1225 5205h9M1228 5167h9M1239 5251h9M1238 5250h9M1230 5221h9M1231 5248h9M1238 5208h9M1297 5201h9M1254 5219h9M1242 5138h9M1254 5218h9M1289 5273h9M1283 5225h9M1262 5184h9M1250 5222h9M1265 5254h9M1226 5239h9M1294 5196h9M1250 5225h9M1269 5167h9M1234 5187h9M1257 5242h9M1261 5217h9M1238 5161h9M1220 5237h9M1273 5245h9M1266 5134h9M1262 5221h9M1237 5266h9M1236 5238h9M1265 5228h9M1231 5206h9M1282 5224h9M1263 5191h9M1261 5156h9M1260 5224h9M1230 5239h9M1216 5202h9M1245 5221h9M1259 5229h9M1244 5159h9M1239 5148h9M1255 5146h9M1283 5249h9M1256 5231h9M1211 5233h9M1233 5260h9M1219 5207h9M1228 5182h9M1220 5251h9M1259 5202h9M1228 5172h9M1247 5219h9M1265 5256h9M1220 5233h9M1225 5220h9M1231 5160h9M1240 5183h9M1203 5188h9M1285 5238h9M1271 5257h9M1215 5259h9M1242 5215h9M1243 5219h9M1233 5191h9M1235 5252h9M1288 5181h9M1298 5235h9M1237 5220h9M1240 5237h9M1230 5185h9M1258 5234h9M1241 5261h9M1248 5257h9M1251 5175h9M1202 5235h9M1269 5185h9M1283 5216h9M1297 5248h9M1260 5229h9M1229 5302h9M1230 5209h9M1338 5168h9M1298 5073h9M1282 5157h9M1307 5230h9M1285 5159h9M1339 5061h9M1333 5074h9M1305 5095h9M1284 5196h9M2104 5138h9M2103 5192h9M2009 5157h9M2017 5191h9M2062 5189h9M2054 5188h9M2020 5229h9M2065 5262h9M2150 5272h9M2049 5171h9M2066 5133h9M1994 5230h9M1964 5153h9M2046 5197h9M2016 5270h9M2032 5210h9M2011 5086h9M2090 5151h9M2039 5150h9M1965 5124h9M2039 5193h9M2056 5138h9M2022 5104h9M2110 5213h9M2101 5197h9M2109 5267h9M2064 5162h9M2090 5172h9M2068 5202h9M2024 5168h9M2028 5240h9M2046 5196h9M2153 5124h9M2013 5162h9M1982 5134h9M2106 5198h9M1996 5296h9M2060 5178h9M2077 5147h9M2035 5303h9M2009 5308h9M2061 5190h9M2074 5228h9M2033 5224h9M1964 5148h9M1996 5248h9M2072 5222h9M2011 5167h9M2136 5205h9M2117 5048h9M2105 5329h9M2070 5216h9M2021 5280h9M2108 5235h9M2057 5194h9M2038 5229h9M2004 5223h9M1998 5096h9M2059 5146h9M2044 5223h9M2105 5184h9M2087 5168h9M2066 5183h9M2052 5230h9M2144 5108h9M2043 5164h9M2013 5179h9M2027 5137h9M2056 5333h9M2080 5139h9M2068 5299h9M2091 5166h9M2056 5219h9M2045 5318h9M2054 5191h9M2143 5154h9M2151 5202h9M2070 5133h9M2019 5308h9M2042 5253h9M2156 5063h9M2083 5181h9M2158 5097h9M2090 5178h9M2229 5121h9M2081 5103h9M2082 5119h9M2151 5160h9M2108 5116h9M2235 5109h9M2163 5068h9M2163 5176h9M2114 5239h9M2137 5155h9M2164 5028h9M1914 5203h9M2225 5128h9M2143 5199h9M2229 5085h9M2156 5136h9M2167 5134h9M2133 5117h9M2186 5130h9M2187 5108h9M2178 5137h9M2058 5186h9M2226 5122h9M2095 5095h9M2214 5152h9M2194 5232h9M2061 5147h9M2074 5250h9M2139 5268h9M2167 5166h9M2204 5035h9M486 6080h9M460 6101h9M490 6107h9M447 6039h9M435 6118h9M472 6038h9M458 6052h9M479 6037h9M521 6113h9M474 6105h9M548 6111h9M463 6045h9M500 6128h9M474 6214h9M507 6077h9M470 6091h9M428 6081h9M482 6045h9M466 6058h9M441 6093h9M457 6006h9M438 6115h9M482 6008h9M433 6058h9M508 5990h9M489 6118h9M500 6149h9M485 6001h9M484 6048h9M518 6023h9M480 6073h9M491 6052h9M498 6010h9M460 6009h9M494 5984h9M451 5984h9M570 6072h9M456 6001h9M456 5999h9M435 5991h9M507 6086h9M544 6054h9M487 6116h9M478 6058h9M484 6062h9M446 5983h9M443 6066h9M480 6053h9M452 6012h9M422 6106h9M445 6207h9M465 6056h9M466 6080h9M477 6071h9M461 6025h9M482 6191h9M460 6133h9M438 6059h9M456 6086h9M477 6117h9M517 6064h9M479 6072h9M477 5986h9M444 6058h9M443 6094h9M438 6051h9M454 6075h9M502 6146h9M474 6023h9M500 6097h9M432 6157h9M471 6150h9M474 6038h9M450 6022h9M454 5990h9M452 6051h9M469 6031h9M483 6032h9M498 6044h9M463 6084h9M486 6024h9M485 5955h9M476 6103h9M492 6076h9M512 5916h9M446 6055h9M529 6074h9M497 5987h9M474 6109h9M453 5905h9M522 6070h9M426 5988h9M522 6178h9M449 5975h9M505 6073h9M435 5988h9M474 6097h9M454 6058h9M474 6066h9M441 6062h9M514 6098h9M475 6011h9M455 6030h9M511 6042h9M417 6144h9M453 6050h9M425 6081h9M487 6034h9M493 6037h9M509 6050h9M504 6057h9M483 6019h9M420 6060h9M474 6032h9M412 6049h9M459 5978h9M461 5887h9M484 6106h9M505 6177h9M472 5979h9M503 6073h9M428 6082h9M473 6113h9M400 6092h9M475 6057h9M478 6094h9M495 6145h9M456 5994h9M523 6152h9M453 5948h9M481 6163h9M408 6032h9M434 6063h9M492 6020h9M511 5930h9M516 6047h9M485 5995h9M468 5997h9M538 6121h9M490 6096h9M481 6093h9M468 6071h9M465 6047h9M504 6084h9M509 6106h9M516 5999h9M476 6071h9M540 5999h9M454 6200h9M477 5922h9M487 6076h9M502 5874h9M479 6066h9M505 6106h9M492 6024h9M1331 5898h9M1330 5918h9M1347 5931h9M1340 5944h9M1338 5873h9M1310 5952h9M1348 5947h9M1362 5872h9M1280 6013h9M1327 6013h9M1349 5849h9M1346 5998h9M1337 5833h9M1298 5861h9M1309 5979h9M1322 5958h9M1316 5966h9M1352 5884h9M1327 6038h9M1308 5985h9M1303 5995h9M1321 5884h9M1314 5887h9M1335 5913h9M1339 6004h9M1357 5925h9M1319 5922h9M1362 6002h9M1366 5967h9M1315 5982h9M1300 5865h9M1344 5984h9M1333 5894h9M1330 5972h9M1347 6043h9M1314 5971h9M1334 5998h9M1307 6015h9M1355 5930h9M1330 6076h9M1296 5960h9M1327 5897h9M1279 5998h9M1326 5920h9M1347 5816h9M1332 5800h9M1320 6000h9M1305 5996h9M1302 5816h9M1325 5922h9M1349 5894h9M1338 5798h9M1332 5806h9M1318 5983h9M1349 5841h9M1337 5862h9M1348 5867h9M1329 5870h9M1353 5909h9M1293 5891h9M1337 5922h9M1326 5928h9M1330 5886h9M1336 5883h9M1336 5859h9M1265 6087h9M1241 6118h9M1249 6091h9M1273 6050h9M1243 6105h9M1243 6044h9M1282 6110h9M1241 6086h9M1270 6118h9M1255 6108h9M1248 6090h9M1210 6065h9M1268 6084h9M1234 6106h9M1290 6116h9M1249 6121h9M1270 6084h9M1262 6156h9M1224 6087h9M1309 6064h9M1203 6095h9M1250 6069h9M1284 6086h9M1240 6146h9M1259 6065h9M1251 6118h9M1288 6097h9M1222 6102h9M1203 6075h9M1283 6132h9M1258 6057h9M1258 6108h9M1252 6100h9M1293 6090h9M1250 6087h9M1247 6119h9M1228 6096h9M1303 6067h9M1266 6061h9M1253 6116h9M1311 6124h9M1226 6119h9M1239 6084h9M1257 6058h9M1214 6065h9M1247 6064h9M1213 6112h9M1245 6124h9M1259 6106h9M1205 6096h9M1253 6129h9M1192 6096h9M1291 6088h9M1271 6128h9M1260 6100h9M1310 6131h9M1232 6085h9M1314 6139h9M1292 6137h9M1277 6075h9M1263 6040h9M1247 6093h9M1232 6143h9M1262 6107h9M1271 6104h9M2041 6080h9M2026 6075h9M2042 6041h9M2025 6003h9M2048 6083h9M2046 6163h9M2068 6089h9M2000 5980h9M2056 6022h9M2073 6083h9M2075 6046h9M2059 6089h9M2052 6037h9M2090 6076h9M2065 5981h9M2040 6129h9M2075 6117h9M2047 6077h9M2044 6077h9M2051 6127h9M2074 6103h9M2074 5957h9M2045 6094h9M2048 6016h9M2061 6134h9M2063 6047h9M2066 6019h9M2055 6061h9M2038 6116h9M2091 6016h9M2052 6057h9M2079 6071h9M2020 6061h9M2063 6052h9M2038 6032h9M2026 5970h9M1980 6052h9M2029 5991h9M2105 6079h9M2040 6154h9M2086 6010h9M2033 6083h9M2070 6065h9M2045 6099h9M2064 6092h9M2073 6053h9M2062 6092h9M2043 6010h9M2044 6145h9M2067 6049h9M2063 6106h9M2046 6041h9M2072 6046h9M2018 5998h9M2054 5978h9M2059 6044h9M2103 5950h9M2077 5974h9M2069 6040h9M2086 6082h9M2015 6068h9M2095 6079h9M2083 6028h9M1997 6096h9M2023 6034h9M2054 6044h9M2031 6156h9M2093 6068h9M2055 6057h9M2078 6025h9M2011 6098h9M2069 6003h9M2026 6089h9M2055 6063h9M2092 6130h9M2307 5972h9M2406 5798h9M2168 6057h9M2340 5914h9M2196 5969h9M2269 5966h9M2016 6049h9M2084 6015h9M2129 5921h9M2271 6070h9M2171 6059h9M2287 5969h9M2212 5961h9M2288 5910h9M2105 5999h9M2084 6030h9M2230 5999h9M2212 5973h9M2340 5937h9M2331 6011h9M2399 5968h9M2272 5991h9M2302 6004h9M2350 6062h9M2252 6036h9M2110 6030h9M2202 5966h9M2198 6011h9M2293 5922h9M2375 5961h9M2059 6049h9M2209 6049h9M2299 6009h9M2129 6024h9M2201 6030h9M2056 6047h9M2093 6090h9M2226 5901h9M2143 5950h9M2336 5883h9M2210 5961h9M2110 6039h9M2072 6069h9M2295 5782h9M2215 5899h9M1995 6073h9M2247 5947h9M2188 5937h9M2272 6008h9M2190 5982h9M2255 5891h9M2277 5940h9M2177 5945h9M2302 5961h9M2259 5966h9M2218 5946h9M2187 5965h9M2093 6066h9M2239 5988h9M2250 5951h9M2216 6050h9M2279 5993h9M2163 6070h9M2229 5888h9M2131 5970h9M2319 5949h9M2209 5998h9M2218 5853h9M2160 5947h9M2225 5881h9M1975 6029h9M2200 5963h9M2121 6007h9M2337 6058h9M2104 5927h9M2131 5992h9M2280 5971h9M2310 6035h9M2293 5978h9M2394 5874h9M2119 5999h9M2228 5921h9M2263 6016h9M2171 5993h9M2410 5882h9M2352 5803h9M2198 5931h9M2082 6101h9M2247 5922h9M2043 5978h9M2020 6041h9M2383 5905h9M2277 5957h9M2075 6029h9M2210 5981h9M2169 6000h9M2243 5885h9M471 7084h9M461 6856h9M559 6917h9M509 6999h9M452 6866h9M478 6992h9M504 7016h9M475 6915h9M508 6840h9M481 6957h9M491 6920h9M480 7035h9M521 6898h9M510 6919h9M551 6846h9M483 6990h9M512 6969h9M568 6931h9M495 6871h9M472 6844h9M458 6786h9M498 6919h9M520 6955h9M507 6986h9M491 7019h9M540 6995h9M459 6924h9M486 6919h9M479 7032h9M441 6855h9M544 6887h9M549 7064h9M514 6843h9M518 7026h9M476 6914h9M465 6976h9M481 6935h9M545 6894h9M534 6896h9M493 6905h9M486 6959h9M464 6940h9M539 6916h9M526 7013h9M525 6885h9M503 6986h9M448 6962h9M465 6931h9M496 6936h9M447 6968h9M468 6849h9M484 6950h9M530 6911h9M517 6886h9M514 6936h9M519 6744h9M485 6886h9M488 7019h9M503 6902h9M493 6904h9M548 6752h9M526 6943h9M506 6929h9M475 6946h9M517 6970h9M472 6973h9M457 6916h9M492 6948h9M522 6832h9M501 7008h9M478 6980h9M543 6945h9M504 6907h9M474 6873h9M538 6873h9M511 6855h9M509 6918h9M494 6939h9M465 7008h9M509 6963h9M517 6847h9M491 6857h9M527 6896h9M444 6942h9M505 7026h9M490 6899h9M565 6970h9M528 6950h9M490 6889h9M491 6940h9M488 6977h9M515 6933h9M488 6972h9M520 6887h9M484 6951h9M502 6950h9M481 6882h9M445 6910h9M550 7005h9M532 6929h9M488 6958h9M570 6970h9M478 6980h9M533 6943h9M508 7000h9M519 6996h9M510 6855h9M419 6985h9M541 6976h9M473 6985h9M488 6895h9M499 7027h9M506 7062h9M513 6940h9M541 6876h9M531 6949h9M490 7005h9M496 7008h9M538 6883h9M477 6938h9M532 6850h9M518 6951h9M506 6891h9M549 6847h9M504 6968h9M453 6948h9M515 6893h9M519 6959h9M520 6977h9M521 6899h9M501 6822h9M464 6943h9M513 6940h9M486 6864h9M584 6986h9M532 6974h9M474 6833h9M491 6931h9M519 6950h9M523 7043h9M507 6955h9M527 6903h9M564 6938h9M570 6859h9M543 6939h9M567 7026h9M481 7044h9M523 6949h9M512 7032h9M497 6996h9M507 6941h9M560 6886h9M511 6885h9M545 7027h9M493 7005h9M504 6920h9M520 6949h9M514 6924h9M518 6997h9M531 6901h9M480 6931h9M524 6889h9M508 6892h9M470 7059h9M543 6843h9M496 6919h9M523 6894h9M571 7000h9M488 6816h9M508 6878h9M482 6900h9M514 7087h9M476 6994h9M506 6905h9M481 6908h9M531 6921h9M531 6910h9M494 6873h9M484 6982h9M545 6982h9M491 6936h9M509 6967h9M493 6850h9M525 6916h9M508 7029h9M513 6951h9M486 6944h9M473 6920h9M487 6940h9M552 6935h9M515 6919h9M481 6909h9M493 7023h9M582 7115h9M489 6854h9M489 7045h9M502 7009h9M509 6957h9M482 6896h9M491 6906h9M528 6974h9M486 6998h9M513 7008h9M460 6835h9M474 6921h9M457 6878h9M502 6988h9M522 6969h9M431 7008h9M527 6891h9M504 6891h9M516 6869h9M514 6925h9M1275 6898h9M1308 6804h9M1298 6809h9M1334 6790h9M1343 6805h9M1302 6814h9M1300 6879h9M1308 6691h9M1312 6939h9M1311 6948h9M1331 6859h9M1334 6885h9M1340 6816h9M1347 6947h9M1324 6866h9M1345 6792h9M1319 6859h9M1342 6661h9M1330 6831h9M1322 6852h9M1325 6591h9M1345 6953h9M1339 6960h9M1330 6802h9M1305 6907h9M1369 6849h9M1325 6966h9M1297 6864h9M1300 6901h9M1357 6779h9M1262 6991h9M1304 6703h9M1358 6831h9M1371 6745h9M1301 6879h9M1266 6711h9M1304 6804h9M1315 6832h9M1275 6731h9M1310 6883h9M1284 6865h9M1310 6738h9M1332 6716h9M1379 6896h9M1297 6810h9M1338 6707h9M1321 6971h9M1299 6813h9M1313 6823h9M1314 6831h9M1356 6792h9M1327 6834h9M1344 6805h9M1378 6835h9M1335 6597h9M1302 6864h9M1355 6680h9M1319 6986h9M1303 6783h9M1343 6796h9M1332 6874h9M1303 6856h9M1311 6901h9M1346 6821h9M1317 6759h9M1287 6877h9M1323 6711h9M1344 6691h9M1307 6758h9M1319 6655h9M1283 6923h9M1339 6786h9M1335 6763h9M1329 6810h9M1307 6829h9M1344 6775h9M1314 6925h9M1315 6817h9M1310 6858h9M1328 6800h9M1318 6760h9M1320 6777h9M1344 6861h9M1331 6672h9M1346 6804h9M1296 6851h9M1341 6763h9M1325 6892h9M1328 6957h9M1331 6778h9M1327 6708h9M1287 6696h9M1307 6731h9M1339 6798h9M1331 6897h9M1281 6871h9M1328 6780h9M1321 6732h9M1312 6857h9M1344 6894h9M1272 6900h9M1276 6903h9M1309 6923h9M1322 6968h9M1363 6745h9M1328 6889h9M1342 6925h9M1372 6878h9M1326 6916h9M1325 6772h9M1309 6924h9M1328 6939h9M1329 6848h9M1332 6896h9M1334 6876h9M1321 6996h9M1305 6703h9M1327 6978h9M1338 6862h9M1323 6915h9M1343 6961h9M1297 6883h9M1351 6831h9M1323 6931h9M1311 6879h9M1337 6856h9M1354 6685h9M1313 6645h9M1301 6913h9M1352 6786h9M1299 6878h9M1333 7006h9M1293 6990h9M1280 6852h9M1335 6801h9M1333 6804h9M1309 6888h9M1296 6949h9M1310 6808h9M1273 6771h9M1330 6656h9M1290 6945h9M1339 6884h9M1271 6922h9M1313 6738h9M1281 6784h9M1340 7060h9M1313 6936h9M1306 6670h9M1323 6902h9M1322 6823h9M1328 6949h9M1301 7020h9M1348 6916h9M1324 6780h9M1255 6883h9M1334 6880h9M1306 6925h9M1375 6833h9M1325 6844h9M1367 6828h9M1295 6688h9M1275 6967h9M1304 6849h9M1319 7008h9M1291 6955h9M1313 6779h9M1279 7012h9M1303 6683h9M1347 6725h9M1313 6880h9M1336 6835h9M1307 6975h9M1326 6720h9M1307 6664h9M1285 6759h9M1282 6944h9M1348 6925h9M1239 6881h9M1319 6851h9M1369 6710h9M1352 6880h9M1284 6855h9M1309 6828h9M1320 6954h9M1304 6774h9M1300 6882h9M1320 6859h9M1264 6908h9M1282 6894h9M1305 7039h9M1294 6904h9M1333 6912h9M1337 6961h9M1319 6857h9M1305 6790h9M1293 6915h9M1267 6976h9M1294 6888h9M1326 7011h9M1318 6872h9M1260 7013h9M1308 6783h9M1298 6960h9M1344 6931h9M1308 6869h9M1314 6913h9M1306 6859h9M1330 6845h9M1282 7060h9M1283 6845h9M1345 6817h9M1251 6989h9M1323 6818h9M1297 6825h9M1332 6860h9M1358 6766h9M1385 6871h9M1324 6957h9M1319 6900h9M1344 6829h9M1384 6756h9M1379 6777h9M1306 6754h9M1222 6993h9M1270 7100h9M1279 7073h9M1236 7054h9M1281 7081h9M1261 7042h9M1275 7057h9M1219 7004h9M1242 7023h9M1257 6942h9M1243 7051h9M1249 7008h9M1221 7038h9M1291 7001h9M1223 7026h9M1219 7076h9M1216 7012h9M1253 7037h9M1239 7005h9M1280 7046h9M1298 7040h9M1255 7104h9M1223 7070h9M1244 7057h9M1286 7033h9M1257 7044h9M1264 7052h9M1261 6956h9M1231 7039h9M1267 6998h9M1295 7000h9M1285 7057h9M1287 7088h9M1246 7061h9M1229 7052h9M1325 6951h9M1295 7043h9M1277 6965h9M2280 6891h9M2352 6973h9M2004 7042h9M2406 6987h9M2275 6904h9M2032 7133h9M2245 6933h9M2310 6954h9M2271 6922h9M2226 6991h9M2220 6938h9M2284 6888h9M2161 6829h9M2199 6943h9M1959 7101h9M2124 6889h9M2195 6938h9M2068 7146h9M2392 6901h9M2158 6938h9M2264 7017h9M2250 6941h9M2256 6956h9M2367 6939h9M2313 6877h9M2158 7053h9M2345 6817h9M2119 6959h9M2131 7003h9M2307 6870h9M2317 6914h9M2144 6917h9M2255 6876h9M2112 7080h9M2393 6926h9M2312 6862h9M2113 6956h9M2256 6981h9M2034 7005h9M2163 6957h9M2113 6941h9M2187 7042h9M2067 7023h9M2041 7073h9M2135 6937h9M2445 6834h9M2210 6901h9M2161 6976h9M2030 6978h9M2099 7072h9M2060 7034h9M2312 6928h9M1979 6951h9M2312 6860h9M2291 6833h9M2224 6957h9M2005 7043h9M2240 6804h9M2121 6939h9M2149 6999h9M2193 6998h9M2143 6954h9M2112 6948h9M2300 6921h9M2251 6912h9M2251 6923h9M2189 6946h9M2355 6874h9M1986 7055h9M2352 6823h9M2200 6990h9M2167 7023h9M2115 7021h9M2168 7077h9M2226 6910h9M2190 6882h9M2167 6929h9M2359 6980h9M2173 7007h9M2087 6962h9M2140 6941h9M2087 6895h9M2233 6911h9M2079 7028h9M2033 6972h9M2320 6893h9M2284 6866h9M2075 7124h9M2210 6976h9M2255 6941h9M2158 6883h9M2305 6924h9M2215 6855h9M2284 6910h9M2368 6948h9M2033 6980h9M2168 6941h9M2193 6900h9M2315 6900h9M2236 6926h9M2091 7004h9M2156 6951h9M2267 6963h9M2124 6955h9M2058 6951h9M2333 6862h9M1981 7010h9M2332 6924h9M2211 7083h9M2221 7028h9M2111 6904h9M2314 6855h9M2188 6966h9M2174 6919h9M2301 6917h9M2035 7028h9M2227 6869h9M2155 6937h9M2247 6879h9M2192 7000h9M2274 6883h9M2278 6929h9M2254 6944h9M2225 7037h9M2064 7008h9M2115 7035h9M2263 6926h9M2245 6900h9M2152 6967h9M2169 6898h9M2154 6998h9M1974 6936h9M2445 6945h9M2196 6917h9M2136 6965h9M2303 6919h9M2283 6895h9M2201 6807h9M2144 6968h9M2324 6848h9M2298 7021h9M2354 6777h9M2078 6887h9M2199 6966h9M2307 6889h9M2280 6893h9M2195 6973h9M2214 6890h9M2310 6881h9M2307 6940h9M2203 6919h9M2340 6891h9M2232 6853h9M2191 6957h9M2081 7041h9M2164 6933h9M2118 6913h9M2126 6978h9M2183 7011h9M2246 6956h9M2266 6864h9M2095 6970h9M2287 6838h9M2385 6779h9M2155 6852h9M2140 7037h9M2210 7063h9M2443 6891h9M2127 7094h9M2184 6873h9M2267 6858h9M2040 6987h9M2312 6899h9M2217 6833h9M2216 6912h9M2299 6885h9M2200 7055h9M2090 7071h9M2216 6960h9M2079 7033h9M2148 6962h9M2208 6887h9M2131 6924h9M2143 6919h9M2271 6827h9M2324 6830h9M2149 7008h9M2314 6884h9M2151 6934h9M2223 6988h9M2189 6930h9M2098 7024h9M2162 6862h9M2333 6823h9M2288 6897h9M2067 6845h9M2102 6889h9M2154 7001h9M2199 7080h9M2133 6939h9M2161 6957h9M2233 6921h9M2192 6855h9M2271 6822h9M2138 6977h9M2207 7045h9M2078 6923h9M2195 6967h9M2306 6923h9M2205 6978h9M2161 7105h9M2108 6956h9M2010 7011h9M2211 7000h9M2199 6950h9M2113 7042h9M2200 6964h9M2232 6862h9M2139 7078h9M1988 6997h9M2290 6866h9M2255 6758h9M2201 6965h9M2108 6964h9M2109 6999h9M2031 6984h9M2062 6984h9M2039 7043h9M2074 7022h9M2092 6919h9M2044 6924h9M2104 6977h9M2090 7018h9M2064 6936h9M2042 6945h9M2068 6978h9M2090 6989h9M2027 6962h9M2044 6965h9M2082 7024h9M2040 6945h9M1995 6922h9M2129 6964h9M2027 6999h9M2052 6983h9M2119 6969h9M2087 6989h9M2084 6984h9M2013 6999h9M2110 6967h9M2024 7006h9M2002 6979h9M2056 6942h9M2026 6970h9M1991 6985h9M2030 6916h9M2029 6999h9M2085 6969h9M2069 7035h9M2048 7027h9M3066 5123h9M3091 5094h9M3028 5197h9M2997 5173h9M3121 5265h9M3016 5235h9M3024 5223h9M3006 5228h9M3099 5347h9M3094 5185h9M3048 5136h9M2989 5159h9M3031 5261h9M3036 5030h9M3077 5293h9M2982 5066h9M3030 5167h9M2999 5205h9M3084 5137h9M3031 5046h9M2998 5212h9M3001 5229h9M3046 5185h9M3012 5173h9M3036 5176h9M3113 5025h9M2912 5325h9M2963 5181h9M3027 5183h9M3041 5078h9M3048 5126h9M3066 5280h9M3064 5210h9M3098 5211h9M3040 5130h9M3043 5204h9M3006 5201h9M3027 5160h9M3049 5240h9M2953 5209h9M3008 5167h9M3130 5163h9M3008 5192h9M3050 5258h9M2985 5048h9M3092 5079h9M3096 4977h9M3876 4867h9M3901 4992h9M3924 5161h9M3894 5111h9M3900 5068h9M3947 4923h9M3915 5080h9M3892 5013h9M3899 5103h9M3906 5005h9M3901 5153h9M3912 4967h9M3920 5092h9M3915 4924h9M3902 5078h9M3921 5044h9M3929 4935h9M3868 5085h9M3886 4971h9M3866 5111h9M3898 5130h9M3917 5074h9M3893 5015h9M3904 5098h9M3914 5035h9M3914 5058h9M3891 5030h9M3914 4912h9M3909 5114h9M3930 4999h9M3871 4998h9M3873 5179h9M3771 5232h9M3825 5148h9M3836 5272h9M3874 5237h9M3849 5189h9M3833 5224h9M3856 5215h9M3813 5228h9M3824 5273h9M3845 5215h9M3854 5202h9M3847 5245h9M3836 5223h9M3854 5175h9M3843 5228h9M3850 5185h9M3844 5255h9M3890 5224h9M3864 5237h9M3877 5192h9M4748 5136h9M4759 5251h9M4817 5185h9M4590 5213h9M4889 5177h9M4897 5205h9M4742 5115h9M4797 5140h9M4558 5069h9M4705 5209h9M4620 5153h9M4971 4973h9M4742 5135h9M4776 5164h9M4679 5215h9M5053 5075h9M4894 5049h9M4873 5115h9M4887 5088h9M4634 5118h9M4741 5078h9M4786 5162h9M4912 5066h9M4734 5227h9M4858 5194h9M4616 5131h9M4830 5169h9M4838 5117h9M4748 5149h9M4811 5213h9M4992 5237h9M4658 5167h9M4876 5162h9M4891 5065h9M4690 5143h9M4681 5190h9M4730 5123h9M4767 5189h9M4798 5229h9M4803 5205h9M4746 5200h9M5023 5066h9M4729 4966h9M4780 5205h9M4666 5116h9M4647 5192h9M4926 5100h9M4845 5126h9M4734 5161h9M4806 5224h9M4827 5095h9M4789 5260h9M4800 5255h9M4823 5195h9M4771 5052h9M4752 5165h9M4851 5087h9M4710 5173h9M4730 5110h9M4614 5267h9M4744 5103h9M4798 5106h9M4822 5141h9M2998 6138h9M3018 5975h9M2938 6094h9M3079 6023h9M3041 6045h9M3063 6000h9M3064 6041h9M3018 6023h9M2968 6055h9M3021 6043h9M3098 6033h9M3043 5992h9M3037 6127h9M3067 6196h9M3017 5987h9M3102 5916h9M2976 5958h9M3108 5949h9M3106 6028h9M2984 6039h9M3049 6060h9M3129 6161h9M3094 6125h9M3065 6033h9M2984 6108h9M3097 6101h9M3035 6184h9M3074 6132h9M3074 5991h9M3084 6076h9M3026 6228h9M3085 6023h9M3052 5931h9M3044 6097h9M3014 6046h9M3098 6096h9M3041 5990h9M3055 6126h9M3039 6104h9M3003 5942h9M3007 6064h9M3078 5990h9M3064 6026h9M3015 5914h9M3125 6028h9M3046 5955h9M3081 6109h9M3066 6139h9M3881 6083h9M3906 5891h9M3879 5920h9M3913 5819h9M3888 6039h9M3904 5907h9M3922 5948h9M3908 5967h9M3911 5919h9M3885 6000h9M3881 6119h9M3946 5910h9M3902 5942h9M3857 5947h9M3944 5771h9M3893 6008h9M3898 5994h9M3909 5879h9M3906 5986h9M3925 5872h9M3939 5958h9M3929 5832h9M3924 5926h9M3892 6089h9M3910 5804h9M3936 5932h9M3930 5872h9M3933 5709h9M3909 6069h9M3922 5956h9M3943 5762h9M3866 5872h9M3958 5783h9M3983 5711h9M3910 5854h9M3897 5942h9M3923 5844h9M3896 5933h9M3932 5866h9M3886 6028h9M3929 5890h9M3925 5815h9M3860 5980h9M3844 6049h9M3822 6063h9M3806 6069h9M3817 6042h9M3764 6098h9M3836 6064h9M3785 6071h9M3860 6059h9M3832 6123h9M3820 6063h9M3835 6061h9M3811 6081h9M3871 6064h9M3794 6065h9M3828 6077h9M3804 6125h9M3811 6083h9M4708 5995h9M5054 5944h9M5005 5844h9M4822 5898h9M4988 5787h9M4831 5967h9M4810 6027h9M4802 5866h9M4773 5939h9M4673 6017h9M4840 5999h9M4628 6059h9M4794 5979h9M4892 5889h9M4838 6028h9M4977 5970h9M4653 6040h9M4702 5981h9M4737 5984h9M4802 6016h9M4809 5875h9M4829 5946h9M4734 5852h9M4698 5977h9M4844 5950h9M4817 5896h9M5003 5978h9M4896 5976h9M4847 6012h9M4854 6077h9M4825 5942h9M4801 6088h9M5018 5910h9M4694 6106h9M4761 5997h9M4841 6029h9M4626 6070h9M4812 6124h9M4867 6108h9M4979 5850h9M4720 6180h9M4622 5969h9M4883 5807h9M4822 5993h9M4821 6000h9M4738 6063h9M4567 6016h9M4725 6047h9M4775 6044h9M4734 6055h9M4628 6021h9M4947 5947h9M4980 5974h9M4860 6038h9M4823 5904h9M4734 6024h9M4788 5887h9M4853 5951h9M4727 5922h9M4935 5893h9M4879 6104h9M4652 5974h9M4869 6076h9M4694 5984h9M4775 6007h9M4846 5986h9M4914 5931h9M4713 6043h9M4784 5972h9M4824 5838h9M4842 5948h9M4848 6003h9M4764 6068h9M3039 7034h9M3104 6900h9M3050 6792h9M3057 6890h9M3103 6888h9M3043 6881h9M3047 6957h9M3080 7019h9M3002 6936h9M3059 6916h9M3041 6932h9M3098 6814h9M2984 6813h9M3055 6912h9M3036 7002h9M3061 6973h9M3088 6845h9M3059 6893h9M3048 6905h9M3062 6957h9M3035 6913h9M3026 6943h9M3075 6938h9M3023 6929h9M3047 6911h9M3060 6907h9M3014 6922h9M3129 6880h9M3044 6935h9M3078 7010h9M3049 6920h9M3059 6958h9M3064 6874h9M3011 7000h9M3067 6929h9M3026 6920h9M2965 6843h9M3030 6995h9M3077 6988h9M3055 6965h9M3041 6813h9M3039 7020h9M3027 6905h9M3078 7008h9M3071 7003h9M3094 6911h9M3027 6812h9M3004 6922h9M3100 6843h9M3045 6965h9M3039 6906h9M3049 6887h9M3058 6953h9M2969 6965h9M3077 6942h9M3033 6971h9M3082 6962h9M3021 6817h9M3035 6894h9M3058 6887h9M3064 6914h9M3077 6941h9M3027 6804h9M3076 6880h9M3104 6781h9M2999 6900h9M3053 6871h9M3036 6885h9M3059 6791h9M3040 6975h9M3090 6969h9M3043 6861h9M3053 6975h9M3124 6912h9M3080 6768h9M3018 6962h9M3016 6983h9M3053 6910h9M3040 6880h9M3084 6857h9M3054 6811h9M2983 6906h9M3109 6971h9M3017 6953h9M3090 6896h9M2986 6933h9M3033 7019h9M2967 6905h9M3095 6941h9M2999 6978h9M3013 6896h9M3047 6918h9M3022 6940h9M3046 6932h9M3035 6970h9M3101 6900h9M3093 6922h9M3000 7014h9M3041 6874h9M3005 6973h9M3017 6832h9M3032 6887h9M3008 6907h9M3039 7011h9M3049 6850h9M2982 6922h9M3059 6873h9M3032 6925h9M3049 6896h9M3065 6856h9M3003 7012h9M3046 6899h9M3011 6898h9M3015 6970h9M3010 6910h9M3055 6971h9M3060 6957h9M3059 6932h9M3020 7058h9M3042 6868h9M3082 6868h9M3028 6923h9M3003 6876h9M3133 6974h9M3094 6859h9M3041 6925h9M3028 6844h9M3108 7015h9M3014 7052h9M3021 6912h9M3021 6972h9M3085 6894h9M3097 6965h9M3028 6995h9M2983 6976h9M3031 6970h9M3072 6852h9M3026 6877h9M3007 6838h9M3053 6968h9M3080 6822h9M3060 6893h9M3048 6771h9M3042 6900h9M3084 6821h9M3073 6925h9M3064 7075h9M3084 6998h9M2967 6927h9M3103 7035h9M3047 6888h9M3058 6921h9M3037 7044h9M3009 6841h9M3094 6879h9M3007 6919h9M3038 7028h9M3085 7034h9M3092 6901h9M3063 6985h9M3003 6952h9M3044 6946h9M2996 6861h9M3070 6941h9M3053 6888h9M3027 6983h9M3035 6963h9M3023 6878h9M3042 6784h9M3082 6922h9M3061 7072h9M2987 6795h9M3067 6860h9M3059 6875h9M3061 7015h9M3112 6862h9M3011 7037h9M3032 7031h9M3029 6906h9M3077 6883h9M3148 6990h9M3075 6804h9M3009 6942h9M3025 6945h9M3050 6875h9M3033 6963h9M3090 6863h9M3064 6869h9M3044 6810h9M3095 6869h9M3049 6871h9M3105 6912h9M3119 6924h9M3044 6938h9M3075 6963h9M3058 6978h9M3085 6969h9M3035 6945h9M3039 6946h9M3062 7020h9M3891 6834h9M3894 6945h9M3982 6721h9M3914 6786h9M3894 6811h9M3913 6830h9M3889 6958h9M3901 6805h9M3930 6961h9M3892 7016h9M3891 6899h9M3894 6925h9M3946 6820h9M3958 6708h9M3905 6761h9M3909 6848h9M3909 6940h9M3881 6854h9M3932 6996h9M3888 6870h9M3901 6911h9M3936 6725h9M3960 6750h9M3963 6972h9M3911 6751h9M3914 6880h9M3917 6890h9M3948 6780h9M3915 6750h9M3897 6950h9M3890 6923h9M3879 6845h9M3899 6811h9M3937 6661h9M3913 6916h9M3930 6801h9M3945 6872h9M3903 6981h9M3905 6911h9M3950 6702h9M3912 6938h9M3942 6932h9M3916 6825h9M3933 6854h9M3947 6836h9M3912 6837h9M3957 6730h9M3903 6848h9M3963 6750h9M3894 6934h9M3900 6864h9M3935 6896h9M3870 6877h9M3901 6907h9M3945 6775h9M3905 6972h9M3964 6756h9M3924 6850h9M3901 6878h9M3912 6787h9M3867 6760h9M3971 6708h9M3946 6712h9M3953 6742h9M3886 6904h9M3912 6832h9M3886 6781h9M3850 6959h9M3832 6979h9M3862 6899h9M3890 6964h9M3904 6960h9M3912 6760h9M3948 6793h9M3899 6989h9M3914 6953h9M3890 6995h9M3921 6602h9M3894 6853h9M3969 6683h9M3875 7034h9M3892 6859h9M3902 6870h9M3854 6764h9M3903 6992h9M3871 7002h9M3948 6895h9M3901 7019h9M3945 6724h9M3874 6921h9M3922 6803h9M3904 6981h9M3911 6986h9M3942 6754h9M3904 6826h9M3928 6875h9M3925 6671h9M3915 6832h9M3897 6929h9M3935 6935h9M3878 6936h9M3927 6823h9M3964 6731h9M3944 6846h9M3947 6944h9M3911 6843h9M3929 6852h9M3938 6813h9M3926 6891h9M3900 6826h9M3910 6875h9M3914 6876h9M3933 6755h9M3884 6870h9M3911 6762h9M3923 6914h9M3936 6816h9M3924 6868h9M3944 6782h9M3905 6981h9M3892 6872h9M3906 6818h9M3896 6903h9M3890 7014h9M3933 6867h9M3957 6841h9M3912 7032h9M3926 6881h9M3886 6826h9M3901 6887h9M3882 6970h9M3939 6839h9M3935 6912h9M3924 6943h9M3892 6933h9M3938 6822h9M3911 6744h9M3945 6782h9M3949 6801h9M3915 6727h9M3859 6985h9M3907 6909h9M3926 6681h9M3908 6894h9M3916 6732h9M3914 6864h9M3922 6718h9M3854 7005h9M3879 6950h9M3911 6869h9M3911 6841h9M3888 7001h9M3899 6975h9M3916 6872h9M3868 6901h9M3928 6804h9M3942 6855h9M3920 7047h9M3933 6773h9M3891 6931h9M3889 6885h9M3944 6804h9M3929 6851h9M3865 6776h9M3875 6925h9M3907 6996h9M3917 6889h9M3901 6836h9M3912 6825h9M3952 6908h9M3899 6750h9M3921 6781h9M3994 6693h9M3888 6876h9M3877 7010h9M3888 6941h9M3906 6898h9M3929 6861h9M3899 6876h9M3926 6856h9M3898 6951h9M3969 6806h9M3921 6741h9M3950 6885h9M3864 6923h9M3906 6840h9M3903 6801h9M3911 7025h9M3821 6945h9M3848 7041h9M3829 6969h9M3852 7021h9M3861 7014h9M3885 6978h9M3844 7042h9M3819 7069h9M3813 6975h9M3872 6993h9M3831 7014h9M3819 7000h9M3861 7015h9M3817 6970h9M3847 7032h9M3856 7025h9M3832 7002h9M3856 6981h9M3829 7047h9M3882 7004h9M3902 6979h9M3825 7040h9M3868 6993h9M3839 6987h9M3848 6952h9M3858 7086h9M3838 6999h9M3855 6968h9M3833 7037h9M4823 6957h9M4776 7039h9M4802 7099h9M4752 6945h9M4831 6849h9M4653 6989h9M4915 6801h9M4801 6869h9M4795 6915h9M4957 6811h9M4782 6891h9M4649 6934h9M4881 6893h9M4612 6915h9M4873 6955h9M4580 7060h9M4785 6841h9M4910 6817h9M4857 6937h9M4905 6919h9M4690 6966h9M4710 6999h9M4793 6939h9M4910 6879h9M4693 6913h9M4581 6923h9M4797 6913h9M4617 6907h9M4600 7022h9M4801 6868h9M4741 6920h9M4798 6945h9M4896 6863h9M4645 6957h9M4690 7027h9M4725 6943h9M4691 6976h9M4819 6871h9M4756 6884h9M4702 6784h9M4561 7048h9M4608 7004h9M4816 6982h9M4761 6963h9M4909 6830h9M4907 6888h9M4793 6906h9M4836 6932h9M4540 6923h9M4680 6954h9M4793 6923h9M4689 7003h9M4796 6956h9M4726 6947h9M4863 7045h9M4785 6907h9M4540 7049h9M4744 6978h9M4756 7052h9M4675 7055h9M4748 6890h9M4762 6992h9M4919 7025h9M4654 6971h9M4864 6954h9M4625 6976h9M4827 6890h9M4772 6942h9M4836 6828h9M4736 7030h9M4874 6898h9M4775 6961h9M4634 6935h9M4719 6985h9M4852 6888h9M4714 7028h9M4738 6959h9M4822 6931h9M4834 6895h9M4691 6935h9M4871 6841h9M4627 6974h9M4680 7050h9M4852 6971h9M4716 6951h9M4720 6900h9M4782 6950h9M4702 6943h9M4802 6965h9M4725 6944h9M4799 6946h9M4787 6834h9M4744 6960h9M4829 6980h9M4849 6991h9M4860 6855h9M4819 6811h9M4723 6946h9M4982 6830h9M4841 6882h9M4871 6854h9M4817 6851h9M4701 6939h9M4611 7012h9M4682 6973h9M4784 6915h9M4751 6914h9M4813 7005h9M4879 7000h9M4806 6923h9M4742 6990h9M4963 6716h9M4953 6915h9M4734 6897h9M4854 6776h9M4739 6961h9M4945 7060h9M4818 6912h9M4737 6854h9M4783 7051h9M4797 6874h9M4883 6899h9M4720 6926h9M4613 6807h9M4685 6960h9M4830 6950h9M4710 6985h9M4792 6877h9M4763 6876h9M4677 6884h9M4683 6997h9M4634 6979h9M4736 6836h9M4841 6953h9M4832 6928h9M4754 6935h9M4820 6857h9M4819 6887h9M4856 6846h9M4846 6958h9M4719 7008h9M4745 6975h9M4680 6906h9M4615 6965h9M4679 7005h9M4908 6869h9M4622 7064h9M4920 6854h9M4869 6811h9M4817 6909h9M4740 6929h9M4992 6916h9M4827 6844h9M4806 6989h9M4911 6881h9M4845 7026h9M4907 6920h9M4828 6921h9M4673 6973h9M4660 6923h9M4806 7003h9M4789 6901h9M4933 6887h9M4671 7010h9M4779 6855h9M4792 6880h9M4752 6912h9M4828 6907h9M4836 6822h9M4841 6839h9M4703 6842h9M4734 7083h9M4868 6991h9M4923 6806h9M4732 6988h9M4759 6949h9M4590 7056h9M4655 6900h9M4685 6951h9M4601 6958h9M4736 7016h9M4760 6928h9M4749 6915h9M4978 6920h9M4591 7040h9M4678 6824h9M4739 6972h9M4609 7050h9M4678 6949h9M4844 6943h9M4673 6910h9M4895 6809h9M4944 6778h9M4749 6892h9M4602 6991h9M4819 6986h9M4830 6898h9M4868 6753h9M4748 6898h9M4758 6948h9M4896 6923h9M4798 6885h9M4651 6974h9M4753 6974h9M4679 6933h9M4835 6927h9M4725 6916h9M4527 7076h9M4841 6890h9M4722 6978h9M4702 6830h9M4861 6936h9M4740 7010h9M4830 6921h9M4952 6979h9M4861 6851h9M4743 6877h9M4717 6947h9M4620 6942h9M4956 6884h9M4836 6925h9M5028 6857h9M4804 6850h9M4629 6933h9M4689 6885h9M4658 6820h9M4652 6952h9M4707 6868h9M4760 7036h9M4861 6848h9M4794 6952h9M4863 6872h9M4974 6808h9M4805 6928h9M4885 6923h9" stroke="#111" stroke-width="9" stroke-opacity="0.36" fill="none"/>
<path transform="scale(.1)" d="M434 5198h9M442 5166h9M452 5210h9M440 5089h9M397 5229h9M411 5162h9M383 5194h9M405 5172h9M465 5243h9M427 5210h9M412 5111h9M460 5194h9M458 5192h9M436 5194h9M474 5208h9M443 5256h9M461 5322h9M455 5191h9M469 5113h9M435 5154h9M449 5136h9M440 5179h9M440 5146h9M440 5264h9M402 5141h9M444 5179h9M445 5235h9M457 5218h9M441 5243h9M463 5120h9M438 5214h9M392 5115h9M421 5195h9M469 5287h9M437 5109h9M439 5106h9M469 5211h9M425 5166h9M432 5227h9M479 5160h9M473 5120h9M400 5285h9M423 5149h9M415 5215h9M447 5142h9M455 5195h9M468 5108h9M409 5187h9M453 5161h9M430 5187h9M452 5174h9M414 5207h9M440 5146h9M446 5193h9M421 5238h9M403 5174h9M418 5111h9M445 5197h9M487 5169h9M440 5204h9M439 5179h9M440 5204h9M366 5092h9M414 5089h9M442 5058h9M453 5149h9M425 5175h9M440 5244h9M430 5152h9M446 5173h9M434 5180h9M440 5171h9M399 5132h9M456 5239h9M436 5239h9M439 5135h9M452 5196h9M439 5232h9M435 5305h9M421 5266h9M476 5207h9M440 5219h9M435 5216h9M412 5162h9M465 5141h9M485 5094h9M441 5235h9M510 5100h9M532 5196h9M530 5095h9M511 5110h9M473 5079h9M500 5112h9M522 5114h9M470 5184h9M517 5182h9M523 5149h9M1234 5197h9M1240 5228h9M1254 5213h9M1232 5157h9M1235 5202h9M1255 5210h9M1272 5208h9M1218 5231h9M1220 5247h9M1213 5207h9M1249 5196h9M1247 5211h9M1238 5206h9M1238 5230h9M1238 5186h9M1250 5219h9M1263 5201h9M1260 5231h9M1276 5253h9M1266 5221h9M1263 5184h9M1272 5240h9M1248 5192h9M1264 5248h9M1263 5198h9M1229 5191h9M1239 5217h9M1245 5209h9M1228 5210h9M1251 5250h9M1288 5227h9M1250 5244h9M1247 5177h9M1253 5249h9M1237 5209h9M1250 5196h9M1233 5220h9M1271 5210h9M1246 5194h9M1271 5189h9M1235 5220h9M1238 5213h9M1239 5293h9M1272 5182h9M1264 5220h9M1208 5189h9M1262 5173h9M1246 5172h9M1227 5272h9M1255 5205h9M1247 5177h9M1268 5171h9M1269 5193h9M1249 5203h9M1257 5204h9M1239 5290h9M1267 5241h9M1249 5191h9M1243 5267h9M1233 5259h9M1213 5146h9M1279 5207h9M1253 5211h9M1283 5239h9M1259 5216h9M1282 5185h9M1240 5283h9M1250 5202h9M1230 5230h9M1234 5199h9M1225 5215h9M1262 5184h9M1271 5202h9M1233 5192h9M1277 5181h9M1243 5168h9M1270 5248h9M1250 5220h9M1263 5184h9M1294 5202h9M1263 5232h9M1243 5209h9M1239 5211h9M1244 5182h9M1255 5200h9M1263 5227h9M1233 5205h9M1233 5247h9M1233 5250h9M1260 5191h9M1254 5226h9M1273 5234h9M1235 5225h9M1246 5155h9M1245 5254h9M1303 5136h9M1339 5088h9M1321 5192h9M1286 5169h9M1286 5107h9M1314 5135h9M1327 5127h9M1296 5168h9M1298 5114h9M2040 5179h9M1959 5179h9M2019 5225h9M2062 5175h9M2129 5142h9M2016 5217h9M2047 5212h9M2012 5139h9M2039 5158h9M2085 5113h9M2119 5246h9M2051 5240h9M2094 5290h9M2047 5235h9M2069 5168h9M2021 5205h9M2122 5161h9M1993 5178h9M2043 5239h9M2078 5155h9M2007 5235h9M2082 5266h9M2017 5142h9M2036 5263h9M2071 5219h9M2110 5136h9M2060 5071h9M2000 5309h9M1962 5142h9M2060 5173h9M2094 5225h9M2091 5295h9M2021 5179h9M2108 5197h9M2107 5200h9M2019 5162h9M2099 5126h9M2029 5136h9M2004 5181h9M2023 5167h9M2040 5158h9M2106 5299h9M2095 5281h9M2016 5181h9M2101 5261h9M2000 5192h9M1958 5236h9M2086 5209h9M2019 5175h9M2037 5199h9M2024 5170h9M2061 5231h9M2088 5148h9M2032 5147h9M2014 5258h9M2039 5227h9M2082 5242h9M2006 5265h9M2102 5098h9M2010 5119h9M2057 5159h9M2078 5197h9M2099 5150h9M2099 5180h9M2043 5235h9M2149 5202h9M2072 5154h9M2082 5123h9M2045 5144h9M2038 5182h9M2100 5096h9M2046 5205h9M2104 5234h9M2071 5249h9M2032 5154h9M2114 5190h9M2070 5160h9M2117 5141h9M2086 5215h9M2054 5149h9M2193 5179h9M2228 5036h9M2138 5084h9M2246 5095h9M2118 5181h9M2087 5167h9M2177 5164h9M2132 5167h9M2125 5221h9M2041 5179h9M2122 5138h9M2076 5176h9M2206 5185h9M2099 5171h9M2163 5104h9M2158 5053h9M2169 5225h9M2116 5174h9M2150 5111h9M2140 5069h9M2108 5173h9M2133 5149h9M2126 5149h9M2140 5204h9M2177 5163h9M2130 5193h9M2335 4986h9M1927 5189h9M2191 5050h9M2246 5063h9M2257 5093h9M2163 5039h9M2185 5156h9M2132 5116h9M2134 5253h9M429 6030h9M478 6080h9M494 6137h9M507 6059h9M479 6020h9M451 6036h9M510 6159h9M453 5959h9M520 6049h9M487 6066h9M483 6005h9M466 6034h9M499 6055h9M504 5993h9M487 6082h9M451 6074h9M442 6072h9M494 5995h9M480 6068h9M506 6062h9M488 5971h9M479 6127h9M477 5993h9M474 6093h9M439 5957h9M539 6021h9M450 6082h9M497 5990h9M512 6046h9M520 6004h9M455 5938h9M487 6152h9M440 6137h9M472 5959h9M427 6129h9M492 6043h9M499 6083h9M444 5978h9M469 6026h9M489 6036h9M465 6164h9M511 6046h9M419 6021h9M461 6040h9M461 6048h9M533 6064h9M494 6085h9M496 6044h9M479 6194h9M524 5981h9M425 5993h9M442 5973h9M458 6125h9M457 5980h9M469 6057h9M482 6026h9M447 6079h9M442 5986h9M490 6059h9M532 5991h9M520 6056h9M468 5954h9M470 5942h9M499 6016h9M508 6039h9M482 6026h9M509 6064h9M505 5979h9M506 6178h9M522 5978h9M445 5991h9M454 6029h9M456 6124h9M446 6147h9M453 6167h9M435 6044h9M510 6021h9M475 6042h9M517 6086h9M464 6168h9M468 6108h9M451 5932h9M520 5967h9M443 6078h9M419 5991h9M470 6110h9M486 6026h9M480 6051h9M481 6162h9M498 6043h9M394 6089h9M553 6101h9M503 6054h9M500 6049h9M442 6132h9M510 5946h9M452 5994h9M504 5995h9M501 5983h9M493 6034h9M483 6048h9M519 6062h9M517 6129h9M464 6031h9M501 6072h9M497 6038h9M473 6083h9M475 5990h9M480 6206h9M436 6135h9M489 6027h9M433 6076h9M407 5958h9M468 5955h9M466 5957h9M472 6010h9M536 6029h9M493 6010h9M452 6110h9M497 6121h9M478 5969h9M499 6007h9M461 6124h9M502 5875h9M497 6033h9M470 6143h9M463 5994h9M471 6115h9M471 6033h9M491 6084h9M458 6096h9M477 5997h9M540 6049h9M478 6088h9M489 6144h9M500 6113h9M457 6010h9M488 5978h9M473 6067h9M461 6101h9M533 6151h9M497 6064h9M496 5983h9M496 5959h9M475 5948h9M497 6055h9M476 6079h9M482 5986h9M497 5950h9M466 5938h9M550 6125h9M468 6064h9M486 5961h9M485 5974h9M503 5978h9M1334 5940h9M1265 6023h9M1319 5903h9M1316 5926h9M1314 5928h9M1333 6036h9M1313 5949h9M1335 5929h9M1359 5776h9M1340 5899h9M1314 5986h9M1318 5812h9M1324 5894h9M1330 5992h9M1331 5926h9M1372 5935h9M1326 6027h9M1372 5849h9M1312 6037h9M1346 5963h9M1289 5977h9M1330 5934h9M1355 5962h9M1294 5869h9M1317 5965h9M1342 6003h9M1333 5916h9M1321 5820h9M1327 5903h9M1310 6007h9M1362 5918h9M1339 5790h9M1303 5952h9M1300 5924h9M1320 5790h9M1354 5854h9M1300 5897h9M1345 6000h9M1315 6050h9M1351 5844h9M1307 5953h9M1331 5827h9M1326 5864h9M1340 5957h9M1330 5988h9M1327 5827h9M1272 6014h9M1282 5951h9M1315 5916h9M1323 5895h9M1323 5869h9M1310 5832h9M1340 5971h9M1377 5785h9M1322 5989h9M1348 5923h9M1303 5871h9M1342 5933h9M1315 6024h9M1326 5955h9M1319 6015h9M1307 5953h9M1289 5933h9M1333 5951h9M1325 5863h9M1224 6122h9M1240 6101h9M1275 6124h9M1252 6138h9M1263 6169h9M1220 6082h9M1243 6077h9M1249 6107h9M1260 6091h9M1259 6071h9M1261 6086h9M1228 6045h9M1264 6066h9M1216 6038h9M1218 6137h9M1252 6112h9M1253 6121h9M1262 6053h9M1264 6051h9M1228 6123h9M1233 6085h9M1261 6101h9M1268 6060h9M1237 6125h9M1273 6130h9M1222 6091h9M1267 6132h9M1254 6069h9M1244 6110h9M1220 6083h9M1264 6113h9M1223 6083h9M1211 6144h9M1280 6141h9M1265 6107h9M1299 6091h9M1306 6090h9M1228 6106h9M1261 6060h9M1282 6124h9M1232 6039h9M1198 6129h9M1243 6117h9M1315 6065h9M1252 6067h9M1254 6095h9M1268 6127h9M1235 6088h9M1258 6133h9M1263 6098h9M1243 6052h9M1251 6116h9M1256 6093h9M1278 6072h9M1207 6106h9M1250 6113h9M1195 6101h9M1262 6089h9M1244 6117h9M1279 6120h9M1278 6094h9M1237 6164h9M1279 6136h9M1201 6074h9M1233 6156h9M2059 5988h9M2096 6014h9M2015 6061h9M2064 5952h9M2037 6013h9M2018 6083h9M2051 6011h9M2041 6002h9M2031 6011h9M2087 5994h9M2087 6023h9M2050 6047h9M2070 6051h9M2039 6059h9M2022 6030h9M2055 6115h9M2088 6105h9M2078 6031h9M2034 6107h9M2045 6038h9M2042 6038h9M1959 6063h9M2057 6080h9M2052 6045h9M2098 6076h9M2040 6123h9M2044 6098h9M2061 6137h9M2052 6059h9M2044 6043h9M2052 6083h9M2031 5970h9M2081 6122h9M2020 5965h9M2032 6021h9M2100 6011h9M2098 6006h9M2019 6017h9M2046 6040h9M2044 6026h9M2051 6065h9M2088 6105h9M2068 6169h9M2070 6063h9M2028 6118h9M2030 6037h9M2003 6138h9M2085 6129h9M2036 6005h9M2064 6014h9M2003 6115h9M2044 5999h9M2060 5977h9M2103 6012h9M2046 5991h9M2077 6034h9M2073 5997h9M2064 6080h9M2045 6077h9M2070 6054h9M2038 6042h9M2072 6098h9M2036 6017h9M2075 6022h9M2029 6136h9M2056 6057h9M2032 6040h9M2100 6097h9M2026 6129h9M2039 5982h9M2097 6150h9M2010 6103h9M2058 6083h9M2059 6037h9M2071 6144h9M2085 6024h9M2323 5925h9M2170 5978h9M2160 6064h9M2270 5953h9M2070 6054h9M2244 5880h9M2305 5924h9M2172 6087h9M2284 5950h9M2149 6032h9M2290 6014h9M2155 5988h9M2166 5988h9M2263 5868h9M2221 5982h9M2201 5923h9M2110 5989h9M2399 5895h9M2212 6008h9M2024 6155h9M2383 5888h9M2074 6097h9M2268 5901h9M2179 6018h9M2237 5875h9M2293 5952h9M2261 5967h9M2107 6026h9M2206 6008h9M2270 5960h9M2246 5904h9M2205 5988h9M2363 5933h9M2078 6045h9M2270 6055h9M2268 5957h9M2089 6079h9M2443 5909h9M1973 6094h9M2098 5990h9M2164 5990h9M2132 6063h9M2297 5900h9M2298 6026h9M2437 5882h9M2157 5931h9M2146 6074h9M2160 5955h9M2199 5927h9M2126 6045h9M2176 5981h9M2281 6040h9M2334 6001h9M2292 6005h9M2226 6041h9M2173 6022h9M2004 5981h9M2226 5983h9M2153 6000h9M1994 6085h9M2176 6042h9M2025 6059h9M2250 5946h9M2296 5931h9M2213 6035h9M2172 6005h9M2141 6002h9M2213 6002h9M1979 6053h9M2016 6150h9M2127 5960h9M2388 5968h9M2228 5906h9M2313 5873h9M2312 5939h9M2225 5963h9M2302 5934h9M2378 5820h9M2294 5995h9M2331 6041h9M2354 5885h9M2288 5965h9M2148 6023h9M2337 5846h9M2172 5974h9M2164 6093h9M2266 6031h9M2288 5942h9M1978 6070h9M2261 6046h9M2405 5923h9M2135 5971h9M2078 5973h9M2143 6018h9M2085 5959h9M2431 5852h9M515 6857h9M520 6973h9M514 6991h9M496 6968h9M513 6951h9M500 6864h9M494 6950h9M518 6934h9M513 6935h9M510 6849h9M508 6998h9M486 7011h9M482 6981h9M496 6828h9M460 6943h9M546 6988h9M521 6999h9M491 6985h9M496 6910h9M488 7018h9M564 6889h9M487 6929h9M483 6905h9M454 6923h9M491 6924h9M434 7039h9M467 6950h9M521 6881h9M513 6967h9M523 6955h9M454 6913h9M503 6979h9M520 6942h9M525 6897h9M526 7035h9M540 6825h9M453 6902h9M569 6945h9M489 6884h9M503 6912h9M525 6820h9M505 6840h9M571 6909h9M439 6948h9M464 6977h9M487 6830h9M527 7029h9M511 6908h9M535 6970h9M472 6940h9M474 6977h9M506 6954h9M551 6836h9M536 6868h9M532 6924h9M514 6974h9M491 6952h9M490 6928h9M487 7014h9M528 7002h9M525 6862h9M508 6820h9M524 6960h9M524 6830h9M544 6902h9M538 6822h9M499 6955h9M523 6893h9M482 6787h9M498 6939h9M485 6849h9M480 7106h9M518 6973h9M522 6868h9M528 6975h9M464 6941h9M514 7058h9M555 6931h9M536 6929h9M501 6927h9M508 6940h9M475 6922h9M546 6876h9M494 6913h9M483 6952h9M490 6841h9M484 6960h9M517 6932h9M539 6970h9M451 6777h9M494 6886h9M499 6879h9M481 6861h9M536 6962h9M531 7006h9M519 6989h9M497 6932h9M498 7030h9M553 6905h9M499 6977h9M518 6923h9M584 6852h9M501 6896h9M532 6883h9M509 6871h9M468 6914h9M465 6870h9M499 6908h9M523 6896h9M510 6931h9M519 6980h9M512 6915h9M467 6799h9M524 7090h9M517 6969h9M513 6904h9M489 6951h9M509 6924h9M528 6989h9M502 6841h9M479 6998h9M472 6907h9M501 6887h9M488 6990h9M568 6989h9M496 6873h9M557 6882h9M553 6882h9M462 7014h9M479 6880h9M525 6966h9M475 6926h9M486 6923h9M480 6938h9M444 6854h9M494 6907h9M503 6968h9M530 6991h9M494 6907h9M487 6960h9M482 6940h9M511 7007h9M499 6817h9M519 6990h9M464 6861h9M496 6942h9M534 7033h9M523 6924h9M491 6948h9M466 6867h9M502 6964h9M543 6993h9M503 6990h9M520 6946h9M521 6858h9M493 7027h9M464 7059h9M520 6924h9M490 6943h9M475 6934h9M505 6988h9M467 6951h9M516 7028h9M536 7033h9M465 6936h9M506 6829h9M529 6976h9M536 6917h9M511 7030h9M516 6976h9M512 6822h9M511 6930h9M504 6830h9M494 6878h9M498 6973h9M529 6857h9M471 6889h9M484 6981h9M494 6975h9M490 6962h9M495 7012h9M549 6871h9M577 7070h9M484 6989h9M480 6965h9M445 6766h9M511 6945h9M469 6925h9M469 6937h9M469 7008h9M515 6882h9M501 6791h9M476 6951h9M500 7021h9M485 6820h9M503 6941h9M505 6838h9M504 7048h9M537 6972h9M459 7000h9M499 7035h9M535 6985h9M489 6999h9M516 7008h9M496 6965h9M517 6956h9M523 6881h9M565 7013h9M546 7023h9M534 6931h9M483 7024h9M491 6905h9M1235 6899h9M1290 6915h9M1295 6789h9M1350 6759h9M1340 6820h9M1315 6839h9M1328 6950h9M1314 6780h9M1262 6826h9M1295 6812h9M1349 6813h9M1285 6872h9M1339 6816h9M1352 6820h9M1342 6931h9M1342 6871h9M1288 6775h9M1363 6740h9M1335 6849h9M1338 6865h9M1336 6810h9M1324 6813h9M1351 6745h9M1289 6931h9M1271 6869h9M1317 6807h9M1303 6961h9M1353 6764h9M1282 6984h9M1281 6777h9M1282 6928h9M1318 6901h9M1308 6829h9M1303 6767h9M1308 6831h9M1299 6958h9M1314 6823h9M1317 6695h9M1330 6856h9M1340 6891h9M1360 6888h9M1308 6970h9M1320 6829h9M1328 6918h9M1314 6794h9M1334 6713h9M1308 6832h9M1320 6968h9M1294 6883h9M1321 6781h9M1342 6807h9M1312 6793h9M1346 6809h9M1330 6872h9M1360 6883h9M1387 6896h9M1306 6780h9M1308 6806h9M1311 6694h9M1336 6816h9M1285 6780h9M1297 6889h9M1313 6784h9M1286 6861h9M1311 6860h9M1326 6822h9M1304 6948h9M1280 6880h9M1334 6745h9M1305 6871h9M1310 6799h9M1338 6705h9M1275 6944h9M1317 6872h9M1326 6826h9M1349 6789h9M1302 6734h9M1321 6852h9M1342 6699h9M1338 6879h9M1250 6851h9M1312 6931h9M1375 6723h9M1325 6883h9M1277 6829h9M1315 6764h9M1356 6838h9M1333 7047h9M1271 6785h9M1341 6920h9M1349 6843h9M1348 6902h9M1296 6780h9M1355 6859h9M1357 6844h9M1330 6802h9M1298 6825h9M1335 6882h9M1301 6781h9M1335 6844h9M1339 6868h9M1322 6922h9M1298 6974h9M1308 6792h9M1294 6760h9M1279 6925h9M1290 6832h9M1280 7037h9M1335 6784h9M1303 6868h9M1298 6875h9M1330 6775h9M1317 7010h9M1347 6804h9M1341 6719h9M1320 6671h9M1338 6818h9M1303 6899h9M1317 6929h9M1300 6795h9M1365 6762h9M1345 6770h9M1341 7083h9M1388 7055h9M1295 6868h9M1320 6840h9M1347 6898h9M1318 6991h9M1321 6792h9M1260 6903h9M1277 6912h9M1311 6778h9M1341 6776h9M1351 6851h9M1323 6909h9M1335 6827h9M1313 6923h9M1345 6705h9M1325 6850h9M1335 6725h9M1327 6925h9M1336 6865h9M1322 6757h9M1307 6868h9M1267 6948h9M1321 7008h9M1322 6863h9M1331 6914h9M1297 7026h9M1322 6887h9M1358 6667h9M1309 6901h9M1282 6942h9M1294 6945h9M1296 6869h9M1323 6834h9M1316 6844h9M1289 6823h9M1365 6750h9M1332 6784h9M1344 6878h9M1323 6832h9M1323 6894h9M1332 6684h9M1283 6778h9M1322 6759h9M1360 6806h9M1315 6922h9M1320 6812h9M1335 6849h9M1401 6839h9M1343 6744h9M1315 6847h9M1271 6890h9M1321 6969h9M1306 6925h9M1335 6841h9M1320 6789h9M1324 6851h9M1308 6887h9M1354 6964h9M1313 6947h9M1307 6712h9M1364 7030h9M1330 6926h9M1306 6912h9M1262 6904h9M1350 6769h9M1315 6727h9M1307 6772h9M1333 6703h9M1369 6793h9M1356 6800h9M1294 6879h9M1317 6956h9M1273 6996h9M1330 6966h9M1284 6918h9M1307 6701h9M1261 6887h9M1300 6738h9M1312 7066h9M1343 6777h9M1281 6761h9M1272 6998h9M1344 6930h9M1320 6879h9M1346 6734h9M1335 6936h9M1309 6891h9M1404 6681h9M1249 6951h9M1338 6917h9M1266 7046h9M1336 7004h9M1315 6870h9M1322 6811h9M1272 6891h9M1287 6928h9M1284 6794h9M1301 6901h9M1330 6878h9M1348 6743h9M1307 6905h9M1270 7065h9M1276 7042h9M1223 7076h9M1252 6977h9M1249 7082h9M1324 7059h9M1196 7051h9M1228 6972h9M1295 7025h9M1245 7021h9M1251 7028h9M1274 7027h9M1265 6965h9M1249 7033h9M1293 6991h9M1287 6994h9M1261 7037h9M1275 7037h9M1263 7040h9M1233 7069h9M1237 7049h9M1288 6992h9M1287 7101h9M1260 7057h9M1218 6951h9M1301 6997h9M1237 6999h9M1262 7096h9M1284 6969h9M1193 7084h9M1301 7069h9M1229 6996h9M1224 6978h9M1274 7062h9M1302 7032h9M1186 7033h9M1245 7026h9M2044 7018h9M2122 6897h9M2108 6918h9M2276 6856h9M2251 6949h9M2177 6946h9M2271 6911h9M2232 6999h9M2258 6824h9M2361 6900h9M2056 7006h9M2195 6943h9M2097 6888h9M2121 6984h9M2159 6985h9M2100 6915h9M2233 6808h9M2289 6999h9M2275 6851h9M2106 6995h9M2209 6979h9M2075 7025h9M2211 6877h9M2083 7069h9M2177 7027h9M2269 6962h9M2158 6989h9M2123 6924h9M2006 6996h9M2238 6958h9M2149 7003h9M2205 6907h9M2194 6811h9M2140 7041h9M2160 6950h9M2165 6854h9M2133 6926h9M2245 6903h9M2016 6965h9M2226 6988h9M2181 6805h9M2150 7010h9M2290 6812h9M2337 6913h9M2065 6939h9M2041 6990h9M2272 6956h9M2181 6942h9M2131 6912h9M2294 6873h9M2189 6934h9M2242 6810h9M1978 6990h9M2146 6854h9M2174 6993h9M2221 6894h9M1975 7108h9M2330 6848h9M2260 6973h9M2160 6958h9M2098 7062h9M2143 7021h9M2227 6943h9M2135 6990h9M2182 6865h9M2353 6734h9M2030 7043h9M2131 6940h9M2234 6989h9M2181 6920h9M2255 6953h9M2087 6993h9M2177 6951h9M2131 6994h9M2137 6901h9M2179 6877h9M2093 7033h9M2179 7008h9M2191 6980h9M2110 6985h9M2135 6939h9M2238 6975h9M2051 7002h9M2345 6866h9M2154 7082h9M1986 6956h9M2177 6979h9M2102 7051h9M2026 7081h9M2049 7046h9M2410 6978h9M2307 6894h9M2115 6989h9M2043 7024h9M2137 6979h9M2074 6947h9M2205 6859h9M2147 7037h9M2195 6853h9M2361 6924h9M2109 7007h9M2033 6965h9M2038 6890h9M2188 6953h9M1991 6997h9M2014 6908h9M2249 6990h9M2181 7067h9M2297 6848h9M2266 6888h9M2232 6950h9M2080 6941h9M2191 6980h9M2137 6888h9M2205 7009h9M2281 6860h9M2034 7073h9M2027 6951h9M2340 6914h9M2243 7016h9M2159 6951h9M2366 6795h9M2088 7051h9M2239 6916h9M2289 6959h9M2437 6880h9M2254 7002h9M2200 6910h9M2245 7011h9M2078 7002h9M2157 6905h9M2254 6872h9M2334 6874h9M2282 6902h9M2346 6862h9M2168 6896h9M2173 6989h9M2125 7034h9M1998 6972h9M2017 7050h9M2223 6905h9M2291 7043h9M2005 7029h9M2206 6890h9M2217 6964h9M2109 6980h9M2301 6825h9M2188 6925h9M2113 6934h9M2133 7030h9M2168 6928h9M2246 6936h9M2337 6851h9M1974 6954h9M2164 6941h9M2158 6996h9M2088 6958h9M2079 7079h9M2401 6891h9M2302 6975h9M2173 7013h9M2230 6829h9M2145 6907h9M2122 7080h9M2024 7030h9M2088 6929h9M2284 6952h9M2169 6966h9M2059 7018h9M2241 6883h9M2140 6966h9M2241 6956h9M2403 6874h9M2267 7084h9M2234 6904h9M2193 6865h9M2307 6827h9M2104 6877h9M2235 6848h9M2122 6970h9M2143 7003h9M2153 6925h9M2101 7020h9M2253 6981h9M2016 6962h9M2174 7006h9M2193 6919h9M2269 6850h9M2149 6944h9M2269 6925h9M2208 6833h9M2223 7004h9M2081 6974h9M2119 6973h9M2210 6958h9M2190 6921h9M2029 6988h9M2171 6906h9M2221 6918h9M2266 6933h9M2323 6823h9M2234 6853h9M2214 6969h9M2227 6911h9M2225 6910h9M2273 6887h9M2118 7051h9M2063 6982h9M2302 6967h9M2146 6943h9M2129 6947h9M2187 7005h9M2176 6907h9M2311 6823h9M2135 7044h9M2136 7028h9M2164 6932h9M2321 6766h9M2251 6883h9M2345 6879h9M2191 6810h9M2209 7011h9M2019 7017h9M2057 6992h9M2043 6998h9M1973 7009h9M2016 7030h9M2038 6970h9M2037 6984h9M2032 7049h9M2004 6973h9M2057 7038h9M2028 7046h9M1979 6949h9M2120 6970h9M2059 6955h9M2034 6979h9M2057 6941h9M2058 7072h9M2057 6975h9M2027 6960h9M2062 6998h9M2051 6914h9M2007 7026h9M2061 6992h9M2029 6997h9M2031 7025h9M2078 6965h9M2005 7022h9M2075 7023h9M2008 6942h9M2078 6947h9M2042 6987h9M2083 6954h9M1994 6991h9M2028 7011h9M2031 6984h9M1983 6956h9M2079 7002h9M1997 6992h9M2995 5269h9M2970 5150h9M3040 5168h9M3045 5030h9M3004 5266h9M2984 5064h9M3062 5151h9M2999 5073h9M2966 5179h9M3019 5173h9M3044 5158h9M2987 5243h9M3049 5245h9M3097 5126h9M3069 5299h9M3029 5096h9M3060 5112h9M2968 5238h9M3066 5048h9M2968 5116h9M2921 5297h9M3000 5123h9M3068 5125h9M2988 5046h9M3032 5079h9M3080 5228h9M3095 5189h9M3025 5291h9M3064 5199h9M3084 5290h9M3120 5127h9M3069 5213h9M3000 5196h9M3042 5129h9M3045 5138h9M3045 5018h9M3014 5269h9M3062 5275h9M3048 5182h9M3061 5176h9M3018 5098h9M3002 5295h9M2998 5245h9M3045 5269h9M3051 5184h9M3096 5113h9M3039 5094h9M3904 5050h9M3888 4989h9M3914 5068h9M3915 5011h9M3891 5035h9M3937 5073h9M3945 4898h9M3931 5222h9M3864 5243h9M3856 4987h9M3910 5044h9M3898 5026h9M3886 4894h9M3885 5018h9M3919 4992h9M3908 5185h9M3913 5005h9M3912 5169h9M3895 4994h9M3922 5032h9M3906 4886h9M3950 4981h9M3902 5133h9M3919 5090h9M3925 4897h9M3917 5075h9M3915 4923h9M3892 5102h9M3884 5130h9M3875 5069h9M3931 5042h9M3891 5202h9M3828 5228h9M3851 5247h9M3869 5184h9M3828 5176h9M3861 5242h9M3823 5235h9M3842 5196h9M3854 5195h9M3828 5207h9M3870 5190h9M3890 5187h9M3845 5218h9M3853 5184h9M3840 5200h9M3874 5251h9M3873 5200h9M3851 5254h9M3869 5240h9M3830 5199h9M3851 5157h9M4845 5176h9M4654 5111h9M4717 5214h9M4580 5255h9M4685 5117h9M4953 5058h9M4698 5215h9M4850 5164h9M4826 5128h9M4912 5107h9M4924 5274h9M4768 5229h9M4703 5244h9M4800 4973h9M4764 5165h9M4877 5265h9M4882 5104h9M4989 5119h9M4762 5119h9M4730 5147h9M4831 5126h9M4654 5228h9M4671 5186h9M4630 5245h9M4565 5299h9M4938 5221h9M4771 5194h9M4945 5116h9M4798 5178h9M4771 5124h9M4636 5195h9M4832 5207h9M4966 5099h9M4657 5165h9M4573 5253h9M4690 5165h9M4714 5146h9M4612 5143h9M4936 5150h9M4748 5149h9M4682 5202h9M4859 5130h9M4917 5176h9M4775 5136h9M4697 5129h9M4593 5105h9M4667 5125h9M4774 5172h9M4720 5262h9M4763 5240h9M4747 5206h9M4777 5283h9M4610 5257h9M4826 5115h9M4774 5174h9M4977 5062h9M4647 5096h9M5076 5120h9M4697 5212h9M4660 5118h9M4706 5134h9M4769 5129h9M4801 5073h9M3025 6022h9M3039 5774h9M3052 6186h9M3028 6071h9M3041 6154h9M3079 6222h9M2954 6072h9M3044 6193h9M2990 6012h9M3043 5993h9M3089 5983h9M3117 5976h9M2960 6048h9M3037 6111h9M3085 6001h9M3089 5982h9M3045 5944h9M3126 6009h9M3038 5987h9M3009 6191h9M3085 5995h9M3156 5924h9M3001 6028h9M3056 6010h9M3012 6033h9M3011 5946h9M3077 5981h9M3046 5996h9M3048 6052h9M3061 5949h9M3027 6090h9M3030 6072h9M3051 6010h9M3012 6057h9M3053 6138h9M3040 6012h9M3096 6244h9M3025 5856h9M2960 5954h9M3056 6012h9M3027 6125h9M3076 6185h9M3084 6136h9M2940 6159h9M2966 6012h9M3010 5935h9M3052 5848h9M3894 5738h9M3902 5863h9M3902 5835h9M3904 5957h9M3913 5905h9M3928 5864h9M3922 5871h9M3832 6144h9M3907 6071h9M3919 5907h9M3912 5850h9M3936 5874h9M3924 5848h9M3896 6025h9M3884 5824h9M3912 5988h9M3937 5867h9M3938 5798h9M3935 5810h9M3900 5878h9M3937 5753h9M3938 5821h9M3889 5958h9M3925 5809h9M3922 5944h9M3935 5759h9M3919 5890h9M3882 6003h9M3924 5892h9M3916 5926h9M3931 5913h9M3882 5966h9M3958 5947h9M3898 5896h9M3909 5928h9M3928 5788h9M3898 5919h9M3943 5902h9M3902 5848h9M3928 5889h9M3933 5785h9M3899 5961h9M3837 6111h9M3811 6061h9M3800 6108h9M3828 6075h9M3884 6071h9M3805 6055h9M3847 6129h9M3882 6091h9M3839 6079h9M3842 6101h9M3819 6061h9M3831 6083h9M3793 6057h9M3877 6098h9M3820 6125h9M3817 6106h9M3837 6077h9M3833 6070h9M4779 6026h9M4641 6092h9M4877 6055h9M4881 6019h9M4701 6005h9M4687 6143h9M4931 6031h9M4735 6163h9M4678 5949h9M4895 5961h9M4767 5989h9M4667 6088h9M4782 5919h9M4865 6020h9M4677 6089h9M5065 5900h9M4982 5938h9M4943 5953h9M4815 5923h9M4947 5995h9M4778 5994h9M4849 5921h9M4589 5990h9M5042 5927h9M4852 5978h9M4687 5892h9M4919 5816h9M5020 5840h9M4723 6070h9M4789 5989h9M5006 5943h9M4702 5935h9M4890 5943h9M4858 5924h9M5001 5839h9M4967 5932h9M4612 6090h9M4854 5757h9M4805 5920h9M4745 6059h9M4765 5972h9M4950 5946h9M4608 6055h9M4679 6005h9M4992 5954h9M4724 5978h9M4740 5895h9M4729 5997h9M4632 6135h9M4817 5912h9M4691 6047h9M4774 5940h9M5002 5947h9M4667 6122h9M4814 6104h9M4802 6059h9M4864 5916h9M4902 5959h9M4908 6095h9M4689 6111h9M4728 5940h9M4898 5930h9M4810 5858h9M4669 6096h9M5044 6082h9M4974 5916h9M5000 5875h9M4756 6130h9M4673 6025h9M4743 5983h9M4892 5998h9M4738 6128h9M4541 6079h9M3037 6900h9M3087 6972h9M3065 7019h9M3012 6906h9M3064 6991h9M3021 6899h9M3074 7048h9M3055 6869h9M3008 6933h9M3029 6951h9M3056 6943h9M3013 6921h9M3069 7037h9M3006 6975h9M3075 6860h9M3069 6877h9M3036 6841h9M3064 6914h9M3112 6935h9M3034 6860h9M3016 6947h9M2986 7100h9M3082 6823h9M3030 6818h9M3056 7013h9M3024 6893h9M3084 6872h9M3064 6867h9M3100 6889h9M3018 6929h9M2972 6813h9M3047 7005h9M3081 7018h9M3040 6905h9M3042 6902h9M3056 6969h9M3051 6975h9M3065 6995h9M3053 6859h9M3016 6837h9M3077 6884h9M3014 7075h9M3034 7019h9M3120 6870h9M3034 6964h9M3034 7004h9M3046 6907h9M3056 6893h9M3067 6870h9M3083 7006h9M3046 6824h9M3079 6853h9M3020 6889h9M3024 6960h9M3006 6870h9M3070 6789h9M3077 6871h9M3073 6858h9M3033 6752h9M3053 6914h9M3014 6824h9M3039 6808h9M3069 6965h9M3070 6897h9M3040 6970h9M2981 6982h9M3028 6784h9M2992 7001h9M3081 6989h9M2975 6941h9M3089 6960h9M3045 6875h9M3081 6816h9M3001 6888h9M3112 7027h9M3044 6918h9M3097 6852h9M3009 6960h9M3073 6866h9M3015 6971h9M3049 6823h9M3132 6955h9M2984 6866h9M3030 6842h9M3079 6820h9M3114 6866h9M3024 6827h9M3088 6885h9M3088 6882h9M3070 6901h9M3004 6873h9M3050 6894h9M3027 6914h9M3002 7104h9M3037 6882h9M3082 6848h9M3044 6791h9M3025 6939h9M3017 6911h9M3006 6853h9M2985 6939h9M3033 6978h9M3070 6929h9M2984 7003h9M3018 6881h9M3041 6851h9M3020 6899h9M3071 6963h9M3052 6906h9M3008 6930h9M3050 6901h9M3027 6911h9M3096 6838h9M3037 6849h9M3054 7008h9M3088 6968h9M3055 6829h9M3029 6977h9M3079 6965h9M3021 6984h9M3034 6905h9M3039 7051h9M3053 6925h9M3089 6938h9M3076 6822h9M3016 6906h9M3061 6902h9M3012 6918h9M3053 7079h9M3031 6960h9M3037 6879h9M3022 6975h9M3048 6947h9M3068 6957h9M3073 6924h9M3032 6836h9M2994 6830h9M3059 6835h9M3065 7001h9M3032 7007h9M3049 6986h9M3045 6940h9M3034 6981h9M3037 6916h9M3105 6918h9M3025 6917h9M3083 6883h9M3002 7010h9M3100 6949h9M2985 7050h9M3018 6805h9M3064 6853h9M3080 6774h9M3051 6823h9M2981 7038h9M2986 6901h9M3044 7011h9M3067 6970h9M3029 6933h9M2977 7020h9M3040 6926h9M3073 6862h9M3082 6745h9M3018 6929h9M3031 6901h9M3066 6884h9M3067 6987h9M3036 6967h9M3013 7041h9M3023 6890h9M3089 6995h9M3056 6910h9M3050 6949h9M3064 6955h9M3092 7084h9M3084 6893h9M3041 6951h9M3066 7056h9M3015 6865h9M3008 6996h9M3026 7043h9M3095 6977h9M3053 6986h9M3054 6984h9M3027 6989h9M3060 7014h9M3035 6953h9M3059 6935h9M3033 6920h9M3047 6991h9M3069 6963h9M3034 6976h9M3056 6823h9M3130 6769h9M3067 6873h9M2995 6883h9M3053 6907h9M3043 6886h9M3076 6954h9M3046 6938h9M3899 6840h9M3922 6874h9M3915 6926h9M3938 6807h9M3934 6991h9M3928 6840h9M3903 7001h9M3918 6957h9M3930 6766h9M3915 6931h9M3893 6926h9M3948 6907h9M3882 6895h9M3926 6795h9M3878 6842h9M3930 6818h9M3936 6887h9M3921 6782h9M3951 6788h9M3950 6740h9M3874 6876h9M3939 6886h9M3943 6816h9M3886 6752h9M3920 6884h9M3889 6908h9M3948 6871h9M3880 6940h9M3902 7026h9M3912 6943h9M3872 6973h9M3902 6920h9M3950 6832h9M3943 6885h9M3863 6938h9M3875 6919h9M3900 6971h9M3903 6935h9M3962 6899h9M3932 7001h9M3916 6882h9M3862 7022h9M3903 6837h9M3892 7019h9M3905 6805h9M3916 6883h9M3960 6851h9M3869 6846h9M3918 6849h9M3921 6835h9M4012 6706h9M3888 6806h9M3895 6822h9M3923 6955h9M3945 6781h9M3934 6804h9M3911 6796h9M3901 7019h9M3910 6940h9M3890 6899h9M3877 6919h9M3874 6817h9M3939 6820h9M3864 7068h9M3925 6804h9M3969 6789h9M3895 6997h9M3864 7029h9M3905 6933h9M3901 6971h9M3908 6756h9M3952 6899h9M3934 6970h9M3925 6823h9M3933 6808h9M3894 6891h9M3898 6972h9M3876 6884h9M3901 6905h9M3919 6868h9M3918 6856h9M3979 6841h9M3957 6803h9M3915 7017h9M3950 6707h9M3952 6779h9M3912 6909h9M3920 6873h9M3957 6741h9M3928 6860h9M3910 6949h9M3926 6875h9M3894 6985h9M3954 6782h9M3899 6910h9M3982 6729h9M3915 6941h9M3922 6745h9M3963 6881h9M3912 6844h9M3935 6945h9M3944 6752h9M3925 6920h9M3925 6817h9M3912 6805h9M3920 6981h9M3915 6864h9M3966 6874h9M3919 6851h9M3868 6860h9M3940 6730h9M3904 6898h9M3921 6894h9M3925 6831h9M3968 6727h9M3887 6853h9M3921 6896h9M3935 6817h9M3963 6752h9M3931 6714h9M3929 6887h9M3977 6899h9M3933 6846h9M3928 6813h9M3946 6826h9M3902 6947h9M3873 6997h9M3922 6949h9M3904 6972h9M3878 7035h9M3882 6979h9M3915 6973h9M3872 6928h9M3875 6946h9M3881 6982h9M3942 6786h9M3867 6935h9M3935 6731h9M3931 6766h9M3889 6868h9M3840 6882h9M3952 6810h9M3943 6986h9M3904 6926h9M3936 6818h9M3901 6903h9M3956 6844h9M3874 6941h9M3905 6925h9M3912 7056h9M3922 6912h9M3929 6749h9M3918 6837h9M3925 6850h9M3905 6853h9M3919 6926h9M3946 6918h9M3894 6940h9M3955 6825h9M3929 6780h9M3953 6928h9M3887 6781h9M3932 6665h9M3924 6728h9M3912 6892h9M3909 6829h9M3929 6739h9M3935 6783h9M3874 6999h9M3903 7018h9M3923 6962h9M3943 6893h9M3924 6916h9M3937 6830h9M3910 6883h9M3949 6769h9M3937 6782h9M3930 6738h9M3890 6926h9M3934 6817h9M3907 6842h9M3893 6907h9M3935 6746h9M3896 6844h9M3909 6873h9M3853 7132h9M3895 6963h9M3812 6965h9M3847 7028h9M3855 7073h9M3875 6978h9M3836 7012h9M3868 6987h9M3828 7062h9M3829 6981h9M3870 6996h9M3841 7020h9M3847 7044h9M3879 7013h9M3818 7025h9M3855 7033h9M3869 7024h9M3845 7012h9M3881 7015h9M3835 7005h9M3825 7048h9M3845 7024h9M3819 7000h9M3829 7038h9M3823 7035h9M3844 7047h9M3814 7024h9M3858 7039h9M3779 7004h9M3881 6979h9M3862 6973h9M3849 7043h9M4694 6987h9M4539 7065h9M4928 6835h9M4593 6841h9M4713 6964h9M4804 7047h9M4762 6930h9M4740 7016h9M4926 6942h9M4807 6794h9M4816 6919h9M4611 6965h9M4951 6720h9M4715 6872h9M4685 6941h9M4725 6823h9M4650 6989h9M4826 6866h9M4579 6992h9M4890 6912h9M4729 6877h9M4644 6901h9M4839 6956h9M4817 6951h9M4645 7013h9M4689 6986h9M4784 7000h9M4954 6954h9M4831 6915h9M4884 6868h9M4857 6952h9M4758 6995h9M4708 6911h9M4766 7026h9M4738 6815h9M4862 6826h9M4679 6991h9M4730 6817h9M4976 6760h9M4974 6928h9M4898 6876h9M4816 6852h9M4732 6915h9M4742 6951h9M4821 6904h9M4833 6833h9M4968 6890h9M4775 6847h9M4884 6931h9M4642 7111h9M4960 6857h9M4877 7000h9M4818 6845h9M4719 6910h9M4749 6978h9M4828 6877h9M4624 6897h9M4643 6918h9M4874 6864h9M4746 6919h9M4805 6951h9M4746 7033h9M4739 6894h9M4782 6886h9M4864 6846h9M4970 6817h9M4736 6909h9M4728 6979h9M4726 6866h9M4845 6834h9M4700 6999h9M4594 7052h9M4868 6779h9M4763 6904h9M4709 6878h9M4756 6890h9M4664 6986h9M4737 6957h9M4702 7002h9M4774 6969h9M4710 6970h9M4781 6906h9M4770 6956h9M4733 6958h9M4698 6991h9M5077 6885h9M4897 6915h9M4688 7070h9M4712 6945h9M4770 6986h9M5063 6843h9M4748 6879h9M4737 6931h9M4726 6958h9M4589 7043h9M4774 7053h9M4873 6812h9M4837 6838h9M4798 6957h9M4720 6936h9M4714 6950h9M4688 6918h9M4756 6927h9M4766 6855h9M4597 6980h9M4792 6902h9M4682 7002h9M4905 6881h9M4788 6832h9M4638 7014h9M4834 6903h9M4804 6932h9M4734 6891h9M4888 6847h9M4685 6805h9M4795 6886h9M4822 6964h9M4791 6940h9M4826 6839h9M4959 6908h9M4648 6881h9M4823 6863h9M4810 6887h9M4867 6914h9M4940 6834h9M4963 6891h9M4741 6958h9M4788 6930h9M4742 6919h9M4872 6846h9M4667 7008h9M4869 6868h9M4865 6975h9M4718 6872h9M4688 6924h9M4882 6885h9M4894 6885h9M4765 7013h9M4855 6935h9M4717 6965h9M4742 6907h9M4993 6933h9M4797 6993h9M4763 6900h9M4709 6895h9M4778 6797h9M4715 6980h9M4819 6924h9M4758 6947h9M4837 6920h9M4743 6938h9M4737 6895h9M4820 6971h9M4790 6885h9M4681 7022h9M4599 7006h9M4760 7085h9M4678 7066h9M4856 6810h9M4784 6886h9M4808 6896h9M4832 6879h9M4791 6918h9M4706 6896h9M4768 6893h9M4733 6926h9M4928 6797h9M4989 6863h9M4791 6882h9M4815 6893h9M4665 6855h9M4832 6965h9M4957 6891h9M4664 6821h9M4818 6920h9M4748 6877h9M4777 6900h9M4672 6943h9M4689 6969h9M4836 6874h9M4777 6920h9M4892 6878h9M4626 7016h9M4699 7052h9M4680 6858h9M4876 6716h9M4950 6948h9M4790 6864h9M4696 6982h9M4686 6962h9M4701 7001h9M4866 6922h9M4693 6908h9M4750 6983h9M4776 6823h9M4670 6992h9M4724 7017h9M4765 6899h9M4751 7001h9M4666 6963h9M4637 7113h9M4710 6984h9M4607 6943h9M4784 6948h9M4834 6870h9M4729 6992h9M4958 6803h9M4702 6912h9M4768 6932h9M4789 6991h9M4680 6956h9M4730 6861h9M4897 6840h9M4863 6834h9M4689 6930h9M4930 6905h9M4604 6984h9M4662 6848h9M4760 6911h9M4634 6977h9M4754 6937h9M4628 7014h9M4790 6984h9M4579 6977h9M4702 7000h9M4898 6860h9M4833 7017h9M4942 6810h9M4781 6916h9M4743 6907h9M4557 7055h9M4597 6886h9M4726 6953h9M4674 6893h9M4677 6942h9" stroke="#111" stroke-width="9" stroke-opacity="0.36" fill="none"/>
<path transform="scale(.1)" d="M420 5171h9M471 5180h9M449 5285h9M456 5203h9M411 5221h9M447 5145h9M428 5139h9M430 5119h9M422 5240h9M438 5175h9M442 5103h9M443 5237h9M413 5204h9M456 5115h9M425 5078h9M413 5161h9M467 5172h9M395 5090h9M456 5241h9M476 5157h9M438 5165h9M430 5231h9M456 5128h9M454 5139h9M394 5214h9M492 5122h9M452 5132h9M452 5123h9M416 5098h9M445 5203h9M395 5140h9M460 5081h9M458 5180h9M474 5125h9M418 5223h9M422 5162h9M437 5123h9M433 5099h9M434 5160h9M425 5180h9M407 5178h9M457 5174h9M451 5141h9M413 5176h9M440 5130h9M434 5182h9M456 5148h9M462 5190h9M458 5128h9M475 5116h9M461 5158h9M402 5195h9M460 5168h9M442 5099h9M406 5195h9M452 5043h9M425 5147h9M422 5278h9M408 5113h9M407 5188h9M442 5222h9M390 5165h9M428 5214h9M419 5162h9M439 5164h9M445 5181h9M466 5212h9M410 5199h9M458 5180h9M439 5179h9M436 5263h9M476 5225h9M477 5201h9M443 5209h9M442 5169h9M427 5193h9M442 5131h9M461 5147h9M443 5292h9M461 5175h9M433 5136h9M418 5140h9M436 5164h9M415 5126h9M476 5163h9M436 5125h9M475 5176h9M506 5098h9M503 5201h9M533 5180h9M526 5126h9M525 5107h9M507 5143h9M543 5159h9M493 5095h9M465 5044h9M513 5146h9M1258 5187h9M1218 5213h9M1279 5227h9M1229 5177h9M1208 5219h9M1250 5212h9M1256 5186h9M1244 5239h9M1280 5246h9M1242 5237h9M1235 5201h9M1267 5239h9M1231 5187h9M1247 5265h9M1205 5168h9M1244 5166h9M1259 5192h9M1236 5247h9M1252 5232h9M1235 5201h9M1237 5255h9M1238 5244h9M1250 5198h9M1225 5197h9M1253 5175h9M1245 5236h9M1254 5235h9M1225 5297h9M1243 5208h9M1226 5222h9M1243 5229h9M1278 5258h9M1276 5169h9M1262 5230h9M1205 5206h9M1249 5211h9M1244 5185h9M1235 5235h9M1221 5231h9M1239 5219h9M1255 5170h9M1249 5205h9M1270 5234h9M1259 5252h9M1241 5238h9M1228 5173h9M1246 5174h9M1268 5163h9M1267 5167h9M1229 5202h9M1257 5172h9M1248 5182h9M1241 5231h9M1229 5224h9M1231 5235h9M1288 5178h9M1234 5216h9M1248 5136h9M1203 5185h9M1243 5211h9M1226 5161h9M1226 5209h9M1241 5248h9M1251 5175h9M1243 5261h9M1208 5178h9M1232 5226h9M1296 5236h9M1239 5195h9M1265 5169h9M1217 5226h9M1235 5234h9M1224 5256h9M1228 5129h9M1199 5217h9M1251 5192h9M1205 5214h9M1252 5155h9M1254 5228h9M1218 5197h9M1252 5195h9M1236 5243h9M1223 5207h9M1268 5200h9M1249 5206h9M1226 5266h9M1238 5234h9M1270 5263h9M1207 5192h9M1221 5193h9M1248 5168h9M1250 5201h9M1226 5160h9M1249 5243h9M1244 5176h9M1299 5115h9M1289 5175h9M1305 5169h9M1298 5127h9M1337 5145h9M1289 5130h9M1308 5140h9M1347 5092h9M2043 5123h9M2020 5161h9M2019 5277h9M2074 5223h9M2071 5234h9M2068 5184h9M2105 5189h9M2021 5156h9M2034 5134h9M2065 5199h9M2068 5161h9M2054 5179h9M2040 5231h9M2074 5222h9M2063 5192h9M2054 5340h9M2093 5203h9M1982 5215h9M2034 5168h9M1995 5232h9M1998 5177h9M2081 5255h9M2076 5249h9M2023 5165h9M2102 5116h9M2052 5125h9M2017 5240h9M2084 5204h9M2052 5157h9M1954 5285h9M1977 5223h9M2017 5147h9M2026 5224h9M2131 5178h9M2104 5105h9M2049 5143h9M2028 5280h9M2091 5252h9M2072 5253h9M2100 5226h9M2024 5080h9M2087 5179h9M2076 5194h9M2096 5201h9M2025 5124h9M2007 5156h9M2089 5212h9M2053 5114h9M2067 5259h9M2100 5120h9M2041 5201h9M2153 5265h9M2006 5212h9M2030 5160h9M2081 5129h9M2045 5222h9M2049 5227h9M2072 5183h9M2101 5177h9M2100 5273h9M2108 5155h9M2074 5188h9M2034 5205h9M2053 5111h9M2002 5156h9M2065 5271h9M2085 5243h9M2070 5122h9M1957 5247h9M1999 5185h9M2117 5217h9M2054 5244h9M2062 5089h9M2018 5251h9M2051 5166h9M2076 5096h9M2053 5159h9M2056 5154h9M2013 5159h9M2096 5274h9M2200 5074h9M2127 5099h9M2087 5197h9M2279 5126h9M2146 5146h9M2158 5158h9M2134 5277h9M2160 5005h9M2200 5116h9M2126 5119h9M2118 5191h9M2238 5182h9M2104 5148h9M2127 5159h9M2154 5035h9M2028 5209h9M2126 5247h9M2114 5174h9M2214 5083h9M2182 5079h9M2101 5056h9M2247 5087h9M2304 5104h9M2060 5189h9M2136 5199h9M2057 5172h9M2209 5198h9M2113 5105h9M2190 5161h9M2082 5042h9M2236 5008h9M2136 5207h9M2126 5139h9M2144 5181h9M2171 5119h9M435 5959h9M509 6154h9M443 6116h9M489 5987h9M452 6179h9M503 6005h9M467 6090h9M462 6045h9M468 6159h9M502 6065h9M440 6083h9M386 6006h9M505 6070h9M453 6120h9M435 6050h9M489 6132h9M529 6165h9M495 6029h9M500 5918h9M509 5989h9M479 5981h9M471 6065h9M463 6040h9M488 6041h9M430 6010h9M494 6129h9M431 6022h9M492 5957h9M445 6024h9M491 6132h9M522 6012h9M507 5962h9M491 6046h9M502 5979h9M491 6138h9M467 6006h9M497 6025h9M460 6075h9M445 6153h9M477 6006h9M496 5935h9M469 6039h9M452 6043h9M504 6116h9M450 5986h9M458 6005h9M440 5937h9M437 6120h9M487 5981h9M492 6044h9M435 6048h9M460 6078h9M516 6117h9M429 6042h9M486 5997h9M445 6077h9M456 6056h9M472 6095h9M469 6122h9M455 6091h9M451 6112h9M469 6129h9M514 6158h9M497 5934h9M490 6112h9M467 6073h9M461 6011h9M505 5992h9M456 5897h9M441 6009h9M471 5948h9M480 5907h9M556 6048h9M462 6144h9M502 6027h9M440 6045h9M457 6073h9M415 6136h9M482 6077h9M456 6138h9M466 6085h9M527 6074h9M506 6118h9M456 5999h9M496 5934h9M483 6074h9M502 6091h9M462 6055h9M488 6027h9M425 6023h9M455 6003h9M398 5952h9M469 6081h9M442 6077h9M465 6121h9M486 6121h9M456 5975h9M454 6060h9M459 5914h9M504 6023h9M469 6059h9M504 5986h9M485 6063h9M467 5961h9M439 6099h9M473 6059h9M431 6061h9M537 6116h9M470 6029h9M507 6041h9M440 6056h9M486 6078h9M427 6086h9M484 6014h9M451 6054h9M468 5995h9M444 5943h9M489 6060h9M441 6124h9M494 6038h9M502 6101h9M434 6084h9M462 6110h9M544 6105h9M530 5961h9M492 6011h9M477 6186h9M471 6161h9M434 6148h9M475 6111h9M477 6036h9M489 6033h9M464 6218h9M490 5971h9M480 6090h9M445 6083h9M464 6057h9M505 6125h9M571 6108h9M391 5991h9M434 6141h9M399 6116h9M478 6115h9M493 6122h9M435 6022h9M479 6020h9M465 5979h9M457 6051h9M498 6099h9M442 6088h9M453 6027h9M434 5991h9M473 6163h9M476 6025h9M1314 5955h9M1311 5956h9M1320 5872h9M1312 5917h9M1289 5980h9M1334 5982h9M1322 5994h9M1356 5960h9M1328 6003h9M1337 5868h9M1315 5908h9M1285 5985h9M1298 5942h9M1344 6040h9M1338 5847h9M1330 6086h9M1288 5881h9M1352 5951h9M1322 5982h9M1304 5884h9M1295 6055h9M1351 5857h9M1334 5948h9M1308 6056h9M1323 5975h9M1353 5814h9M1319 5937h9M1304 5953h9M1353 5935h9M1322 5909h9M1303 6004h9M1332 5811h9M1382 5876h9M1315 5862h9M1338 5909h9M1304 5950h9M1316 5987h9M1311 5923h9M1321 5978h9M1294 6015h9M1286 6060h9M1311 5974h9M1374 5866h9M1308 5980h9M1334 5934h9M1358 5770h9M1341 5915h9M1300 5978h9M1330 6011h9M1313 5912h9M1295 5765h9M1345 5963h9M1336 5950h9M1299 5880h9M1308 5864h9M1356 5883h9M1329 5896h9M1349 6022h9M1303 5910h9M1332 5956h9M1326 5984h9M1316 5983h9M1291 5850h9M1345 5848h9M1303 5992h9M1256 6053h9M1269 6105h9M1258 6151h9M1246 6118h9M1282 6102h9M1252 6079h9M1248 6151h9M1298 6062h9M1228 6157h9M1240 6049h9M1290 6123h9M1212 6140h9M1238 6126h9M1217 6135h9M1286 6094h9M1237 6092h9M1279 6128h9M1252 6093h9M1258 6141h9M1231 6069h9M1214 6067h9M1282 6099h9M1241 6060h9M1293 6080h9M1276 6088h9M1256 6109h9M1232 6223h9M1267 6131h9M1266 6063h9M1267 6083h9M1271 6118h9M1216 6110h9M1231 6139h9M1274 6153h9M1263 6136h9M1291 6171h9M1239 6131h9M1261 6059h9M1304 6079h9M1246 6092h9M1240 6041h9M1280 6093h9M1227 6077h9M1272 6125h9M1222 6083h9M1251 6035h9M1217 6065h9M1260 6083h9M1254 6124h9M1229 6059h9M1268 6130h9M1304 6114h9M1216 6092h9M1234 6090h9M1244 6169h9M1301 6079h9M1278 6130h9M1258 6145h9M1249 6133h9M1237 6121h9M1256 6132h9M1241 6143h9M1260 6123h9M1246 6085h9M1277 6090h9M2062 6121h9M2031 6060h9M2093 5955h9M2040 6011h9M2116 6071h9M2028 6151h9M2030 6085h9M2043 6001h9M2027 5987h9M2053 6030h9M2122 6096h9M1946 6152h9M2034 6114h9M2094 6023h9M2095 5961h9M2035 6071h9M2069 6100h9M2039 6000h9M2086 5991h9M2064 6034h9M2064 6003h9M2025 6112h9M2079 6091h9M2104 6052h9M2062 6020h9M2048 6072h9M2078 6070h9M2059 6048h9M2023 6098h9M2051 6012h9M2053 6096h9M2083 6064h9M2047 5974h9M2054 6087h9M2068 6210h9M2034 6038h9M2049 6082h9M2092 6038h9M1981 6057h9M2099 6078h9M2029 6064h9M2080 6110h9M2043 6003h9M2023 6087h9M2039 6045h9M2065 6055h9M2055 6138h9M2070 6022h9M2044 6096h9M2043 6076h9M2029 5990h9M2044 6002h9M2003 6030h9M2038 6132h9M2050 6074h9M2086 6083h9M2081 6105h9M2036 6090h9M2058 6114h9M2089 6038h9M2024 6044h9M2021 5980h9M2049 6015h9M2062 6001h9M2034 5986h9M2106 6062h9M2104 6030h9M2036 6043h9M2023 6072h9M2046 5973h9M1982 6053h9M2070 6075h9M2019 5966h9M2093 6036h9M2016 6001h9M2136 5941h9M2260 6049h9M2276 5886h9M2120 6119h9M2168 5980h9M2325 5960h9M2256 6013h9M2058 6009h9M2301 5963h9M2032 6078h9M2244 5987h9M2194 5881h9M2271 5858h9M2363 5900h9M2053 5993h9M2115 6011h9M2171 5966h9M2309 5902h9M2113 6006h9M2237 6032h9M2155 6005h9M2026 5958h9M2207 6022h9M1937 6081h9M2205 6032h9M2178 6047h9M2236 5989h9M2162 5975h9M2245 5958h9M2306 5963h9M2237 5998h9M2158 6047h9M2297 5903h9M2396 5919h9M2250 5889h9M2263 5985h9M2054 6041h9M2353 5953h9M2106 6096h9M2317 5862h9M2246 5957h9M2083 6001h9M2178 6043h9M2180 5979h9M2285 5973h9M2311 5907h9M2106 5990h9M2058 5984h9M2214 5990h9M2083 6038h9M2263 5966h9M2053 6097h9M2164 5935h9M2291 5973h9M2304 5968h9M2464 5915h9M2208 5909h9M2243 6048h9M2333 5962h9M2088 6085h9M2219 5972h9M2222 5960h9M2224 6035h9M2108 6002h9M2223 5931h9M2230 6019h9M2260 5973h9M2055 6059h9M2336 5984h9M2102 5963h9M2228 5986h9M2438 5921h9M2276 5912h9M2279 6024h9M2228 5928h9M2173 6036h9M2051 6103h9M2381 5880h9M2181 6008h9M2405 5868h9M2246 5967h9M2269 5970h9M2135 6020h9M2248 6012h9M2319 5903h9M2284 5981h9M2158 6076h9M2209 5926h9M2149 5950h9M2008 6116h9M2367 5880h9M2311 5949h9M2267 5934h9M2455 5857h9M2227 5982h9M2064 5888h9M2323 5879h9M492 6897h9M518 6868h9M514 6912h9M480 6967h9M519 6892h9M493 7028h9M490 6876h9M488 6887h9M477 6936h9M527 6764h9M459 6902h9M460 7027h9M457 7003h9M525 6983h9M467 6986h9M459 6834h9M534 7033h9M510 7020h9M491 6863h9M460 7001h9M553 6988h9M540 6997h9M535 6936h9M485 7007h9M527 7014h9M520 6897h9M529 6824h9M494 6922h9M535 7066h9M506 6820h9M558 6953h9M466 6846h9M535 6849h9M496 6891h9M527 6854h9M459 6910h9M507 6886h9M498 7021h9M479 6983h9M495 6858h9M540 6871h9M461 7009h9M515 6888h9M484 6926h9M456 6935h9M516 6978h9M485 6972h9M481 6852h9M493 6811h9M525 6863h9M514 7043h9M458 6948h9M499 6941h9M518 6899h9M483 6936h9M532 7029h9M474 6997h9M536 6960h9M547 6974h9M506 6859h9M554 6982h9M473 7037h9M504 6954h9M541 6914h9M480 6973h9M512 6870h9M533 7065h9M469 6888h9M480 7024h9M510 6941h9M517 7014h9M536 6937h9M528 6935h9M500 6954h9M475 6889h9M529 6906h9M556 6901h9M490 6942h9M512 6928h9M482 7023h9M551 6869h9M544 6916h9M501 6927h9M457 6778h9M532 6972h9M463 6986h9M517 6958h9M498 6953h9M498 6908h9M517 7060h9M513 6855h9M437 6942h9M516 6786h9M509 7042h9M497 7042h9M512 6929h9M498 6890h9M466 7013h9M528 7024h9M522 6895h9M556 6959h9M468 6974h9M490 7136h9M512 7029h9M521 6954h9M528 6876h9M544 6985h9M522 6873h9M509 6923h9M525 6884h9M450 6973h9M491 6910h9M524 6955h9M490 7013h9M543 6911h9M477 6978h9M508 6809h9M463 6905h9M519 6866h9M467 6937h9M557 6900h9M510 6903h9M492 7045h9M531 6952h9M443 6900h9M499 6950h9M542 6958h9M510 6987h9M482 6879h9M496 7069h9M508 6901h9M514 6947h9M482 6929h9M486 6930h9M504 6914h9M434 6941h9M466 6889h9M529 6986h9M508 6905h9M501 6900h9M554 6889h9M540 6952h9M469 7068h9M469 6887h9M499 6981h9M542 6871h9M523 6856h9M487 6932h9M488 6818h9M503 6915h9M475 6954h9M465 6931h9M487 6941h9M493 6880h9M558 7028h9M483 7052h9M475 7036h9M490 6911h9M473 6944h9M535 6956h9M503 6937h9M466 6844h9M514 6987h9M481 6985h9M516 6915h9M474 7036h9M488 6831h9M515 6867h9M477 6942h9M475 7037h9M497 6983h9M547 6909h9M546 6988h9M516 7008h9M531 7054h9M495 6928h9M503 6833h9M470 6904h9M497 6888h9M510 6882h9M496 6880h9M501 7008h9M551 6862h9M500 6977h9M482 7031h9M507 6908h9M463 6856h9M496 6763h9M518 6958h9M459 7011h9M535 7027h9M528 6879h9M530 6887h9M551 6846h9M491 6950h9M492 6912h9M547 6810h9M506 6954h9M549 7045h9M492 6892h9M496 6997h9M530 6906h9M478 6972h9M494 6994h9M497 6900h9M509 6909h9M557 7066h9M507 7027h9M504 7038h9M539 6907h9M492 6977h9M506 6945h9M1308 6721h9M1329 6876h9M1371 6775h9M1347 7060h9M1331 6820h9M1303 6940h9M1288 6879h9M1321 6832h9M1347 6748h9M1344 6851h9M1362 6626h9M1352 6775h9M1320 6935h9M1290 6963h9M1325 6845h9M1281 6740h9M1337 6887h9M1304 6980h9M1282 6779h9M1318 6690h9M1355 6794h9M1332 6806h9M1316 6896h9M1328 6763h9M1324 6812h9M1318 6907h9M1294 6931h9M1287 7112h9M1363 6690h9M1321 6726h9M1353 6819h9M1293 6894h9M1322 6791h9M1326 6875h9M1302 6815h9M1322 6869h9M1336 6723h9M1368 6881h9M1311 6863h9M1343 6900h9M1319 6697h9M1309 7052h9M1293 6859h9M1308 6613h9M1304 6975h9M1299 6858h9M1317 6800h9M1291 6879h9M1302 6810h9M1313 6871h9M1321 6818h9M1321 6813h9M1308 6825h9M1346 6677h9M1324 6934h9M1326 6832h9M1318 6788h9M1332 6864h9M1315 6776h9M1322 6822h9M1323 6915h9M1300 6783h9M1343 6892h9M1290 6946h9M1322 6886h9M1317 6830h9M1296 6799h9M1308 6774h9M1313 6927h9M1353 6894h9M1332 6743h9M1373 6999h9M1307 6841h9M1316 6850h9M1333 6977h9M1271 6921h9M1345 6845h9M1351 6646h9M1330 6824h9M1304 6830h9M1329 6947h9M1346 6810h9M1337 6690h9M1325 6702h9M1311 6654h9M1300 6846h9M1331 6731h9M1355 6895h9M1337 6921h9M1328 6854h9M1315 6797h9M1305 6868h9M1312 6966h9M1357 6816h9M1377 6878h9M1310 6856h9M1260 6963h9M1342 6910h9M1276 6853h9M1371 6783h9M1345 6916h9M1336 6734h9M1288 6921h9M1301 6910h9M1314 6883h9M1320 6776h9M1301 6830h9M1325 6721h9M1321 6809h9M1312 6904h9M1311 6748h9M1346 6978h9M1315 6631h9M1344 6746h9M1365 6757h9M1322 6864h9M1300 6719h9M1311 6917h9M1314 6747h9M1369 6774h9M1302 6786h9M1309 6903h9M1295 6978h9M1362 6911h9M1321 6795h9M1280 6830h9M1313 6850h9M1274 6726h9M1252 6855h9M1357 6879h9M1347 6769h9M1297 6967h9M1274 6920h9M1272 6811h9M1374 6801h9M1270 6800h9M1282 6805h9M1328 6871h9M1299 6766h9M1342 6951h9M1370 6745h9M1345 6978h9M1279 6887h9M1282 6699h9M1336 6770h9M1336 6733h9M1345 6753h9M1338 6663h9M1308 6860h9M1315 6746h9M1348 6948h9M1315 6772h9M1253 7030h9M1330 6709h9M1311 6891h9M1313 6858h9M1322 6867h9M1305 6999h9M1304 6826h9M1299 6759h9M1276 6984h9M1331 6677h9M1333 6781h9M1315 6891h9M1342 6919h9M1350 6891h9M1276 6917h9M1254 6659h9M1327 6897h9M1336 6810h9M1377 6962h9M1306 6878h9M1374 6748h9M1299 6980h9M1296 6721h9M1280 6942h9M1306 6906h9M1266 6812h9M1306 6803h9M1370 6814h9M1300 6891h9M1321 6912h9M1291 6886h9M1360 6657h9M1353 6935h9M1347 6804h9M1338 6875h9M1319 6846h9M1286 6740h9M1277 6857h9M1353 6978h9M1327 6811h9M1344 6753h9M1300 6836h9M1325 6761h9M1339 6995h9M1327 6818h9M1301 6844h9M1287 6902h9M1240 6884h9M1343 6845h9M1347 6733h9M1310 6796h9M1332 6706h9M1318 6716h9M1347 6921h9M1323 6799h9M1326 6805h9M1297 6753h9M1312 6753h9M1313 6744h9M1310 6751h9M1292 6811h9M1322 6943h9M1411 6877h9M1297 6797h9M1341 6877h9M1333 6909h9M1286 6935h9M1288 6849h9M1298 6771h9M1315 6851h9M1278 6710h9M1284 7001h9M1297 6929h9M1278 7004h9M1246 7021h9M1245 7057h9M1227 7013h9M1268 7021h9M1272 7077h9M1314 7064h9M1280 6979h9M1254 7003h9M1304 7041h9M1223 7023h9M1241 7064h9M1268 7071h9M1267 6997h9M1324 7049h9M1258 7032h9M1246 6998h9M1290 7085h9M1249 7040h9M1297 7025h9M1281 7035h9M1222 7024h9M1330 6974h9M1270 7059h9M1208 7009h9M1312 7088h9M1193 7041h9M1289 7042h9M1266 7081h9M1328 7033h9M1262 7064h9M1253 7012h9M1243 7048h9M1240 6965h9M1230 7026h9M1271 6998h9M2157 6875h9M2203 6955h9M2181 6895h9M2205 6948h9M2131 6969h9M2275 6911h9M2123 7032h9M2101 7022h9M2196 6941h9M2200 6924h9M2208 7018h9M2294 6886h9M2232 6865h9M2242 7003h9M2219 6898h9M2303 6899h9M2261 6909h9M2139 6976h9M2073 7004h9M1984 7003h9M2142 6949h9M2149 7016h9M2049 7122h9M2199 6859h9M2138 6899h9M2253 6906h9M2074 6978h9M2118 6989h9M2237 6990h9M2247 7005h9M2080 6904h9M2140 7071h9M2141 6902h9M2260 6851h9M1988 7070h9M2343 6843h9M2053 7057h9M2055 7004h9M2043 6898h9M2246 6948h9M2241 6866h9M2128 6990h9M2021 6958h9M2271 6903h9M2176 6840h9M2309 7011h9M2237 6844h9M2197 6982h9M2053 7125h9M2402 6899h9M2065 6954h9M2271 6908h9M2171 6928h9M2189 6918h9M2069 7020h9M2051 6975h9M2157 6921h9M2178 6893h9M2051 6875h9M2242 6768h9M2193 6973h9M2063 6945h9M2035 7050h9M2237 6889h9M2312 6815h9M2110 6848h9M2231 6861h9M2187 6943h9M2080 6947h9M2019 6986h9M2151 7010h9M2363 6948h9M2054 6922h9M2156 6989h9M2258 6922h9M2236 6891h9M2218 6869h9M2159 6892h9M2176 6919h9M2297 6849h9M2253 6993h9M2194 6999h9M2267 6908h9M2269 7049h9M2128 7116h9M2184 7022h9M2051 7082h9M2186 6978h9M2419 6922h9M1961 7104h9M2315 6942h9M2183 6849h9M2061 6988h9M2017 6993h9M2256 6891h9M2411 6888h9M2290 6878h9M2178 6940h9M2368 6863h9M2313 6887h9M2165 7093h9M2106 6900h9M2144 7051h9M2146 6967h9M2177 6951h9M2226 6838h9M2017 7151h9M2211 6936h9M2163 6935h9M2014 7059h9M2288 6926h9M2140 7026h9M2161 6931h9M2243 6889h9M1992 6917h9M2328 6917h9M1952 6950h9M2191 6897h9M2265 6811h9M2075 6931h9M2116 6995h9M2282 7028h9M2255 6880h9M2022 7073h9M2128 6958h9M2288 6947h9M2198 7002h9M2168 6985h9M2135 6952h9M2091 6921h9M2298 6868h9M2137 6917h9M2244 6914h9M2122 7026h9M2344 6986h9M2295 6878h9M2155 6967h9M2044 6967h9M1952 7068h9M2152 7030h9M2218 6956h9M2126 7060h9M2371 6913h9M2393 6870h9M2170 6910h9M2138 7025h9M2117 6954h9M2256 6869h9M2038 7041h9M2121 6988h9M2218 6905h9M2097 7020h9M2065 6927h9M2263 6847h9M1986 7082h9M2331 6937h9M2179 6883h9M2281 7004h9M2206 7037h9M2055 7009h9M2439 6871h9M1994 7049h9M2249 6911h9M2053 7059h9M2168 7078h9M2308 6923h9M2051 6871h9M2078 6970h9M2144 6857h9M2007 7034h9M2311 6858h9M2081 6971h9M2178 6919h9M1923 7002h9M2108 7002h9M2162 6903h9M2340 6832h9M2287 6821h9M2224 6828h9M2198 6991h9M2326 6894h9M2098 7010h9M2273 6953h9M2174 7106h9M2143 6908h9M2236 6985h9M2227 7001h9M2288 6989h9M2148 6965h9M2185 6975h9M2219 7046h9M2256 7047h9M2125 6828h9M2233 6957h9M2230 6924h9M2006 7060h9M2237 6948h9M2162 6938h9M2138 6931h9M2143 6828h9M2065 7074h9M2169 6857h9M2128 7022h9M2020 6943h9M2277 6922h9M2201 6987h9M2057 7018h9M2184 6886h9M2037 7079h9M2099 7019h9M2206 6973h9M2018 7003h9M2219 7010h9M2072 7005h9M2125 6986h9M2157 7071h9M2222 6883h9M2100 6924h9M2200 6873h9M2108 6985h9M2374 6893h9M2260 6954h9M2082 6965h9M1995 6992h9M2082 6921h9M2087 6972h9M2023 7029h9M2012 6998h9M2045 7012h9M2046 6992h9M2023 6912h9M2044 6973h9M2094 6975h9M2056 6974h9M2053 7004h9M2076 7025h9M2055 7034h9M2031 6965h9M2074 6983h9M2034 6994h9M1996 6990h9M2068 6978h9M2028 7032h9M2020 7018h9M2005 7011h9M2047 6995h9M2022 6989h9M1985 6954h9M2063 6980h9M2055 6986h9M2052 6987h9M2077 7013h9M2053 7003h9M2077 6983h9M2072 7038h9M2010 7007h9M2065 6990h9M2127 6985h9M2051 6935h9M2061 7016h9M3069 5137h9M2944 5107h9M3054 5197h9M3050 5158h9M3038 5260h9M3011 5288h9M3004 5186h9M3040 5261h9M3057 5174h9M3006 5092h9M3051 5085h9M2983 5166h9M3145 5148h9M3004 5220h9M3053 5152h9M3010 5152h9M2966 5343h9M2976 5196h9M2985 5304h9M2993 5051h9M3001 5301h9M3085 5175h9M3074 5285h9M3002 5238h9M3083 5217h9M3015 5034h9M3053 5221h9M3029 5156h9M2992 5273h9M2983 5176h9M3008 5133h9M3004 5261h9M2986 5278h9M3076 5084h9M3018 5081h9M2976 5093h9M3080 5102h9M3085 5293h9M2987 5152h9M3040 5151h9M3020 5139h9M3042 5088h9M3026 5129h9M2997 5173h9M3129 5205h9M3050 5101h9M3012 5349h9M3924 4844h9M3924 5051h9M3895 5136h9M3891 5208h9M3911 4999h9M3902 5095h9M3878 4886h9M3895 5011h9M3884 5051h9M3879 4956h9M3887 5024h9M3925 5003h9M3911 5038h9M3903 5040h9M3972 5013h9M3931 5040h9M3959 4961h9M3907 5093h9M3889 5097h9M3923 4954h9M3895 4977h9M3897 4910h9M3883 5069h9M3939 4952h9M3904 4990h9M3923 4911h9M3933 5075h9M3909 5100h9M3913 4972h9M3885 4831h9M3861 4910h9M3919 5065h9M3844 5240h9M3845 5238h9M3871 5139h9M3840 5213h9M3866 5288h9M3864 5197h9M3868 5185h9M3859 5213h9M3855 5231h9M3857 5196h9M3873 5218h9M3880 5282h9M3857 5248h9M3847 5279h9M3860 5177h9M3867 5214h9M3898 5305h9M3837 5200h9M3830 5239h9M3849 5227h9M4951 5111h9M4524 5142h9M4727 5181h9M4883 5205h9M4870 5113h9M4698 5234h9M4883 5095h9M4735 5097h9M4860 5112h9M4753 5111h9M4680 5008h9M4864 5096h9M4870 5158h9M4860 5102h9M4811 5185h9M4869 5160h9M4879 5144h9M4689 5109h9M4735 5225h9M4857 5198h9M4736 5177h9M4801 5068h9M4761 5198h9M4984 5204h9M4631 5143h9M4739 5248h9M4890 5208h9M4818 5176h9M4877 4984h9M4851 5176h9M4666 5107h9M4788 5082h9M4817 5223h9M4774 5216h9M4772 5179h9M4884 5182h9M4811 5132h9M4742 5159h9M4910 5261h9M4832 5091h9M4782 5172h9M4741 5200h9M4888 5211h9M4827 5149h9M4827 5167h9M4933 5147h9M4764 5135h9M4783 5239h9M4735 5281h9M4734 5204h9M4947 5278h9M4717 5097h9M4740 5205h9M5081 5264h9M4789 5253h9M4652 5183h9M4867 5112h9M4877 5286h9M4821 5078h9M4700 5145h9M4868 5162h9M4858 5169h9M4604 5255h9M3064 6066h9M2992 6091h9M3099 5919h9M3064 5929h9M2909 6215h9M3006 6023h9M2973 6093h9M3019 6169h9M3005 6120h9M2990 5979h9M3126 6027h9M3073 6021h9M2998 6009h9M3085 5951h9M3047 5888h9M3013 6162h9M3061 5955h9M3065 5943h9M3087 6182h9M3023 6145h9M3026 5910h9M3061 6075h9M3037 6008h9M3029 6111h9M3095 6104h9M3042 6195h9M2963 6009h9M3049 6069h9M3011 6023h9M3047 6200h9M2970 6073h9M3009 5864h9M3065 5796h9M3116 6061h9M3094 5996h9M3126 6053h9M3097 5995h9M3083 6055h9M3069 6055h9M3032 6049h9M2975 5928h9M3044 5916h9M3061 5890h9M3071 6093h9M3079 6044h9M3060 6033h9M3065 6082h9M3942 5881h9M3914 5951h9M3939 5822h9M3947 5861h9M3932 6031h9M3908 5844h9M3893 5920h9M3936 5861h9M3916 5748h9M3918 5987h9M3886 6009h9M3908 5984h9M3900 5915h9M3897 5962h9M3885 5919h9M3920 5984h9M3951 5774h9M3911 5956h9M3892 6037h9M3929 5796h9M3881 6021h9M3896 5936h9M3945 5740h9M3902 5816h9M3935 5932h9M3896 5852h9M3942 5883h9M3926 5864h9M3908 5961h9M3934 5883h9M3915 5937h9M3940 6014h9M3887 6147h9M3925 5854h9M3915 5905h9M3899 5990h9M3919 5919h9M3874 6068h9M3941 5837h9M3927 5873h9M3899 5946h9M3876 5968h9M3861 6098h9M3818 6071h9M3828 6104h9M3835 6080h9M3844 6035h9M3838 6085h9M3828 6103h9M3819 6076h9M3848 6071h9M3800 6062h9M3810 6066h9M3852 6091h9M3828 6056h9M3861 6098h9M3806 6127h9M3825 6117h9M3796 6108h9M3829 6082h9M4878 5968h9M4736 6006h9M4647 6099h9M4930 5901h9M4931 6026h9M4602 6107h9M4626 5918h9M4822 5991h9M4966 5734h9M4871 5863h9M4798 6029h9M4848 6010h9M4948 5980h9M4656 5913h9M4690 5991h9M4898 5900h9M5049 5989h9M4800 6123h9M4746 6026h9M4912 5896h9M4814 5900h9M4809 6041h9M4882 5978h9M4674 6122h9M4950 5914h9M4668 5998h9M4810 5968h9M4723 6073h9M4692 5878h9M4826 6051h9M4783 6065h9M4772 6052h9M4838 6018h9M4834 6035h9M4933 5986h9M4857 5949h9M4585 6184h9M4710 6080h9M4638 6109h9M5047 5973h9M4592 6159h9M4852 5897h9M4833 5935h9M4801 5953h9M5017 6014h9M4817 6023h9M5029 5825h9M4872 5942h9M4887 5916h9M4908 5961h9M4709 5891h9M4936 5971h9M4754 6010h9M4770 5968h9M5009 5859h9M4659 5940h9M4926 6063h9M4669 6044h9M4930 5892h9M4717 6059h9M4904 5937h9M4845 5904h9M4815 5891h9M4722 6059h9M4728 5925h9M4791 5928h9M4883 5883h9M4848 5934h9M4848 5952h9M4837 6023h9M4647 6121h9M4794 6079h9M4874 5924h9M3037 6940h9M3097 6846h9M3073 6888h9M3043 6853h9M3045 6953h9M3039 6901h9M3041 6974h9M3077 6832h9M2990 6990h9M3012 6970h9M3017 6754h9M3045 7102h9M3048 6885h9M2971 6978h9M3083 6971h9M3099 6893h9M3031 6964h9M3111 7072h9M3057 6858h9M3009 7002h9M3050 7146h9M3040 6882h9M3045 6951h9M3063 6974h9M3102 6959h9M3027 7114h9M3063 6890h9M3004 6885h9M3015 6910h9M3049 6901h9M3033 6910h9M3051 6876h9M3031 6853h9M3022 6909h9M3027 6941h9M3068 6849h9M3011 6966h9M2983 6973h9M3018 7086h9M3069 6998h9M3006 6890h9M3026 6848h9M3024 6751h9M3091 7006h9M3029 6893h9M3022 6922h9M3051 6961h9M3022 6819h9M3033 7009h9M3029 6992h9M3041 6933h9M3025 6983h9M3075 6804h9M3010 6823h9M3023 7038h9M3079 6812h9M3043 6874h9M3076 6852h9M3055 6875h9M3018 6869h9M3105 6907h9M3051 6963h9M3039 6889h9M3051 6896h9M3059 6923h9M3050 6974h9M3024 6877h9M3069 7075h9M3090 6871h9M3056 6911h9M3062 7061h9M3018 6973h9M3021 6900h9M3037 6935h9M3087 6935h9M3045 7000h9M3022 6938h9M3048 6874h9M3030 6907h9M2962 6907h9M3013 6897h9M3100 6994h9M3069 6954h9M3011 7010h9M3060 6935h9M3044 6878h9M3049 6902h9M3104 7067h9M3080 6909h9M3011 6848h9M3084 6857h9M3066 6823h9M3026 6775h9M3056 6863h9M3037 6823h9M3099 6824h9M3053 6985h9M3040 6903h9M3006 7031h9M3042 6915h9M3055 6765h9M2967 6966h9M3025 6806h9M3139 6875h9M3037 6898h9M3062 6973h9M2990 6909h9M3048 7052h9M3052 6959h9M3033 6962h9M3055 6977h9M3113 6936h9M3064 6867h9M3135 7023h9M3024 6891h9M3051 6847h9M3011 6905h9M3130 7083h9M3027 6871h9M3093 6963h9M2997 6946h9M3047 6980h9M3004 6883h9M3033 6988h9M3095 6795h9M3065 6921h9M3028 6886h9M3093 7008h9M3080 6860h9M3021 6830h9M3058 6763h9M3019 6878h9M3074 6973h9M3056 6797h9M3051 7024h9M3001 6922h9M3033 6937h9M3044 6860h9M3015 6805h9M3096 6892h9M3046 6913h9M3041 6924h9M3010 6885h9M3087 6975h9M3042 6915h9M3037 6994h9M3000 6850h9M3052 7025h9M3021 6922h9M3061 6923h9M3092 6875h9M3042 6790h9M3061 6913h9M3064 6925h9M3130 7028h9M3075 6985h9M3051 6882h9M3042 6858h9M3010 6927h9M2989 6886h9M3135 6955h9M3076 7003h9M3040 6893h9M3103 6962h9M3070 6958h9M3031 6827h9M3065 7015h9M3048 6923h9M2993 6983h9M3096 6861h9M3030 6976h9M3061 6938h9M3085 6913h9M3042 6936h9M3077 6869h9M3047 7054h9M3038 7002h9M3043 6979h9M3003 6974h9M2978 6891h9M3055 6882h9M3041 6854h9M3003 6843h9M3008 6843h9M3019 6917h9M3042 6916h9M3056 6855h9M3049 6976h9M3067 6969h9M3075 6912h9M3068 7015h9M3094 6969h9M3040 6932h9M2993 7032h9M2984 6911h9M3079 7015h9M3023 6931h9M3042 7013h9M3015 6954h9M3901 6936h9M3923 6830h9M3928 6949h9M3958 6794h9M3857 7062h9M3875 6834h9M3935 6895h9M3860 6960h9M3924 6776h9M3884 6779h9M3907 6816h9M3904 6804h9M3942 6759h9M3888 6901h9M3948 6765h9M3916 6845h9M3889 6922h9M3883 6958h9M3864 6867h9M3891 7000h9M3919 6874h9M3953 6827h9M3864 6932h9M3925 6761h9M3933 6799h9M3926 6852h9M3937 6809h9M3914 6836h9M3939 6733h9M3911 6887h9M3870 6996h9M3883 7033h9M3895 6915h9M3881 6796h9M3936 6879h9M3921 6882h9M3935 6914h9M3906 6977h9M3889 7052h9M3922 6941h9M3935 6786h9M3939 6852h9M3934 6813h9M3921 6815h9M3920 6891h9M3950 6807h9M3879 6839h9M3885 6906h9M3910 6932h9M3913 6753h9M3934 6796h9M3918 6861h9M3904 6865h9M3945 6810h9M3899 6913h9M3906 6867h9M3871 6896h9M3918 6718h9M3896 6818h9M3911 6990h9M3925 6790h9M3879 7028h9M3932 6803h9M3924 6852h9M3951 6983h9M3930 6955h9M3894 6944h9M3938 6618h9M3907 6873h9M3946 6615h9M3874 6770h9M3939 6775h9M3928 6799h9M3936 6958h9M3926 6779h9M3901 6859h9M3932 6862h9M3916 6876h9M3908 6818h9M3958 6741h9M3952 6803h9M3896 6937h9M3928 6875h9M3913 6955h9M3897 6992h9M3938 6840h9M3913 6901h9M3922 6835h9M3894 6777h9M3890 6805h9M3946 6699h9M3916 6740h9M3936 6671h9M3907 6753h9M3861 7010h9M3901 6902h9M3944 6769h9M3855 6863h9M3934 6841h9M3963 6664h9M3950 6779h9M3960 6751h9M3976 6693h9M3921 6831h9M3890 6995h9M3892 6714h9M3972 6840h9M3912 6859h9M3962 6746h9M3914 6845h9M3896 7027h9M3963 6594h9M3937 6736h9M3931 6958h9M3897 6906h9M3884 6765h9M3873 6987h9M3950 6865h9M3852 7033h9M3923 6936h9M3912 6764h9M3910 6955h9M3948 6836h9M3949 6874h9M3885 7016h9M3910 6850h9M3927 6908h9M3906 6924h9M3977 6814h9M3951 6674h9M3948 6721h9M3942 6823h9M3862 6910h9M3886 6939h9M3943 6954h9M3956 6931h9M3909 6815h9M3957 6647h9M3920 6905h9M3927 6867h9M3895 6842h9M3898 6836h9M3961 6760h9M3957 6824h9M3905 6816h9M3908 6974h9M3939 6898h9M3901 6842h9M3918 6948h9M3895 6810h9M3886 6994h9M3870 7136h9M3893 6952h9M3861 6954h9M3929 6739h9M3917 6912h9M3900 6870h9M3918 6913h9M3927 6696h9M3967 6716h9M3911 6850h9M3905 6841h9M3901 6797h9M3924 6927h9M3885 6827h9M3911 6909h9M3889 6796h9M3921 6828h9M3883 6861h9M3916 6707h9M3922 6851h9M3943 6873h9M3907 6956h9M3836 7059h9M3913 6811h9M3899 6923h9M3948 6978h9M3882 6819h9M3904 6757h9M3949 6706h9M3882 6959h9M3902 6837h9M3891 6899h9M3912 6910h9M3897 6739h9M3936 6894h9M3898 6987h9M3818 7036h9M3858 7018h9M3865 7027h9M3837 6982h9M3848 7039h9M3825 6994h9M3806 7016h9M3799 7044h9M3851 7001h9M3862 6981h9M3862 6936h9M3854 6994h9M3841 7005h9M3876 6979h9M3829 6987h9M3871 7025h9M3840 6979h9M3879 7021h9M3888 7067h9M3862 6993h9M3834 7002h9M3843 6979h9M3843 7056h9M3839 7010h9M3846 6942h9M3840 6966h9M3814 6977h9M3906 7050h9M3883 6992h9M3853 7011h9M4839 6754h9M4668 6984h9M4526 6969h9M4700 6957h9M4807 6928h9M4886 6998h9M4894 6906h9M4700 6959h9M4762 6893h9M4822 6884h9M4855 6910h9M4750 7001h9M4872 6826h9M4743 6991h9M4836 6865h9M4910 6806h9M4695 6942h9M4762 6942h9M4663 6987h9M4686 6998h9M4787 6810h9M4597 6873h9M4682 6928h9M4869 6891h9M4880 6993h9M4910 7077h9M4766 6917h9M4755 6822h9M4642 7035h9M4921 6802h9M4706 6936h9M4864 6960h9M4933 6794h9M4846 6915h9M4853 6859h9M4933 6929h9M4803 6845h9M4670 6959h9M4646 6886h9M4907 6946h9M4787 6847h9M4750 6840h9M4743 7106h9M4843 6888h9M4689 6873h9M4579 6896h9M4857 7006h9M4740 6983h9M4832 6925h9M4803 6873h9M4533 6877h9M4746 6894h9M4949 6871h9M4685 6991h9M4759 6887h9M4655 6904h9M4814 6945h9M4784 7052h9M4767 7008h9M5023 6784h9M4797 6939h9M4855 6836h9M4834 6870h9M4840 6899h9M4856 6792h9M4722 6885h9M4973 6879h9M4668 6958h9M4724 6905h9M4704 6914h9M4840 6873h9M4631 6868h9M4679 6977h9M4592 6983h9M4861 6955h9M4781 6888h9M4797 6825h9M4792 6912h9M4706 7010h9M4835 6934h9M4884 6991h9M4928 6934h9M4720 6925h9M4922 6923h9M4753 7021h9M4796 7044h9M4820 6966h9M4645 7004h9M4949 6969h9M4932 6800h9M4882 6874h9M5074 6945h9M4619 7022h9M4827 6803h9M4937 6863h9M4773 6999h9M4711 6905h9M4758 6958h9M4720 6967h9M4879 6775h9M4670 7063h9M4849 6824h9M4576 6997h9M4747 6983h9M4715 7044h9M4906 6939h9M4710 7072h9M4558 6996h9M4835 6931h9M4814 6945h9M4787 6928h9M4873 6974h9M4902 6947h9M4628 6957h9M4580 6899h9M4807 6926h9M4609 6912h9M4947 6934h9M4602 6990h9M4850 6880h9M4768 6846h9M4852 6903h9M4754 6948h9M4933 6885h9M4946 6882h9M4788 6831h9M4873 6904h9M4667 6973h9M4729 6906h9M4741 6841h9M4678 6903h9M4742 6914h9M4666 6866h9M4892 6955h9M4588 6890h9M4796 6843h9M4917 6909h9M4784 6964h9M4814 6978h9M4912 6939h9M4664 6923h9M4816 6982h9M4775 6954h9M4570 6939h9M4740 6895h9M4658 6916h9M4752 6869h9M4892 6842h9M4759 6999h9M4751 6957h9M4686 6954h9M4600 6943h9M5011 6773h9M4699 6916h9M4823 6946h9M4804 6939h9M4988 6889h9M4967 6940h9M4769 6963h9M4830 6864h9M4805 6920h9M4611 6918h9M5001 6832h9M4696 6914h9M4814 6882h9M4803 6756h9M4807 6896h9M4747 6931h9M4780 6944h9M4846 6859h9M4737 6845h9M4671 7025h9M4780 6924h9M4800 6842h9M4637 6947h9M4832 6952h9M4696 6888h9M4662 6844h9M4776 6897h9M4640 6959h9M4780 6863h9M4863 6949h9M4844 6829h9M4936 6870h9M4809 6869h9M4716 6913h9M4791 6750h9M4802 6834h9M4673 6950h9M4909 6860h9M4624 7035h9M4665 6975h9M4795 6911h9M4734 6942h9M4790 6900h9M4561 6905h9M4613 7025h9M4611 6985h9M4776 6966h9M4757 6914h9M4754 6942h9M4872 6931h9M4654 6961h9M4760 6937h9M4758 6946h9M4902 6963h9M4948 6949h9M4819 6972h9M4873 6900h9M4884 6944h9M4927 6705h9M4767 6960h9M4768 6873h9M4959 7008h9M4679 6931h9M4642 7034h9M4779 6873h9M4785 6881h9M4831 7001h9M4912 6991h9M4649 6976h9M4742 6880h9M4555 7045h9M4811 6946h9M4818 6897h9M4873 6787h9M4846 6825h9M4734 6920h9M4930 6831h9M4768 6910h9M4744 6851h9M4651 6875h9M4771 6971h9M4800 6876h9M4870 6925h9" stroke="#111" stroke-width="9" stroke-opacity="0.36" fill="none"/>
</g>
<rect x="0" y="0" width="520" height="1.5" fill="#000"/>
<rect x="0" y="0" width="1.6" height="740" fill="#000"/>
<rect x="518.3" y="0" width="1.7" height="740" fill="#000"/>
<rect x="0" y="738.1" width="520" height="1.9" fill="#000"/>
</svg></body></html>
